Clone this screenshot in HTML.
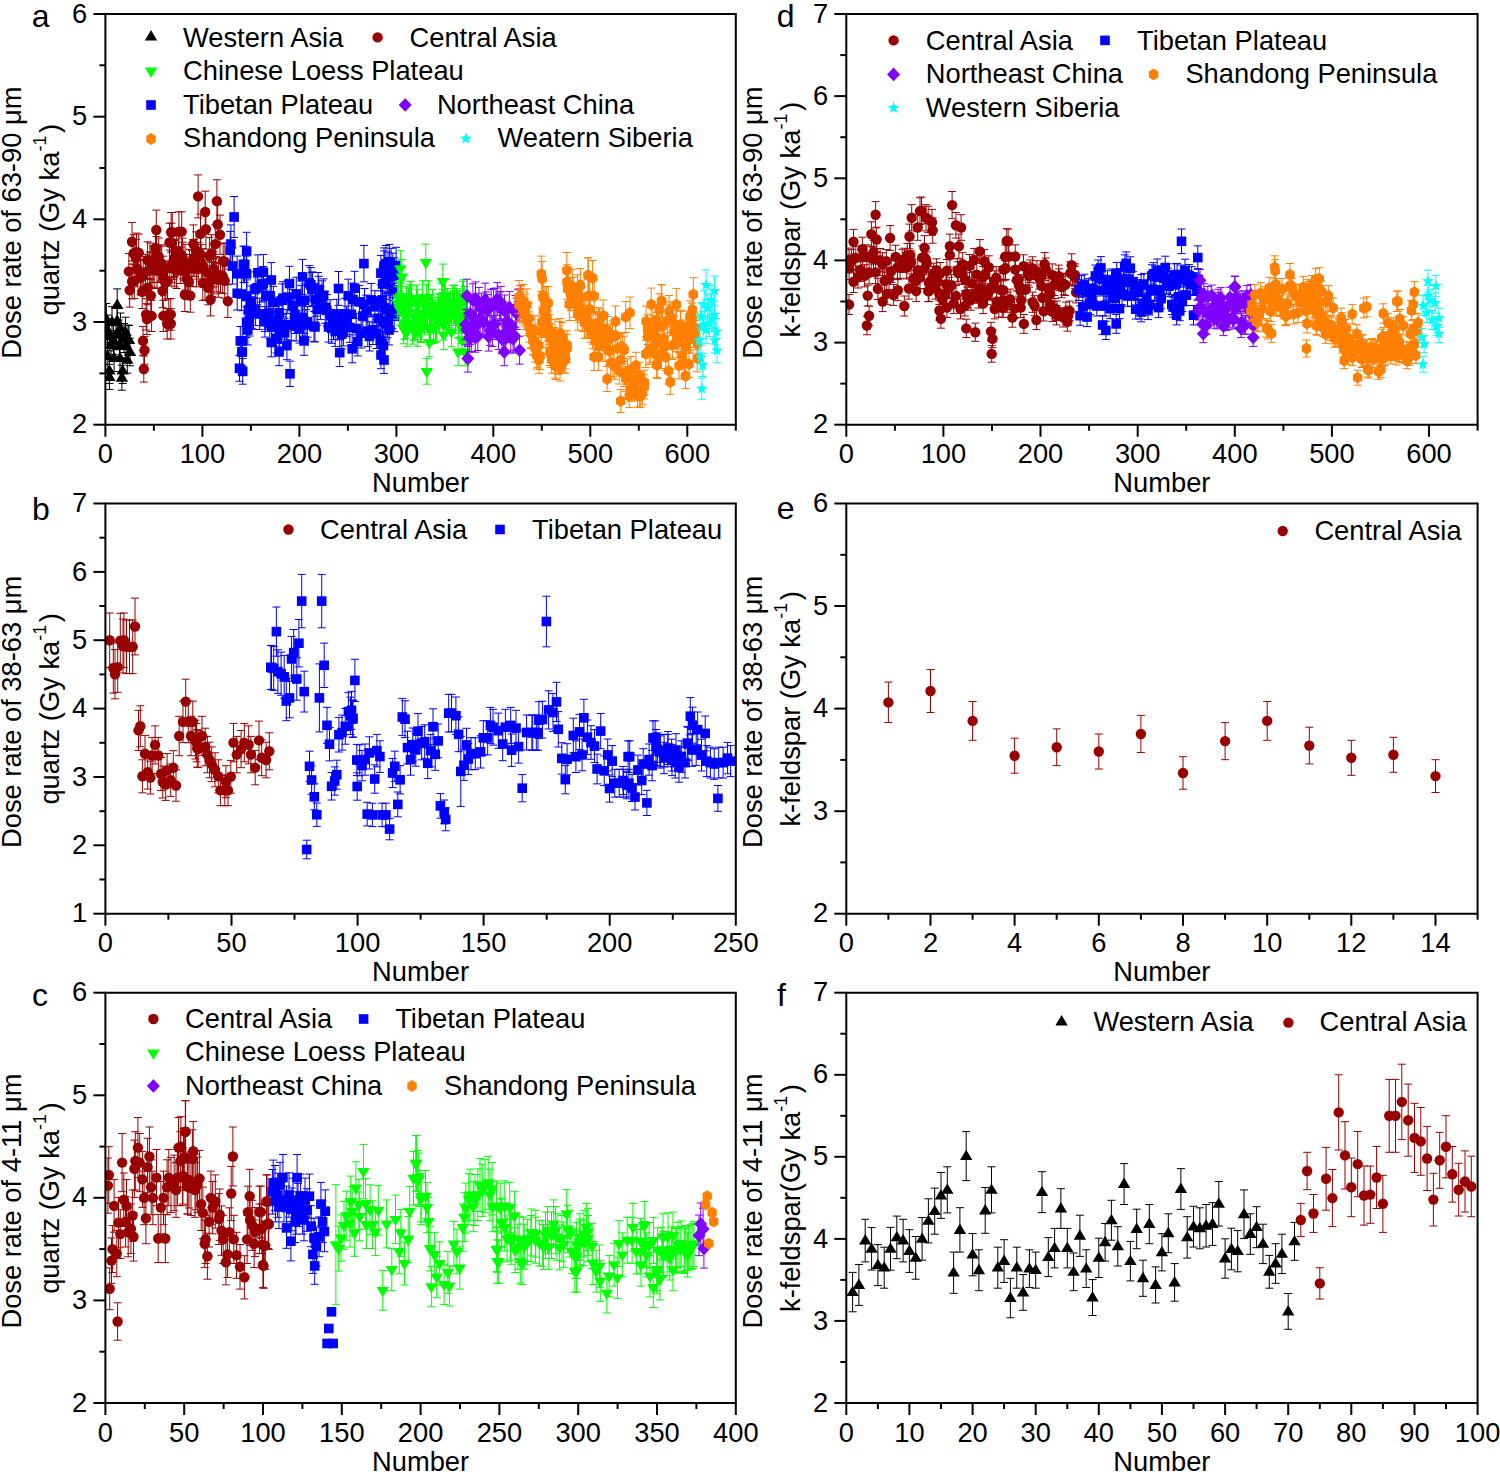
<!DOCTYPE html>
<html><head><meta charset="utf-8"><style>html,body{margin:0;padding:0;background:#fff;}svg{display:block;}</style></head>
<body>
<svg width="1500" height="1472" viewBox="0 0 1500 1472" font-family="Liberation Sans, sans-serif">
<rect width="1500" height="1472" fill="#fff"/>
<defs><clipPath id="ca"><rect x="105.4" y="14.0" width="630.4" height="410.7"/></clipPath><clipPath id="cb"><rect x="105.4" y="503.5" width="630.4" height="410.2"/></clipPath><clipPath id="cc"><rect x="105.4" y="992.7" width="630.4" height="410.3"/></clipPath><clipPath id="cd"><rect x="846.3" y="14.0" width="631.3" height="410.7"/></clipPath><clipPath id="ce"><rect x="846.3" y="503.5" width="631.3" height="410.2"/></clipPath><clipPath id="cf"><rect x="846.3" y="992.7" width="631.3" height="410.3"/></clipPath></defs>
<g clip-path="url(#ca)">
<path d="M117.2 288.9V321.1M113.2 288.9h8.0M113.2 321.1h8.0M106.3 303.5V334.5M102.3 303.5h8.0M102.3 334.5h8.0M117.2 305.2V336.0M113.2 305.2h8.0M113.2 336.0h8.0M109.4 321.7V350.9M105.4 321.7h8.0M105.4 350.9h8.0M118.8 320.0V349.4M114.8 320.0h8.0M114.8 349.4h8.0M128.1 325.0V353.8M124.1 325.0h8.0M124.1 353.8h8.0M114.1 344.6V371.6M110.1 344.6h8.0M110.1 371.6h8.0M127.3 346.3V373.1M123.3 346.3h8.0M123.3 373.1h8.0M109.4 357.7V383.5M105.4 357.7h8.0M105.4 383.5h8.0M122.7 357.7V383.5M118.7 357.7h8.0M118.7 383.5h8.0M109.4 364.3V389.5M105.4 364.3h8.0M105.4 389.5h8.0M121.9 365.2V390.2M117.9 365.2h8.0M117.9 390.2h8.0M107.5 315.1V344.9M103.5 315.1h8.0M103.5 344.9h8.0M112.0 306.7V337.3M108.0 306.7h8.0M108.0 337.3h8.0M113.5 325.6V354.4M109.5 325.6h8.0M109.5 354.4h8.0M116.0 320.3V349.7M112.0 320.3h8.0M112.0 349.7h8.0M120.5 313.0V343.0M116.5 313.0h8.0M116.5 343.0h8.0M124.0 323.5V352.5M120.0 323.5h8.0M120.0 352.5h8.0M125.5 317.2V346.8M121.5 317.2h8.0M121.5 346.8h8.0M111.0 330.8V359.2M107.0 330.8h8.0M107.0 359.2h8.0M119.5 330.8V359.2M115.5 330.8h8.0M115.5 359.2h8.0M126.0 331.9V360.1M122.0 331.9h8.0M122.0 360.1h8.0M107.8 342.4V369.6M103.8 342.4h8.0M103.8 369.6h8.0M120.0 344.5V371.5M116.0 344.5h8.0M116.0 371.5h8.0M130.0 338.2V365.8M126.0 338.2h8.0M126.0 365.8h8.0M129.0 325.6V354.4M125.0 325.6h8.0M125.0 354.4h8.0" stroke="#000000" stroke-width="1.0" fill="none"/>
<path d="M117.2 298.6L123.4 309.0L111.0 309.0Z" fill="#000000"/><path d="M106.3 312.6L112.5 323.0L100.1 323.0Z" fill="#000000"/><path d="M117.2 314.2L123.4 324.6L111.0 324.6Z" fill="#000000"/><path d="M109.4 329.9L115.6 340.3L103.2 340.3Z" fill="#000000"/><path d="M118.8 328.3L125.0 338.7L112.6 338.7Z" fill="#000000"/><path d="M128.1 333.0L134.3 343.4L121.9 343.4Z" fill="#000000"/><path d="M114.1 351.7L120.3 362.1L107.9 362.1Z" fill="#000000"/><path d="M127.3 353.3L133.5 363.7L121.1 363.7Z" fill="#000000"/><path d="M109.4 364.2L115.6 374.6L103.2 374.6Z" fill="#000000"/><path d="M122.7 364.2L128.9 374.6L116.5 374.6Z" fill="#000000"/><path d="M109.4 370.5L115.6 380.9L103.2 380.9Z" fill="#000000"/><path d="M121.9 371.3L128.1 381.7L115.7 381.7Z" fill="#000000"/><path d="M107.5 323.6L113.7 334.0L101.3 334.0Z" fill="#000000"/><path d="M112.0 315.6L118.2 326.0L105.8 326.0Z" fill="#000000"/><path d="M113.5 333.6L119.7 344.0L107.3 344.0Z" fill="#000000"/><path d="M116.0 328.6L122.2 339.0L109.8 339.0Z" fill="#000000"/><path d="M120.5 321.6L126.7 332.0L114.3 332.0Z" fill="#000000"/><path d="M124.0 331.6L130.2 342.0L117.8 342.0Z" fill="#000000"/><path d="M125.5 325.6L131.7 336.0L119.3 336.0Z" fill="#000000"/><path d="M111.0 338.6L117.2 349.0L104.8 349.0Z" fill="#000000"/><path d="M119.5 338.6L125.7 349.0L113.3 349.0Z" fill="#000000"/><path d="M126.0 339.6L132.2 350.0L119.8 350.0Z" fill="#000000"/><path d="M107.8 349.6L114.0 360.0L101.6 360.0Z" fill="#000000"/><path d="M120.0 351.6L126.2 362.0L113.8 362.0Z" fill="#000000"/><path d="M130.0 345.6L136.2 356.0L123.8 356.0Z" fill="#000000"/><path d="M129.0 333.6L135.2 344.0L122.8 344.0Z" fill="#000000"/>
<path d="M128.9 253.6V289.2M124.9 253.6h8.0M124.9 289.2h8.0M129.7 273.3V307.1M125.7 273.3h8.0M125.7 307.1h8.0M132.0 222.4V261.0M128.0 222.4h8.0M128.0 261.0h8.0M132.1 264.2V298.9M128.1 264.2h8.0M128.1 298.9h8.0M133.6 234.7V272.1M129.6 234.7h8.0M129.6 272.1h8.0M134.3 264.0V298.6M130.3 264.0h8.0M130.3 298.6h8.0M135.9 239.6V276.6M131.9 239.6h8.0M131.9 276.6h8.0M136.5 233.1V270.7M132.5 233.1h8.0M132.5 270.7h8.0M137.5 251.1V286.9M133.5 251.1h8.0M133.5 286.9h8.0M138.7 234.1V271.5M134.7 234.1h8.0M134.7 271.5h8.0M140.6 259.4V294.4M136.6 259.4h8.0M136.6 294.4h8.0M140.9 260.1V295.1M136.9 260.1h8.0M136.9 295.1h8.0M142.2 274.9V308.5M138.2 274.9h8.0M138.2 308.5h8.0M143.0 326.5V355.3M139.0 326.5h8.0M139.0 355.3h8.0M143.2 256.6V292.0M139.2 256.6h8.0M139.2 292.0h8.0M143.8 356.1V382.1M139.8 356.1h8.0M139.8 382.1h8.0M144.5 336.4V364.2M140.5 336.4h8.0M140.5 364.2h8.0M145.4 254.3V289.9M141.4 254.3h8.0M141.4 289.9h8.0M146.1 298.7V330.1M142.1 298.7h8.0M142.1 330.1h8.0M146.9 303.7V334.5M142.9 303.7h8.0M142.9 334.5h8.0M147.6 241.8V278.5M143.6 241.8h8.0M143.6 278.5h8.0M147.7 270.8V304.8M143.7 270.8h8.0M143.7 304.8h8.0M149.8 252.1V287.9M145.8 252.1h8.0M145.8 287.9h8.0M150.0 243.0V279.6M146.0 243.0h8.0M146.0 279.6h8.0M150.8 279.0V312.2M146.8 279.0h8.0M146.8 312.2h8.0M151.6 300.3V331.5M147.6 300.3h8.0M147.6 331.5h8.0M152.0 252.1V287.9M148.0 252.1h8.0M148.0 287.9h8.0M153.1 246.2V282.6M149.1 246.2h8.0M149.1 282.6h8.0M154.2 251.3V287.1M150.2 251.3h8.0M150.2 287.1h8.0M155.5 229.0V267.0M151.5 229.0h8.0M151.5 267.0h8.0M156.3 210.1V249.9M152.3 210.1h8.0M152.3 249.9h8.0M156.4 236.6V273.8M152.4 236.6h8.0M152.4 273.8h8.0M157.0 252.7V288.5M153.0 252.7h8.0M153.0 288.5h8.0M158.6 238.1V275.1M154.6 238.1h8.0M154.6 275.1h8.0M158.6 246.0V282.4M154.6 246.0h8.0M154.6 282.4h8.0M160.8 244.8V281.2M156.8 244.8h8.0M156.8 281.2h8.0M161.7 246.2V282.6M157.7 246.2h8.0M157.7 282.6h8.0M162.5 274.1V307.7M158.5 274.1h8.0M158.5 307.7h8.0M163.0 256.2V291.6M159.0 256.2h8.0M159.0 291.6h8.0M163.3 300.3V331.5M159.3 300.3h8.0M159.3 331.5h8.0M164.1 260.9V295.9M160.1 260.9h8.0M160.1 295.9h8.0M165.2 265.6V300.1M161.2 265.6h8.0M161.2 300.1h8.0M167.2 308.6V339.0M163.2 308.6h8.0M163.2 339.0h8.0M167.5 264.0V298.7M163.5 264.0h8.0M163.5 298.7h8.0M168.8 298.7V330.1M164.8 298.7h8.0M164.8 330.1h8.0M169.5 223.2V261.8M165.5 223.2h8.0M165.5 261.8h8.0M169.7 250.0V285.9M165.7 250.0h8.0M165.7 285.9h8.0M170.8 298.7V330.1M166.8 298.7h8.0M166.8 330.1h8.0M170.8 308.6V339.0M166.8 308.6h8.0M166.8 339.0h8.0M171.1 212.5V252.1M167.1 212.5h8.0M167.1 252.1h8.0M171.6 223.2V261.8M167.6 223.2h8.0M167.6 261.8h8.0M171.9 246.5V282.8M167.9 246.5h8.0M167.9 282.8h8.0M172.3 212.5V252.1M168.3 212.5h8.0M168.3 252.1h8.0M173.4 243.0V279.6M169.4 243.0h8.0M169.4 279.6h8.0M174.1 240.4V277.3M170.1 240.4h8.0M170.1 277.3h8.0M174.7 239.6V276.6M170.7 239.6h8.0M170.7 276.6h8.0M174.7 251.1V286.9M170.7 251.1h8.0M170.7 286.9h8.0M176.3 232.4V270.0M172.3 232.4h8.0M172.3 270.0h8.0M176.6 252.7V288.5M172.6 252.7h8.0M172.6 288.5h8.0M178.5 232.1V269.7M174.5 232.1h8.0M174.5 269.7h8.0M178.9 211.8V251.4M174.9 211.8h8.0M174.9 251.4h8.0M180.7 247.2V283.5M176.7 247.2h8.0M176.7 283.5h8.0M181.7 211.8V251.4M177.7 211.8h8.0M177.7 251.4h8.0M182.5 238.1V275.1M178.5 238.1h8.0M178.5 275.1h8.0M182.9 242.2V278.9M178.9 242.2h8.0M178.9 278.9h8.0M184.8 278.1V311.5M180.8 278.1h8.0M180.8 311.5h8.0M185.1 244.3V280.8M181.1 244.3h8.0M181.1 280.8h8.0M185.6 254.4V290.0M181.6 254.4h8.0M181.6 290.0h8.0M187.3 262.0V296.8M183.3 262.0h8.0M183.3 296.8h8.0M188.8 265.0V299.6M184.8 265.0h8.0M184.8 299.6h8.0M189.5 249.3V285.4M185.5 249.3h8.0M185.5 285.4h8.0M190.3 279.0V312.2M186.3 279.0h8.0M186.3 312.2h8.0M191.8 250.5V286.5M187.8 250.5h8.0M187.8 286.5h8.0M193.4 224.9V263.3M189.4 224.9h8.0M189.4 263.3h8.0M193.4 239.6V276.6M189.4 239.6h8.0M189.4 276.6h8.0M194.0 239.3V276.3M190.0 239.3h8.0M190.0 276.3h8.0M196.2 231.9V269.6M192.2 231.9h8.0M192.2 269.6h8.0M196.6 251.1V286.9M192.6 251.1h8.0M192.6 286.9h8.0M198.1 174.9V217.9M194.1 174.9h8.0M194.1 217.9h8.0M198.4 242.4V279.1M194.4 242.4h8.0M194.4 279.1h8.0M200.5 214.2V253.6M196.5 214.2h8.0M196.5 253.6h8.0M200.6 235.9V273.2M196.6 235.9h8.0M196.6 273.2h8.0M201.3 244.6V281.0M197.3 244.6h8.0M197.3 281.0h8.0M202.8 265.9V300.3M198.8 265.9h8.0M198.8 300.3h8.0M202.8 248.8V284.9M198.8 248.8h8.0M198.8 284.9h8.0M205.0 265.7V300.2M201.0 265.7h8.0M201.0 300.2h8.0M205.2 191.2V232.8M201.2 191.2h8.0M201.2 232.8h8.0M205.9 209.3V249.1M201.9 209.3h8.0M201.9 249.1h8.0M207.2 254.5V290.0M203.2 254.5h8.0M203.2 290.0h8.0M208.3 270.8V304.8M204.3 270.8h8.0M204.3 304.8h8.0M209.4 237.4V274.6M205.4 237.4h8.0M205.4 274.6h8.0M210.6 283.1V315.9M206.6 283.1h8.0M206.6 315.9h8.0M211.4 234.7V272.1M207.4 234.7h8.0M207.4 272.1h8.0M211.6 262.1V296.9M207.6 262.1h8.0M207.6 296.9h8.0M212.2 261.8V296.6M208.2 261.8h8.0M208.2 296.6h8.0M213.8 251.1V286.9M209.8 251.1h8.0M209.8 286.9h8.0M213.8 258.7V293.9M209.8 258.7h8.0M209.8 293.9h8.0M215.3 224.9V263.3M211.3 224.9h8.0M211.3 263.3h8.0M216.1 256.6V291.9M212.1 256.6h8.0M212.1 291.9h8.0M216.9 179.8V222.4M212.9 179.8h8.0M212.9 222.4h8.0M217.7 204.4V244.6M213.7 204.4h8.0M213.7 244.6h8.0M218.3 262.5V297.3M214.3 262.5h8.0M214.3 297.3h8.0M220.0 215.1V254.3M216.0 215.1h8.0M216.0 254.3h8.0M220.5 257.5V292.8M216.5 257.5h8.0M216.5 292.8h8.0M222.7 258.5V293.6M218.7 258.5h8.0M218.7 293.6h8.0M223.1 243.0V279.6M219.1 243.0h8.0M219.1 279.6h8.0M224.7 263.5V298.1M220.7 263.5h8.0M220.7 298.1h8.0M224.9 243.4V280.0M220.9 243.4h8.0M220.9 280.0h8.0M227.8 284.8V317.4M223.8 284.8h8.0M223.8 317.4h8.0" stroke="#990000" stroke-width="1.0" fill="none"/>
<circle cx="128.9" cy="271.4" r="5.2" fill="#990000"/><circle cx="129.7" cy="290.2" r="5.2" fill="#990000"/><circle cx="132.0" cy="241.7" r="5.2" fill="#990000"/><circle cx="132.1" cy="281.5" r="5.2" fill="#990000"/><circle cx="133.6" cy="253.4" r="5.2" fill="#990000"/><circle cx="134.3" cy="281.3" r="5.2" fill="#990000"/><circle cx="135.9" cy="258.1" r="5.2" fill="#990000"/><circle cx="136.5" cy="251.9" r="5.2" fill="#990000"/><circle cx="137.5" cy="269.0" r="5.2" fill="#990000"/><circle cx="138.7" cy="252.8" r="5.2" fill="#990000"/><circle cx="140.6" cy="276.9" r="5.2" fill="#990000"/><circle cx="140.9" cy="277.6" r="5.2" fill="#990000"/><circle cx="142.2" cy="291.7" r="5.2" fill="#990000"/><circle cx="143.0" cy="340.9" r="5.2" fill="#990000"/><circle cx="143.2" cy="274.3" r="5.2" fill="#990000"/><circle cx="143.8" cy="369.1" r="5.2" fill="#990000"/><circle cx="144.5" cy="350.3" r="5.2" fill="#990000"/><circle cx="145.4" cy="272.1" r="5.2" fill="#990000"/><circle cx="146.1" cy="314.4" r="5.2" fill="#990000"/><circle cx="146.9" cy="319.1" r="5.2" fill="#990000"/><circle cx="147.6" cy="260.2" r="5.2" fill="#990000"/><circle cx="147.7" cy="287.8" r="5.2" fill="#990000"/><circle cx="149.8" cy="270.0" r="5.2" fill="#990000"/><circle cx="150.0" cy="261.3" r="5.2" fill="#990000"/><circle cx="150.8" cy="295.6" r="5.2" fill="#990000"/><circle cx="151.6" cy="315.9" r="5.2" fill="#990000"/><circle cx="152.0" cy="270.0" r="5.2" fill="#990000"/><circle cx="153.1" cy="264.4" r="5.2" fill="#990000"/><circle cx="154.2" cy="269.2" r="5.2" fill="#990000"/><circle cx="155.5" cy="248.0" r="5.2" fill="#990000"/><circle cx="156.3" cy="230.0" r="5.2" fill="#990000"/><circle cx="156.4" cy="255.2" r="5.2" fill="#990000"/><circle cx="157.0" cy="270.6" r="5.2" fill="#990000"/><circle cx="158.6" cy="256.6" r="5.2" fill="#990000"/><circle cx="158.6" cy="264.2" r="5.2" fill="#990000"/><circle cx="160.8" cy="263.0" r="5.2" fill="#990000"/><circle cx="161.7" cy="264.4" r="5.2" fill="#990000"/><circle cx="162.5" cy="290.9" r="5.2" fill="#990000"/><circle cx="163.0" cy="273.9" r="5.2" fill="#990000"/><circle cx="163.3" cy="315.9" r="5.2" fill="#990000"/><circle cx="164.1" cy="278.4" r="5.2" fill="#990000"/><circle cx="165.2" cy="282.8" r="5.2" fill="#990000"/><circle cx="167.2" cy="323.8" r="5.2" fill="#990000"/><circle cx="167.5" cy="281.3" r="5.2" fill="#990000"/><circle cx="168.8" cy="314.4" r="5.2" fill="#990000"/><circle cx="169.5" cy="242.5" r="5.2" fill="#990000"/><circle cx="169.7" cy="268.0" r="5.2" fill="#990000"/><circle cx="170.8" cy="314.4" r="5.2" fill="#990000"/><circle cx="170.8" cy="323.8" r="5.2" fill="#990000"/><circle cx="171.1" cy="232.3" r="5.2" fill="#990000"/><circle cx="171.6" cy="242.5" r="5.2" fill="#990000"/><circle cx="171.9" cy="264.7" r="5.2" fill="#990000"/><circle cx="172.3" cy="232.3" r="5.2" fill="#990000"/><circle cx="173.4" cy="261.3" r="5.2" fill="#990000"/><circle cx="174.1" cy="258.9" r="5.2" fill="#990000"/><circle cx="174.7" cy="258.1" r="5.2" fill="#990000"/><circle cx="174.7" cy="269.0" r="5.2" fill="#990000"/><circle cx="176.3" cy="251.2" r="5.2" fill="#990000"/><circle cx="176.6" cy="270.6" r="5.2" fill="#990000"/><circle cx="178.5" cy="250.9" r="5.2" fill="#990000"/><circle cx="178.9" cy="231.6" r="5.2" fill="#990000"/><circle cx="180.7" cy="265.3" r="5.2" fill="#990000"/><circle cx="181.7" cy="231.6" r="5.2" fill="#990000"/><circle cx="182.5" cy="256.6" r="5.2" fill="#990000"/><circle cx="182.9" cy="260.5" r="5.2" fill="#990000"/><circle cx="184.8" cy="294.8" r="5.2" fill="#990000"/><circle cx="185.1" cy="262.5" r="5.2" fill="#990000"/><circle cx="185.6" cy="272.2" r="5.2" fill="#990000"/><circle cx="187.3" cy="279.4" r="5.2" fill="#990000"/><circle cx="188.8" cy="282.3" r="5.2" fill="#990000"/><circle cx="189.5" cy="267.3" r="5.2" fill="#990000"/><circle cx="190.3" cy="295.6" r="5.2" fill="#990000"/><circle cx="191.8" cy="268.5" r="5.2" fill="#990000"/><circle cx="193.4" cy="244.1" r="5.2" fill="#990000"/><circle cx="193.4" cy="258.1" r="5.2" fill="#990000"/><circle cx="194.0" cy="257.8" r="5.2" fill="#990000"/><circle cx="196.2" cy="250.8" r="5.2" fill="#990000"/><circle cx="196.6" cy="269.0" r="5.2" fill="#990000"/><circle cx="198.1" cy="196.4" r="5.2" fill="#990000"/><circle cx="198.4" cy="260.7" r="5.2" fill="#990000"/><circle cx="200.5" cy="233.9" r="5.2" fill="#990000"/><circle cx="200.6" cy="254.5" r="5.2" fill="#990000"/><circle cx="201.3" cy="262.8" r="5.2" fill="#990000"/><circle cx="202.8" cy="283.1" r="5.2" fill="#990000"/><circle cx="202.8" cy="266.8" r="5.2" fill="#990000"/><circle cx="205.0" cy="283.0" r="5.2" fill="#990000"/><circle cx="205.2" cy="212.0" r="5.2" fill="#990000"/><circle cx="205.9" cy="229.2" r="5.2" fill="#990000"/><circle cx="207.2" cy="272.3" r="5.2" fill="#990000"/><circle cx="208.3" cy="287.8" r="5.2" fill="#990000"/><circle cx="209.4" cy="256.0" r="5.2" fill="#990000"/><circle cx="210.6" cy="299.5" r="5.2" fill="#990000"/><circle cx="211.4" cy="253.4" r="5.2" fill="#990000"/><circle cx="211.6" cy="279.5" r="5.2" fill="#990000"/><circle cx="212.2" cy="279.2" r="5.2" fill="#990000"/><circle cx="213.8" cy="269.0" r="5.2" fill="#990000"/><circle cx="213.8" cy="276.3" r="5.2" fill="#990000"/><circle cx="215.3" cy="244.1" r="5.2" fill="#990000"/><circle cx="216.1" cy="274.2" r="5.2" fill="#990000"/><circle cx="216.9" cy="201.1" r="5.2" fill="#990000"/><circle cx="217.7" cy="224.5" r="5.2" fill="#990000"/><circle cx="218.3" cy="279.9" r="5.2" fill="#990000"/><circle cx="220.0" cy="234.7" r="5.2" fill="#990000"/><circle cx="220.5" cy="275.2" r="5.2" fill="#990000"/><circle cx="222.7" cy="276.1" r="5.2" fill="#990000"/><circle cx="223.1" cy="261.3" r="5.2" fill="#990000"/><circle cx="224.7" cy="280.8" r="5.2" fill="#990000"/><circle cx="224.9" cy="261.7" r="5.2" fill="#990000"/><circle cx="227.8" cy="301.1" r="5.2" fill="#990000"/>
<path d="M230.2 231.4V269.2M226.2 231.4h8.0M226.2 269.2h8.0M230.9 224.9V263.3M226.9 224.9h8.0M226.9 263.3h8.0M232.5 247.9V284.1M228.5 247.9h8.0M228.5 284.1h8.0M234.1 196.5V237.5M230.1 196.5h8.0M230.1 237.5h8.0M237.2 256.1V291.5M233.2 256.1h8.0M233.2 291.5h8.0M237.2 276.6V310.0M233.2 276.6h8.0M233.2 310.0h8.0M239.5 355.3V381.3M235.5 355.3h8.0M235.5 381.3h8.0M240.3 326.5V355.3M236.3 326.5h8.0M236.3 355.3h8.0M241.6 277.3V310.7M237.6 277.3h8.0M237.6 310.7h8.0M241.9 338.1V365.7M237.9 338.1h8.0M237.9 365.7h8.0M242.3 326.6V355.4M238.3 326.6h8.0M238.3 355.4h8.0M242.3 338.2V365.8M238.3 338.2h8.0M238.3 365.8h8.0M242.7 358.6V384.2M238.7 358.6h8.0M238.7 384.2h8.0M243.4 246.2V282.6M239.4 246.2h8.0M239.4 282.6h8.0M244.7 246.2V282.6M240.7 246.2h8.0M240.7 282.6h8.0M246.6 232.3V269.9M242.6 232.3h8.0M242.6 269.9h8.0M246.6 256.1V291.5M242.6 256.1h8.0M242.6 291.5h8.0M246.6 306.9V337.5M242.6 306.9h8.0M242.6 337.5h8.0M246.8 279.9V313.0M242.8 279.9h8.0M242.8 313.0h8.0M247.8 315.1V344.9M243.8 315.1h8.0M243.8 344.9h8.0M248.5 294.0V325.8M244.5 294.0h8.0M244.5 325.8h8.0M249.4 305.2V336.0M245.4 305.2h8.0M245.4 336.0h8.0M250.2 286.0V318.6M246.2 286.0h8.0M246.2 318.6h8.0M251.8 296.8V328.3M247.8 296.8h8.0M247.8 328.3h8.0M253.5 297.8V329.3M249.5 297.8h8.0M249.5 329.3h8.0M255.2 271.9V305.8M251.2 271.9h8.0M251.2 305.8h8.0M255.6 293.8V325.6M251.6 293.8h8.0M251.6 325.6h8.0M257.2 270.8V304.8M253.2 270.8h8.0M253.2 304.8h8.0M257.9 254.9V290.4M253.9 254.9h8.0M253.9 290.4h8.0M259.6 298.2V329.6M255.6 298.2h8.0M255.6 329.6h8.0M261.4 267.8V302.1M257.4 267.8h8.0M257.4 302.1h8.0M263.1 266.5V300.9M259.1 266.5h8.0M259.1 300.9h8.0M263.4 254.4V290.0M259.4 254.4h8.0M259.4 290.0h8.0M264.9 306.5V337.1M260.9 306.5h8.0M260.9 337.1h8.0M265.0 300.4V331.6M261.0 300.4h8.0M261.0 331.6h8.0M266.6 278.9V312.1M262.6 278.9h8.0M262.6 312.1h8.0M268.4 298.1V329.5M264.4 298.1h8.0M264.4 329.5h8.0M269.7 308.6V339.0M265.7 308.6h8.0M265.7 339.0h8.0M270.1 279.2V312.4M266.1 279.2h8.0M266.1 312.4h8.0M271.3 262.6V297.4M267.3 262.6h8.0M267.3 297.4h8.0M271.3 328.2V356.8M267.3 328.2h8.0M267.3 356.8h8.0M271.8 311.9V342.0M267.8 311.9h8.0M267.8 342.0h8.0M273.4 286.3V318.8M269.4 286.3h8.0M269.4 318.8h8.0M275.0 311.7V341.8M271.0 311.7h8.0M271.0 341.8h8.0M276.6 323.9V352.9M272.6 323.9h8.0M272.6 352.9h8.0M278.2 305.8V336.5M274.2 305.8h8.0M274.2 336.5h8.0M279.1 297.0V328.6M275.1 297.0h8.0M275.1 328.6h8.0M279.1 338.1V365.7M275.1 338.1h8.0M275.1 365.7h8.0M279.8 317.3V346.9M275.8 317.3h8.0M275.8 346.9h8.0M281.4 313.6V343.5M277.4 313.6h8.0M277.4 343.5h8.0M282.2 283.9V316.7M278.2 283.9h8.0M278.2 316.7h8.0M283.0 281.7V314.7M279.0 281.7h8.0M279.0 314.7h8.0M284.6 318.2V347.7M280.6 318.2h8.0M280.6 347.7h8.0M286.2 309.4V339.7M282.2 309.4h8.0M282.2 339.7h8.0M286.9 331.5V359.7M282.9 331.5h8.0M282.9 359.7h8.0M287.8 280.5V313.6M283.8 280.5h8.0M283.8 313.6h8.0M289.5 266.3V300.8M285.5 266.3h8.0M285.5 300.8h8.0M290.0 361.1V386.5M286.0 361.1h8.0M286.0 386.5h8.0M291.2 310.1V340.4M287.2 310.1h8.0M287.2 340.4h8.0M292.8 289.5V321.8M288.8 289.5h8.0M288.8 321.8h8.0M294.5 302.4V333.4M290.5 302.4h8.0M290.5 333.4h8.0M294.7 298.7V330.1M290.7 298.7h8.0M290.7 330.1h8.0M296.2 310.8V341.0M292.2 310.8h8.0M292.2 341.0h8.0M296.3 277.3V310.7M292.3 277.3h8.0M292.3 310.7h8.0M297.8 302.2V333.2M293.8 302.2h8.0M293.8 333.2h8.0M299.5 313.1V343.1M295.5 313.1h8.0M295.5 343.1h8.0M301.2 285.4V318.1M297.2 285.4h8.0M297.2 318.1h8.0M302.5 259.4V294.4M298.5 259.4h8.0M298.5 294.4h8.0M302.5 305.2V336.0M298.5 305.2h8.0M298.5 336.0h8.0M302.8 302.5V333.5M298.8 302.5h8.0M298.8 333.5h8.0M304.1 326.5V355.3M300.1 326.5h8.0M300.1 355.3h8.0M304.4 283.8V316.6M300.4 283.8h8.0M300.4 316.6h8.0M306.0 309.6V339.9M302.0 309.6h8.0M302.0 339.9h8.0M307.6 306.6V337.2M303.6 306.6h8.0M303.6 337.2h8.0M309.2 265.6V300.1M305.2 265.6h8.0M305.2 300.1h8.0M310.8 267.6V301.9M306.8 267.6h8.0M306.8 301.9h8.0M311.9 272.5V306.3M307.9 272.5h8.0M307.9 306.3h8.0M312.4 271.9V305.8M308.4 271.9h8.0M308.4 305.8h8.0M314.0 311.2V341.4M310.0 311.2h8.0M310.0 341.4h8.0M315.0 311.8V342.0M311.0 311.8h8.0M311.0 342.0h8.0M315.6 283.4V316.2M311.6 283.4h8.0M311.6 316.2h8.0M317.2 293.4V325.3M313.2 293.4h8.0M313.2 325.3h8.0M318.1 272.5V306.3M314.1 272.5h8.0M314.1 306.3h8.0M318.8 276.3V309.8M314.8 276.3h8.0M314.8 309.8h8.0M320.4 287.1V319.6M316.4 287.1h8.0M316.4 319.6h8.0M322.0 280.8V313.8M318.0 280.8h8.0M318.0 313.8h8.0M323.6 278.9V312.2M319.6 278.9h8.0M319.6 312.2h8.0M325.2 291.2V323.3M321.2 291.2h8.0M321.2 323.3h8.0M326.8 294.5V326.3M322.8 294.5h8.0M322.8 326.3h8.0M328.5 312.0V342.1M324.5 312.0h8.0M324.5 342.1h8.0M330.2 299.8V331.1M326.2 299.8h8.0M326.2 331.1h8.0M331.8 313.3V343.3M327.8 313.3h8.0M327.8 343.3h8.0M333.5 309.4V339.7M329.5 309.4h8.0M329.5 339.7h8.0M335.2 316.7V346.4M331.2 316.7h8.0M331.2 346.4h8.0M336.8 299.3V330.6M332.8 299.3h8.0M332.8 330.6h8.0M338.5 271.5V305.4M334.5 271.5h8.0M334.5 305.4h8.0M339.7 338.9V366.5M335.7 338.9h8.0M335.7 366.5h8.0M340.2 309.6V339.9M336.2 309.6h8.0M336.2 339.9h8.0M341.8 319.5V348.9M337.8 319.5h8.0M337.8 348.9h8.0M343.4 316.3V346.0M339.4 316.3h8.0M339.4 346.0h8.0M345.0 298.3V329.7M341.0 298.3h8.0M341.0 329.7h8.0M346.6 306.1V336.7M342.6 306.1h8.0M342.6 336.7h8.0M348.2 279.2V312.4M344.2 279.2h8.0M344.2 312.4h8.0M349.8 312.4V342.4M345.8 312.4h8.0M345.8 342.4h8.0M351.4 298.6V329.9M347.4 298.6h8.0M347.4 329.9h8.0M352.2 334.8V362.8M348.2 334.8h8.0M348.2 362.8h8.0M353.0 283.1V316.0M349.0 283.1h8.0M349.0 316.0h8.0M354.6 271.3V305.2M350.6 271.3h8.0M350.6 305.2h8.0M356.2 313.6V343.5M352.2 313.6h8.0M352.2 343.5h8.0M357.8 327.2V355.9M353.8 327.2h8.0M353.8 355.9h8.0M359.5 285.6V318.2M355.5 285.6h8.0M355.5 318.2h8.0M361.2 318.5V348.0M357.2 318.5h8.0M357.2 348.0h8.0M362.8 300.5V331.7M358.8 300.5h8.0M358.8 331.7h8.0M363.9 245.4V281.8M359.9 245.4h8.0M359.9 281.8h8.0M364.5 288.5V320.8M360.5 288.5h8.0M360.5 320.8h8.0M366.2 295.1V326.8M362.2 295.1h8.0M362.2 326.8h8.0M367.8 317.0V346.6M363.8 317.0h8.0M363.8 346.6h8.0M369.5 321.8V351.0M365.5 321.8h8.0M365.5 351.0h8.0M371.2 283.5V316.3M367.2 283.5h8.0M367.2 316.3h8.0M372.9 314.7V344.5M368.9 314.7h8.0M368.9 344.5h8.0M374.8 290.7V322.9M370.8 290.7h8.0M370.8 322.9h8.0M376.6 319.0V348.5M372.6 319.0h8.0M372.6 348.5h8.0M378.4 302.8V333.7M374.4 302.8h8.0M374.4 333.7h8.0M380.2 325.8V354.6M376.2 325.8h8.0M376.2 354.6h8.0M380.8 284.7V317.4M376.8 284.7h8.0M376.8 317.4h8.0M380.9 255.4V290.8M376.9 255.4h8.0M376.9 290.8h8.0M381.0 341.3V368.7M377.0 341.3h8.0M377.0 368.7h8.0M382.0 283.6V316.4M378.0 283.6h8.0M378.0 316.4h8.0M382.1 330.0V358.4M378.1 330.0h8.0M378.1 358.4h8.0M382.5 306.4V337.0M378.5 306.4h8.0M378.5 337.0h8.0M382.6 266.8V301.2M378.6 266.8h8.0M378.6 301.2h8.0M383.4 331.5V359.7M379.4 331.5h8.0M379.4 359.7h8.0M384.0 247.9V284.1M380.0 247.9h8.0M380.0 284.1h8.0M384.0 346.6V373.4M380.0 346.6h8.0M380.0 373.4h8.0M384.2 291.8V323.9M380.2 291.8h8.0M380.2 323.9h8.0M384.2 250.9V286.8M380.2 250.9h8.0M380.2 286.8h8.0M385.8 308.8V339.2M381.8 308.8h8.0M381.8 339.2h8.0M385.9 245.5V281.9M381.9 245.5h8.0M381.9 281.9h8.0M386.0 264.7V299.3M382.0 264.7h8.0M382.0 299.3h8.0M386.6 293.8V325.6M382.6 293.8h8.0M382.6 325.6h8.0M387.5 307.1V337.7M383.5 307.1h8.0M383.5 337.7h8.0M387.6 257.6V292.8M383.6 257.6h8.0M383.6 292.8h8.0M388.0 252.1V287.9M384.0 252.1h8.0M384.0 287.9h8.0M389.0 315.1V344.9M385.0 315.1h8.0M385.0 344.9h8.0M389.2 293.5V325.4M385.2 293.5h8.0M385.2 325.4h8.0M389.4 244.4V280.9M385.4 244.4h8.0M385.4 280.9h8.0M390.8 295.7V327.3M386.8 295.7h8.0M386.8 327.3h8.0M391.0 258.4V293.6M387.0 258.4h8.0M387.0 293.6h8.0M391.1 248.3V284.4M387.1 248.3h8.0M387.1 284.4h8.0M392.5 297.3V328.8M388.5 297.3h8.0M388.5 328.8h8.0M392.8 253.1V288.8M388.8 253.1h8.0M388.8 288.8h8.0M393.0 273.1V306.9M389.0 273.1h8.0M389.0 306.9h8.0M394.2 300.5V331.7M390.2 300.5h8.0M390.2 331.7h8.0M394.4 257.8V293.0M390.4 257.8h8.0M390.4 293.0h8.0M396.1 247.3V283.5M392.1 247.3h8.0M392.1 283.5h8.0" stroke="#0000FF" stroke-width="1.0" fill="none"/>
<rect x="225.4" y="245.5" width="9.6" height="9.6" fill="#0000FF"/><rect x="226.1" y="239.3" width="9.6" height="9.6" fill="#0000FF"/><rect x="227.7" y="261.2" width="9.6" height="9.6" fill="#0000FF"/><rect x="229.3" y="212.2" width="9.6" height="9.6" fill="#0000FF"/><rect x="232.4" y="269.0" width="9.6" height="9.6" fill="#0000FF"/><rect x="232.4" y="288.5" width="9.6" height="9.6" fill="#0000FF"/><rect x="234.7" y="363.5" width="9.6" height="9.6" fill="#0000FF"/><rect x="235.5" y="336.1" width="9.6" height="9.6" fill="#0000FF"/><rect x="236.8" y="289.2" width="9.6" height="9.6" fill="#0000FF"/><rect x="237.1" y="347.1" width="9.6" height="9.6" fill="#0000FF"/><rect x="237.5" y="336.2" width="9.6" height="9.6" fill="#0000FF"/><rect x="237.5" y="347.2" width="9.6" height="9.6" fill="#0000FF"/><rect x="237.9" y="366.6" width="9.6" height="9.6" fill="#0000FF"/><rect x="238.6" y="259.6" width="9.6" height="9.6" fill="#0000FF"/><rect x="239.9" y="259.6" width="9.6" height="9.6" fill="#0000FF"/><rect x="241.8" y="246.3" width="9.6" height="9.6" fill="#0000FF"/><rect x="241.8" y="269.0" width="9.6" height="9.6" fill="#0000FF"/><rect x="241.8" y="317.4" width="9.6" height="9.6" fill="#0000FF"/><rect x="242.0" y="291.7" width="9.6" height="9.6" fill="#0000FF"/><rect x="243.0" y="325.2" width="9.6" height="9.6" fill="#0000FF"/><rect x="243.7" y="305.1" width="9.6" height="9.6" fill="#0000FF"/><rect x="244.6" y="315.8" width="9.6" height="9.6" fill="#0000FF"/><rect x="245.4" y="297.5" width="9.6" height="9.6" fill="#0000FF"/><rect x="247.0" y="307.8" width="9.6" height="9.6" fill="#0000FF"/><rect x="248.7" y="308.7" width="9.6" height="9.6" fill="#0000FF"/><rect x="250.4" y="284.1" width="9.6" height="9.6" fill="#0000FF"/><rect x="250.8" y="304.9" width="9.6" height="9.6" fill="#0000FF"/><rect x="252.4" y="283.0" width="9.6" height="9.6" fill="#0000FF"/><rect x="253.1" y="267.9" width="9.6" height="9.6" fill="#0000FF"/><rect x="254.8" y="309.1" width="9.6" height="9.6" fill="#0000FF"/><rect x="256.6" y="280.2" width="9.6" height="9.6" fill="#0000FF"/><rect x="258.3" y="278.9" width="9.6" height="9.6" fill="#0000FF"/><rect x="258.6" y="267.4" width="9.6" height="9.6" fill="#0000FF"/><rect x="260.1" y="317.0" width="9.6" height="9.6" fill="#0000FF"/><rect x="260.2" y="311.2" width="9.6" height="9.6" fill="#0000FF"/><rect x="261.8" y="290.7" width="9.6" height="9.6" fill="#0000FF"/><rect x="263.6" y="309.0" width="9.6" height="9.6" fill="#0000FF"/><rect x="264.9" y="319.0" width="9.6" height="9.6" fill="#0000FF"/><rect x="265.3" y="291.0" width="9.6" height="9.6" fill="#0000FF"/><rect x="266.5" y="275.2" width="9.6" height="9.6" fill="#0000FF"/><rect x="266.5" y="337.7" width="9.6" height="9.6" fill="#0000FF"/><rect x="267.0" y="322.2" width="9.6" height="9.6" fill="#0000FF"/><rect x="268.6" y="297.7" width="9.6" height="9.6" fill="#0000FF"/><rect x="270.2" y="321.9" width="9.6" height="9.6" fill="#0000FF"/><rect x="271.8" y="333.6" width="9.6" height="9.6" fill="#0000FF"/><rect x="273.4" y="316.4" width="9.6" height="9.6" fill="#0000FF"/><rect x="274.3" y="308.0" width="9.6" height="9.6" fill="#0000FF"/><rect x="274.3" y="347.1" width="9.6" height="9.6" fill="#0000FF"/><rect x="275.0" y="327.3" width="9.6" height="9.6" fill="#0000FF"/><rect x="276.6" y="323.8" width="9.6" height="9.6" fill="#0000FF"/><rect x="277.4" y="295.5" width="9.6" height="9.6" fill="#0000FF"/><rect x="278.2" y="293.4" width="9.6" height="9.6" fill="#0000FF"/><rect x="279.8" y="328.1" width="9.6" height="9.6" fill="#0000FF"/><rect x="281.4" y="319.8" width="9.6" height="9.6" fill="#0000FF"/><rect x="282.1" y="340.8" width="9.6" height="9.6" fill="#0000FF"/><rect x="283.0" y="292.3" width="9.6" height="9.6" fill="#0000FF"/><rect x="284.7" y="278.8" width="9.6" height="9.6" fill="#0000FF"/><rect x="285.2" y="369.0" width="9.6" height="9.6" fill="#0000FF"/><rect x="286.4" y="320.5" width="9.6" height="9.6" fill="#0000FF"/><rect x="288.0" y="300.8" width="9.6" height="9.6" fill="#0000FF"/><rect x="289.7" y="313.1" width="9.6" height="9.6" fill="#0000FF"/><rect x="289.9" y="309.6" width="9.6" height="9.6" fill="#0000FF"/><rect x="291.4" y="321.1" width="9.6" height="9.6" fill="#0000FF"/><rect x="291.5" y="289.2" width="9.6" height="9.6" fill="#0000FF"/><rect x="293.0" y="312.9" width="9.6" height="9.6" fill="#0000FF"/><rect x="294.7" y="323.3" width="9.6" height="9.6" fill="#0000FF"/><rect x="296.4" y="296.9" width="9.6" height="9.6" fill="#0000FF"/><rect x="297.7" y="272.1" width="9.6" height="9.6" fill="#0000FF"/><rect x="297.7" y="315.8" width="9.6" height="9.6" fill="#0000FF"/><rect x="298.0" y="313.2" width="9.6" height="9.6" fill="#0000FF"/><rect x="299.3" y="336.1" width="9.6" height="9.6" fill="#0000FF"/><rect x="299.6" y="295.4" width="9.6" height="9.6" fill="#0000FF"/><rect x="301.2" y="320.0" width="9.6" height="9.6" fill="#0000FF"/><rect x="302.8" y="317.1" width="9.6" height="9.6" fill="#0000FF"/><rect x="304.4" y="278.1" width="9.6" height="9.6" fill="#0000FF"/><rect x="306.0" y="280.0" width="9.6" height="9.6" fill="#0000FF"/><rect x="307.1" y="284.6" width="9.6" height="9.6" fill="#0000FF"/><rect x="307.6" y="284.0" width="9.6" height="9.6" fill="#0000FF"/><rect x="309.2" y="321.5" width="9.6" height="9.6" fill="#0000FF"/><rect x="310.2" y="322.1" width="9.6" height="9.6" fill="#0000FF"/><rect x="310.8" y="295.0" width="9.6" height="9.6" fill="#0000FF"/><rect x="312.4" y="304.5" width="9.6" height="9.6" fill="#0000FF"/><rect x="313.3" y="284.6" width="9.6" height="9.6" fill="#0000FF"/><rect x="314.0" y="288.3" width="9.6" height="9.6" fill="#0000FF"/><rect x="315.6" y="298.6" width="9.6" height="9.6" fill="#0000FF"/><rect x="317.2" y="292.5" width="9.6" height="9.6" fill="#0000FF"/><rect x="318.8" y="290.7" width="9.6" height="9.6" fill="#0000FF"/><rect x="320.4" y="302.5" width="9.6" height="9.6" fill="#0000FF"/><rect x="322.0" y="305.6" width="9.6" height="9.6" fill="#0000FF"/><rect x="323.7" y="322.2" width="9.6" height="9.6" fill="#0000FF"/><rect x="325.4" y="310.7" width="9.6" height="9.6" fill="#0000FF"/><rect x="327.0" y="323.5" width="9.6" height="9.6" fill="#0000FF"/><rect x="328.7" y="319.7" width="9.6" height="9.6" fill="#0000FF"/><rect x="330.4" y="326.7" width="9.6" height="9.6" fill="#0000FF"/><rect x="332.0" y="310.1" width="9.6" height="9.6" fill="#0000FF"/><rect x="333.7" y="283.7" width="9.6" height="9.6" fill="#0000FF"/><rect x="334.9" y="347.9" width="9.6" height="9.6" fill="#0000FF"/><rect x="335.4" y="320.0" width="9.6" height="9.6" fill="#0000FF"/><rect x="337.0" y="329.4" width="9.6" height="9.6" fill="#0000FF"/><rect x="338.6" y="326.3" width="9.6" height="9.6" fill="#0000FF"/><rect x="340.2" y="309.2" width="9.6" height="9.6" fill="#0000FF"/><rect x="341.8" y="316.6" width="9.6" height="9.6" fill="#0000FF"/><rect x="343.4" y="291.0" width="9.6" height="9.6" fill="#0000FF"/><rect x="345.0" y="322.6" width="9.6" height="9.6" fill="#0000FF"/><rect x="346.6" y="309.5" width="9.6" height="9.6" fill="#0000FF"/><rect x="347.4" y="344.0" width="9.6" height="9.6" fill="#0000FF"/><rect x="348.2" y="294.7" width="9.6" height="9.6" fill="#0000FF"/><rect x="349.8" y="283.4" width="9.6" height="9.6" fill="#0000FF"/><rect x="351.4" y="323.8" width="9.6" height="9.6" fill="#0000FF"/><rect x="353.0" y="336.8" width="9.6" height="9.6" fill="#0000FF"/><rect x="354.7" y="297.1" width="9.6" height="9.6" fill="#0000FF"/><rect x="356.4" y="328.4" width="9.6" height="9.6" fill="#0000FF"/><rect x="358.0" y="311.3" width="9.6" height="9.6" fill="#0000FF"/><rect x="359.1" y="258.8" width="9.6" height="9.6" fill="#0000FF"/><rect x="359.7" y="299.8" width="9.6" height="9.6" fill="#0000FF"/><rect x="361.4" y="306.1" width="9.6" height="9.6" fill="#0000FF"/><rect x="363.0" y="327.0" width="9.6" height="9.6" fill="#0000FF"/><rect x="364.7" y="331.6" width="9.6" height="9.6" fill="#0000FF"/><rect x="366.4" y="295.1" width="9.6" height="9.6" fill="#0000FF"/><rect x="368.1" y="324.8" width="9.6" height="9.6" fill="#0000FF"/><rect x="369.9" y="302.0" width="9.6" height="9.6" fill="#0000FF"/><rect x="371.8" y="328.9" width="9.6" height="9.6" fill="#0000FF"/><rect x="373.6" y="313.4" width="9.6" height="9.6" fill="#0000FF"/><rect x="375.4" y="335.4" width="9.6" height="9.6" fill="#0000FF"/><rect x="376.0" y="296.3" width="9.6" height="9.6" fill="#0000FF"/><rect x="376.1" y="268.3" width="9.6" height="9.6" fill="#0000FF"/><rect x="376.2" y="350.2" width="9.6" height="9.6" fill="#0000FF"/><rect x="377.2" y="295.2" width="9.6" height="9.6" fill="#0000FF"/><rect x="377.3" y="339.4" width="9.6" height="9.6" fill="#0000FF"/><rect x="377.7" y="316.9" width="9.6" height="9.6" fill="#0000FF"/><rect x="377.8" y="279.2" width="9.6" height="9.6" fill="#0000FF"/><rect x="378.6" y="340.8" width="9.6" height="9.6" fill="#0000FF"/><rect x="379.2" y="261.2" width="9.6" height="9.6" fill="#0000FF"/><rect x="379.2" y="355.2" width="9.6" height="9.6" fill="#0000FF"/><rect x="379.4" y="303.0" width="9.6" height="9.6" fill="#0000FF"/><rect x="379.4" y="264.0" width="9.6" height="9.6" fill="#0000FF"/><rect x="381.0" y="319.2" width="9.6" height="9.6" fill="#0000FF"/><rect x="381.1" y="258.9" width="9.6" height="9.6" fill="#0000FF"/><rect x="381.2" y="277.2" width="9.6" height="9.6" fill="#0000FF"/><rect x="381.8" y="304.9" width="9.6" height="9.6" fill="#0000FF"/><rect x="382.7" y="317.6" width="9.6" height="9.6" fill="#0000FF"/><rect x="382.8" y="270.4" width="9.6" height="9.6" fill="#0000FF"/><rect x="383.2" y="265.2" width="9.6" height="9.6" fill="#0000FF"/><rect x="384.2" y="325.2" width="9.6" height="9.6" fill="#0000FF"/><rect x="384.4" y="304.6" width="9.6" height="9.6" fill="#0000FF"/><rect x="384.6" y="257.9" width="9.6" height="9.6" fill="#0000FF"/><rect x="386.0" y="306.7" width="9.6" height="9.6" fill="#0000FF"/><rect x="386.2" y="271.2" width="9.6" height="9.6" fill="#0000FF"/><rect x="386.2" y="261.5" width="9.6" height="9.6" fill="#0000FF"/><rect x="387.7" y="308.2" width="9.6" height="9.6" fill="#0000FF"/><rect x="387.9" y="266.2" width="9.6" height="9.6" fill="#0000FF"/><rect x="388.2" y="285.2" width="9.6" height="9.6" fill="#0000FF"/><rect x="389.4" y="311.3" width="9.6" height="9.6" fill="#0000FF"/><rect x="389.6" y="270.6" width="9.6" height="9.6" fill="#0000FF"/><rect x="391.3" y="260.6" width="9.6" height="9.6" fill="#0000FF"/>
<path d="M397.5 286.7V319.2M393.5 286.7h8.0M393.5 319.2h8.0M398.5 281.4V314.4M394.5 281.4h8.0M394.5 314.4h8.0M399.5 293.1V325.0M395.5 293.1h8.0M395.5 325.0h8.0M400.4 250.8V286.6M396.4 250.8h8.0M396.4 286.6h8.0M400.5 283.5V316.3M396.5 283.5h8.0M396.5 316.3h8.0M401.5 280.0V313.1M397.5 280.0h8.0M397.5 313.1h8.0M402.0 259.5V294.5M398.0 259.5h8.0M398.0 294.5h8.0M402.5 293.3V325.2M398.5 293.3h8.0M398.5 325.2h8.0M403.5 313.9V343.8M399.5 313.9h8.0M399.5 343.8h8.0M404.5 309.2V339.6M400.5 309.2h8.0M400.5 339.6h8.0M405.5 307.8V338.3M401.5 307.8h8.0M401.5 338.3h8.0M406.5 286.2V318.7M402.5 286.2h8.0M402.5 318.7h8.0M407.2 316.7V346.3M403.2 316.7h8.0M403.2 346.3h8.0M407.5 298.7V330.1M403.5 298.7h8.0M403.5 330.1h8.0M408.5 288.3V320.7M404.5 288.3h8.0M404.5 320.7h8.0M409.5 284.2V316.9M405.5 284.2h8.0M405.5 316.9h8.0M410.5 281.5V314.5M406.5 281.5h8.0M406.5 314.5h8.0M411.5 285.9V318.4M407.5 285.9h8.0M407.5 318.4h8.0M412.5 314.3V344.2M408.5 314.3h8.0M408.5 344.2h8.0M413.5 310.4V340.6M409.5 310.4h8.0M409.5 340.6h8.0M414.5 309.5V339.8M410.5 309.5h8.0M410.5 339.8h8.0M415.5 309.2V339.6M411.5 309.2h8.0M411.5 339.6h8.0M416.5 285.0V317.7M412.5 285.0h8.0M412.5 317.7h8.0M417.4 316.7V346.3M413.4 316.7h8.0M413.4 346.3h8.0M417.5 289.7V321.9M413.5 289.7h8.0M413.5 321.9h8.0M418.5 302.3V333.3M414.5 302.3h8.0M414.5 333.3h8.0M419.5 306.5V337.1M415.5 306.5h8.0M415.5 337.1h8.0M420.5 311.4V341.6M416.5 311.4h8.0M416.5 341.6h8.0M421.5 312.4V342.5M417.5 312.4h8.0M417.5 342.5h8.0M422.5 280.8V313.8M418.5 280.8h8.0M418.5 313.8h8.0M423.5 301.5V332.6M419.5 301.5h8.0M419.5 332.6h8.0M424.5 304.1V334.9M420.5 304.1h8.0M420.5 334.9h8.0M425.5 297.5V329.0M421.5 297.5h8.0M421.5 329.0h8.0M425.8 244.2V280.8M421.8 244.2h8.0M421.8 280.8h8.0M426.5 284.4V317.1M422.5 284.4h8.0M422.5 317.1h8.0M426.7 358.6V384.2M422.7 358.6h8.0M422.7 384.2h8.0M427.5 296.2V327.8M423.5 296.2h8.0M423.5 327.8h8.0M428.5 280.9V313.9M424.5 280.9h8.0M424.5 313.9h8.0M429.2 328.2V356.8M425.2 328.2h8.0M425.2 356.8h8.0M429.5 314.6V344.4M425.5 314.6h8.0M425.5 344.4h8.0M430.5 311.8V341.9M426.5 311.8h8.0M426.5 341.9h8.0M431.5 299.2V330.5M427.5 299.2h8.0M427.5 330.5h8.0M432.5 289.3V321.5M428.5 289.3h8.0M428.5 321.5h8.0M433.5 313.6V343.5M429.5 313.6h8.0M429.5 343.5h8.0M434.5 300.1V331.4M430.5 300.1h8.0M430.5 331.4h8.0M435.5 312.5V342.6M431.5 312.5h8.0M431.5 342.6h8.0M436.5 311.1V341.3M432.5 311.1h8.0M432.5 341.3h8.0M437.5 297.6V329.1M433.5 297.6h8.0M433.5 329.1h8.0M438.5 293.8V325.6M434.5 293.8h8.0M434.5 325.6h8.0M439.5 301.2V332.3M435.5 301.2h8.0M435.5 332.3h8.0M440.5 294.5V326.3M436.5 294.5h8.0M436.5 326.3h8.0M441.5 283.7V316.5M437.5 283.7h8.0M437.5 316.5h8.0M442.5 289.5V321.7M438.5 289.5h8.0M438.5 321.7h8.0M442.8 264.1V298.7M438.8 264.1h8.0M438.8 298.7h8.0M443.5 309.7V340.0M439.5 309.7h8.0M439.5 340.0h8.0M443.7 320.2V349.6M439.7 320.2h8.0M439.7 349.6h8.0M444.5 279.0V312.3M440.5 279.0h8.0M440.5 312.3h8.0M445.5 279.2V312.4M441.5 279.2h8.0M441.5 312.4h8.0M446.5 302.3V333.3M442.5 302.3h8.0M442.5 333.3h8.0M447.5 288.5V320.8M443.5 288.5h8.0M443.5 320.8h8.0M448.5 298.6V330.0M444.5 298.6h8.0M444.5 330.0h8.0M449.5 296.1V327.7M445.5 296.1h8.0M445.5 327.7h8.0M450.5 291.0V323.1M446.5 291.0h8.0M446.5 323.1h8.0M451.5 317.1V346.7M447.5 317.1h8.0M447.5 346.7h8.0M452.5 285.1V317.8M448.5 285.1h8.0M448.5 317.8h8.0M453.5 293.8V325.6M449.5 293.8h8.0M449.5 325.6h8.0M454.5 285.4V318.0M450.5 285.4h8.0M450.5 318.0h8.0M455.5 302.5V333.5M451.5 302.5h8.0M451.5 333.5h8.0M456.5 288.3V320.7M452.5 288.3h8.0M452.5 320.7h8.0M457.5 291.5V323.5M453.5 291.5h8.0M453.5 323.5h8.0M458.1 338.1V365.7M454.1 338.1h8.0M454.1 365.7h8.0M458.5 307.1V337.7M454.5 307.1h8.0M454.5 337.7h8.0M459.5 290.1V322.3M455.5 290.1h8.0M455.5 322.3h8.0M460.5 299.6V330.9M456.5 299.6h8.0M456.5 330.9h8.0M461.5 313.4V343.3M457.5 313.4h8.0M457.5 343.3h8.0M462.0 325.6V354.4M458.0 325.6h8.0M458.0 354.4h8.0M462.5 281.3V314.3M458.5 281.3h8.0M458.5 314.3h8.0M463.5 279.8V312.9M459.5 279.8h8.0M459.5 312.9h8.0M464.5 286.4V319.0M460.5 286.4h8.0M460.5 319.0h8.0M465.0 338.2V365.8M461.0 338.2h8.0M461.0 365.8h8.0M465.5 307.8V338.3M461.5 307.8h8.0M461.5 338.3h8.0M466.5 301.9V332.9M462.5 301.9h8.0M462.5 332.9h8.0" stroke="#00FF00" stroke-width="1.0" fill="none"/>
<path d="M397.5 309.8L403.7 299.4L391.3 299.4Z" fill="#00FF00"/><path d="M398.5 304.8L404.7 294.4L392.3 294.4Z" fill="#00FF00"/><path d="M399.5 315.9L405.7 305.5L393.3 305.5Z" fill="#00FF00"/><path d="M400.4 275.6L406.6 265.2L394.2 265.2Z" fill="#00FF00"/><path d="M400.5 306.8L406.7 296.4L394.3 296.4Z" fill="#00FF00"/><path d="M401.5 303.4L407.7 293.0L395.3 293.0Z" fill="#00FF00"/><path d="M402.0 283.9L408.2 273.5L395.8 273.5Z" fill="#00FF00"/><path d="M402.5 316.1L408.7 305.7L396.3 305.7Z" fill="#00FF00"/><path d="M403.5 335.7L409.7 325.3L397.3 325.3Z" fill="#00FF00"/><path d="M404.5 331.3L410.7 320.9L398.3 320.9Z" fill="#00FF00"/><path d="M405.5 329.9L411.7 319.5L399.3 319.5Z" fill="#00FF00"/><path d="M406.5 309.3L412.7 298.9L400.3 298.9Z" fill="#00FF00"/><path d="M407.2 338.4L413.4 328.0L401.0 328.0Z" fill="#00FF00"/><path d="M407.5 321.3L413.7 310.9L401.3 310.9Z" fill="#00FF00"/><path d="M408.5 311.4L414.7 301.0L402.3 301.0Z" fill="#00FF00"/><path d="M409.5 307.4L415.7 297.0L403.3 297.0Z" fill="#00FF00"/><path d="M410.5 304.9L416.7 294.5L404.3 294.5Z" fill="#00FF00"/><path d="M411.5 309.0L417.7 298.6L405.3 298.6Z" fill="#00FF00"/><path d="M412.5 336.1L418.7 325.7L406.3 325.7Z" fill="#00FF00"/><path d="M413.5 332.4L419.7 322.0L407.3 322.0Z" fill="#00FF00"/><path d="M414.5 331.5L420.7 321.1L408.3 321.1Z" fill="#00FF00"/><path d="M415.5 331.3L421.7 320.9L409.3 320.9Z" fill="#00FF00"/><path d="M416.5 308.2L422.7 297.8L410.3 297.8Z" fill="#00FF00"/><path d="M417.4 338.4L423.6 328.0L411.2 328.0Z" fill="#00FF00"/><path d="M417.5 312.6L423.7 302.2L411.3 302.2Z" fill="#00FF00"/><path d="M418.5 324.7L424.7 314.3L412.3 314.3Z" fill="#00FF00"/><path d="M419.5 328.7L425.7 318.3L413.3 318.3Z" fill="#00FF00"/><path d="M420.5 333.3L426.7 322.9L414.3 322.9Z" fill="#00FF00"/><path d="M421.5 334.3L427.7 323.9L415.3 323.9Z" fill="#00FF00"/><path d="M422.5 304.2L428.7 293.8L416.3 293.8Z" fill="#00FF00"/><path d="M423.5 323.9L429.7 313.5L417.3 313.5Z" fill="#00FF00"/><path d="M424.5 326.4L430.7 316.0L418.3 316.0Z" fill="#00FF00"/><path d="M425.5 320.1L431.7 309.7L419.3 309.7Z" fill="#00FF00"/><path d="M425.8 269.4L432.0 259.0L419.6 259.0Z" fill="#00FF00"/><path d="M426.5 307.6L432.7 297.2L420.3 297.2Z" fill="#00FF00"/><path d="M426.7 378.3L432.9 367.9L420.5 367.9Z" fill="#00FF00"/><path d="M427.5 318.9L433.7 308.5L421.3 308.5Z" fill="#00FF00"/><path d="M428.5 304.3L434.7 293.9L422.3 293.9Z" fill="#00FF00"/><path d="M429.2 349.4L435.4 339.0L423.0 339.0Z" fill="#00FF00"/><path d="M429.5 336.4L435.7 326.0L423.3 326.0Z" fill="#00FF00"/><path d="M430.5 333.8L436.7 323.4L424.3 323.4Z" fill="#00FF00"/><path d="M431.5 321.7L437.7 311.3L425.3 311.3Z" fill="#00FF00"/><path d="M432.5 312.3L438.7 301.9L426.3 301.9Z" fill="#00FF00"/><path d="M433.5 335.4L439.7 325.0L427.3 325.0Z" fill="#00FF00"/><path d="M434.5 322.6L440.7 312.2L428.3 312.2Z" fill="#00FF00"/><path d="M435.5 334.4L441.7 324.0L429.3 324.0Z" fill="#00FF00"/><path d="M436.5 333.1L442.7 322.7L430.3 322.7Z" fill="#00FF00"/><path d="M437.5 320.2L443.7 309.8L431.3 309.8Z" fill="#00FF00"/><path d="M438.5 316.6L444.7 306.2L432.3 306.2Z" fill="#00FF00"/><path d="M439.5 323.6L445.7 313.2L433.3 313.2Z" fill="#00FF00"/><path d="M440.5 317.2L446.7 306.8L434.3 306.8Z" fill="#00FF00"/><path d="M441.5 307.0L447.7 296.6L435.3 296.6Z" fill="#00FF00"/><path d="M442.5 312.5L448.7 302.1L436.3 302.1Z" fill="#00FF00"/><path d="M442.8 288.3L449.0 277.9L436.6 277.9Z" fill="#00FF00"/><path d="M443.5 331.7L449.7 321.3L437.3 321.3Z" fill="#00FF00"/><path d="M443.7 341.8L449.9 331.4L437.5 331.4Z" fill="#00FF00"/><path d="M444.5 302.5L450.7 292.1L438.3 292.1Z" fill="#00FF00"/><path d="M445.5 302.6L451.7 292.2L439.3 292.2Z" fill="#00FF00"/><path d="M446.5 324.7L452.7 314.3L440.3 314.3Z" fill="#00FF00"/><path d="M447.5 311.5L453.7 301.1L441.3 301.1Z" fill="#00FF00"/><path d="M448.5 321.2L454.7 310.8L442.3 310.8Z" fill="#00FF00"/><path d="M449.5 318.8L455.7 308.4L443.3 308.4Z" fill="#00FF00"/><path d="M450.5 313.9L456.7 303.5L444.3 303.5Z" fill="#00FF00"/><path d="M451.5 338.8L457.7 328.4L445.3 328.4Z" fill="#00FF00"/><path d="M452.5 308.3L458.7 297.9L446.3 297.9Z" fill="#00FF00"/><path d="M453.5 316.6L459.7 306.2L447.3 306.2Z" fill="#00FF00"/><path d="M454.5 308.6L460.7 298.2L448.3 298.2Z" fill="#00FF00"/><path d="M455.5 324.9L461.7 314.5L449.3 314.5Z" fill="#00FF00"/><path d="M456.5 311.4L462.7 301.0L450.3 301.0Z" fill="#00FF00"/><path d="M457.5 314.4L463.7 304.0L451.3 304.0Z" fill="#00FF00"/><path d="M458.1 358.8L464.3 348.4L451.9 348.4Z" fill="#00FF00"/><path d="M458.5 329.2L464.7 318.8L452.3 318.8Z" fill="#00FF00"/><path d="M459.5 313.0L465.7 302.6L453.3 302.6Z" fill="#00FF00"/><path d="M460.5 322.1L466.7 311.7L454.3 311.7Z" fill="#00FF00"/><path d="M461.5 335.2L467.7 324.8L455.3 324.8Z" fill="#00FF00"/><path d="M462.0 346.9L468.2 336.5L455.8 336.5Z" fill="#00FF00"/><path d="M462.5 304.7L468.7 294.3L456.3 294.3Z" fill="#00FF00"/><path d="M463.5 303.2L469.7 292.8L457.3 292.8Z" fill="#00FF00"/><path d="M464.5 309.6L470.7 299.2L458.3 299.2Z" fill="#00FF00"/><path d="M465.0 358.9L471.2 348.5L458.8 348.5Z" fill="#00FF00"/><path d="M465.5 329.9L471.7 319.5L459.3 319.5Z" fill="#00FF00"/><path d="M466.5 324.3L472.7 313.9L460.3 313.9Z" fill="#00FF00"/>
<path d="M465.6 309.4V339.7M461.6 309.4h8.0M461.6 339.7h8.0M466.8 314.5V344.3M462.8 314.5h8.0M462.8 344.3h8.0M467.0 279.2V312.4M463.0 279.2h8.0M463.0 312.4h8.0M467.8 345.1V372.1M463.8 345.1h8.0M463.8 372.1h8.0M468.0 316.8V346.4M464.0 316.8h8.0M464.0 346.4h8.0M469.3 323.1V352.2M465.3 323.1h8.0M465.3 352.2h8.0M470.4 298.0V329.4M466.4 298.0h8.0M466.4 329.4h8.0M470.5 314.4V344.3M466.5 314.4h8.0M466.5 344.3h8.0M471.7 322.2V351.4M467.7 322.2h8.0M467.7 351.4h8.0M472.9 283.8V316.6M468.9 283.8h8.0M468.9 316.6h8.0M474.1 302.6V333.6M470.1 302.6h8.0M470.1 333.6h8.0M475.3 323.2V352.2M471.3 323.2h8.0M471.3 352.2h8.0M475.5 281.9V314.9M471.5 281.9h8.0M471.5 314.9h8.0M476.6 310.5V340.7M472.6 310.5h8.0M472.6 340.7h8.0M477.8 321.3V350.5M473.8 321.3h8.0M473.8 350.5h8.0M479.0 287.4V319.9M475.0 287.4h8.0M475.0 319.9h8.0M480.2 302.7V333.7M476.2 302.7h8.0M476.2 333.7h8.0M481.4 293.2V325.1M477.4 293.2h8.0M477.4 325.1h8.0M482.7 306.0V336.6M478.7 306.0h8.0M478.7 336.6h8.0M483.9 307.3V337.8M479.9 307.3h8.0M479.9 337.8h8.0M485.1 283.1V316.0M481.1 283.1h8.0M481.1 316.0h8.0M486.3 291.9V323.9M482.3 291.9h8.0M482.3 323.9h8.0M487.5 294.6V326.3M483.5 294.6h8.0M483.5 326.3h8.0M488.7 322.0V351.1M484.7 322.0h8.0M484.7 351.1h8.0M490.0 315.5V345.3M486.0 315.5h8.0M486.0 345.3h8.0M491.2 289.4V321.7M487.2 289.4h8.0M487.2 321.7h8.0M492.4 316.9V346.5M488.4 316.9h8.0M488.4 346.5h8.0M493.6 288.5V320.9M489.6 288.5h8.0M489.6 320.9h8.0M494.8 309.1V339.5M490.8 309.1h8.0M490.8 339.5h8.0M496.0 288.0V320.4M492.0 288.0h8.0M492.0 320.4h8.0M497.3 282.6V315.5M493.3 282.6h8.0M493.3 315.5h8.0M498.5 320.1V349.4M494.5 320.1h8.0M494.5 349.4h8.0M499.7 291.6V323.6M495.7 291.6h8.0M495.7 323.6h8.0M500.9 286.3V318.9M496.9 286.3h8.0M496.9 318.9h8.0M500.9 291.8V323.8M496.9 291.8h8.0M496.9 323.8h8.0M502.1 324.8V353.7M498.1 324.8h8.0M498.1 353.7h8.0M503.3 320.1V349.4M499.3 320.1h8.0M499.3 349.4h8.0M504.3 338.1V365.7M500.3 338.1h8.0M500.3 365.7h8.0M504.6 295.0V326.7M500.6 295.0h8.0M500.6 326.7h8.0M505.8 323.9V352.9M501.8 323.9h8.0M501.8 352.9h8.0M507.0 305.8V336.5M503.0 305.8h8.0M503.0 336.5h8.0M508.2 311.7V341.9M504.2 311.7h8.0M504.2 341.9h8.0M509.4 291.4V323.4M505.4 291.4h8.0M505.4 323.4h8.0M510.7 323.1V352.1M506.7 323.1h8.0M506.7 352.1h8.0M511.9 312.3V342.4M507.9 312.3h8.0M507.9 342.4h8.0M513.1 324.2V353.1M509.1 324.2h8.0M509.1 353.1h8.0M514.3 321.0V350.3M510.3 321.0h8.0M510.3 350.3h8.0M515.5 295.4V327.1M511.5 295.4h8.0M511.5 327.1h8.0M516.7 298.1V329.5M512.7 298.1h8.0M512.7 329.5h8.0M518.0 289.7V321.9M514.0 289.7h8.0M514.0 321.9h8.0M519.2 288.8V321.1M515.2 288.8h8.0M515.2 321.1h8.0M519.6 336.3V364.1M515.6 336.3h8.0M515.6 364.1h8.0M520.4 285.4V318.0M516.4 285.4h8.0M516.4 318.0h8.0" stroke="#8000FF" stroke-width="1.0" fill="none"/>
<path d="M465.6 317.7L472.1 324.5L465.6 331.3L459.1 324.5Z" fill="#8000FF"/><path d="M466.8 322.6L473.3 329.4L466.8 336.2L460.4 329.4Z" fill="#8000FF"/><path d="M467.0 289.0L473.5 295.8L467.0 302.6L460.5 295.8Z" fill="#8000FF"/><path d="M467.8 351.8L474.3 358.6L467.8 365.4L461.3 358.6Z" fill="#8000FF"/><path d="M468.0 324.8L474.5 331.6L468.0 338.4L461.6 331.6Z" fill="#8000FF"/><path d="M469.3 330.8L475.7 337.6L469.3 344.4L462.8 337.6Z" fill="#8000FF"/><path d="M470.4 306.9L476.9 313.7L470.4 320.5L463.9 313.7Z" fill="#8000FF"/><path d="M470.5 322.5L476.9 329.3L470.5 336.1L464.0 329.3Z" fill="#8000FF"/><path d="M471.7 330.0L478.2 336.8L471.7 343.6L465.2 336.8Z" fill="#8000FF"/><path d="M472.9 293.4L479.4 300.2L472.9 307.0L466.5 300.2Z" fill="#8000FF"/><path d="M474.1 311.3L480.6 318.1L474.1 324.9L467.7 318.1Z" fill="#8000FF"/><path d="M475.3 330.9L481.8 337.7L475.3 344.5L468.9 337.7Z" fill="#8000FF"/><path d="M475.5 291.6L482.0 298.4L475.5 305.2L469.0 298.4Z" fill="#8000FF"/><path d="M476.6 318.8L483.0 325.6L476.6 332.4L470.1 325.6Z" fill="#8000FF"/><path d="M477.8 329.1L484.2 335.9L477.8 342.7L471.3 335.9Z" fill="#8000FF"/><path d="M479.0 296.8L485.5 303.6L479.0 310.4L472.5 303.6Z" fill="#8000FF"/><path d="M480.2 311.4L486.7 318.2L480.2 325.0L473.8 318.2Z" fill="#8000FF"/><path d="M481.4 302.3L487.9 309.1L481.4 315.9L475.0 309.1Z" fill="#8000FF"/><path d="M482.7 314.5L489.1 321.3L482.7 328.1L476.2 321.3Z" fill="#8000FF"/><path d="M483.9 315.7L490.3 322.5L483.9 329.3L477.4 322.5Z" fill="#8000FF"/><path d="M485.1 292.7L491.5 299.5L485.1 306.3L478.6 299.5Z" fill="#8000FF"/><path d="M486.3 301.1L492.8 307.9L486.3 314.7L479.8 307.9Z" fill="#8000FF"/><path d="M487.5 303.7L494.0 310.5L487.5 317.3L481.1 310.5Z" fill="#8000FF"/><path d="M488.7 329.8L495.2 336.6L488.7 343.4L482.3 336.6Z" fill="#8000FF"/><path d="M490.0 323.6L496.4 330.4L490.0 337.2L483.5 330.4Z" fill="#8000FF"/><path d="M491.2 298.7L497.6 305.5L491.2 312.3L484.7 305.5Z" fill="#8000FF"/><path d="M492.4 324.9L498.9 331.7L492.4 338.5L485.9 331.7Z" fill="#8000FF"/><path d="M493.6 297.9L500.1 304.7L493.6 311.5L487.1 304.7Z" fill="#8000FF"/><path d="M494.8 317.5L501.3 324.3L494.8 331.1L488.4 324.3Z" fill="#8000FF"/><path d="M496.0 297.4L502.5 304.2L496.0 311.0L489.6 304.2Z" fill="#8000FF"/><path d="M497.3 292.3L503.7 299.1L497.3 305.9L490.8 299.1Z" fill="#8000FF"/><path d="M498.5 327.9L504.9 334.7L498.5 341.5L492.0 334.7Z" fill="#8000FF"/><path d="M499.7 300.8L506.2 307.6L499.7 314.4L493.2 307.6Z" fill="#8000FF"/><path d="M500.9 295.8L507.4 302.6L500.9 309.4L494.4 302.6Z" fill="#8000FF"/><path d="M500.9 301.0L507.4 307.8L500.9 314.6L494.5 307.8Z" fill="#8000FF"/><path d="M502.1 332.5L508.6 339.3L502.1 346.1L495.7 339.3Z" fill="#8000FF"/><path d="M503.3 328.0L509.8 334.8L503.3 341.6L496.9 334.8Z" fill="#8000FF"/><path d="M504.3 345.1L510.8 351.9L504.3 358.7L497.8 351.9Z" fill="#8000FF"/><path d="M504.6 304.1L511.0 310.9L504.6 317.7L498.1 310.9Z" fill="#8000FF"/><path d="M505.8 331.6L512.2 338.4L505.8 345.2L499.3 338.4Z" fill="#8000FF"/><path d="M507.0 314.3L513.5 321.1L507.0 327.9L500.5 321.1Z" fill="#8000FF"/><path d="M508.2 320.0L514.7 326.8L508.2 333.6L501.8 326.8Z" fill="#8000FF"/><path d="M509.4 300.6L515.9 307.4L509.4 314.2L503.0 307.4Z" fill="#8000FF"/><path d="M510.7 330.8L517.1 337.6L510.7 344.4L504.2 337.6Z" fill="#8000FF"/><path d="M511.9 320.5L518.3 327.3L511.9 334.1L505.4 327.3Z" fill="#8000FF"/><path d="M513.1 331.8L519.5 338.6L513.1 345.4L506.6 338.6Z" fill="#8000FF"/><path d="M514.3 328.8L520.8 335.6L514.3 342.4L507.8 335.6Z" fill="#8000FF"/><path d="M515.5 304.5L522.0 311.3L515.5 318.1L509.1 311.3Z" fill="#8000FF"/><path d="M516.7 307.0L523.2 313.8L516.7 320.6L510.3 313.8Z" fill="#8000FF"/><path d="M518.0 299.0L524.4 305.8L518.0 312.6L511.5 305.8Z" fill="#8000FF"/><path d="M519.2 298.2L525.6 305.0L519.2 311.8L512.7 305.0Z" fill="#8000FF"/><path d="M519.6 343.4L526.1 350.2L519.6 357.0L513.1 350.2Z" fill="#8000FF"/><path d="M520.4 294.9L526.9 301.7L520.4 308.5L513.9 301.7Z" fill="#8000FF"/>
<path d="M519.0 280.5V313.5M515.0 280.5h8.0M515.0 313.5h8.0M519.0 289.0V321.2M515.0 289.0h8.0M515.0 321.2h8.0M521.0 285.7V318.3M517.0 285.7h8.0M517.0 318.3h8.0M521.0 289.4V321.6M517.0 289.4h8.0M517.0 321.6h8.0M523.0 292.0V324.0M519.0 292.0h8.0M519.0 324.0h8.0M523.0 284.4V317.1M519.0 284.4h8.0M519.0 317.1h8.0M525.0 298.3V329.7M521.0 298.3h8.0M521.0 329.7h8.0M525.0 294.3V326.1M521.0 294.3h8.0M521.0 326.1h8.0M527.0 304.6V335.4M523.0 304.6h8.0M523.0 335.4h8.0M527.0 288.9V321.2M523.0 288.9h8.0M523.0 321.2h8.0M529.0 311.9V342.1M525.0 311.9h8.0M525.0 342.1h8.0M529.0 302.8V333.7M525.0 302.8h8.0M525.0 333.7h8.0M531.0 319.3V348.7M527.0 319.3h8.0M527.0 348.7h8.0M531.0 318.1V347.6M527.0 318.1h8.0M527.0 347.6h8.0M533.0 326.6V355.4M529.0 326.6h8.0M529.0 355.4h8.0M533.0 325.0V353.9M529.0 325.0h8.0M529.0 353.9h8.0M535.0 334.0V362.0M531.0 334.0h8.0M531.0 362.0h8.0M535.0 315.7V345.5M531.0 315.7h8.0M531.0 345.5h8.0M536.8 341.8V369.0M532.8 341.8h8.0M532.8 369.0h8.0M537.0 340.3V367.7M533.0 340.3h8.0M533.0 367.7h8.0M538.5 331.3V359.6M534.5 331.3h8.0M534.5 359.6h8.0M539.0 346.6V373.4M535.0 346.6h8.0M535.0 373.4h8.0M540.2 342.4V369.6M536.2 342.4h8.0M536.2 369.6h8.0M541.3 256.1V291.5M537.3 256.1h8.0M537.3 291.5h8.0M541.3 316.7V346.3M537.3 316.7h8.0M537.3 346.3h8.0M541.8 307.0V337.6M537.8 307.0h8.0M537.8 337.6h8.0M542.2 261.4V296.2M538.2 261.4h8.0M538.2 296.2h8.0M543.0 281.0V314.0M539.0 281.0h8.0M539.0 314.0h8.0M543.0 279.4V312.6M539.0 279.4h8.0M539.0 312.6h8.0M543.4 295.1V326.8M539.4 295.1h8.0M539.4 326.8h8.0M545.0 286.8V319.2M541.0 286.8h8.0M541.0 319.2h8.0M545.0 299.7V331.0M541.0 299.7h8.0M541.0 331.0h8.0M545.6 297.0V328.6M541.6 297.0h8.0M541.6 328.6h8.0M546.0 294.1V325.9M542.0 294.1h8.0M542.0 325.9h8.0M546.4 286.3V318.9M542.4 286.3h8.0M542.4 318.9h8.0M546.6 305.2V335.9M542.6 305.2h8.0M542.6 335.9h8.0M547.0 302.5V333.5M543.0 302.5h8.0M543.0 333.5h8.0M547.0 318.2V347.8M543.0 318.2h8.0M543.0 347.8h8.0M548.0 310.9V341.1M544.0 310.9h8.0M544.0 341.1h8.0M548.2 286.7V319.2M544.2 286.7h8.0M544.2 319.2h8.0M549.0 314.9V344.7M545.0 314.9h8.0M545.0 344.7h8.0M549.9 337.9V365.5M545.9 337.9h8.0M545.9 365.5h8.0M550.0 323.5V352.5M546.0 323.5h8.0M546.0 352.5h8.0M550.7 339.9V367.3M546.7 339.9h8.0M546.7 367.3h8.0M551.6 346.3V373.2M547.6 346.3h8.0M547.6 373.2h8.0M553.0 336.1V363.9M549.0 336.1h8.0M549.0 363.9h8.0M553.3 328.2V356.8M549.3 328.2h8.0M549.3 356.8h8.0M554.0 327.4V356.0M550.0 327.4h8.0M550.0 356.0h8.0M555.0 319.3V348.7M551.0 319.3h8.0M551.0 348.7h8.0M555.0 351.8V378.2M551.0 351.8h8.0M551.0 378.2h8.0M555.0 346.3V373.1M551.0 346.3h8.0M551.0 373.1h8.0M555.7 353.2V379.4M551.7 353.2h8.0M551.7 379.4h8.0M556.8 342.3V369.6M552.8 342.3h8.0M552.8 369.6h8.0M558.0 341.3V368.7M554.0 341.3h8.0M554.0 368.7h8.0M558.5 347.7V374.4M554.5 347.7h8.0M554.5 374.4h8.0M560.0 318.5V347.9M556.0 318.5h8.0M556.0 347.9h8.0M560.0 321.4V350.6M556.0 321.4h8.0M556.0 350.6h8.0M560.0 355.0V381.0M556.0 355.0h8.0M556.0 381.0h8.0M560.2 330.6V358.9M556.2 330.6h8.0M556.2 358.9h8.0M562.0 322.4V351.5M558.0 322.4h8.0M558.0 351.5h8.0M563.0 338.2V365.8M559.0 338.2h8.0M559.0 365.8h8.0M563.7 346.2V373.0M559.7 346.2h8.0M559.7 373.0h8.0M565.1 341.5V368.9M561.1 341.5h8.0M561.1 368.9h8.0M565.4 346.3V373.2M561.4 346.3h8.0M561.4 373.2h8.0M566.8 252.5V288.3M562.8 252.5h8.0M562.8 288.3h8.0M566.9 264.8V299.3M562.9 264.8h8.0M562.9 299.3h8.0M567.0 330.8V359.2M563.0 330.8h8.0M563.0 359.2h8.0M567.1 334.2V362.2M563.1 334.2h8.0M563.1 362.2h8.0M567.6 272.1V305.9M563.6 272.1h8.0M563.6 305.9h8.0M568.7 267.2V301.5M564.7 267.2h8.0M564.7 301.5h8.0M569.3 288.1V320.5M565.3 288.1h8.0M565.3 320.5h8.0M570.5 277.3V310.7M566.5 277.3h8.0M566.5 310.7h8.0M572.3 269.3V303.5M568.3 269.3h8.0M568.3 303.5h8.0M573.6 277.4V310.8M569.6 277.4h8.0M569.6 310.8h8.0M574.1 284.6V317.3M570.1 284.6h8.0M570.1 317.3h8.0M575.8 288.2V320.6M571.8 288.2h8.0M571.8 320.6h8.0M577.5 274.8V308.4M573.5 274.8h8.0M573.5 308.4h8.0M577.8 298.8V330.2M573.8 298.8h8.0M573.8 330.2h8.0M579.2 290.6V322.7M575.2 290.6h8.0M575.2 322.7h8.0M580.4 268.5V302.7M576.4 268.5h8.0M576.4 302.7h8.0M580.8 280.3V313.4M576.8 280.3h8.0M576.8 313.4h8.0M582.5 300.2V331.4M578.5 300.2h8.0M578.5 331.4h8.0M584.2 299.4V330.7M580.2 299.4h8.0M580.2 330.7h8.0M584.6 307.7V338.3M580.6 307.7h8.0M580.6 338.3h8.0M585.8 300.0V331.2M581.8 300.0h8.0M581.8 331.2h8.0M586.7 307.7V338.3M582.7 307.7h8.0M582.7 338.3h8.0M587.5 305.4V336.1M583.5 305.4h8.0M583.5 336.1h8.0M588.0 257.8V293.0M584.0 257.8h8.0M584.0 293.0h8.0M588.4 257.8V293.0M584.4 257.8h8.0M584.4 293.0h8.0M588.4 279.2V312.4M584.4 279.2h8.0M584.4 312.4h8.0M589.2 307.7V338.2M585.2 307.7h8.0M585.2 338.2h8.0M589.7 279.2V312.4M585.7 279.2h8.0M585.7 312.4h8.0M590.1 293.5V325.3M586.1 293.5h8.0M586.1 325.3h8.0M590.8 312.2V342.3M586.8 312.2h8.0M586.8 342.3h8.0M592.5 319.4V348.8M588.5 319.4h8.0M588.5 348.8h8.0M592.6 260.5V295.5M588.6 260.5h8.0M588.6 295.5h8.0M593.1 314.9V344.7M589.1 314.9h8.0M589.1 344.7h8.0M594.0 343.3V370.5M590.0 343.3h8.0M590.0 370.5h8.0M594.2 279.6V312.7M590.2 279.6h8.0M590.2 312.7h8.0M595.8 326.4V355.1M591.8 326.4h8.0M591.8 355.1h8.0M595.9 311.4V341.5M591.9 311.4h8.0M591.9 341.5h8.0M596.9 320.2V349.6M592.9 320.2h8.0M592.9 349.6h8.0M597.5 313.5V343.5M593.5 313.5h8.0M593.5 343.5h8.0M597.8 321.5V350.7M593.8 321.5h8.0M593.8 350.7h8.0M598.6 307.7V338.3M594.6 307.7h8.0M594.6 338.3h8.0M598.6 343.4V370.6M594.6 343.4h8.0M594.6 370.6h8.0M599.2 330.7V359.0M595.2 330.7h8.0M595.2 359.0h8.0M599.6 309.0V339.4M595.6 309.0h8.0M595.6 339.4h8.0M600.8 319.7V349.1M596.8 319.7h8.0M596.8 349.1h8.0M601.4 320.9V350.2M597.4 320.9h8.0M597.4 350.2h8.0M602.5 316.0V345.7M598.5 316.0h8.0M598.5 345.7h8.0M603.2 300.0V331.2M599.2 300.0h8.0M599.2 331.2h8.0M604.2 325.1V353.9M600.2 325.1h8.0M600.2 353.9h8.0M605.1 333.2V361.3M601.1 333.2h8.0M601.1 361.3h8.0M605.8 314.2V344.1M601.8 314.2h8.0M601.8 344.1h8.0M607.1 366.5V391.5M603.1 366.5h8.0M603.1 391.5h8.0M607.5 316.5V346.1M603.5 316.5h8.0M603.5 346.1h8.0M609.2 337.1V364.8M605.2 337.1h8.0M605.2 364.8h8.0M610.5 323.8V352.8M606.5 323.8h8.0M606.5 352.8h8.0M610.8 349.7V376.2M606.8 349.7h8.0M606.8 376.2h8.0M612.5 320.9V350.1M608.5 320.9h8.0M608.5 350.1h8.0M613.0 350.5V376.9M609.0 350.5h8.0M609.0 376.9h8.0M614.2 353.0V379.2M610.2 353.0h8.0M610.2 379.2h8.0M615.6 306.0V336.6M611.6 306.0h8.0M611.6 336.6h8.0M615.8 321.1V350.3M611.8 321.1h8.0M611.8 350.3h8.0M617.5 334.3V362.3M613.5 334.3h8.0M613.5 362.3h8.0M619.2 358.3V384.0M615.2 358.3h8.0M615.2 384.0h8.0M620.7 332.7V360.9M616.7 332.7h8.0M616.7 360.9h8.0M620.7 389.7V412.5M616.7 389.7h8.0M616.7 412.5h8.0M620.8 346.4V373.2M616.8 346.4h8.0M616.8 373.2h8.0M622.5 333.2V361.3M618.5 333.2h8.0M618.5 361.3h8.0M624.0 361.2V386.6M620.0 361.2h8.0M620.0 386.6h8.0M624.2 336.2V364.0M620.2 336.2h8.0M620.2 364.0h8.0M625.7 301.5V332.5M621.7 301.5h8.0M621.7 332.5h8.0M625.8 366.4V391.4M621.8 366.4h8.0M621.8 391.4h8.0M627.5 358.7V384.4M623.5 358.7h8.0M623.5 384.4h8.0M629.2 384.4V407.6M625.2 384.4h8.0M625.2 407.6h8.0M630.0 297.0V328.6M626.0 297.0h8.0M626.0 328.6h8.0M630.8 377.2V401.2M626.8 377.2h8.0M626.8 401.2h8.0M630.8 356.6V382.4M626.8 356.6h8.0M626.8 382.4h8.0M632.5 367.4V392.3M628.5 367.4h8.0M628.5 392.3h8.0M634.2 376.9V400.9M630.2 376.9h8.0M630.2 400.9h8.0M635.8 366.7V391.6M631.8 366.7h8.0M631.8 391.6h8.0M635.9 352.3V378.5M631.9 352.3h8.0M631.9 378.5h8.0M637.5 383.8V407.1M633.5 383.8h8.0M633.5 407.1h8.0M639.2 362.2V387.5M635.2 362.2h8.0M635.2 387.5h8.0M639.3 384.4V407.6M635.3 384.4h8.0M635.3 407.6h8.0M640.8 383.8V407.1M636.8 383.8h8.0M636.8 407.1h8.0M642.5 381.2V404.8M638.5 381.2h8.0M638.5 404.8h8.0M644.2 374.7V398.9M640.2 374.7h8.0M640.2 398.9h8.0M644.4 370.1V394.7M640.4 370.1h8.0M640.4 394.7h8.0M645.8 340.2V367.6M641.8 340.2h8.0M641.8 367.6h8.0M646.1 306.0V336.6M642.1 306.0h8.0M642.1 336.6h8.0M647.5 314.7V344.5M643.5 314.7h8.0M643.5 344.5h8.0M647.8 322.0V351.2M643.8 322.0h8.0M643.8 351.2h8.0M649.2 336.8V364.6M645.2 336.8h8.0M645.2 364.6h8.0M650.8 334.8V362.8M646.8 334.8h8.0M646.8 362.8h8.0M651.2 288.1V320.5M647.2 288.1h8.0M647.2 320.5h8.0M652.5 318.7V348.2M648.5 318.7h8.0M648.5 348.2h8.0M652.9 307.7V338.3M648.9 307.7h8.0M648.9 338.3h8.0M654.2 316.0V345.8M650.2 316.0h8.0M650.2 345.8h8.0M654.6 339.9V367.3M650.6 339.9h8.0M650.6 367.3h8.0M655.8 329.6V358.0M651.8 329.6h8.0M651.8 358.0h8.0M656.7 304.5V335.3M652.7 304.5h8.0M652.7 335.3h8.0M656.7 350.9V377.3M652.7 350.9h8.0M652.7 377.3h8.0M657.2 352.3V378.5M653.2 352.3h8.0M653.2 378.5h8.0M657.5 312.5V342.5M653.5 312.5h8.0M653.5 342.5h8.0M658.0 323.8V352.8M654.0 323.8h8.0M654.0 352.8h8.0M658.4 324.1V353.1M654.4 324.1h8.0M654.4 353.1h8.0M659.2 293.8V325.6M655.2 293.8h8.0M655.2 325.6h8.0M660.8 341.1V368.5M656.8 341.1h8.0M656.8 368.5h8.0M661.4 284.6V317.2M657.4 284.6h8.0M657.4 317.2h8.0M661.8 284.9V317.5M657.8 284.9h8.0M657.8 317.5h8.0M662.5 310.8V341.1M658.5 310.8h8.0M658.5 341.1h8.0M664.1 324.8V353.7M660.1 324.8h8.0M660.1 353.7h8.0M664.4 333.0V361.2M660.4 333.0h8.0M660.4 361.2h8.0M665.8 343.5V370.6M661.8 343.5h8.0M661.8 370.6h8.0M667.4 304.9V335.7M663.4 304.9h8.0M663.4 335.7h8.0M668.6 358.0V383.8M664.6 358.0h8.0M664.6 383.8h8.0M669.1 295.5V327.1M665.1 295.5h8.0M665.1 327.1h8.0M670.3 369.7V394.3M666.3 369.7h8.0M666.3 394.3h8.0M670.7 301.9V332.9M666.7 301.9h8.0M666.7 332.9h8.0M672.4 331.2V359.5M668.4 331.2h8.0M668.4 359.5h8.0M674.0 316.8V346.5M670.0 316.8h8.0M670.0 346.5h8.0M675.7 310.2V340.5M671.7 310.2h8.0M671.7 340.5h8.0M676.3 288.4V320.8M672.3 288.4h8.0M672.3 320.8h8.0M677.1 329.5V357.9M673.1 329.5h8.0M673.1 357.9h8.0M677.3 322.5V351.6M673.3 322.5h8.0M673.3 351.6h8.0M679.0 352.5V378.8M675.0 352.5h8.0M675.0 378.8h8.0M680.5 311.6V341.8M676.5 311.6h8.0M676.5 341.8h8.0M680.7 310.1V340.4M676.7 310.1h8.0M676.7 340.4h8.0M682.2 342.0V369.2M678.2 342.0h8.0M678.2 369.2h8.0M682.3 320.0V349.3M678.3 320.0h8.0M678.3 349.3h8.0M684.0 349.5V376.0M680.0 349.5h8.0M680.0 376.0h8.0M685.6 363.4V388.6M681.6 363.4h8.0M681.6 388.6h8.0M685.6 332.7V360.8M681.6 332.7h8.0M681.6 360.8h8.0M687.3 311.0V341.2M683.3 311.0h8.0M683.3 341.2h8.0M688.9 324.0V353.0M684.9 324.0h8.0M684.9 353.0h8.0M689.0 350.9V377.3M685.0 350.9h8.0M685.0 377.3h8.0M689.9 300.9V332.1M685.9 300.9h8.0M685.9 332.1h8.0M690.6 324.2V353.2M686.6 324.2h8.0M686.6 353.2h8.0M692.2 303.1V334.0M688.2 303.1h8.0M688.2 334.0h8.0M692.4 293.8V325.6M688.4 293.8h8.0M688.4 325.6h8.0M693.3 277.7V311.1M689.3 277.7h8.0M689.3 311.1h8.0M693.9 317.9V347.4M689.9 317.9h8.0M689.9 347.4h8.0M695.5 313.4V343.3M691.5 313.4h8.0M691.5 343.3h8.0M695.8 320.6V349.8M691.8 320.6h8.0M691.8 349.8h8.0M697.2 344.8V371.8M693.2 344.8h8.0M693.2 371.8h8.0M697.5 329.5V357.9M693.5 329.5h8.0M693.5 357.9h8.0" stroke="#FF8000" stroke-width="1.0" fill="none"/>
<path d="M519.0 291.1L514.3 294.1L514.3 299.9L519.0 302.9L523.7 299.9L523.7 294.1Z" fill="#FF8000"/><path d="M519.0 299.2L514.3 302.2L514.3 308.1L519.0 311.0L523.7 308.1L523.7 302.2Z" fill="#FF8000"/><path d="M521.0 296.1L516.3 299.1L516.3 304.9L521.0 307.9L525.7 304.9L525.7 299.1Z" fill="#FF8000"/><path d="M521.0 299.6L516.3 302.6L516.3 308.5L521.0 311.4L525.7 308.5L525.7 302.6Z" fill="#FF8000"/><path d="M523.0 302.1L518.3 305.1L518.3 310.9L523.0 313.9L527.7 310.9L527.7 305.1Z" fill="#FF8000"/><path d="M523.0 294.9L518.3 297.8L518.3 303.7L523.0 306.7L527.7 303.7L527.7 297.8Z" fill="#FF8000"/><path d="M525.0 308.1L520.3 311.1L520.3 316.9L525.0 319.9L529.7 316.9L529.7 311.1Z" fill="#FF8000"/><path d="M525.0 304.3L520.3 307.3L520.3 313.2L525.0 316.1L529.7 313.2L529.7 307.3Z" fill="#FF8000"/><path d="M527.0 314.1L522.3 317.1L522.3 322.9L527.0 325.9L531.7 322.9L531.7 317.1Z" fill="#FF8000"/><path d="M527.0 299.1L522.3 302.1L522.3 308.0L527.0 310.9L531.7 308.0L531.7 302.1Z" fill="#FF8000"/><path d="M529.0 321.1L524.3 324.1L524.3 329.9L529.0 332.9L533.7 329.9L533.7 324.1Z" fill="#FF8000"/><path d="M529.0 312.4L524.3 315.3L524.3 321.2L529.0 324.2L533.7 321.2L533.7 315.3Z" fill="#FF8000"/><path d="M531.0 328.1L526.3 331.1L526.3 336.9L531.0 339.9L535.7 336.9L535.7 331.1Z" fill="#FF8000"/><path d="M531.0 326.9L526.3 329.9L526.3 335.8L531.0 338.7L535.7 335.8L535.7 329.9Z" fill="#FF8000"/><path d="M533.0 335.1L528.3 338.1L528.3 343.9L533.0 346.9L537.7 343.9L537.7 338.1Z" fill="#FF8000"/><path d="M533.0 333.6L528.3 336.5L528.3 342.4L533.0 345.4L537.7 342.4L537.7 336.5Z" fill="#FF8000"/><path d="M535.0 342.1L530.3 345.1L530.3 350.9L535.0 353.9L539.7 350.9L539.7 345.1Z" fill="#FF8000"/><path d="M535.0 324.7L530.3 327.6L530.3 333.5L535.0 336.5L539.7 333.5L539.7 327.6Z" fill="#FF8000"/><path d="M536.8 349.5L532.1 352.5L532.1 358.4L536.8 361.3L541.5 358.4L541.5 352.5Z" fill="#FF8000"/><path d="M537.0 348.1L532.3 351.1L532.3 356.9L537.0 359.9L541.7 356.9L541.7 351.1Z" fill="#FF8000"/><path d="M538.5 339.6L533.8 342.5L533.8 348.4L538.5 351.4L543.2 348.4L543.2 342.5Z" fill="#FF8000"/><path d="M539.0 354.1L534.3 357.1L534.3 362.9L539.0 365.9L543.7 362.9L543.7 357.1Z" fill="#FF8000"/><path d="M540.2 350.1L535.5 353.1L535.5 359.0L540.2 361.9L544.9 359.0L544.9 353.1Z" fill="#FF8000"/><path d="M541.3 267.9L536.6 270.9L536.6 276.8L541.3 279.7L546.0 276.8L546.0 270.9Z" fill="#FF8000"/><path d="M541.3 325.6L536.6 328.6L536.6 334.4L541.3 337.4L546.0 334.4L546.0 328.6Z" fill="#FF8000"/><path d="M541.8 316.4L537.1 319.3L537.1 325.2L541.8 328.2L546.5 325.2L546.5 319.3Z" fill="#FF8000"/><path d="M542.2 272.9L537.5 275.9L537.5 281.8L542.2 284.7L546.9 281.8L546.9 275.9Z" fill="#FF8000"/><path d="M543.0 291.6L538.3 294.6L538.3 300.4L543.0 303.4L547.7 300.4L547.7 294.6Z" fill="#FF8000"/><path d="M543.0 290.1L538.3 293.1L538.3 298.9L543.0 301.9L547.7 298.9L547.7 293.1Z" fill="#FF8000"/><path d="M543.4 305.0L538.7 308.0L538.7 313.9L543.4 316.8L548.1 313.9L548.1 308.0Z" fill="#FF8000"/><path d="M545.0 297.1L540.3 300.1L540.3 305.9L545.0 308.9L549.7 305.9L549.7 300.1Z" fill="#FF8000"/><path d="M545.0 309.5L540.3 312.4L540.3 318.3L545.0 321.3L549.7 318.3L549.7 312.4Z" fill="#FF8000"/><path d="M545.6 306.9L540.9 309.9L540.9 315.8L545.6 318.7L550.3 315.8L550.3 309.9Z" fill="#FF8000"/><path d="M546.0 304.1L541.3 307.1L541.3 312.9L546.0 315.9L550.7 312.9L550.7 307.1Z" fill="#FF8000"/><path d="M546.4 296.7L541.7 299.7L541.7 305.6L546.4 308.5L551.1 305.6L551.1 299.7Z" fill="#FF8000"/><path d="M546.6 314.7L541.9 317.6L541.9 323.5L546.6 326.5L551.3 323.5L551.3 317.6Z" fill="#FF8000"/><path d="M547.0 312.1L542.3 315.1L542.3 320.9L547.0 323.9L551.7 320.9L551.7 315.1Z" fill="#FF8000"/><path d="M547.0 327.1L542.3 330.1L542.3 335.9L547.0 338.9L551.7 335.9L551.7 330.1Z" fill="#FF8000"/><path d="M548.0 320.1L543.3 323.1L543.3 328.9L548.0 331.9L552.7 328.9L552.7 323.1Z" fill="#FF8000"/><path d="M548.2 297.0L543.5 300.0L543.5 305.9L548.2 308.8L552.9 305.9L552.9 300.0Z" fill="#FF8000"/><path d="M549.0 323.9L544.3 326.9L544.3 332.8L549.0 335.7L553.7 332.8L553.7 326.9Z" fill="#FF8000"/><path d="M549.9 345.8L545.2 348.8L545.2 354.7L549.9 357.6L554.6 354.7L554.6 348.8Z" fill="#FF8000"/><path d="M550.0 332.1L545.3 335.1L545.3 340.9L550.0 343.9L554.7 340.9L554.7 335.1Z" fill="#FF8000"/><path d="M550.7 347.7L546.0 350.7L546.0 356.6L550.7 359.5L555.4 356.6L555.4 350.7Z" fill="#FF8000"/><path d="M551.6 353.9L546.9 356.8L546.9 362.7L551.6 365.7L556.3 362.7L556.3 356.8Z" fill="#FF8000"/><path d="M553.0 344.1L548.3 347.1L548.3 352.9L553.0 355.9L557.7 352.9L557.7 347.1Z" fill="#FF8000"/><path d="M553.3 336.6L548.6 339.5L548.6 345.4L553.3 348.4L558.0 345.4L558.0 339.5Z" fill="#FF8000"/><path d="M554.0 335.8L549.3 338.8L549.3 344.6L554.0 347.6L558.7 344.6L558.7 338.8Z" fill="#FF8000"/><path d="M555.0 328.1L550.3 331.1L550.3 336.9L555.0 339.9L559.7 336.9L559.7 331.1Z" fill="#FF8000"/><path d="M555.0 359.1L550.3 362.1L550.3 367.9L555.0 370.9L559.7 367.9L559.7 362.1Z" fill="#FF8000"/><path d="M555.0 353.8L550.3 356.8L550.3 362.7L555.0 365.6L559.7 362.7L559.7 356.8Z" fill="#FF8000"/><path d="M555.7 360.4L551.0 363.4L551.0 369.2L555.7 372.2L560.4 369.2L560.4 363.4Z" fill="#FF8000"/><path d="M556.8 350.0L552.1 353.0L552.1 358.9L556.8 361.8L561.5 358.9L561.5 353.0Z" fill="#FF8000"/><path d="M558.0 349.1L553.3 352.1L553.3 357.9L558.0 360.9L562.7 357.9L562.7 352.1Z" fill="#FF8000"/><path d="M558.5 355.1L553.8 358.1L553.8 364.0L558.5 366.9L563.2 364.0L563.2 358.1Z" fill="#FF8000"/><path d="M560.0 327.3L555.3 330.2L555.3 336.1L560.0 339.1L564.7 336.1L564.7 330.2Z" fill="#FF8000"/><path d="M560.0 330.1L555.3 333.1L555.3 338.9L560.0 341.9L564.7 338.9L564.7 333.1Z" fill="#FF8000"/><path d="M560.0 362.1L555.3 365.1L555.3 370.9L560.0 373.9L564.7 370.9L564.7 365.1Z" fill="#FF8000"/><path d="M560.2 338.8L555.5 341.8L555.5 347.7L560.2 350.6L564.9 347.7L564.9 341.8Z" fill="#FF8000"/><path d="M562.0 331.1L557.3 334.0L557.3 339.9L562.0 342.9L566.7 339.9L566.7 334.0Z" fill="#FF8000"/><path d="M563.0 346.1L558.3 349.1L558.3 354.9L563.0 357.9L567.7 354.9L567.7 349.1Z" fill="#FF8000"/><path d="M563.7 353.7L559.0 356.7L559.0 362.6L563.7 365.5L568.4 362.6L568.4 356.7Z" fill="#FF8000"/><path d="M565.1 349.3L560.4 352.2L560.4 358.1L565.1 361.1L569.8 358.1L569.8 352.2Z" fill="#FF8000"/><path d="M565.4 353.9L560.7 356.8L560.7 362.7L565.4 365.7L570.1 362.7L570.1 356.8Z" fill="#FF8000"/><path d="M566.8 264.5L562.1 267.4L562.1 273.3L566.8 276.3L571.5 273.3L571.5 267.4Z" fill="#FF8000"/><path d="M566.9 276.2L562.2 279.1L562.2 285.0L566.9 288.0L571.6 285.0L571.6 279.1Z" fill="#FF8000"/><path d="M567.0 339.1L562.3 342.1L562.3 347.9L567.0 350.9L571.7 347.9L571.7 342.1Z" fill="#FF8000"/><path d="M567.1 342.3L562.4 345.3L562.4 351.2L567.1 354.1L571.8 351.2L571.8 345.3Z" fill="#FF8000"/><path d="M567.6 283.1L562.9 286.1L562.9 291.9L567.6 294.9L572.3 291.9L572.3 286.1Z" fill="#FF8000"/><path d="M568.7 278.4L564.0 281.4L564.0 287.3L568.7 290.2L573.4 287.3L573.4 281.4Z" fill="#FF8000"/><path d="M569.3 298.4L564.6 301.4L564.6 307.2L569.3 310.2L574.0 307.2L574.0 301.4Z" fill="#FF8000"/><path d="M570.5 288.1L565.8 291.0L565.8 296.9L570.5 299.9L575.2 296.9L575.2 291.0Z" fill="#FF8000"/><path d="M572.3 280.5L567.6 283.5L567.6 289.4L572.3 292.3L577.0 289.4L577.0 283.5Z" fill="#FF8000"/><path d="M573.6 288.2L568.9 291.2L568.9 297.1L573.6 300.0L578.3 297.1L578.3 291.2Z" fill="#FF8000"/><path d="M574.1 295.0L569.4 298.0L569.4 303.9L574.1 306.8L578.8 303.9L578.8 298.0Z" fill="#FF8000"/><path d="M575.8 298.5L571.1 301.5L571.1 307.4L575.8 310.3L580.5 307.4L580.5 301.5Z" fill="#FF8000"/><path d="M577.5 285.7L572.8 288.7L572.8 294.6L577.5 297.5L582.2 294.6L582.2 288.7Z" fill="#FF8000"/><path d="M577.8 308.6L573.1 311.6L573.1 317.4L577.8 320.4L582.5 317.4L582.5 311.6Z" fill="#FF8000"/><path d="M579.2 300.7L574.5 303.7L574.5 309.6L579.2 312.5L583.9 309.6L583.9 303.7Z" fill="#FF8000"/><path d="M580.4 279.7L575.7 282.7L575.7 288.6L580.4 291.5L585.1 288.6L585.1 282.7Z" fill="#FF8000"/><path d="M580.8 291.0L576.1 293.9L576.1 299.8L580.8 302.8L585.5 299.8L585.5 293.9Z" fill="#FF8000"/><path d="M582.5 309.9L577.8 312.8L577.8 318.7L582.5 321.7L587.2 318.7L587.2 312.8Z" fill="#FF8000"/><path d="M584.2 309.1L579.5 312.1L579.5 318.0L584.2 320.9L588.9 318.0L588.9 312.1Z" fill="#FF8000"/><path d="M584.6 317.1L579.9 320.1L579.9 325.9L584.6 328.9L589.3 325.9L589.3 320.1Z" fill="#FF8000"/><path d="M585.8 309.7L581.1 312.6L581.1 318.5L585.8 321.5L590.5 318.5L590.5 312.6Z" fill="#FF8000"/><path d="M586.7 317.1L582.0 320.1L582.0 325.9L586.7 328.9L591.4 325.9L591.4 320.1Z" fill="#FF8000"/><path d="M587.5 314.9L582.8 317.8L582.8 323.7L587.5 326.7L592.2 323.7L592.2 317.8Z" fill="#FF8000"/><path d="M588.0 269.5L583.3 272.4L583.3 278.3L588.0 281.3L592.7 278.3L592.7 272.4Z" fill="#FF8000"/><path d="M588.4 269.5L583.7 272.4L583.7 278.3L588.4 281.3L593.1 278.3L593.1 272.4Z" fill="#FF8000"/><path d="M588.4 289.9L583.7 292.9L583.7 298.8L588.4 301.7L593.1 298.8L593.1 292.9Z" fill="#FF8000"/><path d="M589.2 317.0L584.5 320.0L584.5 325.9L589.2 328.8L593.9 325.9L593.9 320.0Z" fill="#FF8000"/><path d="M589.7 289.9L585.0 292.9L585.0 298.8L589.7 301.7L594.4 298.8L594.4 292.9Z" fill="#FF8000"/><path d="M590.1 303.5L585.4 306.4L585.4 312.3L590.1 315.3L594.8 312.3L594.8 306.4Z" fill="#FF8000"/><path d="M590.8 321.3L586.1 324.3L586.1 330.2L590.8 333.1L595.5 330.2L595.5 324.3Z" fill="#FF8000"/><path d="M592.5 328.2L587.8 331.1L587.8 337.0L592.5 340.0L597.2 337.0L597.2 331.1Z" fill="#FF8000"/><path d="M592.6 272.1L587.9 275.1L587.9 280.9L592.6 283.9L597.3 280.9L597.3 275.1Z" fill="#FF8000"/><path d="M593.1 323.9L588.4 326.9L588.4 332.8L593.1 335.7L597.8 332.8L597.8 326.9Z" fill="#FF8000"/><path d="M594.0 351.0L589.3 353.9L589.3 359.8L594.0 362.8L598.7 359.8L598.7 353.9Z" fill="#FF8000"/><path d="M594.2 290.2L589.5 293.2L589.5 299.1L594.2 302.0L598.9 299.1L598.9 293.2Z" fill="#FF8000"/><path d="M595.8 334.9L591.1 337.8L591.1 343.7L595.8 346.7L600.5 343.7L600.5 337.8Z" fill="#FF8000"/><path d="M595.9 320.6L591.2 323.5L591.2 329.4L595.9 332.4L600.6 329.4L600.6 323.5Z" fill="#FF8000"/><path d="M596.9 329.0L592.2 331.9L592.2 337.8L596.9 340.8L601.6 337.8L601.6 331.9Z" fill="#FF8000"/><path d="M597.5 322.6L592.8 325.6L592.8 331.5L597.5 334.4L602.2 331.5L602.2 325.6Z" fill="#FF8000"/><path d="M597.8 330.2L593.0 333.1L593.0 339.0L597.8 342.0L602.5 339.0L602.5 333.1Z" fill="#FF8000"/><path d="M598.6 317.1L593.9 320.1L593.9 325.9L598.6 328.9L603.3 325.9L603.3 320.1Z" fill="#FF8000"/><path d="M598.6 351.1L593.9 354.1L593.9 359.9L598.6 362.9L603.3 359.9L603.3 354.1Z" fill="#FF8000"/><path d="M599.2 339.0L594.5 341.9L594.5 347.8L599.2 350.8L603.9 347.8L603.9 341.9Z" fill="#FF8000"/><path d="M599.6 318.3L594.9 321.2L594.9 327.1L599.6 330.1L604.3 327.1L604.3 321.2Z" fill="#FF8000"/><path d="M600.8 328.5L596.1 331.4L596.1 337.3L600.8 340.3L605.5 337.3L605.5 331.4Z" fill="#FF8000"/><path d="M601.4 329.7L596.7 332.6L596.7 338.5L601.4 341.5L606.1 338.5L606.1 332.6Z" fill="#FF8000"/><path d="M602.5 325.0L597.8 327.9L597.8 333.8L602.5 336.8L607.2 333.8L607.2 327.9Z" fill="#FF8000"/><path d="M603.2 309.7L598.5 312.6L598.5 318.5L603.2 321.5L608.0 318.5L608.0 312.6Z" fill="#FF8000"/><path d="M604.2 333.6L599.5 336.6L599.5 342.5L604.2 345.4L608.9 342.5L608.9 336.6Z" fill="#FF8000"/><path d="M605.1 341.3L600.4 344.3L600.4 350.2L605.1 353.1L609.8 350.2L609.8 344.3Z" fill="#FF8000"/><path d="M605.8 323.2L601.1 326.2L601.1 332.1L605.8 335.0L610.5 332.1L610.5 326.2Z" fill="#FF8000"/><path d="M607.1 373.1L602.4 376.1L602.4 381.9L607.1 384.9L611.8 381.9L611.8 376.1Z" fill="#FF8000"/><path d="M607.5 325.4L602.8 328.3L602.8 334.2L607.5 337.2L612.2 334.2L612.2 328.3Z" fill="#FF8000"/><path d="M609.2 345.1L604.5 348.0L604.5 353.9L609.2 356.9L613.9 353.9L613.9 348.0Z" fill="#FF8000"/><path d="M610.5 332.4L605.8 335.4L605.8 341.2L610.5 344.2L615.2 341.2L615.2 335.4Z" fill="#FF8000"/><path d="M610.8 357.0L606.1 360.0L606.1 365.9L610.8 368.8L615.5 365.9L615.5 360.0Z" fill="#FF8000"/><path d="M612.5 329.6L607.8 332.6L607.8 338.5L612.5 341.4L617.2 338.5L617.2 332.6Z" fill="#FF8000"/><path d="M613.0 357.8L608.3 360.8L608.3 366.6L613.0 369.6L617.7 366.6L617.7 360.8Z" fill="#FF8000"/><path d="M614.2 360.2L609.5 363.2L609.5 369.1L614.2 372.0L618.9 369.1L618.9 363.2Z" fill="#FF8000"/><path d="M615.6 315.4L610.9 318.4L610.9 324.2L615.6 327.2L620.3 324.2L620.3 318.4Z" fill="#FF8000"/><path d="M615.8 329.8L611.1 332.7L611.1 338.6L615.8 341.6L620.5 338.6L620.5 332.7Z" fill="#FF8000"/><path d="M617.5 342.4L612.8 345.4L612.8 351.3L617.5 354.2L622.2 351.3L622.2 345.4Z" fill="#FF8000"/><path d="M619.2 365.3L614.5 368.2L614.5 374.1L619.2 377.1L623.9 374.1L623.9 368.2Z" fill="#FF8000"/><path d="M620.7 340.9L616.0 343.9L616.0 349.8L620.7 352.7L625.4 349.8L625.4 343.9Z" fill="#FF8000"/><path d="M620.7 395.2L616.0 398.2L616.0 404.1L620.7 407.0L625.4 404.1L625.4 398.2Z" fill="#FF8000"/><path d="M620.8 353.9L616.1 356.9L616.1 362.8L620.8 365.7L625.5 362.8L625.5 356.9Z" fill="#FF8000"/><path d="M622.5 341.3L617.8 344.3L617.8 350.2L622.5 353.1L627.2 350.2L627.2 344.3Z" fill="#FF8000"/><path d="M624.0 368.0L619.3 370.9L619.3 376.8L624.0 379.8L628.7 376.8L628.7 370.9Z" fill="#FF8000"/><path d="M624.2 344.2L619.5 347.1L619.5 353.0L624.2 356.0L628.9 353.0L628.9 347.1Z" fill="#FF8000"/><path d="M625.7 311.1L621.0 314.1L621.0 319.9L625.7 322.9L630.4 319.9L630.4 314.1Z" fill="#FF8000"/><path d="M625.8 373.0L621.1 375.9L621.1 381.8L625.8 384.8L630.5 381.8L630.5 375.9Z" fill="#FF8000"/><path d="M627.5 365.7L622.8 368.6L622.8 374.5L627.5 377.5L632.2 374.5L632.2 368.6Z" fill="#FF8000"/><path d="M629.2 390.1L624.5 393.0L624.5 398.9L629.2 401.9L633.9 398.9L633.9 393.0Z" fill="#FF8000"/><path d="M630.0 306.9L625.3 309.9L625.3 315.8L630.0 318.7L634.7 315.8L634.7 309.9Z" fill="#FF8000"/><path d="M630.8 383.3L626.1 386.2L626.1 392.1L630.8 395.1L635.5 392.1L635.5 386.2Z" fill="#FF8000"/><path d="M630.8 363.6L626.1 366.6L626.1 372.5L630.8 375.4L635.5 372.5L635.5 366.6Z" fill="#FF8000"/><path d="M632.5 373.9L627.8 376.9L627.8 382.8L632.5 385.7L637.2 382.8L637.2 376.9Z" fill="#FF8000"/><path d="M634.2 383.0L629.5 385.9L629.5 391.8L634.2 394.8L638.9 391.8L638.9 385.9Z" fill="#FF8000"/><path d="M635.8 373.2L631.1 376.2L631.1 382.1L635.8 385.0L640.5 382.1L640.5 376.2Z" fill="#FF8000"/><path d="M635.9 359.5L631.2 362.4L631.2 368.3L635.9 371.3L640.6 368.3L640.6 362.4Z" fill="#FF8000"/><path d="M637.5 389.6L632.8 392.5L632.8 398.4L637.5 401.4L642.2 398.4L642.2 392.5Z" fill="#FF8000"/><path d="M639.2 369.0L634.5 371.9L634.5 377.8L639.2 380.8L643.9 377.8L643.9 371.9Z" fill="#FF8000"/><path d="M639.3 390.1L634.6 393.1L634.6 398.9L639.3 401.9L644.0 398.9L644.0 393.1Z" fill="#FF8000"/><path d="M640.8 389.5L636.1 392.5L636.1 398.4L640.8 401.3L645.5 398.4L645.5 392.5Z" fill="#FF8000"/><path d="M642.5 387.1L637.8 390.0L637.8 395.9L642.5 398.9L647.2 395.9L647.2 390.0Z" fill="#FF8000"/><path d="M644.2 380.9L639.5 383.8L639.5 389.7L644.2 392.7L648.9 389.7L648.9 383.8Z" fill="#FF8000"/><path d="M644.4 376.5L639.7 379.4L639.7 385.3L644.4 388.3L649.1 385.3L649.1 379.4Z" fill="#FF8000"/><path d="M645.8 348.0L641.1 351.0L641.1 356.9L645.8 359.8L650.5 356.9L650.5 351.0Z" fill="#FF8000"/><path d="M646.1 315.4L641.4 318.4L641.4 324.2L646.1 327.2L650.8 324.2L650.8 318.4Z" fill="#FF8000"/><path d="M647.5 323.7L642.8 326.6L642.8 332.5L647.5 335.5L652.2 332.5L652.2 326.6Z" fill="#FF8000"/><path d="M647.8 330.7L643.1 333.7L643.1 339.6L647.8 342.5L652.5 339.6L652.5 333.7Z" fill="#FF8000"/><path d="M649.2 344.8L644.5 347.8L644.5 353.7L649.2 356.6L653.9 353.7L653.9 347.8Z" fill="#FF8000"/><path d="M650.8 342.9L646.1 345.8L646.1 351.7L650.8 354.7L655.5 351.7L655.5 345.8Z" fill="#FF8000"/><path d="M651.2 298.4L646.5 301.4L646.5 307.2L651.2 310.2L655.9 307.2L655.9 301.4Z" fill="#FF8000"/><path d="M652.5 327.5L647.8 330.5L647.8 336.4L652.5 339.3L657.2 336.4L657.2 330.5Z" fill="#FF8000"/><path d="M652.9 317.1L648.2 320.1L648.2 325.9L652.9 328.9L657.6 325.9L657.6 320.1Z" fill="#FF8000"/><path d="M654.2 325.0L649.5 328.0L649.5 333.9L654.2 336.8L658.9 333.9L658.9 328.0Z" fill="#FF8000"/><path d="M654.6 347.7L649.9 350.7L649.9 356.6L654.6 359.5L659.3 356.6L659.3 350.7Z" fill="#FF8000"/><path d="M655.8 337.9L651.1 340.9L651.1 346.8L655.8 349.7L660.5 346.8L660.5 340.9Z" fill="#FF8000"/><path d="M656.7 314.0L652.0 316.9L652.0 322.8L656.7 325.8L661.4 322.8L661.4 316.9Z" fill="#FF8000"/><path d="M656.7 358.2L652.0 361.2L652.0 367.1L656.7 370.0L661.4 367.1L661.4 361.2Z" fill="#FF8000"/><path d="M657.2 359.5L652.5 362.4L652.5 368.3L657.2 371.3L661.9 368.3L661.9 362.4Z" fill="#FF8000"/><path d="M657.5 321.6L652.8 324.5L652.8 330.4L657.5 333.4L662.2 330.4L662.2 324.5Z" fill="#FF8000"/><path d="M658.0 332.4L653.3 335.4L653.3 341.2L658.0 344.2L662.7 341.2L662.7 335.4Z" fill="#FF8000"/><path d="M658.4 332.7L653.7 335.7L653.7 341.6L658.4 344.5L663.1 341.6L663.1 335.7Z" fill="#FF8000"/><path d="M659.2 303.8L654.5 306.8L654.5 312.7L659.2 315.6L663.9 312.7L663.9 306.8Z" fill="#FF8000"/><path d="M660.8 348.9L656.1 351.8L656.1 357.7L660.8 360.7L665.5 357.7L665.5 351.8Z" fill="#FF8000"/><path d="M661.4 295.0L656.7 297.9L656.7 303.8L661.4 306.8L666.1 303.8L666.1 297.9Z" fill="#FF8000"/><path d="M661.8 295.3L657.1 298.2L657.1 304.1L661.8 307.1L666.5 304.1L666.5 298.2Z" fill="#FF8000"/><path d="M662.5 320.0L657.8 323.0L657.8 328.9L662.5 331.8L667.2 328.9L667.2 323.0Z" fill="#FF8000"/><path d="M664.1 333.4L659.4 336.3L659.4 342.2L664.1 345.2L668.8 342.2L668.8 336.3Z" fill="#FF8000"/><path d="M664.4 341.2L659.7 344.2L659.7 350.1L664.4 353.0L669.1 350.1L669.1 344.2Z" fill="#FF8000"/><path d="M665.8 351.1L661.1 354.1L661.1 360.0L665.8 362.9L670.5 360.0L670.5 354.1Z" fill="#FF8000"/><path d="M667.4 314.4L662.7 317.4L662.7 323.3L667.4 326.2L672.1 323.3L672.1 317.4Z" fill="#FF8000"/><path d="M668.6 365.0L663.9 367.9L663.9 373.8L668.6 376.8L673.3 373.8L673.3 367.9Z" fill="#FF8000"/><path d="M669.1 305.4L664.4 308.4L664.4 314.3L669.1 317.2L673.8 314.3L673.8 308.4Z" fill="#FF8000"/><path d="M670.3 376.1L665.6 379.1L665.6 384.9L670.3 387.9L675.0 384.9L675.0 379.1Z" fill="#FF8000"/><path d="M670.7 311.5L666.0 314.5L666.0 320.4L670.7 323.3L675.4 320.4L675.4 314.5Z" fill="#FF8000"/><path d="M672.4 339.5L667.7 342.4L667.7 348.3L672.4 351.3L677.1 348.3L677.1 342.4Z" fill="#FF8000"/><path d="M674.0 325.8L669.3 328.7L669.3 334.6L674.0 337.6L678.7 334.6L678.7 328.7Z" fill="#FF8000"/><path d="M675.7 319.5L671.0 322.4L671.0 328.3L675.7 331.3L680.4 328.3L680.4 322.4Z" fill="#FF8000"/><path d="M676.3 298.7L671.6 301.7L671.6 307.6L676.3 310.5L681.0 307.6L681.0 301.7Z" fill="#FF8000"/><path d="M677.1 337.8L672.4 340.8L672.4 346.6L677.1 349.6L681.8 346.6L681.8 340.8Z" fill="#FF8000"/><path d="M677.3 331.2L672.6 334.1L672.6 340.0L677.3 343.0L682.0 340.0L682.0 334.1Z" fill="#FF8000"/><path d="M679.0 359.8L674.3 362.7L674.3 368.6L679.0 371.6L683.7 368.6L683.7 362.7Z" fill="#FF8000"/><path d="M680.5 320.8L675.8 323.8L675.8 329.6L680.5 332.6L685.2 329.6L685.2 323.8Z" fill="#FF8000"/><path d="M680.7 319.4L676.0 322.3L676.0 328.2L680.7 331.2L685.4 328.2L685.4 322.3Z" fill="#FF8000"/><path d="M682.2 349.7L677.5 352.7L677.5 358.6L682.2 361.5L686.9 358.6L686.9 352.7Z" fill="#FF8000"/><path d="M682.3 328.7L677.6 331.7L677.6 337.6L682.3 340.5L687.0 337.6L687.0 331.7Z" fill="#FF8000"/><path d="M684.0 356.9L679.3 359.8L679.3 365.7L684.0 368.7L688.7 365.7L688.7 359.8Z" fill="#FF8000"/><path d="M685.6 370.1L680.9 373.1L680.9 378.9L685.6 381.9L690.3 378.9L690.3 373.1Z" fill="#FF8000"/><path d="M685.6 340.8L680.9 343.8L680.9 349.7L685.6 352.6L690.3 349.7L690.3 343.8Z" fill="#FF8000"/><path d="M687.3 320.2L682.6 323.1L682.6 329.0L687.3 332.0L692.0 329.0L692.0 323.1Z" fill="#FF8000"/><path d="M688.9 332.6L684.2 335.5L684.2 341.4L688.9 344.4L693.6 341.4L693.6 335.5Z" fill="#FF8000"/><path d="M689.0 358.2L684.3 361.2L684.3 367.1L689.0 370.0L693.7 367.1L693.7 361.2Z" fill="#FF8000"/><path d="M689.9 310.6L685.2 313.6L685.2 319.4L689.9 322.4L694.6 319.4L694.6 313.6Z" fill="#FF8000"/><path d="M690.6 332.8L685.9 335.8L685.9 341.7L690.6 344.6L695.3 341.7L695.3 335.8Z" fill="#FF8000"/><path d="M692.2 312.6L687.5 315.6L687.5 321.5L692.2 324.4L696.9 321.5L696.9 315.6Z" fill="#FF8000"/><path d="M692.4 303.8L687.7 306.8L687.7 312.6L692.4 315.6L697.1 312.6L697.1 306.8Z" fill="#FF8000"/><path d="M693.3 288.5L688.6 291.4L688.6 297.3L693.3 300.3L698.0 297.3L698.0 291.4Z" fill="#FF8000"/><path d="M693.9 326.7L689.2 329.7L689.2 335.6L693.9 338.5L698.6 335.6L698.6 329.7Z" fill="#FF8000"/><path d="M695.5 322.4L690.8 325.4L690.8 331.3L695.5 334.2L700.2 331.3L700.2 325.4Z" fill="#FF8000"/><path d="M695.8 329.3L691.1 332.2L691.1 338.1L695.8 341.1L700.5 338.1L700.5 332.2Z" fill="#FF8000"/><path d="M697.2 352.4L692.5 355.3L692.5 361.2L697.2 364.2L701.9 361.2L701.9 355.3Z" fill="#FF8000"/><path d="M697.5 337.8L692.8 340.8L692.8 346.6L697.5 349.6L702.2 346.6L702.2 340.8Z" fill="#FF8000"/>
<path d="M706.0 269.9V300.1M702.0 269.9h8.0M702.0 300.1h8.0M714.5 276.1V305.9M710.5 276.1h8.0M710.5 305.9h8.0M704.3 290.3V318.9M700.3 290.3h8.0M700.3 318.9h8.0M707.7 293.9V322.1M703.7 293.9h8.0M703.7 322.1h8.0M700.9 302.8V330.2M696.9 302.8h8.0M696.9 330.2h8.0M709.4 309.9V336.7M705.4 309.9h8.0M705.4 336.7h8.0M714.5 301.0V328.6M710.5 301.0h8.0M710.5 328.6h8.0M716.2 318.7V344.9M712.2 318.7h8.0M712.2 344.9h8.0M714.5 327.6V353.0M710.5 327.6h8.0M710.5 353.0h8.0M717.1 338.2V362.8M713.1 338.2h8.0M713.1 362.8h8.0M700.9 345.3V369.3M696.9 345.3h8.0M696.9 369.3h8.0M702.6 353.3V376.5M698.6 353.3h8.0M698.6 376.5h8.0M701.8 378.1V399.3M697.8 378.1h8.0M697.8 399.3h8.0M699.2 327.6V353.0M695.2 327.6h8.0M695.2 353.0h8.0M711.0 285.5V314.5M707.0 285.5h8.0M707.0 314.5h8.0M703.0 311.6V338.4M699.0 311.6h8.0M699.0 338.4h8.0M712.0 304.3V331.7M708.0 304.3h8.0M708.0 331.7h8.0M706.0 316.8V343.2M702.0 316.8h8.0M702.0 343.2h8.0" stroke="#00FFFF" stroke-width="1.0" fill="none"/>
<path d="M706.0 278.8L704.5 282.9L700.1 283.1L703.5 285.8L702.4 290.0L706.0 287.6L709.6 290.0L708.5 285.8L711.9 283.1L707.5 282.9Z" fill="#00FFFF"/><path d="M714.5 284.8L713.0 288.9L708.6 289.1L712.0 291.8L710.9 296.0L714.5 293.6L718.1 296.0L717.0 291.8L720.4 289.1L716.0 288.9Z" fill="#00FFFF"/><path d="M704.3 298.4L702.8 302.5L698.4 302.7L701.8 305.4L700.7 309.6L704.3 307.2L707.9 309.6L706.8 305.4L710.2 302.7L705.8 302.5Z" fill="#00FFFF"/><path d="M707.7 301.8L706.2 305.9L701.8 306.1L705.2 308.8L704.1 313.0L707.7 310.6L711.3 313.0L710.2 308.8L713.6 306.1L709.2 305.9Z" fill="#00FFFF"/><path d="M700.9 310.3L699.4 314.4L695.0 314.6L698.4 317.3L697.3 321.5L700.9 319.1L704.5 321.5L703.4 317.3L706.8 314.6L702.4 314.4Z" fill="#00FFFF"/><path d="M709.4 317.1L707.9 321.2L703.5 321.4L706.9 324.1L705.8 328.3L709.4 325.9L713.0 328.3L711.9 324.1L715.3 321.4L710.9 321.2Z" fill="#00FFFF"/><path d="M714.5 308.6L713.0 312.7L708.6 312.9L712.0 315.6L710.9 319.8L714.5 317.4L718.1 319.8L717.0 315.6L720.4 312.9L716.0 312.7Z" fill="#00FFFF"/><path d="M716.2 325.6L714.7 329.7L710.3 329.9L713.7 332.6L712.6 336.8L716.2 334.4L719.8 336.8L718.7 332.6L722.1 329.9L717.7 329.7Z" fill="#00FFFF"/><path d="M714.5 334.1L713.0 338.2L708.6 338.4L712.0 341.1L710.9 345.3L714.5 342.9L718.1 345.3L717.0 341.1L720.4 338.4L716.0 338.2Z" fill="#00FFFF"/><path d="M717.1 344.3L715.6 348.4L711.2 348.6L714.6 351.3L713.5 355.5L717.1 353.1L720.7 355.5L719.6 351.3L723.0 348.6L718.6 348.4Z" fill="#00FFFF"/><path d="M700.9 351.1L699.4 355.2L695.0 355.4L698.4 358.1L697.3 362.3L700.9 359.9L704.5 362.3L703.4 358.1L706.8 355.4L702.4 355.2Z" fill="#00FFFF"/><path d="M702.6 358.7L701.1 362.8L696.7 363.0L700.1 365.7L699.0 369.9L702.6 367.5L706.2 369.9L705.1 365.7L708.5 363.0L704.1 362.8Z" fill="#00FFFF"/><path d="M701.8 382.5L700.3 386.6L695.9 386.8L699.3 389.5L698.2 393.7L701.8 391.3L705.4 393.7L704.3 389.5L707.7 386.8L703.3 386.6Z" fill="#00FFFF"/><path d="M699.2 334.1L697.7 338.2L693.3 338.4L696.7 341.1L695.6 345.3L699.2 342.9L702.8 345.3L701.7 341.1L705.1 338.4L700.7 338.2Z" fill="#00FFFF"/><path d="M711.0 293.8L709.5 297.9L705.1 298.1L708.5 300.8L707.4 305.0L711.0 302.6L714.6 305.0L713.5 300.8L716.9 298.1L712.5 297.9Z" fill="#00FFFF"/><path d="M703.0 318.8L701.5 322.9L697.1 323.1L700.5 325.8L699.4 330.0L703.0 327.6L706.6 330.0L705.5 325.8L708.9 323.1L704.5 322.9Z" fill="#00FFFF"/><path d="M712.0 311.8L710.5 315.9L706.1 316.1L709.5 318.8L708.4 323.0L712.0 320.6L715.6 323.0L714.5 318.8L717.9 316.1L713.5 315.9Z" fill="#00FFFF"/><path d="M706.0 323.8L704.5 327.9L700.1 328.1L703.5 330.8L702.4 335.0L706.0 332.6L709.6 335.0L708.5 330.8L711.9 328.1L707.5 327.9Z" fill="#00FFFF"/>
</g>
<g clip-path="url(#cd)">
<path d="M849.0 248.1V271.3M845.0 248.1h8.0M845.0 271.3h8.0M849.0 294.5V314.5M845.0 294.5h8.0M845.0 314.5h8.0M849.1 257.0V279.6M845.1 257.0h8.0M845.1 279.6h8.0M851.3 249.6V272.8M847.3 249.6h8.0M847.3 272.8h8.0M853.5 229.4V254.0M849.5 229.4h8.0M849.5 254.0h8.0M853.5 270.8V292.5M849.5 270.8h8.0M849.5 292.5h8.0M855.8 246.3V269.7M851.8 246.3h8.0M851.8 269.7h8.0M858.0 266.0V288.0M854.0 266.0h8.0M854.0 288.0h8.0M860.2 258.7V281.3M856.2 258.7h8.0M856.2 281.3h8.0M862.4 237.2V261.2M858.4 237.2h8.0M858.4 261.2h8.0M862.4 245.7V269.1M858.4 245.7h8.0M858.4 269.1h8.0M864.6 264.7V286.9M860.6 264.7h8.0M860.6 286.9h8.0M866.8 244.8V268.3M862.8 244.8h8.0M862.8 268.3h8.0M866.9 316.2V334.8M862.9 316.2h8.0M862.9 334.8h8.0M867.7 285.2V306.0M863.7 285.2h8.0M863.7 306.0h8.0M869.1 261.6V283.9M865.1 261.6h8.0M865.1 283.9h8.0M869.1 306.1V325.3M865.1 306.1h8.0M865.1 325.3h8.0M871.3 246.2V269.6M867.3 246.2h8.0M867.3 269.6h8.0M871.4 221.8V246.8M867.4 221.8h8.0M867.4 246.8h8.0M873.5 247.1V270.4M869.5 247.1h8.0M869.5 270.4h8.0M873.6 240.3V264.1M869.6 240.3h8.0M869.6 264.1h8.0M875.6 201.6V228.0M871.6 201.6h8.0M871.6 228.0h8.0M875.7 261.2V283.6M871.7 261.2h8.0M871.7 283.6h8.0M876.6 227.2V251.8M872.6 227.2h8.0M872.6 251.8h8.0M877.9 278.3V299.5M873.9 278.3h8.0M873.9 299.5h8.0M880.1 248.5V271.7M876.1 248.5h8.0M876.1 271.7h8.0M882.4 252.7V275.6M878.4 252.7h8.0M878.4 275.6h8.0M882.6 291.4V311.6M878.6 291.4h8.0M878.6 311.6h8.0M884.6 269.8V291.6M880.6 269.8h8.0M880.6 291.6h8.0M886.3 249.6V272.8M882.3 249.6h8.0M882.3 272.8h8.0M886.8 283.4V304.3M882.8 283.4h8.0M882.8 304.3h8.0M889.0 267.7V289.6M885.0 267.7h8.0M885.0 289.6h8.0M890.1 225.6V250.4M886.1 225.6h8.0M886.1 250.4h8.0M891.2 260.0V282.5M887.2 260.0h8.0M887.2 282.5h8.0M893.4 284.6V305.4M889.4 284.6h8.0M889.4 305.4h8.0M895.6 245.2V268.6M891.6 245.2h8.0M891.6 268.6h8.0M897.5 255.8V278.6M893.5 255.8h8.0M893.5 278.6h8.0M897.9 279.6V300.7M893.9 279.6h8.0M893.9 300.7h8.0M900.1 255.5V278.2M896.1 255.5h8.0M896.1 278.2h8.0M902.3 249.3V272.5M898.3 249.3h8.0M898.3 272.5h8.0M904.3 296.0V316.0M900.3 296.0h8.0M900.3 316.0h8.0M904.5 248.2V271.5M900.5 248.2h8.0M900.5 271.5h8.0M906.7 256.3V279.0M902.7 256.3h8.0M902.7 279.0h8.0M907.3 243.4V267.0M903.3 243.4h8.0M903.3 267.0h8.0M908.9 277.9V299.1M904.9 277.9h8.0M904.9 299.1h8.0M909.5 224.1V248.9M905.5 224.1h8.0M905.5 248.9h8.0M910.3 243.4V267.0M906.3 243.4h8.0M906.3 267.0h8.0M911.2 250.9V273.9M907.2 250.9h8.0M907.2 273.9h8.0M911.7 204.7V230.9M907.7 204.7h8.0M907.7 230.9h8.0M913.4 267.9V289.8M909.4 267.9h8.0M909.4 289.8h8.0M915.6 270.3V292.1M911.6 270.3h8.0M911.6 292.1h8.0M916.2 280.6V301.6M912.2 280.6h8.0M912.2 301.6h8.0M917.7 214.7V240.3M913.7 214.7h8.0M913.7 240.3h8.0M917.8 259.0V281.5M913.8 259.0h8.0M913.8 281.5h8.0M920.0 197.8V224.4M916.0 197.8h8.0M916.0 224.4h8.0M920.0 266.5V288.5M916.0 266.5h8.0M916.0 288.5h8.0M921.5 197.0V223.8M917.5 197.0h8.0M917.5 223.8h8.0M922.2 245.9V269.3M918.2 245.9h8.0M918.2 269.3h8.0M924.5 245.7V269.1M920.5 245.7h8.0M920.5 269.1h8.0M924.5 235.7V259.7M920.5 235.7h8.0M920.5 259.7h8.0M924.5 257.4V280.0M920.5 257.4h8.0M920.5 280.0h8.0M926.0 204.7V230.9M922.0 204.7h8.0M922.0 230.9h8.0M926.0 248.1V271.3M922.0 248.1h8.0M922.0 271.3h8.0M926.7 252.0V274.9M922.7 252.0h8.0M922.7 274.9h8.0M928.2 206.2V232.4M924.2 206.2h8.0M924.2 232.4h8.0M928.2 280.6V301.6M924.2 280.6h8.0M924.2 301.6h8.0M928.9 272.1V293.7M924.9 272.1h8.0M924.9 293.7h8.0M929.0 280.6V301.6M925.0 280.6h8.0M925.0 301.6h8.0M931.1 269.3V291.1M927.1 269.3h8.0M927.1 291.1h8.0M932.0 209.4V235.2M928.0 209.4h8.0M928.0 235.2h8.0M932.7 217.8V243.2M928.7 217.8h8.0M928.7 243.2h8.0M933.4 263.2V285.4M929.4 263.2h8.0M929.4 285.4h8.0M933.5 266.6V288.6M929.5 266.6h8.0M929.5 288.6h8.0M935.6 277.8V299.1M931.6 277.8h8.0M931.6 299.1h8.0M936.4 258.8V281.4M932.4 258.8h8.0M932.4 281.4h8.0M937.9 270.7V292.4M933.9 270.7h8.0M933.9 292.4h8.0M939.4 283.6V304.4M935.4 283.6h8.0M935.4 304.4h8.0M939.4 300.7V320.3M935.4 300.7h8.0M935.4 320.3h8.0M940.2 262.5V284.7M936.2 262.5h8.0M936.2 284.7h8.0M940.9 309.2V328.2M936.9 309.2h8.0M936.9 328.2h8.0M942.4 289.1V309.5M938.4 289.1h8.0M938.4 309.5h8.0M944.7 283.9V304.7M940.7 283.9h8.0M940.7 304.7h8.0M946.2 273.5V295.1M942.2 273.5h8.0M942.2 295.1h8.0M946.9 297.6V317.4M942.9 297.6h8.0M942.9 317.4h8.0M946.9 259.5V281.9M942.9 259.5h8.0M942.9 281.9h8.0M949.2 277.2V298.5M945.2 277.2h8.0M945.2 298.5h8.0M949.9 234.1V258.3M945.9 234.1h8.0M945.9 258.3h8.0M949.9 243.4V267.0M945.9 243.4h8.0M945.9 267.0h8.0M951.5 274.6V296.0M947.5 274.6h8.0M947.5 296.0h8.0M952.1 191.5V218.7M948.1 191.5h8.0M948.1 218.7h8.0M953.7 293.4V313.6M949.7 293.4h8.0M949.7 313.6h8.0M955.9 212.5V238.1M951.9 212.5h8.0M951.9 238.1h8.0M956.0 285.6V306.3M952.0 285.6h8.0M952.0 306.3h8.0M957.4 258.8V281.4M953.4 258.8h8.0M953.4 281.4h8.0M958.2 261.8V284.1M954.2 261.8h8.0M954.2 284.1h8.0M958.9 234.1V258.3M954.9 234.1h8.0M954.9 258.3h8.0M960.5 299.1V318.9M956.5 299.1h8.0M956.5 318.9h8.0M961.1 214.7V240.3M957.1 214.7h8.0M957.1 240.3h8.0M962.6 261.9V284.3M958.6 261.9h8.0M958.6 284.3h8.0M962.7 252.7V275.6M958.7 252.7h8.0M958.7 275.6h8.0M964.8 296.0V316.0M960.8 296.0h8.0M960.8 316.0h8.0M965.0 268.8V290.7M961.0 268.8h8.0M961.0 290.7h8.0M966.3 283.6V304.4M962.3 283.6h8.0M962.3 304.4h8.0M966.3 319.2V337.6M962.3 319.2h8.0M962.3 337.6h8.0M967.3 287.1V307.7M963.3 287.1h8.0M963.3 307.7h8.0M969.5 254.5V277.3M965.5 254.5h8.0M965.5 277.3h8.0M970.8 289.8V310.2M966.8 289.8h8.0M966.8 310.2h8.0M971.8 272.6V294.2M967.8 272.6h8.0M967.8 294.2h8.0M974.0 248.4V271.7M970.0 248.4h8.0M970.0 271.7h8.0M975.3 323.1V341.3M971.3 323.1h8.0M971.3 341.3h8.0M976.3 282.3V303.2M972.3 282.3h8.0M972.3 303.2h8.0M976.8 263.5V285.7M972.8 263.5h8.0M972.8 285.7h8.0M978.3 280.6V301.6M974.3 280.6h8.0M974.3 301.6h8.0M978.5 287.5V308.0M974.5 287.5h8.0M974.5 308.0h8.0M979.8 239.6V263.4M975.8 239.6h8.0M975.8 263.4h8.0M980.8 277.2V298.4M976.8 277.2h8.0M976.8 298.4h8.0M982.8 266.6V288.6M978.8 266.6h8.0M978.8 288.6h8.0M983.1 293.4V313.6M979.1 293.4h8.0M979.1 313.6h8.0M984.3 249.6V272.8M980.3 249.6h8.0M980.3 272.8h8.0M985.3 263.2V285.4M981.3 263.2h8.0M981.3 285.4h8.0M987.6 283.7V304.6M983.6 283.7h8.0M983.6 304.6h8.0M988.8 255.8V278.6M984.8 255.8h8.0M984.8 278.6h8.0M989.8 278.3V299.5M985.8 278.3h8.0M985.8 299.5h8.0M990.3 279.0V300.2M986.3 279.0h8.0M986.3 300.2h8.0M991.0 322.3V340.5M987.0 322.3h8.0M987.0 340.5h8.0M991.7 345.6V362.2M987.7 345.6h8.0M987.7 362.2h8.0M992.1 277.5V298.8M988.1 277.5h8.0M988.1 298.8h8.0M992.5 330.1V347.7M988.5 330.1h8.0M988.5 347.7h8.0M994.4 270.9V292.6M990.4 270.9h8.0M990.4 292.6h8.0M994.7 299.1V318.9M990.7 299.1h8.0M990.7 318.9h8.0M996.2 266.6V288.6M992.2 266.6h8.0M992.2 288.6h8.0M996.6 291.5V311.8M992.6 291.5h8.0M992.6 311.8h8.0M998.9 297.2V317.1M994.9 297.2h8.0M994.9 317.1h8.0M1000.7 279.0V300.2M996.7 279.0h8.0M996.7 300.2h8.0M1001.1 279.6V300.7M997.1 279.6h8.0M997.1 300.7h8.0M1002.2 297.6V317.4M998.2 297.6h8.0M998.2 317.4h8.0M1003.3 258.3V280.9M999.3 258.3h8.0M999.3 280.9h8.0M1003.3 279.7V300.7M999.3 279.7h8.0M999.3 300.7h8.0M1003.3 297.7V317.5M999.3 297.7h8.0M999.3 317.5h8.0M1003.4 290.0V310.4M999.4 290.0h8.0M999.4 310.4h8.0M1005.2 245.0V268.4M1001.2 245.0h8.0M1001.2 268.4h8.0M1005.2 257.4V280.0M1001.2 257.4h8.0M1001.2 280.0h8.0M1005.6 256.9V279.5M1001.6 256.9h8.0M1001.6 279.5h8.0M1006.7 228.7V253.3M1002.7 228.7h8.0M1002.7 253.3h8.0M1007.8 292.1V312.3M1003.8 292.1h8.0M1003.8 312.3h8.0M1008.2 229.0V253.6M1004.2 229.0h8.0M1004.2 253.6h8.0M1008.7 244.8V268.2M1004.7 244.8h8.0M1004.7 268.2h8.0M1010.1 289.1V309.5M1006.1 289.1h8.0M1006.1 309.5h8.0M1012.3 308.1V327.2M1008.3 308.1h8.0M1008.3 327.2h8.0M1014.5 298.7V318.5M1010.5 298.7h8.0M1010.5 318.5h8.0M1015.2 244.8V268.2M1011.2 244.8h8.0M1011.2 268.2h8.0M1015.2 258.3V280.9M1011.2 258.3h8.0M1011.2 280.9h8.0M1016.8 269.2V291.0M1012.8 269.2h8.0M1012.8 291.0h8.0M1018.5 268.4V290.2M1014.5 268.4h8.0M1014.5 290.2h8.0M1019.0 274.7V296.2M1015.0 274.7h8.0M1015.0 296.2h8.0M1020.7 280.8V301.8M1016.7 280.8h8.0M1016.7 301.8h8.0M1020.7 297.7V317.5M1016.7 297.7h8.0M1016.7 317.5h8.0M1021.2 290.3V310.6M1017.2 290.3h8.0M1017.2 310.6h8.0M1023.5 254.8V277.6M1019.5 254.8h8.0M1019.5 277.6h8.0M1023.9 314.5V333.3M1019.9 314.5h8.0M1019.9 333.3h8.0M1025.7 278.9V300.0M1021.7 278.9h8.0M1021.7 300.0h8.0M1027.9 262.8V285.0M1023.9 262.8h8.0M1023.9 285.0h8.0M1029.3 265.1V287.1M1025.3 265.1h8.0M1025.3 287.1h8.0M1030.2 260.0V282.4M1026.2 260.0h8.0M1026.2 282.4h8.0M1032.4 256.8V279.5M1028.4 256.8h8.0M1028.4 279.5h8.0M1032.6 292.1V312.3M1028.6 292.1h8.0M1028.6 312.3h8.0M1034.6 295.7V315.7M1030.6 295.7h8.0M1030.6 315.7h8.0M1036.4 310.6V329.6M1032.4 310.6h8.0M1032.4 329.6h8.0M1036.9 260.7V283.1M1032.9 260.7h8.0M1032.9 283.1h8.0M1039.1 267.1V289.1M1035.1 267.1h8.0M1035.1 289.1h8.0M1041.3 265.1V287.1M1037.3 265.1h8.0M1037.3 287.1h8.0M1041.4 275.0V296.4M1037.4 275.0h8.0M1037.4 296.4h8.0M1042.4 287.5V308.1M1038.4 287.5h8.0M1038.4 308.1h8.0M1043.6 301.4V321.0M1039.6 301.4h8.0M1039.6 321.0h8.0M1044.6 252.6V275.6M1040.6 252.6h8.0M1040.6 275.6h8.0M1045.8 258.0V280.6M1041.8 258.0h8.0M1041.8 280.6h8.0M1048.1 278.2V299.4M1044.1 278.2h8.0M1044.1 299.4h8.0M1050.0 294.2V314.4M1046.0 294.2h8.0M1046.0 314.4h8.0M1050.3 283.7V304.5M1046.3 283.7h8.0M1046.3 304.5h8.0M1052.2 263.9V286.1M1048.2 263.9h8.0M1048.2 286.1h8.0M1052.5 302.0V321.6M1048.5 302.0h8.0M1048.5 321.6h8.0M1054.3 274.1V295.5M1050.3 274.1h8.0M1050.3 295.5h8.0M1054.8 298.5V318.3M1050.8 298.5h8.0M1050.8 318.3h8.0M1056.5 305.5V324.9M1052.5 305.5h8.0M1052.5 324.9h8.0M1057.0 301.0V320.6M1053.0 301.0h8.0M1053.0 320.6h8.0M1058.7 265.1V287.1M1054.7 265.1h8.0M1054.7 287.1h8.0M1059.2 268.8V290.7M1055.2 268.8h8.0M1055.2 290.7h8.0M1061.5 276.3V297.7M1057.5 276.3h8.0M1057.5 297.7h8.0M1063.0 307.8V327.0M1059.0 307.8h8.0M1059.0 327.0h8.0M1063.7 273.2V294.8M1059.7 273.2h8.0M1059.7 294.8h8.0M1065.2 274.1V295.5M1061.2 274.1h8.0M1061.2 295.5h8.0M1065.9 302.1V321.6M1061.9 302.1h8.0M1061.9 321.6h8.0M1067.4 312.3V331.1M1063.4 312.3h8.0M1063.4 331.1h8.0M1068.2 306.1V325.4M1064.2 306.1h8.0M1064.2 325.4h8.0M1069.6 301.1V320.7M1065.6 301.1h8.0M1065.6 320.7h8.0M1070.4 261.8V284.2M1066.4 261.8h8.0M1066.4 284.2h8.0M1071.7 253.8V276.6M1067.7 253.8h8.0M1067.7 276.6h8.0M1072.6 263.2V285.4M1068.6 263.2h8.0M1068.6 285.4h8.0M1074.9 266.3V288.3M1070.9 266.3h8.0M1070.9 288.3h8.0M1075.0 263.9V286.1M1071.0 263.9h8.0M1071.0 286.1h8.0M1076.1 281.9V302.9M1072.1 281.9h8.0M1072.1 302.9h8.0" stroke="#990000" stroke-width="1.0" fill="none"/>
<circle cx="849.0" cy="259.7" r="5.2" fill="#990000"/><circle cx="849.0" cy="304.5" r="5.2" fill="#990000"/><circle cx="849.1" cy="268.3" r="5.2" fill="#990000"/><circle cx="851.3" cy="261.2" r="5.2" fill="#990000"/><circle cx="853.5" cy="241.7" r="5.2" fill="#990000"/><circle cx="853.5" cy="281.7" r="5.2" fill="#990000"/><circle cx="855.8" cy="258.0" r="5.2" fill="#990000"/><circle cx="858.0" cy="277.0" r="5.2" fill="#990000"/><circle cx="860.2" cy="270.0" r="5.2" fill="#990000"/><circle cx="862.4" cy="249.2" r="5.2" fill="#990000"/><circle cx="862.4" cy="257.4" r="5.2" fill="#990000"/><circle cx="864.6" cy="275.8" r="5.2" fill="#990000"/><circle cx="866.8" cy="256.5" r="5.2" fill="#990000"/><circle cx="866.9" cy="325.5" r="5.2" fill="#990000"/><circle cx="867.7" cy="295.6" r="5.2" fill="#990000"/><circle cx="869.1" cy="272.8" r="5.2" fill="#990000"/><circle cx="869.1" cy="315.7" r="5.2" fill="#990000"/><circle cx="871.3" cy="257.9" r="5.2" fill="#990000"/><circle cx="871.4" cy="234.3" r="5.2" fill="#990000"/><circle cx="873.5" cy="258.7" r="5.2" fill="#990000"/><circle cx="873.6" cy="252.2" r="5.2" fill="#990000"/><circle cx="875.6" cy="214.8" r="5.2" fill="#990000"/><circle cx="875.7" cy="272.4" r="5.2" fill="#990000"/><circle cx="876.6" cy="239.5" r="5.2" fill="#990000"/><circle cx="877.9" cy="288.9" r="5.2" fill="#990000"/><circle cx="880.1" cy="260.1" r="5.2" fill="#990000"/><circle cx="882.4" cy="264.2" r="5.2" fill="#990000"/><circle cx="882.6" cy="301.5" r="5.2" fill="#990000"/><circle cx="884.6" cy="280.7" r="5.2" fill="#990000"/><circle cx="886.3" cy="261.2" r="5.2" fill="#990000"/><circle cx="886.8" cy="293.9" r="5.2" fill="#990000"/><circle cx="889.0" cy="278.7" r="5.2" fill="#990000"/><circle cx="890.1" cy="238.0" r="5.2" fill="#990000"/><circle cx="891.2" cy="271.3" r="5.2" fill="#990000"/><circle cx="893.4" cy="295.0" r="5.2" fill="#990000"/><circle cx="895.6" cy="256.9" r="5.2" fill="#990000"/><circle cx="897.5" cy="267.2" r="5.2" fill="#990000"/><circle cx="897.9" cy="290.2" r="5.2" fill="#990000"/><circle cx="900.1" cy="266.9" r="5.2" fill="#990000"/><circle cx="902.3" cy="260.9" r="5.2" fill="#990000"/><circle cx="904.3" cy="306.0" r="5.2" fill="#990000"/><circle cx="904.5" cy="259.8" r="5.2" fill="#990000"/><circle cx="906.7" cy="267.6" r="5.2" fill="#990000"/><circle cx="907.3" cy="255.2" r="5.2" fill="#990000"/><circle cx="908.9" cy="288.5" r="5.2" fill="#990000"/><circle cx="909.5" cy="236.5" r="5.2" fill="#990000"/><circle cx="910.3" cy="255.2" r="5.2" fill="#990000"/><circle cx="911.2" cy="262.4" r="5.2" fill="#990000"/><circle cx="911.7" cy="217.8" r="5.2" fill="#990000"/><circle cx="913.4" cy="278.8" r="5.2" fill="#990000"/><circle cx="915.6" cy="281.2" r="5.2" fill="#990000"/><circle cx="916.2" cy="291.1" r="5.2" fill="#990000"/><circle cx="917.7" cy="227.5" r="5.2" fill="#990000"/><circle cx="917.8" cy="270.3" r="5.2" fill="#990000"/><circle cx="920.0" cy="211.1" r="5.2" fill="#990000"/><circle cx="920.0" cy="277.5" r="5.2" fill="#990000"/><circle cx="921.5" cy="210.4" r="5.2" fill="#990000"/><circle cx="922.2" cy="257.6" r="5.2" fill="#990000"/><circle cx="924.5" cy="257.4" r="5.2" fill="#990000"/><circle cx="924.5" cy="247.7" r="5.2" fill="#990000"/><circle cx="924.5" cy="268.7" r="5.2" fill="#990000"/><circle cx="926.0" cy="217.8" r="5.2" fill="#990000"/><circle cx="926.0" cy="259.7" r="5.2" fill="#990000"/><circle cx="926.7" cy="263.4" r="5.2" fill="#990000"/><circle cx="928.2" cy="219.3" r="5.2" fill="#990000"/><circle cx="928.2" cy="291.1" r="5.2" fill="#990000"/><circle cx="928.9" cy="282.9" r="5.2" fill="#990000"/><circle cx="929.0" cy="291.1" r="5.2" fill="#990000"/><circle cx="931.1" cy="280.2" r="5.2" fill="#990000"/><circle cx="932.0" cy="222.3" r="5.2" fill="#990000"/><circle cx="932.7" cy="230.5" r="5.2" fill="#990000"/><circle cx="933.4" cy="274.3" r="5.2" fill="#990000"/><circle cx="933.5" cy="277.6" r="5.2" fill="#990000"/><circle cx="935.6" cy="288.4" r="5.2" fill="#990000"/><circle cx="936.4" cy="270.1" r="5.2" fill="#990000"/><circle cx="937.9" cy="281.6" r="5.2" fill="#990000"/><circle cx="939.4" cy="294.0" r="5.2" fill="#990000"/><circle cx="939.4" cy="310.5" r="5.2" fill="#990000"/><circle cx="940.2" cy="273.6" r="5.2" fill="#990000"/><circle cx="940.9" cy="318.7" r="5.2" fill="#990000"/><circle cx="942.4" cy="299.3" r="5.2" fill="#990000"/><circle cx="944.7" cy="294.3" r="5.2" fill="#990000"/><circle cx="946.2" cy="284.3" r="5.2" fill="#990000"/><circle cx="946.9" cy="307.5" r="5.2" fill="#990000"/><circle cx="946.9" cy="270.7" r="5.2" fill="#990000"/><circle cx="949.2" cy="287.9" r="5.2" fill="#990000"/><circle cx="949.9" cy="246.2" r="5.2" fill="#990000"/><circle cx="949.9" cy="255.2" r="5.2" fill="#990000"/><circle cx="951.5" cy="285.3" r="5.2" fill="#990000"/><circle cx="952.1" cy="205.1" r="5.2" fill="#990000"/><circle cx="953.7" cy="303.5" r="5.2" fill="#990000"/><circle cx="955.9" cy="225.3" r="5.2" fill="#990000"/><circle cx="956.0" cy="295.9" r="5.2" fill="#990000"/><circle cx="957.4" cy="270.1" r="5.2" fill="#990000"/><circle cx="958.2" cy="273.0" r="5.2" fill="#990000"/><circle cx="958.9" cy="246.2" r="5.2" fill="#990000"/><circle cx="960.5" cy="309.0" r="5.2" fill="#990000"/><circle cx="961.1" cy="227.5" r="5.2" fill="#990000"/><circle cx="962.6" cy="273.1" r="5.2" fill="#990000"/><circle cx="962.7" cy="264.1" r="5.2" fill="#990000"/><circle cx="964.8" cy="306.0" r="5.2" fill="#990000"/><circle cx="965.0" cy="279.7" r="5.2" fill="#990000"/><circle cx="966.3" cy="294.0" r="5.2" fill="#990000"/><circle cx="966.3" cy="328.4" r="5.2" fill="#990000"/><circle cx="967.3" cy="297.4" r="5.2" fill="#990000"/><circle cx="969.5" cy="265.9" r="5.2" fill="#990000"/><circle cx="970.8" cy="300.0" r="5.2" fill="#990000"/><circle cx="971.8" cy="283.4" r="5.2" fill="#990000"/><circle cx="974.0" cy="260.0" r="5.2" fill="#990000"/><circle cx="975.3" cy="332.2" r="5.2" fill="#990000"/><circle cx="976.3" cy="292.7" r="5.2" fill="#990000"/><circle cx="976.8" cy="274.6" r="5.2" fill="#990000"/><circle cx="978.3" cy="291.1" r="5.2" fill="#990000"/><circle cx="978.5" cy="297.8" r="5.2" fill="#990000"/><circle cx="979.8" cy="251.5" r="5.2" fill="#990000"/><circle cx="980.8" cy="287.8" r="5.2" fill="#990000"/><circle cx="982.8" cy="277.6" r="5.2" fill="#990000"/><circle cx="983.1" cy="303.5" r="5.2" fill="#990000"/><circle cx="984.3" cy="261.2" r="5.2" fill="#990000"/><circle cx="985.3" cy="274.3" r="5.2" fill="#990000"/><circle cx="987.6" cy="294.2" r="5.2" fill="#990000"/><circle cx="988.8" cy="267.2" r="5.2" fill="#990000"/><circle cx="989.8" cy="288.9" r="5.2" fill="#990000"/><circle cx="990.3" cy="289.6" r="5.2" fill="#990000"/><circle cx="991.0" cy="331.4" r="5.2" fill="#990000"/><circle cx="991.7" cy="353.9" r="5.2" fill="#990000"/><circle cx="992.1" cy="288.2" r="5.2" fill="#990000"/><circle cx="992.5" cy="338.9" r="5.2" fill="#990000"/><circle cx="994.4" cy="281.7" r="5.2" fill="#990000"/><circle cx="994.7" cy="309.0" r="5.2" fill="#990000"/><circle cx="996.2" cy="277.6" r="5.2" fill="#990000"/><circle cx="996.6" cy="301.7" r="5.2" fill="#990000"/><circle cx="998.9" cy="307.1" r="5.2" fill="#990000"/><circle cx="1000.7" cy="289.6" r="5.2" fill="#990000"/><circle cx="1001.1" cy="290.1" r="5.2" fill="#990000"/><circle cx="1002.2" cy="307.5" r="5.2" fill="#990000"/><circle cx="1003.3" cy="269.6" r="5.2" fill="#990000"/><circle cx="1003.3" cy="290.2" r="5.2" fill="#990000"/><circle cx="1003.3" cy="307.6" r="5.2" fill="#990000"/><circle cx="1003.4" cy="300.2" r="5.2" fill="#990000"/><circle cx="1005.2" cy="256.7" r="5.2" fill="#990000"/><circle cx="1005.2" cy="268.7" r="5.2" fill="#990000"/><circle cx="1005.6" cy="268.2" r="5.2" fill="#990000"/><circle cx="1006.7" cy="241.0" r="5.2" fill="#990000"/><circle cx="1007.8" cy="302.2" r="5.2" fill="#990000"/><circle cx="1008.2" cy="241.3" r="5.2" fill="#990000"/><circle cx="1008.7" cy="256.5" r="5.2" fill="#990000"/><circle cx="1010.1" cy="299.3" r="5.2" fill="#990000"/><circle cx="1012.3" cy="317.6" r="5.2" fill="#990000"/><circle cx="1014.5" cy="308.6" r="5.2" fill="#990000"/><circle cx="1015.2" cy="256.5" r="5.2" fill="#990000"/><circle cx="1015.2" cy="269.6" r="5.2" fill="#990000"/><circle cx="1016.8" cy="280.1" r="5.2" fill="#990000"/><circle cx="1018.5" cy="279.3" r="5.2" fill="#990000"/><circle cx="1019.0" cy="285.4" r="5.2" fill="#990000"/><circle cx="1020.7" cy="291.3" r="5.2" fill="#990000"/><circle cx="1020.7" cy="307.6" r="5.2" fill="#990000"/><circle cx="1021.2" cy="300.4" r="5.2" fill="#990000"/><circle cx="1023.5" cy="266.2" r="5.2" fill="#990000"/><circle cx="1023.9" cy="323.9" r="5.2" fill="#990000"/><circle cx="1025.7" cy="289.5" r="5.2" fill="#990000"/><circle cx="1027.9" cy="273.9" r="5.2" fill="#990000"/><circle cx="1029.3" cy="276.1" r="5.2" fill="#990000"/><circle cx="1030.2" cy="271.2" r="5.2" fill="#990000"/><circle cx="1032.4" cy="268.1" r="5.2" fill="#990000"/><circle cx="1032.6" cy="302.2" r="5.2" fill="#990000"/><circle cx="1034.6" cy="305.7" r="5.2" fill="#990000"/><circle cx="1036.4" cy="320.1" r="5.2" fill="#990000"/><circle cx="1036.9" cy="271.9" r="5.2" fill="#990000"/><circle cx="1039.1" cy="278.1" r="5.2" fill="#990000"/><circle cx="1041.3" cy="276.1" r="5.2" fill="#990000"/><circle cx="1041.4" cy="285.7" r="5.2" fill="#990000"/><circle cx="1042.4" cy="297.8" r="5.2" fill="#990000"/><circle cx="1043.6" cy="311.2" r="5.2" fill="#990000"/><circle cx="1044.6" cy="264.1" r="5.2" fill="#990000"/><circle cx="1045.8" cy="269.3" r="5.2" fill="#990000"/><circle cx="1048.1" cy="288.8" r="5.2" fill="#990000"/><circle cx="1050.0" cy="304.3" r="5.2" fill="#990000"/><circle cx="1050.3" cy="294.1" r="5.2" fill="#990000"/><circle cx="1052.2" cy="275.0" r="5.2" fill="#990000"/><circle cx="1052.5" cy="311.8" r="5.2" fill="#990000"/><circle cx="1054.3" cy="284.8" r="5.2" fill="#990000"/><circle cx="1054.8" cy="308.4" r="5.2" fill="#990000"/><circle cx="1056.5" cy="315.2" r="5.2" fill="#990000"/><circle cx="1057.0" cy="310.8" r="5.2" fill="#990000"/><circle cx="1058.7" cy="276.1" r="5.2" fill="#990000"/><circle cx="1059.2" cy="279.8" r="5.2" fill="#990000"/><circle cx="1061.5" cy="287.0" r="5.2" fill="#990000"/><circle cx="1063.0" cy="317.4" r="5.2" fill="#990000"/><circle cx="1063.7" cy="284.0" r="5.2" fill="#990000"/><circle cx="1065.2" cy="284.8" r="5.2" fill="#990000"/><circle cx="1065.9" cy="311.9" r="5.2" fill="#990000"/><circle cx="1067.4" cy="321.7" r="5.2" fill="#990000"/><circle cx="1068.2" cy="315.8" r="5.2" fill="#990000"/><circle cx="1069.6" cy="310.9" r="5.2" fill="#990000"/><circle cx="1070.4" cy="273.0" r="5.2" fill="#990000"/><circle cx="1071.7" cy="265.2" r="5.2" fill="#990000"/><circle cx="1072.6" cy="274.3" r="5.2" fill="#990000"/><circle cx="1074.9" cy="277.3" r="5.2" fill="#990000"/><circle cx="1075.0" cy="275.0" r="5.2" fill="#990000"/><circle cx="1076.1" cy="292.4" r="5.2" fill="#990000"/>
<path d="M1078.7 279.4V300.5M1074.7 279.4h8.0M1074.7 300.5h8.0M1080.1 306.0V325.3M1076.1 306.0h8.0M1076.1 325.3h8.0M1081.5 275.7V297.1M1077.5 275.7h8.0M1077.5 297.1h8.0M1082.9 296.7V316.6M1078.9 296.7h8.0M1078.9 316.6h8.0M1084.3 274.2V295.7M1080.3 274.2h8.0M1080.3 295.7h8.0M1085.7 280.1V301.2M1081.7 280.1h8.0M1081.7 301.2h8.0M1087.1 307.4V326.6M1083.1 307.4h8.0M1083.1 326.6h8.0M1088.5 278.7V299.9M1084.5 278.7h8.0M1084.5 299.9h8.0M1089.9 294.4V314.5M1085.9 294.4h8.0M1085.9 314.5h8.0M1091.3 287.8V308.3M1087.3 287.8h8.0M1087.3 308.3h8.0M1092.7 277.7V298.9M1088.7 277.7h8.0M1088.7 298.9h8.0M1094.1 279.7V300.8M1090.1 279.7h8.0M1090.1 300.8h8.0M1095.4 265.0V287.1M1091.4 265.0h8.0M1091.4 287.1h8.0M1096.8 296.0V316.0M1092.8 296.0h8.0M1092.8 316.0h8.0M1098.2 260.0V282.4M1094.2 260.0h8.0M1094.2 282.4h8.0M1099.6 267.0V289.0M1095.6 267.0h8.0M1095.6 289.0h8.0M1100.9 256.6V279.3M1096.9 256.6h8.0M1096.9 279.3h8.0M1102.3 268.6V290.5M1098.3 268.6h8.0M1098.3 290.5h8.0M1102.6 315.7V334.3M1098.6 315.7h8.0M1098.6 334.3h8.0M1103.7 280.1V301.2M1099.7 280.1h8.0M1099.7 301.2h8.0M1105.0 296.0V316.0M1101.0 296.0h8.0M1101.0 316.0h8.0M1105.9 321.3V339.5M1101.9 321.3h8.0M1101.9 339.5h8.0M1106.2 279.2V300.3M1102.2 279.2h8.0M1102.2 300.3h8.0M1107.5 270.7V292.4M1103.5 270.7h8.0M1103.5 292.4h8.0M1108.8 275.3V296.7M1104.8 275.3h8.0M1104.8 296.7h8.0M1110.2 298.8V318.6M1106.2 298.8h8.0M1106.2 318.6h8.0M1111.5 269.0V290.9M1107.5 269.0h8.0M1107.5 290.9h8.0M1112.8 286.9V307.5M1108.8 286.9h8.0M1108.8 307.5h8.0M1114.0 279.1V300.3M1110.0 279.1h8.0M1110.0 300.3h8.0M1115.3 288.2V308.7M1111.3 288.2h8.0M1111.3 308.7h8.0M1116.2 314.5V333.3M1112.2 314.5h8.0M1112.2 333.3h8.0M1116.7 262.4V284.7M1112.7 262.4h8.0M1112.7 284.7h8.0M1118.0 275.9V297.3M1114.0 275.9h8.0M1114.0 297.3h8.0M1119.4 268.5V290.3M1115.4 268.5h8.0M1115.4 290.3h8.0M1119.5 298.8V318.6M1115.5 298.8h8.0M1115.5 318.6h8.0M1120.8 274.3V295.8M1116.8 274.3h8.0M1116.8 295.8h8.0M1122.1 283.9V304.8M1118.1 283.9h8.0M1118.1 304.8h8.0M1123.5 271.7V293.3M1119.5 271.7h8.0M1119.5 293.3h8.0M1124.8 254.9V277.7M1120.8 254.9h8.0M1120.8 277.7h8.0M1126.2 251.9V274.9M1122.2 251.9h8.0M1122.2 274.9h8.0M1127.5 285.7V306.3M1123.5 285.7h8.0M1123.5 306.3h8.0M1128.9 268.1V290.0M1124.9 268.1h8.0M1124.9 290.0h8.0M1130.2 256.8V279.5M1126.2 256.8h8.0M1126.2 279.5h8.0M1131.6 285.7V306.3M1127.6 285.7h8.0M1127.6 306.3h8.0M1133.0 271.6V293.2M1129.0 271.6h8.0M1129.0 293.2h8.0M1134.3 277.3V298.6M1130.3 277.3h8.0M1130.3 298.6h8.0M1135.7 299.3V319.1M1131.7 299.3h8.0M1131.7 319.1h8.0M1137.1 279.6V300.7M1133.1 279.6h8.0M1133.1 300.7h8.0M1138.4 281.9V302.9M1134.4 281.9h8.0M1134.4 302.9h8.0M1139.8 299.2V319.0M1135.8 299.2h8.0M1135.8 319.0h8.0M1141.2 274.6V296.0M1137.2 274.6h8.0M1137.2 296.0h8.0M1141.2 302.2V321.8M1137.2 302.2h8.0M1137.2 321.8h8.0M1142.6 295.4V315.5M1138.6 295.4h8.0M1138.6 315.5h8.0M1143.9 273.4V294.9M1139.9 273.4h8.0M1139.9 294.9h8.0M1145.3 293.0V313.2M1141.3 293.0h8.0M1141.3 313.2h8.0M1146.7 288.3V308.8M1142.7 288.3h8.0M1142.7 308.8h8.0M1148.0 299.9V319.6M1144.0 299.9h8.0M1144.0 319.6h8.0M1149.3 294.9V315.0M1145.3 294.9h8.0M1145.3 315.0h8.0M1150.6 279.1V300.2M1146.6 279.1h8.0M1146.6 300.2h8.0M1151.9 264.8V286.9M1147.9 264.8h8.0M1147.9 286.9h8.0M1153.3 262.6V284.9M1149.3 262.6h8.0M1149.3 284.9h8.0M1154.6 280.3V301.3M1150.6 280.3h8.0M1150.6 301.3h8.0M1155.9 279.4V300.5M1151.9 279.4h8.0M1151.9 300.5h8.0M1157.2 259.0V281.5M1153.2 259.0h8.0M1153.2 281.5h8.0M1158.6 297.7V317.6M1154.6 297.7h8.0M1154.6 317.6h8.0M1159.9 279.3V300.4M1155.9 279.3h8.0M1155.9 300.4h8.0M1161.2 288.3V308.8M1157.2 288.3h8.0M1157.2 308.8h8.0M1162.5 265.9V287.9M1158.5 265.9h8.0M1158.5 287.9h8.0M1163.8 267.0V289.0M1159.8 267.0h8.0M1159.8 289.0h8.0M1165.2 256.2V278.9M1161.2 256.2h8.0M1161.2 278.9h8.0M1166.5 271.6V293.3M1162.5 271.6h8.0M1162.5 293.3h8.0M1167.8 268.1V290.0M1163.8 268.1h8.0M1163.8 290.0h8.0M1169.1 275.4V296.7M1165.1 275.4h8.0M1165.1 296.7h8.0M1170.4 273.2V294.7M1166.4 273.2h8.0M1166.4 294.7h8.0M1171.8 294.5V314.6M1167.8 294.5h8.0M1167.8 314.6h8.0M1173.1 297.2V317.1M1169.1 297.2h8.0M1169.1 317.1h8.0M1174.4 263.8V286.0M1170.4 263.8h8.0M1170.4 286.0h8.0M1175.7 274.1V295.6M1171.7 274.1h8.0M1171.7 295.6h8.0M1176.6 305.5V324.9M1172.6 305.5h8.0M1172.6 324.9h8.0M1177.1 263.4V285.6M1173.1 263.4h8.0M1173.1 285.6h8.0M1178.4 286.5V307.2M1174.4 286.5h8.0M1174.4 307.2h8.0M1179.7 301.0V320.7M1175.7 301.0h8.0M1175.7 320.7h8.0M1181.0 265.0V287.1M1177.0 265.0h8.0M1177.0 287.1h8.0M1181.5 229.0V253.6M1177.5 229.0h8.0M1177.5 253.6h8.0M1182.3 291.3V311.6M1178.3 291.3h8.0M1178.3 311.6h8.0M1183.7 269.0V290.8M1179.7 269.0h8.0M1179.7 290.8h8.0M1185.0 259.2V281.7M1181.0 259.2h8.0M1181.0 281.7h8.0M1186.3 284.9V305.6M1182.3 284.9h8.0M1182.3 305.6h8.0M1187.7 270.4V292.1M1183.7 270.4h8.0M1183.7 292.1h8.0M1189.0 264.6V286.7M1185.0 264.6h8.0M1185.0 286.7h8.0M1190.3 273.6V295.1M1186.3 273.6h8.0M1186.3 295.1h8.0M1191.7 266.7V288.6M1187.7 266.7h8.0M1187.7 288.6h8.0M1193.0 272.7V294.3M1189.0 272.7h8.0M1189.0 294.3h8.0M1193.5 305.5V324.9M1189.5 305.5h8.0M1189.5 324.9h8.0M1194.3 274.0V295.5M1190.3 274.0h8.0M1190.3 295.5h8.0M1195.7 273.0V294.6M1191.7 273.0h8.0M1191.7 294.6h8.0M1197.0 278.8V300.0M1193.0 278.8h8.0M1193.0 300.0h8.0M1197.8 245.9V269.3M1193.8 245.9h8.0M1193.8 269.3h8.0M1198.3 268.6V290.5M1194.3 268.6h8.0M1194.3 290.5h8.0" stroke="#0000FF" stroke-width="1.0" fill="none"/>
<rect x="1073.9" y="285.1" width="9.6" height="9.6" fill="#0000FF"/><rect x="1075.3" y="310.9" width="9.6" height="9.6" fill="#0000FF"/><rect x="1076.7" y="281.6" width="9.6" height="9.6" fill="#0000FF"/><rect x="1078.1" y="301.9" width="9.6" height="9.6" fill="#0000FF"/><rect x="1079.5" y="280.2" width="9.6" height="9.6" fill="#0000FF"/><rect x="1080.9" y="285.9" width="9.6" height="9.6" fill="#0000FF"/><rect x="1082.3" y="312.2" width="9.6" height="9.6" fill="#0000FF"/><rect x="1083.7" y="284.5" width="9.6" height="9.6" fill="#0000FF"/><rect x="1085.1" y="299.7" width="9.6" height="9.6" fill="#0000FF"/><rect x="1086.5" y="293.3" width="9.6" height="9.6" fill="#0000FF"/><rect x="1087.9" y="283.5" width="9.6" height="9.6" fill="#0000FF"/><rect x="1089.3" y="285.5" width="9.6" height="9.6" fill="#0000FF"/><rect x="1090.6" y="271.2" width="9.6" height="9.6" fill="#0000FF"/><rect x="1092.0" y="301.2" width="9.6" height="9.6" fill="#0000FF"/><rect x="1093.4" y="266.4" width="9.6" height="9.6" fill="#0000FF"/><rect x="1094.8" y="273.2" width="9.6" height="9.6" fill="#0000FF"/><rect x="1096.1" y="263.1" width="9.6" height="9.6" fill="#0000FF"/><rect x="1097.5" y="274.7" width="9.6" height="9.6" fill="#0000FF"/><rect x="1097.8" y="320.2" width="9.6" height="9.6" fill="#0000FF"/><rect x="1098.9" y="285.8" width="9.6" height="9.6" fill="#0000FF"/><rect x="1100.2" y="301.2" width="9.6" height="9.6" fill="#0000FF"/><rect x="1101.1" y="325.6" width="9.6" height="9.6" fill="#0000FF"/><rect x="1101.5" y="285.0" width="9.6" height="9.6" fill="#0000FF"/><rect x="1102.8" y="276.7" width="9.6" height="9.6" fill="#0000FF"/><rect x="1104.0" y="281.2" width="9.6" height="9.6" fill="#0000FF"/><rect x="1105.4" y="303.9" width="9.6" height="9.6" fill="#0000FF"/><rect x="1106.7" y="275.2" width="9.6" height="9.6" fill="#0000FF"/><rect x="1108.0" y="292.4" width="9.6" height="9.6" fill="#0000FF"/><rect x="1109.2" y="284.9" width="9.6" height="9.6" fill="#0000FF"/><rect x="1110.5" y="293.7" width="9.6" height="9.6" fill="#0000FF"/><rect x="1111.4" y="319.1" width="9.6" height="9.6" fill="#0000FF"/><rect x="1111.9" y="268.7" width="9.6" height="9.6" fill="#0000FF"/><rect x="1113.2" y="281.8" width="9.6" height="9.6" fill="#0000FF"/><rect x="1114.6" y="274.6" width="9.6" height="9.6" fill="#0000FF"/><rect x="1114.7" y="303.9" width="9.6" height="9.6" fill="#0000FF"/><rect x="1116.0" y="280.2" width="9.6" height="9.6" fill="#0000FF"/><rect x="1117.3" y="289.6" width="9.6" height="9.6" fill="#0000FF"/><rect x="1118.7" y="277.7" width="9.6" height="9.6" fill="#0000FF"/><rect x="1120.0" y="261.5" width="9.6" height="9.6" fill="#0000FF"/><rect x="1121.4" y="258.6" width="9.6" height="9.6" fill="#0000FF"/><rect x="1122.7" y="291.2" width="9.6" height="9.6" fill="#0000FF"/><rect x="1124.1" y="274.3" width="9.6" height="9.6" fill="#0000FF"/><rect x="1125.5" y="263.4" width="9.6" height="9.6" fill="#0000FF"/><rect x="1126.8" y="291.2" width="9.6" height="9.6" fill="#0000FF"/><rect x="1128.2" y="277.6" width="9.6" height="9.6" fill="#0000FF"/><rect x="1129.5" y="283.2" width="9.6" height="9.6" fill="#0000FF"/><rect x="1130.9" y="304.4" width="9.6" height="9.6" fill="#0000FF"/><rect x="1132.3" y="285.3" width="9.6" height="9.6" fill="#0000FF"/><rect x="1133.6" y="287.6" width="9.6" height="9.6" fill="#0000FF"/><rect x="1135.0" y="304.3" width="9.6" height="9.6" fill="#0000FF"/><rect x="1136.4" y="280.5" width="9.6" height="9.6" fill="#0000FF"/><rect x="1136.4" y="307.2" width="9.6" height="9.6" fill="#0000FF"/><rect x="1137.8" y="300.7" width="9.6" height="9.6" fill="#0000FF"/><rect x="1139.1" y="279.3" width="9.6" height="9.6" fill="#0000FF"/><rect x="1140.5" y="298.3" width="9.6" height="9.6" fill="#0000FF"/><rect x="1141.9" y="293.8" width="9.6" height="9.6" fill="#0000FF"/><rect x="1143.2" y="304.9" width="9.6" height="9.6" fill="#0000FF"/><rect x="1144.5" y="300.2" width="9.6" height="9.6" fill="#0000FF"/><rect x="1145.8" y="284.9" width="9.6" height="9.6" fill="#0000FF"/><rect x="1147.1" y="271.1" width="9.6" height="9.6" fill="#0000FF"/><rect x="1148.5" y="269.0" width="9.6" height="9.6" fill="#0000FF"/><rect x="1149.8" y="286.0" width="9.6" height="9.6" fill="#0000FF"/><rect x="1151.1" y="285.1" width="9.6" height="9.6" fill="#0000FF"/><rect x="1152.4" y="265.4" width="9.6" height="9.6" fill="#0000FF"/><rect x="1153.8" y="302.8" width="9.6" height="9.6" fill="#0000FF"/><rect x="1155.1" y="285.0" width="9.6" height="9.6" fill="#0000FF"/><rect x="1156.4" y="293.8" width="9.6" height="9.6" fill="#0000FF"/><rect x="1157.7" y="272.1" width="9.6" height="9.6" fill="#0000FF"/><rect x="1159.0" y="273.2" width="9.6" height="9.6" fill="#0000FF"/><rect x="1160.4" y="262.7" width="9.6" height="9.6" fill="#0000FF"/><rect x="1161.7" y="277.6" width="9.6" height="9.6" fill="#0000FF"/><rect x="1163.0" y="274.2" width="9.6" height="9.6" fill="#0000FF"/><rect x="1164.3" y="281.3" width="9.6" height="9.6" fill="#0000FF"/><rect x="1165.6" y="279.2" width="9.6" height="9.6" fill="#0000FF"/><rect x="1167.0" y="299.7" width="9.6" height="9.6" fill="#0000FF"/><rect x="1168.3" y="302.3" width="9.6" height="9.6" fill="#0000FF"/><rect x="1169.6" y="270.1" width="9.6" height="9.6" fill="#0000FF"/><rect x="1170.9" y="280.0" width="9.6" height="9.6" fill="#0000FF"/><rect x="1171.8" y="310.4" width="9.6" height="9.6" fill="#0000FF"/><rect x="1172.3" y="269.7" width="9.6" height="9.6" fill="#0000FF"/><rect x="1173.6" y="292.0" width="9.6" height="9.6" fill="#0000FF"/><rect x="1174.9" y="306.1" width="9.6" height="9.6" fill="#0000FF"/><rect x="1176.2" y="271.3" width="9.6" height="9.6" fill="#0000FF"/><rect x="1176.7" y="236.5" width="9.6" height="9.6" fill="#0000FF"/><rect x="1177.5" y="296.7" width="9.6" height="9.6" fill="#0000FF"/><rect x="1178.9" y="275.1" width="9.6" height="9.6" fill="#0000FF"/><rect x="1180.2" y="265.6" width="9.6" height="9.6" fill="#0000FF"/><rect x="1181.5" y="290.4" width="9.6" height="9.6" fill="#0000FF"/><rect x="1182.9" y="276.5" width="9.6" height="9.6" fill="#0000FF"/><rect x="1184.2" y="270.8" width="9.6" height="9.6" fill="#0000FF"/><rect x="1185.5" y="279.6" width="9.6" height="9.6" fill="#0000FF"/><rect x="1186.9" y="272.8" width="9.6" height="9.6" fill="#0000FF"/><rect x="1188.2" y="278.7" width="9.6" height="9.6" fill="#0000FF"/><rect x="1188.7" y="310.4" width="9.6" height="9.6" fill="#0000FF"/><rect x="1189.5" y="279.9" width="9.6" height="9.6" fill="#0000FF"/><rect x="1190.9" y="279.0" width="9.6" height="9.6" fill="#0000FF"/><rect x="1192.2" y="284.6" width="9.6" height="9.6" fill="#0000FF"/><rect x="1193.0" y="252.8" width="9.6" height="9.6" fill="#0000FF"/><rect x="1193.5" y="274.7" width="9.6" height="9.6" fill="#0000FF"/>
<path d="M1198.7 300.4V320.0M1194.7 300.4h8.0M1194.7 320.0h8.0M1200.0 297.1V317.0M1196.0 297.1h8.0M1196.0 317.0h8.0M1200.0 269.5V291.3M1196.0 269.5h8.0M1196.0 291.3h8.0M1201.3 288.6V309.1M1197.3 288.6h8.0M1197.3 309.1h8.0M1202.6 315.0V333.7M1198.6 315.0h8.0M1198.6 333.7h8.0M1203.3 324.7V342.7M1199.3 324.7h8.0M1199.3 342.7h8.0M1203.9 283.8V304.6M1199.9 283.8h8.0M1199.9 304.6h8.0M1205.2 301.8V321.4M1201.2 301.8h8.0M1201.2 321.4h8.0M1206.5 316.1V334.7M1202.5 316.1h8.0M1202.5 334.7h8.0M1207.8 286.5V307.1M1203.8 286.5h8.0M1203.8 307.1h8.0M1209.1 303.7V323.1M1205.1 303.7h8.0M1205.1 323.1h8.0M1210.4 305.9V325.2M1206.4 305.9h8.0M1206.4 325.2h8.0M1211.7 285.1V305.8M1207.7 285.1h8.0M1207.7 305.8h8.0M1213.0 297.3V317.2M1209.0 297.3h8.0M1209.0 317.2h8.0M1214.3 309.1V328.2M1210.3 309.1h8.0M1210.3 328.2h8.0M1215.6 300.0V319.7M1211.6 300.0h8.0M1211.6 319.7h8.0M1216.9 309.9V328.9M1212.9 309.9h8.0M1212.9 328.9h8.0M1218.2 289.3V309.7M1214.2 289.3h8.0M1214.2 309.7h8.0M1219.5 292.2V312.5M1215.5 292.2h8.0M1215.5 312.5h8.0M1220.8 287.6V308.2M1216.8 287.6h8.0M1216.8 308.2h8.0M1222.1 301.9V321.5M1218.1 301.9h8.0M1218.1 321.5h8.0M1223.4 317.1V335.6M1219.4 317.1h8.0M1219.4 335.6h8.0M1224.7 305.0V324.3M1220.7 305.0h8.0M1220.7 324.3h8.0M1226.0 311.6V330.6M1222.0 311.6h8.0M1222.0 330.6h8.0M1227.3 297.5V317.4M1223.3 297.5h8.0M1223.3 317.4h8.0M1228.6 310.6V329.6M1224.6 310.6h8.0M1224.6 329.6h8.0M1229.9 287.3V307.8M1225.9 287.3h8.0M1225.9 307.8h8.0M1231.2 294.1V314.2M1227.2 294.1h8.0M1227.2 314.2h8.0M1232.5 308.0V327.2M1228.5 308.0h8.0M1228.5 327.2h8.0M1233.8 309.9V328.9M1229.8 309.9h8.0M1229.8 328.9h8.0M1234.8 276.3V297.7M1230.8 276.3h8.0M1230.8 297.7h8.0M1234.9 276.1V297.5M1230.9 276.1h8.0M1230.9 297.5h8.0M1235.1 298.9V318.7M1231.1 298.9h8.0M1231.1 318.7h8.0M1236.4 286.8V307.4M1232.4 286.8h8.0M1232.4 307.4h8.0M1237.7 293.3V313.4M1233.7 293.3h8.0M1233.7 313.4h8.0M1239.0 291.2V311.5M1235.0 291.2h8.0M1235.0 311.5h8.0M1240.3 293.8V313.9M1236.3 293.8h8.0M1236.3 313.9h8.0M1241.0 319.2V337.6M1237.0 319.2h8.0M1237.0 337.6h8.0M1241.6 312.9V331.7M1237.6 312.9h8.0M1237.6 331.7h8.0M1242.9 290.8V311.1M1238.9 290.8h8.0M1238.9 311.1h8.0M1244.2 315.7V334.3M1240.2 315.7h8.0M1240.2 334.3h8.0M1245.5 315.5V334.1M1241.5 315.5h8.0M1241.5 334.1h8.0M1246.8 285.6V306.3M1242.8 285.6h8.0M1242.8 306.3h8.0M1248.1 297.3V317.2M1244.1 297.3h8.0M1244.1 317.2h8.0M1249.4 301.4V321.0M1245.4 301.4h8.0M1245.4 321.0h8.0M1250.7 284.4V305.2M1246.7 284.4h8.0M1246.7 305.2h8.0M1252.0 299.0V318.8M1248.0 299.0h8.0M1248.0 318.8h8.0M1253.2 328.6V346.4M1249.2 328.6h8.0M1249.2 346.4h8.0M1253.3 316.4V335.0M1249.3 316.4h8.0M1249.3 335.0h8.0" stroke="#8000FF" stroke-width="1.0" fill="none"/>
<path d="M1198.7 303.4L1205.1 310.2L1198.7 317.0L1192.2 310.2Z" fill="#8000FF"/><path d="M1200.0 300.3L1206.4 307.1L1200.0 313.9L1193.5 307.1Z" fill="#8000FF"/><path d="M1200.0 273.6L1206.5 280.4L1200.0 287.2L1193.5 280.4Z" fill="#8000FF"/><path d="M1201.3 292.0L1207.7 298.8L1201.3 305.6L1194.8 298.8Z" fill="#8000FF"/><path d="M1202.6 317.5L1209.0 324.3L1202.6 331.1L1196.1 324.3Z" fill="#8000FF"/><path d="M1203.3 326.9L1209.8 333.7L1203.3 340.5L1196.8 333.7Z" fill="#8000FF"/><path d="M1203.9 287.4L1210.3 294.2L1203.9 301.0L1197.4 294.2Z" fill="#8000FF"/><path d="M1205.2 304.8L1211.6 311.6L1205.2 318.4L1198.7 311.6Z" fill="#8000FF"/><path d="M1206.5 318.6L1212.9 325.4L1206.5 332.2L1200.0 325.4Z" fill="#8000FF"/><path d="M1207.8 290.0L1214.2 296.8L1207.8 303.6L1201.3 296.8Z" fill="#8000FF"/><path d="M1209.1 306.6L1215.5 313.4L1209.1 320.2L1202.6 313.4Z" fill="#8000FF"/><path d="M1210.4 308.8L1216.8 315.6L1210.4 322.4L1203.9 315.6Z" fill="#8000FF"/><path d="M1211.7 288.6L1218.1 295.4L1211.7 302.2L1205.2 295.4Z" fill="#8000FF"/><path d="M1213.0 300.5L1219.4 307.3L1213.0 314.1L1206.5 307.3Z" fill="#8000FF"/><path d="M1214.3 311.8L1220.7 318.6L1214.3 325.4L1207.8 318.6Z" fill="#8000FF"/><path d="M1215.6 303.0L1222.0 309.8L1215.6 316.6L1209.1 309.8Z" fill="#8000FF"/><path d="M1216.9 312.6L1223.3 319.4L1216.9 326.2L1210.4 319.4Z" fill="#8000FF"/><path d="M1218.2 292.7L1224.6 299.5L1218.2 306.3L1211.7 299.5Z" fill="#8000FF"/><path d="M1219.5 295.5L1225.9 302.3L1219.5 309.1L1213.0 302.3Z" fill="#8000FF"/><path d="M1220.8 291.1L1227.3 297.9L1220.8 304.7L1214.3 297.9Z" fill="#8000FF"/><path d="M1222.1 304.9L1228.6 311.7L1222.1 318.5L1215.6 311.7Z" fill="#8000FF"/><path d="M1223.4 319.5L1229.9 326.3L1223.4 333.1L1216.9 326.3Z" fill="#8000FF"/><path d="M1224.7 307.9L1231.2 314.7L1224.7 321.5L1218.2 314.7Z" fill="#8000FF"/><path d="M1226.0 314.3L1232.5 321.1L1226.0 327.9L1219.5 321.1Z" fill="#8000FF"/><path d="M1227.3 300.6L1233.8 307.4L1227.3 314.2L1220.8 307.4Z" fill="#8000FF"/><path d="M1228.6 313.3L1235.1 320.1L1228.6 326.9L1222.1 320.1Z" fill="#8000FF"/><path d="M1229.9 290.8L1236.4 297.6L1229.9 304.4L1223.4 297.6Z" fill="#8000FF"/><path d="M1231.2 297.4L1237.7 304.2L1231.2 311.0L1224.7 304.2Z" fill="#8000FF"/><path d="M1232.5 310.8L1239.0 317.6L1232.5 324.4L1226.1 317.6Z" fill="#8000FF"/><path d="M1233.8 312.6L1240.3 319.4L1233.8 326.2L1227.4 319.4Z" fill="#8000FF"/><path d="M1234.8 280.2L1241.3 287.0L1234.8 293.8L1228.3 287.0Z" fill="#8000FF"/><path d="M1234.9 280.0L1241.4 286.8L1234.9 293.6L1228.4 286.8Z" fill="#8000FF"/><path d="M1235.1 302.0L1241.6 308.8L1235.1 315.6L1228.7 308.8Z" fill="#8000FF"/><path d="M1236.4 290.3L1242.9 297.1L1236.4 303.9L1230.0 297.1Z" fill="#8000FF"/><path d="M1237.7 296.5L1244.2 303.3L1237.7 310.1L1231.3 303.3Z" fill="#8000FF"/><path d="M1239.0 294.5L1245.5 301.3L1239.0 308.1L1232.6 301.3Z" fill="#8000FF"/><path d="M1240.3 297.0L1246.8 303.8L1240.3 310.6L1233.9 303.8Z" fill="#8000FF"/><path d="M1241.0 321.6L1247.5 328.4L1241.0 335.2L1234.5 328.4Z" fill="#8000FF"/><path d="M1241.6 315.5L1248.1 322.3L1241.6 329.1L1235.2 322.3Z" fill="#8000FF"/><path d="M1242.9 294.2L1249.4 301.0L1242.9 307.8L1236.5 301.0Z" fill="#8000FF"/><path d="M1244.2 318.2L1250.7 325.0L1244.2 331.8L1237.8 325.0Z" fill="#8000FF"/><path d="M1245.5 318.0L1252.0 324.8L1245.5 331.6L1239.1 324.8Z" fill="#8000FF"/><path d="M1246.8 289.1L1253.3 295.9L1246.8 302.7L1240.4 295.9Z" fill="#8000FF"/><path d="M1248.1 300.5L1254.6 307.3L1248.1 314.1L1241.7 307.3Z" fill="#8000FF"/><path d="M1249.4 304.4L1255.9 311.2L1249.4 318.0L1243.0 311.2Z" fill="#8000FF"/><path d="M1250.7 288.0L1257.2 294.8L1250.7 301.6L1244.3 294.8Z" fill="#8000FF"/><path d="M1252.0 302.1L1258.5 308.9L1252.0 315.7L1245.6 308.9Z" fill="#8000FF"/><path d="M1253.2 330.7L1259.7 337.5L1253.2 344.3L1246.7 337.5Z" fill="#8000FF"/><path d="M1253.3 318.9L1259.8 325.7L1253.3 332.5L1246.9 325.7Z" fill="#8000FF"/>
<path d="M1250.7 301.3V321.0M1246.7 301.3h8.0M1246.7 321.0h8.0M1252.1 294.8V314.9M1248.1 294.8h8.0M1248.1 314.9h8.0M1253.6 301.6V321.2M1249.6 301.6h8.0M1249.6 321.2h8.0M1255.0 284.7V305.4M1251.0 284.7h8.0M1251.0 305.4h8.0M1256.4 312.4V331.2M1252.4 312.4h8.0M1252.4 331.2h8.0M1257.9 312.8V331.7M1253.9 312.8h8.0M1253.9 331.7h8.0M1259.3 305.1V324.4M1255.3 305.1h8.0M1255.3 324.4h8.0M1260.7 282.6V303.5M1256.7 282.6h8.0M1256.7 303.5h8.0M1262.1 299.0V318.8M1258.1 299.0h8.0M1258.1 318.8h8.0M1263.6 290.2V310.6M1259.6 290.2h8.0M1259.6 310.6h8.0M1265.0 286.7V307.3M1261.0 286.7h8.0M1261.0 307.3h8.0M1266.4 318.7V337.1M1262.4 318.7h8.0M1262.4 337.1h8.0M1267.9 320.7V339.0M1263.9 320.7h8.0M1263.9 339.0h8.0M1269.3 277.3V298.6M1265.3 277.3h8.0M1265.3 298.6h8.0M1270.7 301.9V321.5M1266.7 301.9h8.0M1266.7 321.5h8.0M1271.6 324.3V342.3M1267.6 324.3h8.0M1267.6 342.3h8.0M1272.1 293.6V313.8M1268.1 293.6h8.0M1268.1 313.8h8.0M1273.6 286.5V307.1M1269.6 286.5h8.0M1269.6 307.1h8.0M1274.6 255.8V278.6M1270.6 255.8h8.0M1270.6 278.6h8.0M1275.0 283.4V304.2M1271.0 283.4h8.0M1271.0 304.2h8.0M1275.2 259.7V282.1M1271.2 259.7h8.0M1271.2 282.1h8.0M1275.8 273.6V295.2M1271.8 273.6h8.0M1271.8 295.2h8.0M1276.4 295.9V315.9M1272.4 295.9h8.0M1272.4 315.9h8.0M1277.9 288.9V309.4M1273.9 288.9h8.0M1273.9 309.4h8.0M1279.3 296.3V316.2M1275.3 296.3h8.0M1275.3 316.2h8.0M1280.7 295.5V315.5M1276.7 295.5h8.0M1276.7 315.5h8.0M1282.1 278.5V299.7M1278.1 278.5h8.0M1278.1 299.7h8.0M1283.6 298.9V318.7M1279.6 298.9h8.0M1279.6 318.7h8.0M1285.0 305.8V325.1M1281.0 305.8h8.0M1281.0 325.1h8.0M1286.2 306.5V325.7M1282.2 306.5h8.0M1282.2 325.7h8.0M1286.4 305.4V324.7M1282.4 305.4h8.0M1282.4 324.7h8.0M1287.9 294.0V314.1M1283.9 294.0h8.0M1283.9 314.1h8.0M1289.3 275.7V297.1M1285.3 275.7h8.0M1285.3 297.1h8.0M1289.9 263.5V285.7M1285.9 263.5h8.0M1285.9 285.7h8.0M1290.7 274.4V295.9M1286.7 274.4h8.0M1286.7 295.9h8.0M1292.1 278.6V299.7M1288.1 278.6h8.0M1288.1 299.7h8.0M1293.6 304.5V323.9M1289.6 304.5h8.0M1289.6 323.9h8.0M1295.0 284.0V304.8M1291.0 284.0h8.0M1291.0 304.8h8.0M1296.4 286.0V306.7M1292.4 286.0h8.0M1292.4 306.7h8.0M1297.9 303.1V322.6M1293.9 303.1h8.0M1293.9 322.6h8.0M1299.3 284.4V305.1M1295.3 284.4h8.0M1295.3 305.1h8.0M1300.7 291.9V312.1M1296.7 291.9h8.0M1296.7 312.1h8.0M1302.1 288.3V308.8M1298.1 288.3h8.0M1298.1 308.8h8.0M1303.6 276.4V297.7M1299.6 276.4h8.0M1299.6 297.7h8.0M1305.0 293.0V313.2M1301.0 293.0h8.0M1301.0 313.2h8.0M1306.4 340.0V357.0M1302.4 340.0h8.0M1302.4 357.0h8.0M1306.4 301.4V321.0M1302.4 301.4h8.0M1302.4 321.0h8.0M1307.0 314.1V332.9M1303.0 314.1h8.0M1303.0 332.9h8.0M1307.9 279.3V300.4M1303.9 279.3h8.0M1303.9 300.4h8.0M1309.3 281.5V302.4M1305.3 281.5h8.0M1305.3 302.4h8.0M1310.7 287.5V308.1M1306.7 287.5h8.0M1306.7 308.1h8.0M1310.8 280.3V301.4M1306.8 280.3h8.0M1306.8 301.4h8.0M1312.1 275.5V296.8M1308.1 275.5h8.0M1308.1 296.8h8.0M1312.2 297.2V317.1M1308.2 297.2h8.0M1308.2 317.1h8.0M1313.6 290.2V310.6M1309.6 290.2h8.0M1309.6 310.6h8.0M1313.8 289.4V309.8M1309.8 289.4h8.0M1309.8 309.8h8.0M1315.0 300.5V320.2M1311.0 300.5h8.0M1311.0 320.2h8.0M1315.2 298.5V318.4M1311.2 298.5h8.0M1311.2 318.4h8.0M1315.6 268.6V290.4M1311.6 268.6h8.0M1311.6 290.4h8.0M1316.1 315.8V334.4M1312.1 315.8h8.0M1312.1 334.4h8.0M1316.4 295.4V315.4M1312.4 295.4h8.0M1312.4 315.4h8.0M1316.8 278.8V300.0M1312.8 278.8h8.0M1312.8 300.0h8.0M1316.8 316.6V335.2M1312.8 316.6h8.0M1312.8 335.2h8.0M1317.9 291.4V311.7M1313.9 291.4h8.0M1313.9 311.7h8.0M1318.2 305.6V324.9M1314.2 305.6h8.0M1314.2 324.9h8.0M1319.2 267.7V289.7M1315.2 267.7h8.0M1315.2 289.7h8.0M1319.3 301.7V321.3M1315.3 301.7h8.0M1315.3 321.3h8.0M1319.8 278.2V299.4M1315.8 278.2h8.0M1315.8 299.4h8.0M1321.2 281.0V302.0M1317.2 281.0h8.0M1317.2 302.0h8.0M1322.7 317.7V336.2M1318.7 317.7h8.0M1318.7 336.2h8.0M1322.8 306.9V326.1M1318.8 306.9h8.0M1318.8 326.1h8.0M1324.2 318.3V336.7M1320.2 318.3h8.0M1320.2 336.7h8.0M1324.2 312.5V331.4M1320.2 312.5h8.0M1320.2 331.4h8.0M1325.7 325.4V343.3M1321.7 325.4h8.0M1321.7 343.3h8.0M1325.8 291.8V312.0M1321.8 291.8h8.0M1321.8 312.0h8.0M1327.1 316.3V334.9M1323.1 316.3h8.0M1323.1 334.9h8.0M1327.2 291.0V311.3M1323.2 291.0h8.0M1323.2 311.3h8.0M1328.3 285.4V306.2M1324.3 285.4h8.0M1324.3 306.2h8.0M1328.6 315.0V333.7M1324.6 315.0h8.0M1324.6 333.7h8.0M1330.1 322.0V340.2M1326.1 322.0h8.0M1326.1 340.2h8.0M1331.6 316.0V334.6M1327.6 316.0h8.0M1327.6 334.6h8.0M1333.0 326.0V343.9M1329.0 326.0h8.0M1329.0 343.9h8.0M1333.2 298.1V317.9M1329.2 298.1h8.0M1329.2 317.9h8.0M1334.5 329.6V347.3M1330.5 329.6h8.0M1330.5 347.3h8.0M1336.0 328.7V346.4M1332.0 328.7h8.0M1332.0 346.4h8.0M1337.4 322.5V340.7M1333.4 322.5h8.0M1333.4 340.7h8.0M1338.9 319.8V338.1M1334.9 319.8h8.0M1334.9 338.1h8.0M1340.4 321.6V339.8M1336.4 321.6h8.0M1336.4 339.8h8.0M1340.7 325.2V343.2M1336.7 325.2h8.0M1336.7 343.2h8.0M1341.2 308.2V327.4M1337.2 308.2h8.0M1337.2 327.4h8.0M1341.9 312.7V331.5M1337.9 312.7h8.0M1337.9 331.5h8.0M1342.2 335.9V353.2M1338.2 335.9h8.0M1338.2 353.2h8.0M1343.3 327.3V345.2M1339.3 327.3h8.0M1339.3 345.2h8.0M1343.7 339.8V356.8M1339.7 339.8h8.0M1339.7 356.8h8.0M1344.2 352.5V368.7M1340.2 352.5h8.0M1340.2 368.7h8.0M1344.8 319.4V337.8M1340.8 319.4h8.0M1340.8 337.8h8.0M1345.1 334.2V351.6M1341.1 334.2h8.0M1341.1 351.6h8.0M1346.3 319.2V337.6M1342.3 319.2h8.0M1342.3 337.6h8.0M1346.6 348.1V364.6M1342.6 348.1h8.0M1342.6 364.6h8.0M1348.1 342.4V359.3M1344.1 342.4h8.0M1344.1 359.3h8.0M1349.6 329.9V347.6M1345.6 329.9h8.0M1345.6 347.6h8.0M1351.0 338.2V355.3M1347.0 338.2h8.0M1347.0 355.3h8.0M1352.2 304.4V323.8M1348.2 304.4h8.0M1348.2 323.8h8.0M1352.5 349.3V365.7M1348.5 349.3h8.0M1348.5 365.7h8.0M1354.0 338.0V355.1M1350.0 338.0h8.0M1350.0 355.1h8.0M1355.4 340.4V357.3M1351.4 340.4h8.0M1351.4 357.3h8.0M1356.9 324.7V342.8M1352.9 324.7h8.0M1352.9 342.8h8.0M1357.7 370.2V385.2M1353.7 370.2h8.0M1353.7 385.2h8.0M1358.4 337.1V354.3M1354.4 337.1h8.0M1354.4 354.3h8.0M1359.9 336.3V353.5M1355.9 336.3h8.0M1355.9 353.5h8.0M1361.3 334.6V351.9M1357.3 334.6h8.0M1357.3 351.9h8.0M1361.7 351.3V367.5M1357.7 351.3h8.0M1357.7 367.5h8.0M1362.8 335.1V352.4M1358.8 335.1h8.0M1358.8 352.4h8.0M1363.2 350.1V366.4M1359.2 350.1h8.0M1359.2 366.4h8.0M1363.8 298.1V317.9M1359.8 298.1h8.0M1359.8 317.9h8.0M1364.3 339.9V356.9M1360.3 339.9h8.0M1360.3 356.9h8.0M1364.7 342.4V359.2M1360.7 342.4h8.0M1360.7 359.2h8.0M1366.1 349.0V365.3M1362.1 349.0h8.0M1362.1 365.3h8.0M1366.8 296.8V316.8M1362.8 296.8h8.0M1362.8 316.8h8.0M1367.6 361.5V377.0M1363.6 361.5h8.0M1363.6 377.0h8.0M1368.7 362.7V378.1M1364.7 362.7h8.0M1364.7 378.1h8.0M1369.1 348.3V364.8M1365.1 348.3h8.0M1365.1 364.8h8.0M1370.6 339.3V356.3M1366.6 339.3h8.0M1366.6 356.3h8.0M1372.0 338.5V355.6M1368.0 338.5h8.0M1368.0 355.6h8.0M1373.5 351.2V367.4M1369.5 351.2h8.0M1369.5 367.4h8.0M1375.0 339.7V356.7M1371.0 339.7h8.0M1371.0 356.7h8.0M1376.4 340.7V357.6M1372.4 340.7h8.0M1372.4 357.6h8.0M1377.9 341.0V358.0M1373.9 341.0h8.0M1373.9 358.0h8.0M1378.5 363.9V379.3M1374.5 363.9h8.0M1374.5 379.3h8.0M1379.4 349.3V365.6M1375.4 349.3h8.0M1375.4 365.6h8.0M1380.9 362.1V377.6M1376.9 362.1h8.0M1376.9 377.6h8.0M1381.7 329.2V346.9M1377.7 329.2h8.0M1377.7 346.9h8.0M1382.3 350.0V366.3M1378.3 350.0h8.0M1378.3 366.3h8.0M1383.2 327.4V345.2M1379.2 327.4h8.0M1379.2 345.2h8.0M1383.3 303.8V323.2M1379.3 303.8h8.0M1379.3 323.2h8.0M1383.8 349.4V365.7M1379.8 349.4h8.0M1379.8 365.7h8.0M1384.7 336.6V353.8M1380.7 336.6h8.0M1380.7 353.8h8.0M1385.3 348.9V365.2M1381.3 348.9h8.0M1381.3 365.2h8.0M1386.1 342.3V359.1M1382.1 342.3h8.0M1382.1 359.1h8.0M1387.6 335.7V353.0M1383.6 335.7h8.0M1383.6 353.0h8.0M1388.2 313.3V332.1M1384.2 313.3h8.0M1384.2 332.1h8.0M1389.0 326.6V344.5M1385.0 326.6h8.0M1385.0 344.5h8.0M1390.5 334.1V351.5M1386.5 334.1h8.0M1386.5 351.5h8.0M1390.7 347.5V363.9M1386.7 347.5h8.0M1386.7 363.9h8.0M1390.7 335.4V352.7M1386.7 335.4h8.0M1386.7 352.7h8.0M1392.0 342.7V359.5M1388.0 342.7h8.0M1388.0 359.5h8.0M1392.1 343.8V360.6M1388.1 343.8h8.0M1388.1 360.6h8.0M1393.4 317.7V336.2M1389.4 317.7h8.0M1389.4 336.2h8.0M1393.5 331.5V349.1M1389.5 331.5h8.0M1389.5 349.1h8.0M1394.9 320.4V338.8M1390.9 320.4h8.0M1390.9 338.8h8.0M1394.9 343.1V359.8M1390.9 343.1h8.0M1390.9 359.8h8.0M1396.3 348.5V364.9M1392.3 348.5h8.0M1392.3 364.9h8.0M1396.3 333.1V350.5M1392.3 333.1h8.0M1392.3 350.5h8.0M1396.8 291.1V311.5M1392.8 291.1h8.0M1392.8 311.5h8.0M1397.7 330.0V347.6M1393.7 330.0h8.0M1393.7 347.6h8.0M1397.8 335.3V352.6M1393.8 335.3h8.0M1393.8 352.6h8.0M1397.9 291.1V311.5M1393.9 291.1h8.0M1393.9 311.5h8.0M1399.1 344.9V361.5M1395.1 344.9h8.0M1395.1 361.5h8.0M1399.3 333.9V351.3M1395.3 333.9h8.0M1395.3 351.3h8.0M1399.8 309.5V328.5M1395.8 309.5h8.0M1395.8 328.5h8.0M1400.5 339.9V356.9M1396.5 339.9h8.0M1396.5 356.9h8.0M1401.9 345.9V362.5M1397.9 345.9h8.0M1397.9 362.5h8.0M1403.3 316.3V334.9M1399.3 316.3h8.0M1399.3 334.9h8.0M1404.7 346.8V363.3M1400.7 346.8h8.0M1400.7 363.3h8.0M1406.1 341.6V358.5M1402.1 341.6h8.0M1402.1 358.5h8.0M1407.1 352.5V368.7M1403.1 352.5h8.0M1403.1 368.7h8.0M1407.5 348.5V364.9M1403.5 348.5h8.0M1403.5 364.9h8.0M1408.9 349.2V365.5M1404.9 349.2h8.0M1404.9 365.5h8.0M1410.3 324.7V342.7M1406.3 324.7h8.0M1406.3 342.7h8.0M1411.4 300.7V320.3M1407.4 300.7h8.0M1407.4 320.3h8.0M1411.7 338.2V355.3M1407.7 338.2h8.0M1407.7 355.3h8.0M1413.1 319.6V338.0M1409.1 319.6h8.0M1409.1 338.0h8.0M1413.2 294.4V314.4M1409.2 294.4h8.0M1409.2 314.4h8.0M1414.4 281.6V302.6M1410.4 281.6h8.0M1410.4 302.6h8.0M1414.5 335.6V352.9M1410.5 335.6h8.0M1410.5 352.9h8.0M1415.9 347.0V363.5M1411.9 347.0h8.0M1411.9 363.5h8.0M1417.3 321.4V339.7M1413.3 321.4h8.0M1413.3 339.7h8.0M1418.1 313.3V332.1M1414.1 313.3h8.0M1414.1 332.1h8.0" stroke="#FF8000" stroke-width="1.0" fill="none"/>
<path d="M1250.7 305.2L1246.0 308.2L1246.0 314.1L1250.7 317.0L1255.4 314.1L1255.4 308.2Z" fill="#FF8000"/><path d="M1252.1 299.0L1247.4 301.9L1247.4 307.8L1252.1 310.8L1256.8 307.8L1256.8 301.9Z" fill="#FF8000"/><path d="M1253.6 305.5L1248.9 308.5L1248.9 314.4L1253.6 317.3L1258.3 314.4L1258.3 308.5Z" fill="#FF8000"/><path d="M1255.0 289.2L1250.3 292.1L1250.3 298.0L1255.0 301.0L1259.7 298.0L1259.7 292.1Z" fill="#FF8000"/><path d="M1256.4 315.9L1251.7 318.8L1251.7 324.7L1256.4 327.7L1261.1 324.7L1261.1 318.8Z" fill="#FF8000"/><path d="M1257.9 316.3L1253.2 319.3L1253.2 325.2L1257.9 328.1L1262.6 325.2L1262.6 319.3Z" fill="#FF8000"/><path d="M1259.3 308.9L1254.6 311.8L1254.6 317.7L1259.3 320.7L1264.0 317.7L1264.0 311.8Z" fill="#FF8000"/><path d="M1260.7 287.2L1256.0 290.1L1256.0 296.0L1260.7 299.0L1265.4 296.0L1265.4 290.1Z" fill="#FF8000"/><path d="M1262.1 303.0L1257.4 306.0L1257.4 311.9L1262.1 314.8L1266.8 311.9L1266.8 306.0Z" fill="#FF8000"/><path d="M1263.6 294.5L1258.9 297.5L1258.9 303.4L1263.6 306.3L1268.3 303.4L1268.3 297.5Z" fill="#FF8000"/><path d="M1265.0 291.1L1260.3 294.0L1260.3 299.9L1265.0 302.9L1269.7 299.9L1269.7 294.0Z" fill="#FF8000"/><path d="M1266.4 322.0L1261.7 325.0L1261.7 330.9L1266.4 333.8L1271.1 330.9L1271.1 325.0Z" fill="#FF8000"/><path d="M1267.9 323.9L1263.2 326.9L1263.2 332.8L1267.9 335.7L1272.6 332.8L1272.6 326.9Z" fill="#FF8000"/><path d="M1269.3 282.1L1264.6 285.0L1264.6 290.9L1269.3 293.9L1274.0 290.9L1274.0 285.0Z" fill="#FF8000"/><path d="M1270.7 305.8L1266.0 308.7L1266.0 314.6L1270.7 317.6L1275.4 314.6L1275.4 308.7Z" fill="#FF8000"/><path d="M1271.6 327.4L1266.9 330.4L1266.9 336.2L1271.6 339.2L1276.3 336.2L1276.3 330.4Z" fill="#FF8000"/><path d="M1272.1 297.8L1267.4 300.7L1267.4 306.6L1272.1 309.6L1276.8 306.6L1276.8 300.7Z" fill="#FF8000"/><path d="M1273.6 290.9L1268.9 293.9L1268.9 299.8L1273.6 302.7L1278.3 299.8L1278.3 293.9Z" fill="#FF8000"/><path d="M1274.6 261.3L1269.9 264.2L1269.9 270.1L1274.6 273.1L1279.3 270.1L1279.3 264.2Z" fill="#FF8000"/><path d="M1275.0 287.9L1270.3 290.8L1270.3 296.7L1275.0 299.7L1279.7 296.7L1279.7 290.8Z" fill="#FF8000"/><path d="M1275.2 265.0L1270.5 267.9L1270.5 273.8L1275.2 276.8L1279.9 273.8L1279.9 267.9Z" fill="#FF8000"/><path d="M1275.8 278.5L1271.1 281.4L1271.1 287.3L1275.8 290.3L1280.5 287.3L1280.5 281.4Z" fill="#FF8000"/><path d="M1276.4 300.0L1271.7 303.0L1271.7 308.9L1276.4 311.8L1281.1 308.9L1281.1 303.0Z" fill="#FF8000"/><path d="M1277.9 293.3L1273.2 296.2L1273.2 302.1L1277.9 305.1L1282.6 302.1L1282.6 296.2Z" fill="#FF8000"/><path d="M1279.3 300.4L1274.6 303.3L1274.6 309.2L1279.3 312.2L1284.0 309.2L1284.0 303.3Z" fill="#FF8000"/><path d="M1280.7 299.6L1276.0 302.6L1276.0 308.5L1280.7 311.4L1285.4 308.5L1285.4 302.6Z" fill="#FF8000"/><path d="M1282.1 283.2L1277.4 286.2L1277.4 292.1L1282.1 295.0L1286.8 292.1L1286.8 286.2Z" fill="#FF8000"/><path d="M1283.6 302.9L1278.9 305.9L1278.9 311.8L1283.6 314.7L1288.3 311.8L1288.3 305.9Z" fill="#FF8000"/><path d="M1285.0 309.6L1280.3 312.5L1280.3 318.4L1285.0 321.4L1289.7 318.4L1289.7 312.5Z" fill="#FF8000"/><path d="M1286.2 310.2L1281.5 313.2L1281.5 319.1L1286.2 322.0L1290.9 319.1L1290.9 313.2Z" fill="#FF8000"/><path d="M1286.4 309.2L1281.7 312.1L1281.7 318.0L1286.4 321.0L1291.1 318.0L1291.1 312.1Z" fill="#FF8000"/><path d="M1287.9 298.1L1283.2 301.1L1283.2 307.0L1287.9 309.9L1292.6 307.0L1292.6 301.1Z" fill="#FF8000"/><path d="M1289.3 280.5L1284.6 283.4L1284.6 289.3L1289.3 292.3L1294.0 289.3L1294.0 283.4Z" fill="#FF8000"/><path d="M1289.9 268.7L1285.2 271.7L1285.2 277.6L1289.9 280.5L1294.6 277.6L1294.6 271.7Z" fill="#FF8000"/><path d="M1290.7 279.2L1286.0 282.2L1286.0 288.1L1290.7 291.0L1295.4 288.1L1295.4 282.2Z" fill="#FF8000"/><path d="M1292.1 283.3L1287.4 286.2L1287.4 292.1L1292.1 295.1L1296.8 292.1L1296.8 286.2Z" fill="#FF8000"/><path d="M1293.6 308.3L1288.9 311.2L1288.9 317.1L1293.6 320.1L1298.3 317.1L1298.3 311.2Z" fill="#FF8000"/><path d="M1295.0 288.5L1290.3 291.4L1290.3 297.3L1295.0 300.3L1299.7 297.3L1299.7 291.4Z" fill="#FF8000"/><path d="M1296.4 290.5L1291.7 293.4L1291.7 299.3L1296.4 302.3L1301.1 299.3L1301.1 293.4Z" fill="#FF8000"/><path d="M1297.9 306.9L1293.2 309.9L1293.2 315.8L1297.9 318.7L1302.6 315.8L1302.6 309.9Z" fill="#FF8000"/><path d="M1299.3 288.8L1294.6 291.8L1294.6 297.7L1299.3 300.6L1304.0 297.7L1304.0 291.8Z" fill="#FF8000"/><path d="M1300.7 296.1L1296.0 299.1L1296.0 305.0L1300.7 307.9L1305.4 305.0L1305.4 299.1Z" fill="#FF8000"/><path d="M1302.1 292.6L1297.4 295.6L1297.4 301.5L1302.1 304.4L1306.8 301.5L1306.8 295.6Z" fill="#FF8000"/><path d="M1303.6 281.1L1298.9 284.1L1298.9 290.0L1303.6 292.9L1308.3 290.0L1308.3 284.1Z" fill="#FF8000"/><path d="M1305.0 297.2L1300.3 300.2L1300.3 306.1L1305.0 309.0L1309.7 306.1L1309.7 300.2Z" fill="#FF8000"/><path d="M1306.4 342.6L1301.7 345.6L1301.7 351.4L1306.4 354.4L1311.1 351.4L1311.1 345.6Z" fill="#FF8000"/><path d="M1306.4 305.3L1301.7 308.2L1301.7 314.1L1306.4 317.1L1311.1 314.1L1311.1 308.2Z" fill="#FF8000"/><path d="M1307.0 317.6L1302.3 320.6L1302.3 326.4L1307.0 329.4L1311.7 326.4L1311.7 320.6Z" fill="#FF8000"/><path d="M1307.9 283.9L1303.2 286.9L1303.2 292.8L1307.9 295.7L1312.6 292.8L1312.6 286.9Z" fill="#FF8000"/><path d="M1309.3 286.1L1304.6 289.0L1304.6 294.9L1309.3 297.9L1314.0 294.9L1314.0 289.0Z" fill="#FF8000"/><path d="M1310.7 291.9L1306.0 294.8L1306.0 300.7L1310.7 303.7L1315.4 300.7L1315.4 294.8Z" fill="#FF8000"/><path d="M1310.8 284.9L1306.0 287.9L1306.0 293.8L1310.8 296.7L1315.5 293.8L1315.5 287.9Z" fill="#FF8000"/><path d="M1312.1 280.2L1307.4 283.2L1307.4 289.1L1312.1 292.0L1316.8 289.1L1316.8 283.2Z" fill="#FF8000"/><path d="M1312.2 301.2L1307.5 304.2L1307.5 310.1L1312.2 313.0L1317.0 310.1L1317.0 304.2Z" fill="#FF8000"/><path d="M1313.6 294.5L1308.9 297.4L1308.9 303.3L1313.6 306.3L1318.3 303.3L1318.3 297.4Z" fill="#FF8000"/><path d="M1313.8 293.7L1309.0 296.6L1309.0 302.5L1313.8 305.5L1318.5 302.5L1318.5 296.6Z" fill="#FF8000"/><path d="M1315.0 304.5L1310.3 307.4L1310.3 313.3L1315.0 316.3L1319.7 313.3L1319.7 307.4Z" fill="#FF8000"/><path d="M1315.2 302.6L1310.5 305.5L1310.5 311.4L1315.2 314.4L1320.0 311.4L1320.0 305.5Z" fill="#FF8000"/><path d="M1315.6 273.6L1310.9 276.6L1310.9 282.4L1315.6 285.4L1320.3 282.4L1320.3 276.6Z" fill="#FF8000"/><path d="M1316.1 319.2L1311.4 322.2L1311.4 328.1L1316.1 331.0L1320.8 328.1L1320.8 322.2Z" fill="#FF8000"/><path d="M1316.4 299.5L1311.7 302.4L1311.7 308.3L1316.4 311.3L1321.1 308.3L1321.1 302.4Z" fill="#FF8000"/><path d="M1316.8 283.5L1312.0 286.5L1312.0 292.4L1316.8 295.3L1321.5 292.4L1321.5 286.5Z" fill="#FF8000"/><path d="M1316.8 320.0L1312.1 322.9L1312.1 328.8L1316.8 331.8L1321.5 328.8L1321.5 322.9Z" fill="#FF8000"/><path d="M1317.9 295.6L1313.2 298.6L1313.2 304.5L1317.9 307.4L1322.6 304.5L1322.6 298.6Z" fill="#FF8000"/><path d="M1318.2 309.3L1313.5 312.3L1313.5 318.2L1318.2 321.1L1323.0 318.2L1323.0 312.3Z" fill="#FF8000"/><path d="M1319.2 272.8L1314.5 275.8L1314.5 281.6L1319.2 284.6L1323.9 281.6L1323.9 275.8Z" fill="#FF8000"/><path d="M1319.3 305.6L1314.6 308.6L1314.6 314.5L1319.3 317.4L1324.0 314.5L1324.0 308.6Z" fill="#FF8000"/><path d="M1319.8 282.9L1315.0 285.8L1315.0 291.7L1319.8 294.7L1324.5 291.7L1324.5 285.8Z" fill="#FF8000"/><path d="M1321.2 285.6L1316.5 288.5L1316.5 294.4L1321.2 297.4L1326.0 294.4L1326.0 288.5Z" fill="#FF8000"/><path d="M1322.7 321.0L1318.0 324.0L1318.0 329.9L1322.7 332.8L1327.4 329.9L1327.4 324.0Z" fill="#FF8000"/><path d="M1322.8 310.6L1318.0 313.5L1318.0 319.4L1322.8 322.4L1327.5 319.4L1327.5 313.5Z" fill="#FF8000"/><path d="M1324.2 321.6L1319.5 324.5L1319.5 330.4L1324.2 333.4L1328.9 330.4L1328.9 324.5Z" fill="#FF8000"/><path d="M1324.2 316.1L1319.5 319.0L1319.5 324.9L1324.2 327.9L1329.0 324.9L1329.0 319.0Z" fill="#FF8000"/><path d="M1325.7 328.4L1321.0 331.4L1321.0 337.3L1325.7 340.2L1330.4 337.3L1330.4 331.4Z" fill="#FF8000"/><path d="M1325.8 296.0L1321.0 298.9L1321.0 304.8L1325.8 307.8L1330.5 304.8L1330.5 298.9Z" fill="#FF8000"/><path d="M1327.1 319.7L1322.4 322.6L1322.4 328.5L1327.1 331.5L1331.8 328.5L1331.8 322.6Z" fill="#FF8000"/><path d="M1327.2 295.2L1322.5 298.2L1322.5 304.1L1327.2 307.0L1332.0 304.1L1332.0 298.2Z" fill="#FF8000"/><path d="M1328.3 289.9L1323.6 292.9L1323.6 298.8L1328.3 301.7L1333.0 298.8L1333.0 292.9Z" fill="#FF8000"/><path d="M1328.6 318.5L1323.9 321.4L1323.9 327.3L1328.6 330.3L1333.3 327.3L1333.3 321.4Z" fill="#FF8000"/><path d="M1330.1 325.2L1325.4 328.2L1325.4 334.1L1330.1 337.0L1334.8 334.1L1334.8 328.2Z" fill="#FF8000"/><path d="M1331.6 319.4L1326.9 322.3L1326.9 328.2L1331.6 331.2L1336.3 328.2L1336.3 322.3Z" fill="#FF8000"/><path d="M1333.0 329.1L1328.3 332.0L1328.3 337.9L1333.0 340.9L1337.7 337.9L1337.7 332.0Z" fill="#FF8000"/><path d="M1333.2 302.1L1328.5 305.1L1328.5 310.9L1333.2 313.9L1337.9 310.9L1337.9 305.1Z" fill="#FF8000"/><path d="M1334.5 332.5L1329.8 335.5L1329.8 341.4L1334.5 344.3L1339.2 341.4L1339.2 335.5Z" fill="#FF8000"/><path d="M1336.0 331.7L1331.3 334.6L1331.3 340.5L1336.0 343.5L1340.7 340.5L1340.7 334.6Z" fill="#FF8000"/><path d="M1337.4 325.7L1332.7 328.7L1332.7 334.6L1337.4 337.5L1342.1 334.6L1342.1 328.7Z" fill="#FF8000"/><path d="M1338.9 323.1L1334.2 326.0L1334.2 331.9L1338.9 334.9L1343.6 331.9L1343.6 326.0Z" fill="#FF8000"/><path d="M1340.4 324.8L1335.7 327.7L1335.7 333.6L1340.4 336.6L1345.1 333.6L1345.1 327.7Z" fill="#FF8000"/><path d="M1340.7 328.3L1336.0 331.3L1336.0 337.2L1340.7 340.1L1345.4 337.2L1345.4 331.3Z" fill="#FF8000"/><path d="M1341.2 311.9L1336.5 314.9L1336.5 320.8L1341.2 323.7L1345.9 320.8L1345.9 314.9Z" fill="#FF8000"/><path d="M1341.9 316.2L1337.2 319.2L1337.2 325.1L1341.9 328.0L1346.6 325.1L1346.6 319.2Z" fill="#FF8000"/><path d="M1342.2 338.6L1337.5 341.6L1337.5 347.5L1342.2 350.4L1346.9 347.5L1346.9 341.6Z" fill="#FF8000"/><path d="M1343.3 330.4L1338.6 333.3L1338.6 339.2L1343.3 342.2L1348.0 339.2L1348.0 333.3Z" fill="#FF8000"/><path d="M1343.7 342.4L1339.0 345.4L1339.0 351.3L1343.7 354.2L1348.4 351.3L1348.4 345.4Z" fill="#FF8000"/><path d="M1344.2 354.7L1339.5 357.7L1339.5 363.6L1344.2 366.5L1348.9 363.6L1348.9 357.7Z" fill="#FF8000"/><path d="M1344.8 322.7L1340.1 325.7L1340.1 331.6L1344.8 334.5L1349.5 331.6L1349.5 325.7Z" fill="#FF8000"/><path d="M1345.1 337.0L1340.4 340.0L1340.4 345.9L1345.1 348.8L1349.8 345.9L1349.8 340.0Z" fill="#FF8000"/><path d="M1346.3 322.5L1341.6 325.4L1341.6 331.3L1346.3 334.3L1351.0 331.3L1351.0 325.4Z" fill="#FF8000"/><path d="M1346.6 350.4L1341.9 353.4L1341.9 359.3L1346.6 362.2L1351.3 359.3L1351.3 353.4Z" fill="#FF8000"/><path d="M1348.1 345.0L1343.4 347.9L1343.4 353.8L1348.1 356.8L1352.8 353.8L1352.8 347.9Z" fill="#FF8000"/><path d="M1349.6 332.9L1344.9 335.8L1344.9 341.7L1349.6 344.7L1354.3 341.7L1354.3 335.8Z" fill="#FF8000"/><path d="M1351.0 340.8L1346.3 343.8L1346.3 349.7L1351.0 352.6L1355.7 349.7L1355.7 343.8Z" fill="#FF8000"/><path d="M1352.2 308.2L1347.5 311.2L1347.5 317.1L1352.2 320.0L1356.9 317.1L1356.9 311.2Z" fill="#FF8000"/><path d="M1352.5 351.6L1347.8 354.5L1347.8 360.4L1352.5 363.4L1357.2 360.4L1357.2 354.5Z" fill="#FF8000"/><path d="M1354.0 340.7L1349.3 343.6L1349.3 349.5L1354.0 352.5L1358.7 349.5L1358.7 343.6Z" fill="#FF8000"/><path d="M1355.4 343.0L1350.7 345.9L1350.7 351.8L1355.4 354.8L1360.1 351.8L1360.1 345.9Z" fill="#FF8000"/><path d="M1356.9 327.9L1352.2 330.8L1352.2 336.7L1356.9 339.7L1361.6 336.7L1361.6 330.8Z" fill="#FF8000"/><path d="M1357.7 371.8L1353.0 374.8L1353.0 380.6L1357.7 383.6L1362.4 380.6L1362.4 374.8Z" fill="#FF8000"/><path d="M1358.4 339.8L1353.7 342.8L1353.7 348.7L1358.4 351.6L1363.1 348.7L1363.1 342.8Z" fill="#FF8000"/><path d="M1359.9 339.0L1355.2 342.0L1355.2 347.9L1359.9 350.8L1364.6 347.9L1364.6 342.0Z" fill="#FF8000"/><path d="M1361.3 337.3L1356.6 340.3L1356.6 346.2L1361.3 349.1L1366.0 346.2L1366.0 340.3Z" fill="#FF8000"/><path d="M1361.7 353.5L1357.0 356.4L1357.0 362.3L1361.7 365.3L1366.4 362.3L1366.4 356.4Z" fill="#FF8000"/><path d="M1362.8 337.9L1358.1 340.8L1358.1 346.7L1362.8 349.7L1367.5 346.7L1367.5 340.8Z" fill="#FF8000"/><path d="M1363.2 352.4L1358.5 355.3L1358.5 361.2L1363.2 364.2L1367.9 361.2L1367.9 355.3Z" fill="#FF8000"/><path d="M1363.8 302.1L1359.1 305.1L1359.1 310.9L1363.8 313.9L1368.5 310.9L1368.5 305.1Z" fill="#FF8000"/><path d="M1364.3 342.5L1359.6 345.4L1359.6 351.3L1364.3 354.3L1369.0 351.3L1369.0 345.4Z" fill="#FF8000"/><path d="M1364.7 344.9L1360.0 347.9L1360.0 353.8L1364.7 356.7L1369.4 353.8L1369.4 347.9Z" fill="#FF8000"/><path d="M1366.1 351.3L1361.4 354.2L1361.4 360.1L1366.1 363.1L1370.8 360.1L1370.8 354.2Z" fill="#FF8000"/><path d="M1366.8 300.9L1362.1 303.9L1362.1 309.8L1366.8 312.7L1371.5 309.8L1371.5 303.9Z" fill="#FF8000"/><path d="M1367.6 363.4L1362.9 366.3L1362.9 372.2L1367.6 375.2L1372.3 372.2L1372.3 366.3Z" fill="#FF8000"/><path d="M1368.7 364.5L1364.0 367.4L1364.0 373.3L1368.7 376.3L1373.4 373.3L1373.4 367.4Z" fill="#FF8000"/><path d="M1369.1 350.6L1364.4 353.6L1364.4 359.5L1369.1 362.4L1373.8 359.5L1373.8 353.6Z" fill="#FF8000"/><path d="M1370.6 341.9L1365.9 344.9L1365.9 350.8L1370.6 353.7L1375.3 350.8L1375.3 344.9Z" fill="#FF8000"/><path d="M1372.0 341.2L1367.3 344.1L1367.3 350.0L1372.0 353.0L1376.7 350.0L1376.7 344.1Z" fill="#FF8000"/><path d="M1373.5 353.4L1368.8 356.4L1368.8 362.3L1373.5 365.2L1378.2 362.3L1378.2 356.4Z" fill="#FF8000"/><path d="M1375.0 342.3L1370.3 345.2L1370.3 351.1L1375.0 354.1L1379.7 351.1L1379.7 345.2Z" fill="#FF8000"/><path d="M1376.4 343.2L1371.7 346.2L1371.7 352.1L1376.4 355.0L1381.1 352.1L1381.1 346.2Z" fill="#FF8000"/><path d="M1377.9 343.6L1373.2 346.6L1373.2 352.5L1377.9 355.4L1382.6 352.5L1382.6 346.6Z" fill="#FF8000"/><path d="M1378.5 365.7L1373.8 368.7L1373.8 374.6L1378.5 377.5L1383.2 374.6L1383.2 368.7Z" fill="#FF8000"/><path d="M1379.4 351.5L1374.7 354.5L1374.7 360.4L1379.4 363.3L1384.1 360.4L1384.1 354.5Z" fill="#FF8000"/><path d="M1380.9 363.9L1376.2 366.9L1376.2 372.8L1380.9 375.7L1385.6 372.8L1385.6 366.9Z" fill="#FF8000"/><path d="M1381.7 332.1L1377.0 335.1L1377.0 341.0L1381.7 343.9L1386.4 341.0L1386.4 335.1Z" fill="#FF8000"/><path d="M1382.3 352.3L1377.6 355.2L1377.6 361.1L1382.3 364.1L1387.0 361.1L1387.0 355.2Z" fill="#FF8000"/><path d="M1383.2 330.4L1378.5 333.4L1378.5 339.3L1383.2 342.2L1387.9 339.3L1387.9 333.4Z" fill="#FF8000"/><path d="M1383.3 307.6L1378.6 310.6L1378.6 316.4L1383.3 319.4L1388.0 316.4L1388.0 310.6Z" fill="#FF8000"/><path d="M1383.8 351.6L1379.1 354.6L1379.1 360.5L1383.8 363.4L1388.5 360.5L1388.5 354.6Z" fill="#FF8000"/><path d="M1384.7 339.3L1380.0 342.3L1380.0 348.2L1384.7 351.1L1389.4 348.2L1389.4 342.3Z" fill="#FF8000"/><path d="M1385.3 351.1L1380.6 354.1L1380.6 360.0L1385.3 362.9L1390.0 360.0L1390.0 354.1Z" fill="#FF8000"/><path d="M1386.1 344.8L1381.4 347.8L1381.4 353.7L1386.1 356.6L1390.8 353.7L1390.8 347.8Z" fill="#FF8000"/><path d="M1387.6 338.4L1382.9 341.4L1382.9 347.3L1387.6 350.2L1392.3 347.3L1392.3 341.4Z" fill="#FF8000"/><path d="M1388.2 316.8L1383.5 319.8L1383.5 325.6L1388.2 328.6L1392.9 325.6L1392.9 319.8Z" fill="#FF8000"/><path d="M1389.0 329.6L1384.3 332.6L1384.3 338.5L1389.0 341.4L1393.7 338.5L1393.7 332.6Z" fill="#FF8000"/><path d="M1390.5 336.9L1385.8 339.8L1385.8 345.7L1390.5 348.7L1395.2 345.7L1395.2 339.8Z" fill="#FF8000"/><path d="M1390.7 349.8L1386.0 352.8L1386.0 358.6L1390.7 361.6L1395.4 358.6L1395.4 352.8Z" fill="#FF8000"/><path d="M1390.7 338.1L1386.0 341.1L1386.0 347.0L1390.7 349.9L1395.4 347.0L1395.4 341.1Z" fill="#FF8000"/><path d="M1392.0 345.2L1387.3 348.2L1387.3 354.1L1392.0 357.0L1396.7 354.1L1396.7 348.2Z" fill="#FF8000"/><path d="M1392.1 346.3L1387.4 349.3L1387.4 355.2L1392.1 358.1L1396.8 355.2L1396.8 349.3Z" fill="#FF8000"/><path d="M1393.4 321.0L1388.7 324.0L1388.7 329.9L1393.4 332.8L1398.1 329.9L1398.1 324.0Z" fill="#FF8000"/><path d="M1393.5 334.4L1388.8 337.3L1388.8 343.2L1393.5 346.2L1398.2 343.2L1398.2 337.3Z" fill="#FF8000"/><path d="M1394.9 323.7L1390.2 326.6L1390.2 332.5L1394.9 335.5L1399.6 332.5L1399.6 326.6Z" fill="#FF8000"/><path d="M1394.9 345.6L1390.2 348.5L1390.2 354.4L1394.9 357.4L1399.6 354.4L1399.6 348.5Z" fill="#FF8000"/><path d="M1396.3 350.8L1391.6 353.8L1391.6 359.7L1396.3 362.6L1401.0 359.7L1401.0 353.8Z" fill="#FF8000"/><path d="M1396.3 335.9L1391.6 338.9L1391.6 344.8L1396.3 347.7L1401.0 344.8L1401.0 338.9Z" fill="#FF8000"/><path d="M1396.8 295.4L1392.1 298.4L1392.1 304.2L1396.8 307.2L1401.5 304.2L1401.5 298.4Z" fill="#FF8000"/><path d="M1397.7 332.9L1393.0 335.9L1393.0 341.8L1397.7 344.7L1402.4 341.8L1402.4 335.9Z" fill="#FF8000"/><path d="M1397.8 338.1L1393.1 341.0L1393.1 346.9L1397.8 349.9L1402.5 346.9L1402.5 341.0Z" fill="#FF8000"/><path d="M1397.9 295.4L1393.2 298.4L1393.2 304.2L1397.9 307.2L1402.6 304.2L1402.6 298.4Z" fill="#FF8000"/><path d="M1399.1 347.3L1394.4 350.3L1394.4 356.2L1399.1 359.1L1403.8 356.2L1403.8 350.3Z" fill="#FF8000"/><path d="M1399.3 336.7L1394.6 339.6L1394.6 345.5L1399.3 348.5L1404.0 345.5L1404.0 339.6Z" fill="#FF8000"/><path d="M1399.8 313.1L1395.1 316.1L1395.1 321.9L1399.8 324.9L1404.5 321.9L1404.5 316.1Z" fill="#FF8000"/><path d="M1400.5 342.5L1395.8 345.5L1395.8 351.4L1400.5 354.3L1405.2 351.4L1405.2 345.5Z" fill="#FF8000"/><path d="M1401.9 348.3L1397.2 351.3L1397.2 357.2L1401.9 360.1L1406.6 357.2L1406.6 351.3Z" fill="#FF8000"/><path d="M1403.3 319.7L1398.6 322.6L1398.6 328.5L1403.3 331.5L1408.0 328.5L1408.0 322.6Z" fill="#FF8000"/><path d="M1404.7 349.1L1400.0 352.1L1400.0 358.0L1404.7 360.9L1409.4 358.0L1409.4 352.1Z" fill="#FF8000"/><path d="M1406.1 344.2L1401.4 347.1L1401.4 353.0L1406.1 356.0L1410.8 353.0L1410.8 347.1Z" fill="#FF8000"/><path d="M1407.1 354.7L1402.4 357.7L1402.4 363.6L1407.1 366.5L1411.8 363.6L1411.8 357.7Z" fill="#FF8000"/><path d="M1407.5 350.8L1402.8 353.8L1402.8 359.7L1407.5 362.6L1412.2 359.7L1412.2 353.8Z" fill="#FF8000"/><path d="M1408.9 351.5L1404.2 354.4L1404.2 360.3L1408.9 363.3L1413.6 360.3L1413.6 354.4Z" fill="#FF8000"/><path d="M1410.3 327.8L1405.6 330.8L1405.6 336.7L1410.3 339.6L1415.0 336.7L1415.0 330.8Z" fill="#FF8000"/><path d="M1411.4 304.6L1406.7 307.6L1406.7 313.4L1411.4 316.4L1416.1 313.4L1416.1 307.6Z" fill="#FF8000"/><path d="M1411.7 340.9L1407.0 343.8L1407.0 349.7L1411.7 352.7L1416.4 349.7L1416.4 343.8Z" fill="#FF8000"/><path d="M1413.1 322.9L1408.4 325.9L1408.4 331.8L1413.1 334.7L1417.8 331.8L1417.8 325.9Z" fill="#FF8000"/><path d="M1413.2 298.5L1408.5 301.4L1408.5 307.3L1413.2 310.3L1417.9 307.3L1417.9 301.4Z" fill="#FF8000"/><path d="M1414.4 286.2L1409.7 289.2L1409.7 295.1L1414.4 298.0L1419.1 295.1L1419.1 289.2Z" fill="#FF8000"/><path d="M1414.5 338.3L1409.8 341.3L1409.8 347.2L1414.5 350.1L1419.2 347.2L1419.2 341.3Z" fill="#FF8000"/><path d="M1415.9 349.4L1411.2 352.3L1411.2 358.2L1415.9 361.2L1420.6 358.2L1420.6 352.3Z" fill="#FF8000"/><path d="M1417.3 324.6L1412.6 327.6L1412.6 333.5L1417.3 336.4L1422.0 333.5L1422.0 327.6Z" fill="#FF8000"/><path d="M1418.1 316.8L1413.4 319.8L1413.4 325.6L1418.1 328.6L1422.8 325.6L1422.8 319.8Z" fill="#FF8000"/>
<path d="M1427.9 270.2V292.0M1423.9 270.2h8.0M1423.9 292.0h8.0M1435.8 275.3V296.7M1431.8 275.3h8.0M1431.8 296.7h8.0M1427.9 285.4V306.2M1423.9 285.4h8.0M1423.9 306.2h8.0M1423.0 295.6V315.6M1419.0 295.6h8.0M1419.0 315.6h8.0M1435.2 293.0V313.2M1431.2 293.0h8.0M1431.2 313.2h8.0M1426.7 303.2V322.6M1422.7 303.2h8.0M1422.7 322.6h8.0M1438.9 308.2V327.4M1434.9 308.2h8.0M1434.9 327.4h8.0M1436.5 317.1V335.7M1432.5 317.1h8.0M1432.5 335.7h8.0M1438.9 324.7V342.7M1434.9 324.7h8.0M1434.9 342.7h8.0M1421.8 328.5V346.3M1417.8 328.5h8.0M1417.8 346.3h8.0M1424.2 335.5V352.7M1420.2 335.5h8.0M1420.2 352.7h8.0M1423.0 356.4V372.2M1419.0 356.4h8.0M1419.0 372.2h8.0M1430.0 289.8V310.2M1426.0 289.8h8.0M1426.0 310.2h8.0M1432.0 310.5V329.5M1428.0 310.5h8.0M1428.0 329.5h8.0" stroke="#00FFFF" stroke-width="1.0" fill="none"/>
<path d="M1427.9 274.9L1426.4 279.0L1422.0 279.2L1425.4 281.9L1424.3 286.1L1427.9 283.7L1431.5 286.1L1430.4 281.9L1433.8 279.2L1429.4 279.0Z" fill="#00FFFF"/><path d="M1435.8 279.8L1434.3 283.9L1429.9 284.1L1433.3 286.8L1432.2 291.0L1435.8 288.6L1439.4 291.0L1438.3 286.8L1441.7 284.1L1437.3 283.9Z" fill="#00FFFF"/><path d="M1427.9 289.6L1426.4 293.7L1422.0 293.9L1425.4 296.6L1424.3 300.8L1427.9 298.4L1431.5 300.8L1430.4 296.6L1433.8 293.9L1429.4 293.7Z" fill="#00FFFF"/><path d="M1423.0 299.4L1421.5 303.5L1417.1 303.7L1420.5 306.4L1419.4 310.6L1423.0 308.2L1426.6 310.6L1425.5 306.4L1428.9 303.7L1424.5 303.5Z" fill="#00FFFF"/><path d="M1435.2 296.9L1433.7 301.0L1429.3 301.2L1432.7 303.9L1431.6 308.1L1435.2 305.7L1438.8 308.1L1437.7 303.9L1441.1 301.2L1436.7 301.0Z" fill="#00FFFF"/><path d="M1426.7 306.7L1425.2 310.8L1420.8 311.0L1424.2 313.7L1423.1 317.9L1426.7 315.5L1430.3 317.9L1429.2 313.7L1432.6 311.0L1428.2 310.8Z" fill="#00FFFF"/><path d="M1438.9 311.6L1437.4 315.7L1433.0 315.9L1436.4 318.6L1435.3 322.8L1438.9 320.4L1442.5 322.8L1441.4 318.6L1444.8 315.9L1440.4 315.7Z" fill="#00FFFF"/><path d="M1436.5 320.2L1435.0 324.3L1430.6 324.5L1434.0 327.2L1432.9 331.4L1436.5 329.0L1440.1 331.4L1439.0 327.2L1442.4 324.5L1438.0 324.3Z" fill="#00FFFF"/><path d="M1438.9 327.5L1437.4 331.6L1433.0 331.8L1436.4 334.5L1435.3 338.7L1438.9 336.3L1442.5 338.7L1441.4 334.5L1444.8 331.8L1440.4 331.6Z" fill="#00FFFF"/><path d="M1421.8 331.2L1420.3 335.3L1415.9 335.5L1419.3 338.2L1418.2 342.4L1421.8 340.0L1425.4 342.4L1424.3 338.2L1427.7 335.5L1423.3 335.3Z" fill="#00FFFF"/><path d="M1424.2 337.9L1422.7 342.0L1418.3 342.2L1421.7 344.9L1420.6 349.1L1424.2 346.7L1427.8 349.1L1426.7 344.9L1430.1 342.2L1425.7 342.0Z" fill="#00FFFF"/><path d="M1423.0 358.1L1421.5 362.2L1417.1 362.4L1420.5 365.1L1419.4 369.3L1423.0 366.9L1426.6 369.3L1425.5 365.1L1428.9 362.4L1424.5 362.2Z" fill="#00FFFF"/><path d="M1430.0 293.8L1428.5 297.9L1424.1 298.1L1427.5 300.8L1426.4 305.0L1430.0 302.6L1433.6 305.0L1432.5 300.8L1435.9 298.1L1431.5 297.9Z" fill="#00FFFF"/><path d="M1432.0 313.8L1430.5 317.9L1426.1 318.1L1429.5 320.8L1428.4 325.0L1432.0 322.6L1435.6 325.0L1434.5 320.8L1437.9 318.1L1433.5 317.9Z" fill="#00FFFF"/>
</g>
<g clip-path="url(#cc)">
<path d="M107.9 1158.0V1213.2M103.9 1158.0h8.0M103.9 1213.2h8.0M108.8 1146.7V1203.3M104.8 1146.7h8.0M104.8 1203.3h8.0M109.7 1267.9V1309.7M105.7 1267.9h8.0M105.7 1309.7h8.0M111.5 1237.9V1283.3M107.5 1237.9h8.0M107.5 1283.3h8.0M112.4 1225.6V1272.6M108.4 1225.6h8.0M108.4 1272.6h8.0M114.1 1179.6V1232.2M110.1 1179.6h8.0M110.1 1232.2h8.0M116.8 1230.3V1276.7M112.8 1230.3h8.0M112.8 1276.7h8.0M117.6 1302.8V1340.2M113.6 1302.8h8.0M113.6 1340.2h8.0M118.5 1197.4V1247.8M114.5 1197.4h8.0M114.5 1247.8h8.0M120.3 1209.7V1258.5M116.3 1209.7h8.0M116.3 1258.5h8.0M122.1 1133.5V1191.7M118.1 1133.5h8.0M118.1 1191.7h8.0M123.8 1173.0V1226.4M119.8 1173.0h8.0M119.8 1226.4h8.0M125.6 1196.6V1247.0M121.6 1196.6h8.0M121.6 1247.0h8.0M126.5 1179.6V1232.2M122.5 1179.6h8.0M122.5 1232.2h8.0M128.2 1207.8V1256.8M124.2 1207.8h8.0M124.2 1256.8h8.0M130.9 1204.0V1253.6M126.9 1204.0h8.0M126.9 1253.6h8.0M132.6 1190.0V1241.2M128.6 1190.0h8.0M128.6 1241.2h8.0M133.5 1212.5V1261.1M129.5 1212.5h8.0M129.5 1261.1h8.0M134.4 1140.1V1197.5M130.4 1140.1h8.0M130.4 1197.5h8.0M135.3 1131.7V1190.1M131.3 1131.7h8.0M131.3 1190.1h8.0M137.9 1117.5V1177.7M133.9 1117.5h8.0M133.9 1177.7h8.0M139.7 1133.5V1191.7M135.7 1133.5h8.0M135.7 1191.7h8.0M142.4 1151.4V1207.4M138.4 1151.4h8.0M138.4 1207.4h8.0M144.1 1171.1V1224.7M140.1 1171.1h8.0M140.1 1224.7h8.0M145.9 1192.7V1243.7M141.9 1192.7h8.0M141.9 1243.7h8.0M147.6 1138.3V1195.9M143.6 1138.3h8.0M143.6 1195.9h8.0M149.4 1127.0V1186.0M145.4 1127.0h8.0M145.4 1186.0h8.0M151.2 1159.8V1214.8M147.2 1159.8h8.0M147.2 1214.8h8.0M152.9 1171.1V1224.7M148.9 1171.1h8.0M148.9 1224.7h8.0M156.5 1149.5V1205.7M152.5 1149.5h8.0M152.5 1205.7h8.0M158.2 1214.4V1262.6M154.2 1214.4h8.0M154.2 1262.6h8.0M160.9 1181.4V1233.8M156.9 1181.4h8.0M156.9 1233.8h8.0M163.5 1171.1V1224.7M159.5 1171.1h8.0M159.5 1224.7h8.0M165.3 1214.4V1262.6M161.3 1214.4h8.0M161.3 1262.6h8.0M167.1 1159.8V1214.8M163.1 1159.8h8.0M163.1 1214.8h8.0M168.8 1149.5V1205.7M164.8 1149.5h8.0M164.8 1205.7h8.0M171.0 1157.4V1212.6M167.0 1157.4h8.0M167.0 1212.6h8.0M174.1 1155.1V1210.7M170.1 1155.1h8.0M170.1 1210.7h8.0M176.0 1162.7V1217.3M172.0 1162.7h8.0M172.0 1217.3h8.0M177.6 1149.5V1205.7M173.6 1149.5h8.0M173.6 1205.7h8.0M178.5 1117.5V1177.7M174.5 1117.5h8.0M174.5 1177.7h8.0M180.3 1131.7V1190.1M176.3 1131.7h8.0M176.3 1190.1h8.0M180.9 1116.7V1176.9M176.9 1116.7h8.0M176.9 1176.9h8.0M182.6 1149.5V1205.7M178.6 1149.5h8.0M178.6 1205.7h8.0M182.9 1147.7V1204.1M178.9 1147.7h8.0M178.9 1204.1h8.0M183.5 1128.8V1187.6M179.5 1128.8h8.0M179.5 1187.6h8.0M184.7 1127.9V1186.7M180.7 1127.9h8.0M180.7 1186.7h8.0M185.3 1100.7V1162.9M181.3 1100.7h8.0M181.3 1162.9h8.0M185.6 1100.7V1162.9M181.6 1100.7h8.0M181.6 1162.9h8.0M187.3 1159.0V1214.0M183.3 1159.0h8.0M183.3 1214.0h8.0M187.9 1159.0V1214.0M183.9 1159.0h8.0M183.9 1214.0h8.0M189.0 1152.0V1208.0M185.0 1152.0h8.0M185.0 1208.0h8.0M191.0 1160.6V1215.4M187.0 1160.6h8.0M187.0 1215.4h8.0M192.4 1129.8V1188.4M188.4 1129.8h8.0M188.4 1188.4h8.0M193.2 1121.4V1181.0M189.2 1121.4h8.0M189.2 1181.0h8.0M195.0 1162.7V1217.3M191.0 1162.7h8.0M191.0 1217.3h8.0M196.0 1154.2V1209.8M192.0 1154.2h8.0M192.0 1209.8h8.0M197.6 1157.0V1212.4M193.6 1157.0h8.0M193.6 1212.4h8.0M199.4 1150.4V1206.6M195.4 1150.4h8.0M195.4 1206.6h8.0M201.2 1177.7V1230.5M197.2 1177.7h8.0M197.2 1230.5h8.0M202.9 1187.1V1238.7M198.9 1187.1h8.0M198.9 1238.7h8.0M204.7 1220.0V1267.6M200.7 1220.0h8.0M200.7 1267.6h8.0M205.6 1215.3V1263.5M201.6 1215.3h8.0M201.6 1263.5h8.0M207.4 1233.2V1279.2M203.4 1233.2h8.0M203.4 1279.2h8.0M209.1 1196.6V1247.0M205.1 1196.6h8.0M205.1 1247.0h8.0M210.9 1171.1V1224.7M206.9 1171.1h8.0M206.9 1224.7h8.0M212.6 1181.4V1233.8M208.6 1181.4h8.0M208.6 1233.8h8.0M215.3 1174.9V1228.1M211.3 1174.9h8.0M211.3 1228.1h8.0M218.8 1193.7V1244.5M214.8 1193.7h8.0M214.8 1244.5h8.0M219.7 1189.0V1240.4M215.7 1189.0h8.0M215.7 1240.4h8.0M221.5 1205.9V1255.3M217.5 1205.9h8.0M217.5 1255.3h8.0M223.2 1215.3V1263.5M219.2 1215.3h8.0M219.2 1263.5h8.0M225.9 1239.7V1284.9M221.9 1239.7h8.0M221.9 1284.9h8.0M227.6 1231.3V1277.5M223.6 1231.3h8.0M223.6 1277.5h8.0M229.4 1207.8V1256.8M225.4 1207.8h8.0M225.4 1256.8h8.0M231.2 1166.4V1220.6M227.2 1166.4h8.0M227.2 1220.6h8.0M232.9 1127.0V1186.0M228.9 1127.0h8.0M228.9 1186.0h8.0M233.8 1215.3V1263.5M229.8 1215.3h8.0M229.8 1263.5h8.0M236.5 1232.3V1278.3M232.5 1232.3h8.0M232.5 1278.3h8.0M240.0 1244.5V1289.1M236.0 1244.5h8.0M236.0 1289.1h8.0M244.4 1255.7V1298.9M240.4 1255.7h8.0M240.4 1298.9h8.0M247.1 1215.3V1263.5M243.1 1215.3h8.0M243.1 1263.5h8.0M247.9 1186.2V1238.0M243.9 1186.2h8.0M243.9 1238.0h8.0M249.7 1169.3V1223.1M245.7 1169.3h8.0M245.7 1223.1h8.0M250.0 1194.6V1245.4M246.0 1194.6h8.0M246.0 1245.4h8.0M252.3 1200.3V1250.3M248.3 1200.3h8.0M248.3 1250.3h8.0M254.1 1220.0V1267.6M250.1 1220.0h8.0M250.1 1267.6h8.0M255.0 1207.4V1256.6M251.0 1207.4h8.0M251.0 1256.6h8.0M259.4 1186.2V1238.0M255.4 1186.2h8.0M255.4 1238.0h8.0M259.4 1204.0V1253.6M255.4 1204.0h8.0M255.4 1253.6h8.0M260.9 1186.1V1237.9M256.9 1186.1h8.0M256.9 1237.9h8.0M261.8 1204.0V1253.6M257.8 1204.0h8.0M257.8 1253.6h8.0M262.6 1221.0V1268.4M258.6 1221.0h8.0M258.6 1268.4h8.0M262.9 1242.6V1287.4M258.9 1242.6h8.0M258.9 1287.4h8.0M263.5 1243.5V1288.3M259.5 1243.5h8.0M259.5 1288.3h8.0M264.7 1221.9V1269.3M260.7 1221.9h8.0M260.7 1269.3h8.0M265.3 1221.9V1269.3M261.3 1221.9h8.0M261.3 1269.3h8.0M266.5 1174.9V1228.1M262.5 1174.9h8.0M262.5 1228.1h8.0M267.1 1174.9V1228.1M263.1 1174.9h8.0M263.1 1228.1h8.0M268.2 1198.4V1248.6M264.2 1198.4h8.0M264.2 1248.6h8.0M268.8 1199.3V1249.5M264.8 1199.3h8.0M264.8 1249.5h8.0" stroke="#990000" stroke-width="1.0" fill="none"/>
<circle cx="107.9" cy="1185.6" r="5.2" fill="#990000"/><circle cx="108.8" cy="1175.0" r="5.2" fill="#990000"/><circle cx="109.7" cy="1288.8" r="5.2" fill="#990000"/><circle cx="111.5" cy="1260.6" r="5.2" fill="#990000"/><circle cx="112.4" cy="1249.1" r="5.2" fill="#990000"/><circle cx="114.1" cy="1205.9" r="5.2" fill="#990000"/><circle cx="116.8" cy="1253.5" r="5.2" fill="#990000"/><circle cx="117.6" cy="1321.5" r="5.2" fill="#990000"/><circle cx="118.5" cy="1222.6" r="5.2" fill="#990000"/><circle cx="120.3" cy="1234.1" r="5.2" fill="#990000"/><circle cx="122.1" cy="1162.6" r="5.2" fill="#990000"/><circle cx="123.8" cy="1199.7" r="5.2" fill="#990000"/><circle cx="125.6" cy="1221.8" r="5.2" fill="#990000"/><circle cx="126.5" cy="1205.9" r="5.2" fill="#990000"/><circle cx="128.2" cy="1232.3" r="5.2" fill="#990000"/><circle cx="130.9" cy="1228.8" r="5.2" fill="#990000"/><circle cx="132.6" cy="1215.6" r="5.2" fill="#990000"/><circle cx="133.5" cy="1236.8" r="5.2" fill="#990000"/><circle cx="134.4" cy="1168.8" r="5.2" fill="#990000"/><circle cx="135.3" cy="1160.9" r="5.2" fill="#990000"/><circle cx="137.9" cy="1147.6" r="5.2" fill="#990000"/><circle cx="139.7" cy="1162.6" r="5.2" fill="#990000"/><circle cx="142.4" cy="1179.4" r="5.2" fill="#990000"/><circle cx="144.1" cy="1197.9" r="5.2" fill="#990000"/><circle cx="145.9" cy="1218.2" r="5.2" fill="#990000"/><circle cx="147.6" cy="1167.1" r="5.2" fill="#990000"/><circle cx="149.4" cy="1156.5" r="5.2" fill="#990000"/><circle cx="151.2" cy="1187.3" r="5.2" fill="#990000"/><circle cx="152.9" cy="1197.9" r="5.2" fill="#990000"/><circle cx="156.5" cy="1177.6" r="5.2" fill="#990000"/><circle cx="158.2" cy="1238.5" r="5.2" fill="#990000"/><circle cx="160.9" cy="1207.6" r="5.2" fill="#990000"/><circle cx="163.5" cy="1197.9" r="5.2" fill="#990000"/><circle cx="165.3" cy="1238.5" r="5.2" fill="#990000"/><circle cx="167.1" cy="1187.3" r="5.2" fill="#990000"/><circle cx="168.8" cy="1177.6" r="5.2" fill="#990000"/><circle cx="171.0" cy="1185.0" r="5.2" fill="#990000"/><circle cx="174.1" cy="1182.9" r="5.2" fill="#990000"/><circle cx="176.0" cy="1190.0" r="5.2" fill="#990000"/><circle cx="177.6" cy="1177.6" r="5.2" fill="#990000"/><circle cx="178.5" cy="1147.6" r="5.2" fill="#990000"/><circle cx="180.3" cy="1160.9" r="5.2" fill="#990000"/><circle cx="180.9" cy="1146.8" r="5.2" fill="#990000"/><circle cx="182.6" cy="1177.6" r="5.2" fill="#990000"/><circle cx="182.9" cy="1175.9" r="5.2" fill="#990000"/><circle cx="183.5" cy="1158.2" r="5.2" fill="#990000"/><circle cx="184.7" cy="1157.3" r="5.2" fill="#990000"/><circle cx="185.3" cy="1131.8" r="5.2" fill="#990000"/><circle cx="185.6" cy="1131.8" r="5.2" fill="#990000"/><circle cx="187.3" cy="1186.5" r="5.2" fill="#990000"/><circle cx="187.9" cy="1186.5" r="5.2" fill="#990000"/><circle cx="189.0" cy="1180.0" r="5.2" fill="#990000"/><circle cx="191.0" cy="1188.0" r="5.2" fill="#990000"/><circle cx="192.4" cy="1159.1" r="5.2" fill="#990000"/><circle cx="193.2" cy="1151.2" r="5.2" fill="#990000"/><circle cx="195.0" cy="1190.0" r="5.2" fill="#990000"/><circle cx="196.0" cy="1182.0" r="5.2" fill="#990000"/><circle cx="197.6" cy="1184.7" r="5.2" fill="#990000"/><circle cx="199.4" cy="1178.5" r="5.2" fill="#990000"/><circle cx="201.2" cy="1204.1" r="5.2" fill="#990000"/><circle cx="202.9" cy="1212.9" r="5.2" fill="#990000"/><circle cx="204.7" cy="1243.8" r="5.2" fill="#990000"/><circle cx="205.6" cy="1239.4" r="5.2" fill="#990000"/><circle cx="207.4" cy="1256.2" r="5.2" fill="#990000"/><circle cx="209.1" cy="1221.8" r="5.2" fill="#990000"/><circle cx="210.9" cy="1197.9" r="5.2" fill="#990000"/><circle cx="212.6" cy="1207.6" r="5.2" fill="#990000"/><circle cx="215.3" cy="1201.5" r="5.2" fill="#990000"/><circle cx="218.8" cy="1219.1" r="5.2" fill="#990000"/><circle cx="219.7" cy="1214.7" r="5.2" fill="#990000"/><circle cx="221.5" cy="1230.6" r="5.2" fill="#990000"/><circle cx="223.2" cy="1239.4" r="5.2" fill="#990000"/><circle cx="225.9" cy="1262.3" r="5.2" fill="#990000"/><circle cx="227.6" cy="1254.4" r="5.2" fill="#990000"/><circle cx="229.4" cy="1232.3" r="5.2" fill="#990000"/><circle cx="231.2" cy="1193.5" r="5.2" fill="#990000"/><circle cx="232.9" cy="1156.5" r="5.2" fill="#990000"/><circle cx="233.8" cy="1239.4" r="5.2" fill="#990000"/><circle cx="236.5" cy="1255.3" r="5.2" fill="#990000"/><circle cx="240.0" cy="1266.8" r="5.2" fill="#990000"/><circle cx="244.4" cy="1277.3" r="5.2" fill="#990000"/><circle cx="247.1" cy="1239.4" r="5.2" fill="#990000"/><circle cx="247.9" cy="1212.1" r="5.2" fill="#990000"/><circle cx="249.7" cy="1196.2" r="5.2" fill="#990000"/><circle cx="250.0" cy="1220.0" r="5.2" fill="#990000"/><circle cx="252.3" cy="1225.3" r="5.2" fill="#990000"/><circle cx="254.1" cy="1243.8" r="5.2" fill="#990000"/><circle cx="255.0" cy="1232.0" r="5.2" fill="#990000"/><circle cx="259.4" cy="1212.1" r="5.2" fill="#990000"/><circle cx="259.4" cy="1228.8" r="5.2" fill="#990000"/><circle cx="260.9" cy="1212.0" r="5.2" fill="#990000"/><circle cx="261.8" cy="1228.8" r="5.2" fill="#990000"/><circle cx="262.6" cy="1244.7" r="5.2" fill="#990000"/><circle cx="262.9" cy="1265.0" r="5.2" fill="#990000"/><circle cx="263.5" cy="1265.9" r="5.2" fill="#990000"/><circle cx="264.7" cy="1245.6" r="5.2" fill="#990000"/><circle cx="265.3" cy="1245.6" r="5.2" fill="#990000"/><circle cx="266.5" cy="1201.5" r="5.2" fill="#990000"/><circle cx="267.1" cy="1201.5" r="5.2" fill="#990000"/><circle cx="268.2" cy="1223.5" r="5.2" fill="#990000"/><circle cx="268.8" cy="1224.4" r="5.2" fill="#990000"/>
<path d="M272.4 1169.5V1214.1M268.4 1169.5h8.0M268.4 1214.1h8.0M273.2 1160.1V1205.7M269.2 1160.1h8.0M269.2 1205.7h8.0M275.0 1165.5V1210.5M271.0 1165.5h8.0M271.0 1210.5h8.0M275.5 1178.1V1221.9M271.5 1178.1h8.0M271.5 1221.9h8.0M277.6 1173.2V1217.4M273.6 1173.2h8.0M273.6 1217.4h8.0M279.0 1185.5V1228.5M275.0 1185.5h8.0M275.0 1228.5h8.0M280.0 1162.3V1207.7M276.0 1162.3h8.0M276.0 1207.7h8.0M282.9 1154.5V1200.7M278.9 1154.5h8.0M278.9 1200.7h8.0M284.0 1178.1V1221.9M280.0 1178.1h8.0M280.0 1221.9h8.0M286.5 1186.1V1229.1M282.5 1186.1h8.0M282.5 1229.1h8.0M286.5 1207.5V1248.3M282.5 1207.5h8.0M282.5 1248.3h8.0M289.0 1172.8V1217.2M285.0 1172.8h8.0M285.0 1217.2h8.0M290.9 1221.5V1260.9M286.9 1221.5h8.0M286.9 1260.9h8.0M291.8 1188.0V1230.8M287.8 1188.0h8.0M287.8 1230.8h8.0M293.0 1178.1V1221.9M289.0 1178.1h8.0M289.0 1221.9h8.0M295.3 1201.1V1242.5M291.3 1201.1h8.0M291.3 1242.5h8.0M296.0 1191.8V1234.2M292.0 1191.8h8.0M292.0 1234.2h8.0M297.1 1154.5V1200.7M293.1 1154.5h8.0M293.1 1200.7h8.0M298.0 1183.4V1226.6M294.0 1183.4h8.0M294.0 1226.6h8.0M300.6 1174.1V1218.3M296.6 1174.1h8.0M296.6 1218.3h8.0M302.4 1191.7V1234.1M298.4 1191.7h8.0M298.4 1234.1h8.0M304.0 1199.2V1240.8M300.0 1199.2h8.0M300.0 1240.8h8.0M305.0 1178.1V1221.9M301.0 1178.1h8.0M301.0 1221.9h8.0M307.0 1188.7V1231.3M303.0 1188.7h8.0M303.0 1231.3h8.0M309.4 1174.1V1218.3M305.4 1174.1h8.0M305.4 1218.3h8.0M311.2 1205.7V1246.7M307.2 1205.7h8.0M307.2 1246.7h8.0M312.9 1235.4V1273.4M308.9 1235.4h8.0M308.9 1273.4h8.0M314.0 1218.2V1257.8M310.0 1218.2h8.0M310.0 1257.8h8.0M314.7 1247.5V1284.3M310.7 1247.5h8.0M310.7 1284.3h8.0M316.5 1227.1V1265.9M312.5 1227.1h8.0M312.5 1265.9h8.0M319.1 1216.9V1256.7M315.1 1216.9h8.0M315.1 1256.7h8.0M320.9 1182.4V1225.8M316.9 1182.4h8.0M316.9 1225.8h8.0M322.6 1201.1V1242.5M318.6 1201.1h8.0M318.6 1242.5h8.0M324.4 1211.3V1251.7M320.4 1211.3h8.0M320.4 1251.7h8.0M325.3 1189.9V1232.5M321.3 1189.9h8.0M321.3 1232.5h8.0" stroke="#0000FF" stroke-width="1.0" fill="none"/>
<rect x="267.6" y="1187.0" width="9.6" height="9.6" fill="#0000FF"/><rect x="268.4" y="1178.1" width="9.6" height="9.6" fill="#0000FF"/><rect x="270.2" y="1183.2" width="9.6" height="9.6" fill="#0000FF"/><rect x="270.7" y="1195.2" width="9.6" height="9.6" fill="#0000FF"/><rect x="272.8" y="1190.5" width="9.6" height="9.6" fill="#0000FF"/><rect x="274.2" y="1202.2" width="9.6" height="9.6" fill="#0000FF"/><rect x="275.2" y="1180.2" width="9.6" height="9.6" fill="#0000FF"/><rect x="278.1" y="1172.8" width="9.6" height="9.6" fill="#0000FF"/><rect x="279.2" y="1195.2" width="9.6" height="9.6" fill="#0000FF"/><rect x="281.7" y="1202.8" width="9.6" height="9.6" fill="#0000FF"/><rect x="281.7" y="1223.1" width="9.6" height="9.6" fill="#0000FF"/><rect x="284.2" y="1190.2" width="9.6" height="9.6" fill="#0000FF"/><rect x="286.1" y="1236.4" width="9.6" height="9.6" fill="#0000FF"/><rect x="287.0" y="1204.6" width="9.6" height="9.6" fill="#0000FF"/><rect x="288.2" y="1195.2" width="9.6" height="9.6" fill="#0000FF"/><rect x="290.5" y="1217.0" width="9.6" height="9.6" fill="#0000FF"/><rect x="291.2" y="1208.2" width="9.6" height="9.6" fill="#0000FF"/><rect x="292.3" y="1172.8" width="9.6" height="9.6" fill="#0000FF"/><rect x="293.2" y="1200.2" width="9.6" height="9.6" fill="#0000FF"/><rect x="295.8" y="1191.4" width="9.6" height="9.6" fill="#0000FF"/><rect x="297.6" y="1208.1" width="9.6" height="9.6" fill="#0000FF"/><rect x="299.2" y="1215.2" width="9.6" height="9.6" fill="#0000FF"/><rect x="300.2" y="1195.2" width="9.6" height="9.6" fill="#0000FF"/><rect x="302.2" y="1205.2" width="9.6" height="9.6" fill="#0000FF"/><rect x="304.6" y="1191.4" width="9.6" height="9.6" fill="#0000FF"/><rect x="306.4" y="1221.4" width="9.6" height="9.6" fill="#0000FF"/><rect x="308.1" y="1249.6" width="9.6" height="9.6" fill="#0000FF"/><rect x="309.2" y="1233.2" width="9.6" height="9.6" fill="#0000FF"/><rect x="309.9" y="1261.1" width="9.6" height="9.6" fill="#0000FF"/><rect x="311.7" y="1241.7" width="9.6" height="9.6" fill="#0000FF"/><rect x="314.3" y="1232.0" width="9.6" height="9.6" fill="#0000FF"/><rect x="316.1" y="1199.3" width="9.6" height="9.6" fill="#0000FF"/><rect x="317.8" y="1217.0" width="9.6" height="9.6" fill="#0000FF"/><rect x="319.6" y="1226.7" width="9.6" height="9.6" fill="#0000FF"/><rect x="320.5" y="1206.4" width="9.6" height="9.6" fill="#0000FF"/><rect x="326.7" y="1307.0" width="9.6" height="9.6" fill="#0000FF"/><rect x="324.0" y="1323.7" width="9.6" height="9.6" fill="#0000FF"/><rect x="322.3" y="1338.7" width="9.6" height="9.6" fill="#0000FF"/><rect x="328.4" y="1338.7" width="9.6" height="9.6" fill="#0000FF"/>
<path d="M335.9 1184.7V1304.7M331.9 1184.7h8.0M331.9 1304.7h8.0M338.7 1226.2V1271.0M334.7 1226.2h8.0M334.7 1271.0h8.0M341.0 1215.0V1261.2M337.0 1215.0h8.0M337.0 1261.2h8.0M344.0 1201.5V1249.3M340.0 1201.5h8.0M340.0 1249.3h8.0M346.2 1191.2V1240.2M342.2 1191.2h8.0M342.2 1240.2h8.0M350.0 1199.1V1247.1M346.0 1199.1h8.0M346.0 1247.1h8.0M350.7 1176.1V1226.9M346.7 1176.1h8.0M346.7 1226.9h8.0M352.2 1186.4V1236.0M348.2 1186.4h8.0M348.2 1236.0h8.0M354.4 1209.5V1256.3M350.4 1209.5h8.0M350.4 1256.3h8.0M355.9 1161.8V1214.2M351.9 1161.8h8.0M351.9 1214.2h8.0M358.9 1179.3V1229.7M354.9 1179.3h8.0M354.9 1229.7h8.0M359.7 1192.0V1240.8M355.7 1192.0h8.0M355.7 1240.8h8.0M363.4 1144.4V1198.8M359.4 1144.4h8.0M359.4 1198.8h8.0M365.6 1178.5V1228.9M361.6 1178.5h8.0M361.6 1228.9h8.0M366.4 1200.7V1248.5M362.4 1200.7h8.0M362.4 1248.5h8.0M370.1 1184.8V1234.6M366.1 1184.8h8.0M366.1 1234.6h8.0M372.4 1200.7V1248.5M368.4 1200.7h8.0M368.4 1248.5h8.0M375.4 1208.6V1255.6M371.4 1208.6h8.0M371.4 1255.6h8.0M378.3 1185.6V1235.2M374.3 1185.6h8.0M374.3 1235.2h8.0M382.8 1270.6V1310.2M378.8 1270.6h8.0M378.8 1310.2h8.0M386.6 1199.9V1247.9M382.6 1199.9h8.0M382.6 1247.9h8.0M391.8 1248.4V1290.6M387.8 1248.4h8.0M387.8 1290.6h8.0M395.5 1195.1V1243.7M391.5 1195.1h8.0M391.5 1243.7h8.0M399.3 1229.2V1273.8M395.3 1229.2h8.0M395.3 1273.8h8.0M400.8 1209.5V1256.3M396.8 1209.5h8.0M396.8 1256.3h8.0M404.5 1242.0V1285.0M400.5 1242.0h8.0M400.5 1285.0h8.0M408.2 1216.6V1262.6M404.2 1216.6h8.0M404.2 1262.6h8.0M409.7 1186.4V1236.0M405.7 1186.4h8.0M405.7 1236.0h8.0M413.5 1151.5V1205.1M409.5 1151.5h8.0M409.5 1205.1h8.0M415.7 1135.5V1191.1M411.7 1135.5h8.0M411.7 1191.1h8.0M416.5 1135.5V1191.1M412.5 1135.5h8.0M412.5 1191.1h8.0M418.0 1150.6V1204.4M414.0 1150.6h8.0M414.0 1204.4h8.0M418.7 1153.1V1206.5M414.7 1153.1h8.0M414.7 1206.5h8.0M421.0 1173.7V1224.7M417.0 1173.7h8.0M417.0 1224.7h8.0M421.0 1170.5V1221.9M417.0 1170.5h8.0M417.0 1221.9h8.0M425.5 1170.5V1221.9M421.5 1170.5h8.0M421.5 1221.9h8.0M427.0 1182.4V1232.4M423.0 1182.4h8.0M423.0 1232.4h8.0M428.5 1197.5V1245.7M424.5 1197.5h8.0M424.5 1245.7h8.0M430.0 1226.2V1271.0M426.0 1226.2h8.0M426.0 1271.0h8.0M431.4 1266.6V1306.8M427.4 1266.6h8.0M427.4 1306.8h8.0M434.4 1232.4V1276.6M430.4 1232.4h8.0M430.4 1276.6h8.0M436.7 1256.3V1297.7M432.7 1256.3h8.0M432.7 1297.7h8.0M439.7 1242.0V1285.0M435.7 1242.0h8.0M435.7 1285.0h8.0M444.1 1264.2V1304.6M440.1 1264.2h8.0M440.1 1304.6h8.0M447.9 1251.6V1293.4M443.9 1251.6h8.0M443.9 1293.4h8.0M449.4 1265.8V1306.0M445.4 1265.8h8.0M445.4 1306.0h8.0M453.9 1221.4V1266.8M449.9 1221.4h8.0M449.9 1266.8h8.0M456.9 1229.2V1273.8M452.9 1229.2h8.0M452.9 1273.8h8.0M459.8 1246.8V1289.2M455.8 1246.8h8.0M455.8 1289.2h8.0M462.8 1203.9V1251.3M458.8 1203.9h8.0M458.8 1251.3h8.0M464.3 1192.8V1241.6M460.3 1192.8h8.0M460.3 1241.6h8.0M465.8 1183.2V1233.2M461.8 1183.2h8.0M461.8 1233.2h8.0M468.8 1173.7V1224.7M464.8 1173.7h8.0M464.8 1224.7h8.0M470.0 1169.2V1220.8M466.0 1169.2h8.0M466.0 1220.8h8.0M473.3 1181.7V1231.7M469.3 1181.7h8.0M469.3 1231.7h8.0M475.0 1174.5V1225.5M471.0 1174.5h8.0M471.0 1225.5h8.0M477.8 1168.9V1220.5M473.8 1168.9h8.0M473.8 1220.5h8.0M480.0 1158.6V1211.4M476.0 1158.6h8.0M476.0 1211.4h8.0M482.3 1164.2V1216.4M478.3 1164.2h8.0M478.3 1216.4h8.0M485.0 1159.7V1212.3M481.0 1159.7h8.0M481.0 1212.3h8.0M488.2 1156.3V1209.3M484.2 1156.3h8.0M484.2 1209.3h8.0M490.0 1169.2V1220.8M486.0 1169.2h8.0M486.0 1220.8h8.0M492.0 1162.6V1215.0M488.0 1162.6h8.0M488.0 1215.0h8.0M492.7 1181.7V1231.7M488.7 1181.7h8.0M488.7 1231.7h8.0M496.6 1180.9V1231.1M492.6 1180.9h8.0M492.6 1231.1h8.0M496.6 1226.8V1271.6M492.6 1226.8h8.0M492.6 1271.6h8.0M497.2 1227.7V1272.3M493.2 1227.7h8.0M493.2 1272.3h8.0M497.4 1239.8V1283.0M493.4 1239.8h8.0M493.4 1283.0h8.0M498.7 1240.4V1283.6M494.7 1240.4h8.0M494.7 1283.6h8.0M500.2 1183.2V1233.2M496.2 1183.2h8.0M496.2 1233.2h8.0M501.5 1198.2V1246.4M497.5 1198.2h8.0M497.5 1246.4h8.0M501.7 1199.1V1247.1M497.7 1199.1h8.0M497.7 1247.1h8.0M504.8 1180.9V1231.1M500.8 1180.9h8.0M500.8 1231.1h8.0M504.8 1203.4V1251.0M500.8 1203.4h8.0M500.8 1251.0h8.0M507.0 1215.8V1261.9M503.0 1215.8h8.0M503.0 1261.9h8.0M509.7 1182.6V1232.6M505.7 1182.6h8.0M505.7 1232.6h8.0M510.5 1213.8V1260.2M506.5 1213.8h8.0M506.5 1260.2h8.0M511.1 1218.6V1264.3M507.1 1218.6h8.0M507.1 1264.3h8.0M514.6 1191.3V1240.3M510.6 1191.3h8.0M510.6 1240.3h8.0M515.1 1227.8V1272.5M511.1 1227.8h8.0M511.1 1272.5h8.0M517.8 1224.1V1269.3M513.8 1224.1h8.0M513.8 1269.3h8.0M519.2 1216.2V1262.2M515.2 1216.2h8.0M515.2 1262.2h8.0M520.3 1239.8V1283.0M516.3 1239.8h8.0M516.3 1283.0h8.0M521.9 1241.5V1284.5M517.9 1241.5h8.0M517.9 1284.5h8.0M523.2 1217.2V1263.1M519.2 1217.2h8.0M519.2 1263.1h8.0M524.3 1224.1V1269.3M520.3 1224.1h8.0M520.3 1269.3h8.0M527.3 1219.3V1264.9M523.3 1219.3h8.0M523.3 1264.9h8.0M530.9 1215.5V1261.7M526.9 1215.5h8.0M526.9 1261.7h8.0M531.3 1209.0V1255.9M527.3 1209.0h8.0M527.3 1255.9h8.0M535.4 1217.3V1263.2M531.4 1217.3h8.0M531.4 1263.2h8.0M535.8 1210.3V1257.1M531.8 1210.3h8.0M531.8 1257.1h8.0M539.4 1220.3V1265.9M535.4 1220.3h8.0M535.4 1265.9h8.0M542.3 1220.7V1266.3M538.3 1220.7h8.0M538.3 1266.3h8.0M543.5 1224.5V1269.6M539.5 1224.5h8.0M539.5 1269.6h8.0M545.5 1212.0V1258.6M541.5 1212.0h8.0M541.5 1258.6h8.0M547.5 1206.7V1253.8M543.5 1206.7h8.0M543.5 1253.8h8.0M548.8 1224.1V1269.3M544.8 1224.1h8.0M544.8 1269.3h8.0M551.5 1212.0V1258.5M547.5 1212.0h8.0M547.5 1258.5h8.0M553.7 1199.9V1247.9M549.7 1199.9h8.0M549.7 1247.9h8.0M555.6 1206.6V1253.8M551.6 1206.6h8.0M551.6 1253.8h8.0M557.0 1213.8V1260.2M553.0 1213.8h8.0M553.0 1260.2h8.0M559.6 1224.9V1269.9M555.6 1224.9h8.0M555.6 1269.9h8.0M561.9 1215.5V1261.7M557.9 1215.5h8.0M557.9 1261.7h8.0M563.7 1222.0V1267.3M559.7 1222.0h8.0M559.7 1267.3h8.0M566.7 1189.5V1238.7M562.7 1189.5h8.0M562.7 1238.7h8.0M567.7 1205.3V1252.7M563.7 1205.3h8.0M563.7 1252.7h8.0M570.0 1210.3V1257.1M566.0 1210.3h8.0M566.0 1257.1h8.0M571.8 1229.3V1273.8M567.8 1229.3h8.0M567.8 1273.8h8.0M574.9 1234.6V1278.4M570.9 1234.6h8.0M570.9 1278.4h8.0M574.9 1250.2V1292.2M570.9 1250.2h8.0M570.9 1292.2h8.0M575.8 1228.9V1273.4M571.8 1228.9h8.0M571.8 1273.4h8.0M576.6 1222.4V1267.8M572.6 1222.4h8.0M572.6 1267.8h8.0M576.6 1234.6V1278.4M572.6 1234.6h8.0M572.6 1278.4h8.0M576.6 1250.2V1292.2M572.6 1250.2h8.0M572.6 1292.2h8.0M579.8 1219.0V1264.8M575.8 1219.0h8.0M575.8 1264.8h8.0M579.9 1221.0V1266.4M575.9 1221.0h8.0M575.9 1266.4h8.0M579.9 1213.8V1260.2M575.9 1213.8h8.0M575.9 1260.2h8.0M583.9 1210.3V1257.1M579.9 1210.3h8.0M579.9 1257.1h8.0M583.9 1220.0V1265.6M579.9 1220.0h8.0M579.9 1265.6h8.0M586.4 1203.4V1251.0M582.4 1203.4h8.0M582.4 1251.0h8.0M588.0 1208.3V1255.3M584.0 1208.3h8.0M584.0 1255.3h8.0M588.0 1215.5V1261.7M584.0 1215.5h8.0M584.0 1261.7h8.0M592.1 1223.3V1268.5M588.1 1223.3h8.0M588.1 1268.5h8.0M592.9 1241.5V1284.5M588.9 1241.5h8.0M588.9 1284.5h8.0M596.2 1250.2V1292.2M592.2 1250.2h8.0M592.2 1292.2h8.0M599.5 1245.0V1287.6M595.5 1245.0h8.0M595.5 1287.6h8.0M600.3 1260.6V1301.4M596.3 1260.6h8.0M596.3 1301.4h8.0M606.8 1273.5V1312.9M602.8 1273.5h8.0M602.8 1312.9h8.0M609.2 1255.4V1296.8M605.2 1255.4h8.0M605.2 1296.8h8.0M614.1 1243.3V1286.1M610.1 1243.3h8.0M610.1 1286.1h8.0M617.4 1257.1V1298.3M613.4 1257.1h8.0M613.4 1298.3h8.0M619.0 1220.7V1266.3M615.0 1220.7h8.0M615.0 1266.3h8.0M622.3 1232.9V1276.9M618.3 1232.9h8.0M618.3 1276.9h8.0M627.2 1217.2V1263.2M623.2 1217.2h8.0M623.2 1263.2h8.0M632.1 1217.4V1263.3M628.1 1217.4h8.0M628.1 1263.3h8.0M632.9 1203.4V1251.0M628.9 1203.4h8.0M628.9 1251.0h8.0M636.4 1229.4V1273.9M632.4 1229.4h8.0M632.4 1273.9h8.0M640.2 1229.4V1273.8M636.2 1229.4h8.0M636.2 1273.8h8.0M640.6 1218.4V1264.2M636.6 1218.4h8.0M636.6 1264.2h8.0M641.0 1243.3V1286.1M637.0 1243.3h8.0M637.0 1286.1h8.0M644.3 1201.6V1249.4M640.3 1201.6h8.0M640.3 1249.4h8.0M644.9 1221.5V1266.9M640.9 1221.5h8.0M640.9 1266.9h8.0M645.1 1222.4V1267.8M641.1 1222.4h8.0M641.1 1267.8h8.0M646.7 1232.9V1276.9M642.7 1232.9h8.0M642.7 1276.9h8.0M649.1 1222.7V1268.0M645.1 1222.7h8.0M645.1 1268.0h8.0M650.0 1255.4V1296.8M646.0 1255.4h8.0M646.0 1296.8h8.0M653.3 1267.5V1307.5M649.3 1267.5h8.0M649.3 1307.5h8.0M653.4 1217.7V1263.6M649.4 1217.7h8.0M649.4 1263.6h8.0M656.6 1252.0V1293.8M652.6 1252.0h8.0M652.6 1293.8h8.0M657.3 1248.5V1290.7M653.3 1248.5h8.0M653.3 1290.7h8.0M657.6 1227.9V1272.5M653.6 1227.9h8.0M653.6 1272.5h8.0M659.9 1258.9V1299.9M655.9 1258.9h8.0M655.9 1299.9h8.0M661.9 1227.3V1272.1M657.9 1227.3h8.0M657.9 1272.1h8.0M663.0 1231.2V1275.4M659.0 1231.2h8.0M659.0 1275.4h8.0M663.0 1213.8V1260.2M659.0 1213.8h8.0M659.0 1260.2h8.0M663.2 1233.0V1277.0M659.2 1233.0h8.0M659.2 1277.0h8.0M667.1 1231.7V1275.9M663.1 1231.7h8.0M663.1 1275.9h8.0M668.0 1213.0V1259.4M664.0 1213.0h8.0M664.0 1259.4h8.0M669.7 1236.4V1280.0M665.7 1236.4h8.0M665.7 1280.0h8.0M671.4 1226.9V1271.7M667.4 1226.9h8.0M667.4 1271.7h8.0M672.9 1212.1V1258.7M668.9 1212.1h8.0M668.9 1258.7h8.0M672.9 1248.6V1290.8M668.9 1248.6h8.0M668.9 1290.8h8.0M675.7 1228.7V1273.3M671.7 1228.7h8.0M671.7 1273.3h8.0M676.2 1227.8V1272.4M672.2 1227.8h8.0M672.2 1272.4h8.0M678.0 1222.3V1267.7M674.0 1222.3h8.0M674.0 1267.7h8.0M680.0 1226.6V1271.4M676.0 1226.6h8.0M676.0 1271.4h8.0M681.1 1220.9V1266.3M677.1 1220.9h8.0M677.1 1266.3h8.0M684.3 1229.0V1273.5M680.3 1229.0h8.0M680.3 1273.5h8.0M684.4 1227.8V1272.4M680.4 1227.8h8.0M680.4 1272.4h8.0M686.0 1225.5V1270.5M682.0 1225.5h8.0M682.0 1270.5h8.0M687.6 1233.0V1277.0M683.6 1233.0h8.0M683.6 1277.0h8.0M688.6 1226.0V1270.8M684.6 1226.0h8.0M684.6 1270.8h8.0M690.9 1224.3V1269.3M686.9 1224.3h8.0M686.9 1269.3h8.0M692.9 1223.3V1268.5M688.9 1223.3h8.0M688.9 1268.5h8.0M694.0 1221.3V1266.7M690.0 1221.3h8.0M690.0 1266.7h8.0" stroke="#00FF00" stroke-width="1.0" fill="none"/>
<path d="M335.9 1251.6L342.1 1241.2L329.7 1241.2Z" fill="#00FF00"/><path d="M338.7 1255.5L344.9 1245.1L332.5 1245.1Z" fill="#00FF00"/><path d="M341.0 1245.0L347.2 1234.6L334.8 1234.6Z" fill="#00FF00"/><path d="M344.0 1232.3L350.2 1221.9L337.8 1221.9Z" fill="#00FF00"/><path d="M346.2 1222.6L352.4 1212.2L340.0 1212.2Z" fill="#00FF00"/><path d="M350.0 1230.0L356.2 1219.6L343.8 1219.6Z" fill="#00FF00"/><path d="M350.7 1208.4L356.9 1198.0L344.5 1198.0Z" fill="#00FF00"/><path d="M352.2 1218.1L358.4 1207.7L346.0 1207.7Z" fill="#00FF00"/><path d="M354.4 1239.8L360.6 1229.4L348.2 1229.4Z" fill="#00FF00"/><path d="M355.9 1194.9L362.1 1184.5L349.7 1184.5Z" fill="#00FF00"/><path d="M358.9 1211.4L365.1 1201.0L352.7 1201.0Z" fill="#00FF00"/><path d="M359.7 1223.3L365.9 1212.9L353.5 1212.9Z" fill="#00FF00"/><path d="M363.4 1178.5L369.6 1168.1L357.2 1168.1Z" fill="#00FF00"/><path d="M365.6 1210.6L371.8 1200.2L359.4 1200.2Z" fill="#00FF00"/><path d="M366.4 1231.5L372.6 1221.1L360.2 1221.1Z" fill="#00FF00"/><path d="M370.1 1216.6L376.3 1206.2L363.9 1206.2Z" fill="#00FF00"/><path d="M372.4 1231.5L378.6 1221.1L366.2 1221.1Z" fill="#00FF00"/><path d="M375.4 1239.0L381.6 1228.6L369.2 1228.6Z" fill="#00FF00"/><path d="M378.3 1217.3L384.5 1206.9L372.1 1206.9Z" fill="#00FF00"/><path d="M382.8 1297.3L389.0 1286.9L376.6 1286.9Z" fill="#00FF00"/><path d="M386.6 1230.8L392.8 1220.4L380.4 1220.4Z" fill="#00FF00"/><path d="M391.8 1276.4L398.0 1266.0L385.6 1266.0Z" fill="#00FF00"/><path d="M395.5 1226.3L401.7 1215.9L389.3 1215.9Z" fill="#00FF00"/><path d="M399.3 1258.4L405.5 1248.0L393.1 1248.0Z" fill="#00FF00"/><path d="M400.8 1239.8L407.0 1229.4L394.6 1229.4Z" fill="#00FF00"/><path d="M404.5 1270.4L410.7 1260.0L398.3 1260.0Z" fill="#00FF00"/><path d="M408.2 1246.5L414.4 1236.1L402.0 1236.1Z" fill="#00FF00"/><path d="M409.7 1218.1L415.9 1207.7L403.5 1207.7Z" fill="#00FF00"/><path d="M413.5 1185.2L419.7 1174.8L407.3 1174.8Z" fill="#00FF00"/><path d="M415.7 1170.2L421.9 1159.8L409.5 1159.8Z" fill="#00FF00"/><path d="M416.5 1170.2L422.7 1159.8L410.3 1159.8Z" fill="#00FF00"/><path d="M418.0 1184.4L424.2 1174.0L411.8 1174.0Z" fill="#00FF00"/><path d="M418.7 1186.7L424.9 1176.3L412.5 1176.3Z" fill="#00FF00"/><path d="M421.0 1206.1L427.2 1195.7L414.8 1195.7Z" fill="#00FF00"/><path d="M421.0 1203.1L427.2 1192.7L414.8 1192.7Z" fill="#00FF00"/><path d="M425.5 1203.1L431.7 1192.7L419.3 1192.7Z" fill="#00FF00"/><path d="M427.0 1214.3L433.2 1203.9L420.8 1203.9Z" fill="#00FF00"/><path d="M428.5 1228.5L434.7 1218.1L422.3 1218.1Z" fill="#00FF00"/><path d="M430.0 1255.5L436.2 1245.1L423.8 1245.1Z" fill="#00FF00"/><path d="M431.4 1293.6L437.6 1283.2L425.2 1283.2Z" fill="#00FF00"/><path d="M434.4 1261.4L440.6 1251.0L428.2 1251.0Z" fill="#00FF00"/><path d="M436.7 1283.9L442.9 1273.5L430.5 1273.5Z" fill="#00FF00"/><path d="M439.7 1270.4L445.9 1260.0L433.5 1260.0Z" fill="#00FF00"/><path d="M444.1 1291.3L450.3 1280.9L437.9 1280.9Z" fill="#00FF00"/><path d="M447.9 1279.4L454.1 1269.0L441.7 1269.0Z" fill="#00FF00"/><path d="M449.4 1292.8L455.6 1282.4L443.2 1282.4Z" fill="#00FF00"/><path d="M453.9 1251.0L460.1 1240.6L447.7 1240.6Z" fill="#00FF00"/><path d="M456.9 1258.4L463.1 1248.0L450.7 1248.0Z" fill="#00FF00"/><path d="M459.8 1274.9L466.0 1264.5L453.6 1264.5Z" fill="#00FF00"/><path d="M462.8 1234.5L469.0 1224.1L456.6 1224.1Z" fill="#00FF00"/><path d="M464.3 1224.1L470.5 1213.7L458.1 1213.7Z" fill="#00FF00"/><path d="M465.8 1215.1L472.0 1204.7L459.6 1204.7Z" fill="#00FF00"/><path d="M468.8 1206.1L475.0 1195.7L462.6 1195.7Z" fill="#00FF00"/><path d="M470.0 1201.9L476.2 1191.5L463.8 1191.5Z" fill="#00FF00"/><path d="M473.3 1213.6L479.5 1203.2L467.1 1203.2Z" fill="#00FF00"/><path d="M475.0 1206.9L481.2 1196.5L468.8 1196.5Z" fill="#00FF00"/><path d="M477.8 1201.6L484.0 1191.2L471.6 1191.2Z" fill="#00FF00"/><path d="M480.0 1191.9L486.2 1181.5L473.8 1181.5Z" fill="#00FF00"/><path d="M482.3 1197.2L488.5 1186.8L476.1 1186.8Z" fill="#00FF00"/><path d="M485.0 1192.9L491.2 1182.5L478.8 1182.5Z" fill="#00FF00"/><path d="M488.2 1189.7L494.4 1179.3L482.0 1179.3Z" fill="#00FF00"/><path d="M490.0 1201.9L496.2 1191.5L483.8 1191.5Z" fill="#00FF00"/><path d="M492.0 1195.7L498.2 1185.3L485.8 1185.3Z" fill="#00FF00"/><path d="M492.7 1213.6L498.9 1203.2L486.5 1203.2Z" fill="#00FF00"/><path d="M496.6 1212.9L502.8 1202.5L490.4 1202.5Z" fill="#00FF00"/><path d="M496.6 1256.1L502.8 1245.7L490.4 1245.7Z" fill="#00FF00"/><path d="M497.2 1256.9L503.4 1246.5L491.0 1246.5Z" fill="#00FF00"/><path d="M497.4 1268.3L503.6 1257.9L491.2 1257.9Z" fill="#00FF00"/><path d="M498.7 1268.9L504.9 1258.5L492.5 1258.5Z" fill="#00FF00"/><path d="M500.2 1215.1L506.4 1204.7L494.0 1204.7Z" fill="#00FF00"/><path d="M501.5 1229.2L507.7 1218.8L495.3 1218.8Z" fill="#00FF00"/><path d="M501.7 1230.0L507.9 1219.6L495.5 1219.6Z" fill="#00FF00"/><path d="M504.8 1212.9L511.0 1202.5L498.6 1202.5Z" fill="#00FF00"/><path d="M504.8 1234.1L511.0 1223.7L498.6 1223.7Z" fill="#00FF00"/><path d="M507.0 1245.7L513.2 1235.3L500.8 1235.3Z" fill="#00FF00"/><path d="M509.7 1214.5L515.9 1204.1L503.5 1204.1Z" fill="#00FF00"/><path d="M510.5 1243.9L516.7 1233.5L504.3 1233.5Z" fill="#00FF00"/><path d="M511.1 1248.3L517.3 1237.9L504.9 1237.9Z" fill="#00FF00"/><path d="M514.6 1222.7L520.8 1212.3L508.4 1212.3Z" fill="#00FF00"/><path d="M515.1 1257.0L521.3 1246.6L508.9 1246.6Z" fill="#00FF00"/><path d="M517.8 1253.6L524.0 1243.2L511.6 1243.2Z" fill="#00FF00"/><path d="M519.2 1246.0L525.4 1235.6L513.0 1235.6Z" fill="#00FF00"/><path d="M520.3 1268.3L526.5 1257.9L514.1 1257.9Z" fill="#00FF00"/><path d="M521.9 1269.9L528.1 1259.5L515.7 1259.5Z" fill="#00FF00"/><path d="M523.2 1247.1L529.4 1236.7L517.0 1236.7Z" fill="#00FF00"/><path d="M524.3 1253.6L530.5 1243.2L518.1 1243.2Z" fill="#00FF00"/><path d="M527.3 1249.0L533.5 1238.6L521.1 1238.6Z" fill="#00FF00"/><path d="M530.9 1245.5L537.1 1235.1L524.7 1235.1Z" fill="#00FF00"/><path d="M531.3 1239.3L537.5 1228.9L525.1 1228.9Z" fill="#00FF00"/><path d="M535.4 1247.1L541.6 1236.7L529.2 1236.7Z" fill="#00FF00"/><path d="M535.8 1240.6L542.0 1230.2L529.6 1230.2Z" fill="#00FF00"/><path d="M539.4 1250.0L545.6 1239.6L533.2 1239.6Z" fill="#00FF00"/><path d="M542.3 1250.4L548.5 1240.0L536.1 1240.0Z" fill="#00FF00"/><path d="M543.5 1253.9L549.7 1243.5L537.3 1243.5Z" fill="#00FF00"/><path d="M545.5 1242.2L551.7 1231.8L539.3 1231.8Z" fill="#00FF00"/><path d="M547.5 1237.1L553.7 1226.7L541.3 1226.7Z" fill="#00FF00"/><path d="M548.8 1253.6L555.0 1243.2L542.6 1243.2Z" fill="#00FF00"/><path d="M551.5 1242.1L557.7 1231.7L545.3 1231.7Z" fill="#00FF00"/><path d="M553.7 1230.8L559.9 1220.4L547.5 1220.4Z" fill="#00FF00"/><path d="M555.6 1237.0L561.8 1226.6L549.4 1226.6Z" fill="#00FF00"/><path d="M557.0 1243.9L563.2 1233.5L550.8 1233.5Z" fill="#00FF00"/><path d="M559.6 1254.3L565.8 1243.9L553.4 1243.9Z" fill="#00FF00"/><path d="M561.9 1245.5L568.1 1235.1L555.7 1235.1Z" fill="#00FF00"/><path d="M563.7 1251.5L569.9 1241.1L557.5 1241.1Z" fill="#00FF00"/><path d="M566.7 1221.0L572.9 1210.6L560.5 1210.6Z" fill="#00FF00"/><path d="M567.7 1235.9L573.9 1225.5L561.5 1225.5Z" fill="#00FF00"/><path d="M570.0 1240.6L576.2 1230.2L563.8 1230.2Z" fill="#00FF00"/><path d="M571.8 1258.4L578.0 1248.0L565.6 1248.0Z" fill="#00FF00"/><path d="M574.9 1263.4L581.1 1253.0L568.7 1253.0Z" fill="#00FF00"/><path d="M574.9 1278.1L581.1 1267.7L568.7 1267.7Z" fill="#00FF00"/><path d="M575.8 1258.0L582.0 1247.6L569.6 1247.6Z" fill="#00FF00"/><path d="M576.6 1252.0L582.8 1241.6L570.4 1241.6Z" fill="#00FF00"/><path d="M576.6 1263.4L582.8 1253.0L570.4 1253.0Z" fill="#00FF00"/><path d="M576.6 1278.1L582.8 1267.7L570.4 1267.7Z" fill="#00FF00"/><path d="M579.8 1248.8L586.0 1238.4L573.6 1238.4Z" fill="#00FF00"/><path d="M579.9 1250.6L586.1 1240.2L573.7 1240.2Z" fill="#00FF00"/><path d="M579.9 1243.9L586.1 1233.5L573.7 1233.5Z" fill="#00FF00"/><path d="M583.9 1240.6L590.1 1230.2L577.7 1230.2Z" fill="#00FF00"/><path d="M583.9 1249.6L590.1 1239.2L577.7 1239.2Z" fill="#00FF00"/><path d="M586.4 1234.1L592.6 1223.7L580.2 1223.7Z" fill="#00FF00"/><path d="M588.0 1238.6L594.2 1228.2L581.8 1228.2Z" fill="#00FF00"/><path d="M588.0 1245.5L594.2 1235.1L581.8 1235.1Z" fill="#00FF00"/><path d="M592.1 1252.8L598.3 1242.4L585.9 1242.4Z" fill="#00FF00"/><path d="M592.9 1269.9L599.1 1259.5L586.7 1259.5Z" fill="#00FF00"/><path d="M596.2 1278.1L602.4 1267.7L590.0 1267.7Z" fill="#00FF00"/><path d="M599.5 1273.2L605.7 1262.8L593.3 1262.8Z" fill="#00FF00"/><path d="M600.3 1287.9L606.5 1277.5L594.1 1277.5Z" fill="#00FF00"/><path d="M606.8 1300.1L613.0 1289.7L600.6 1289.7Z" fill="#00FF00"/><path d="M609.2 1283.0L615.4 1272.6L603.0 1272.6Z" fill="#00FF00"/><path d="M614.1 1271.6L620.3 1261.2L607.9 1261.2Z" fill="#00FF00"/><path d="M617.4 1284.6L623.6 1274.2L611.2 1274.2Z" fill="#00FF00"/><path d="M619.0 1250.4L625.2 1240.0L612.8 1240.0Z" fill="#00FF00"/><path d="M622.3 1261.8L628.5 1251.4L616.1 1251.4Z" fill="#00FF00"/><path d="M627.2 1247.1L633.4 1236.7L621.0 1236.7Z" fill="#00FF00"/><path d="M632.1 1247.2L638.3 1236.8L625.9 1236.8Z" fill="#00FF00"/><path d="M632.9 1234.1L639.1 1223.7L626.7 1223.7Z" fill="#00FF00"/><path d="M636.4 1258.5L642.6 1248.1L630.2 1248.1Z" fill="#00FF00"/><path d="M640.2 1258.5L646.4 1248.1L634.0 1248.1Z" fill="#00FF00"/><path d="M640.6 1248.2L646.8 1237.8L634.4 1237.8Z" fill="#00FF00"/><path d="M641.0 1271.6L647.2 1261.2L634.8 1261.2Z" fill="#00FF00"/><path d="M644.3 1232.4L650.5 1222.0L638.1 1222.0Z" fill="#00FF00"/><path d="M644.9 1251.0L651.1 1240.6L638.7 1240.6Z" fill="#00FF00"/><path d="M645.1 1252.0L651.3 1241.6L638.9 1241.6Z" fill="#00FF00"/><path d="M646.7 1261.8L652.9 1251.4L640.5 1251.4Z" fill="#00FF00"/><path d="M649.1 1252.2L655.3 1241.8L642.9 1241.8Z" fill="#00FF00"/><path d="M650.0 1283.0L656.2 1272.6L643.8 1272.6Z" fill="#00FF00"/><path d="M653.3 1294.4L659.5 1284.0L647.1 1284.0Z" fill="#00FF00"/><path d="M653.4 1247.5L659.6 1237.1L647.2 1237.1Z" fill="#00FF00"/><path d="M656.6 1279.8L662.8 1269.4L650.4 1269.4Z" fill="#00FF00"/><path d="M657.3 1276.5L663.5 1266.1L651.1 1266.1Z" fill="#00FF00"/><path d="M657.6 1257.1L663.8 1246.7L651.4 1246.7Z" fill="#00FF00"/><path d="M659.9 1286.3L666.1 1275.9L653.7 1275.9Z" fill="#00FF00"/><path d="M661.9 1256.6L668.1 1246.2L655.7 1246.2Z" fill="#00FF00"/><path d="M663.0 1260.2L669.2 1249.8L656.8 1249.8Z" fill="#00FF00"/><path d="M663.0 1243.9L669.2 1233.5L656.8 1233.5Z" fill="#00FF00"/><path d="M663.2 1261.9L669.4 1251.5L657.0 1251.5Z" fill="#00FF00"/><path d="M667.1 1260.7L673.3 1250.3L660.9 1250.3Z" fill="#00FF00"/><path d="M668.0 1243.1L674.2 1232.7L661.8 1232.7Z" fill="#00FF00"/><path d="M669.7 1265.1L675.9 1254.7L663.5 1254.7Z" fill="#00FF00"/><path d="M671.4 1256.1L677.6 1245.7L665.2 1245.7Z" fill="#00FF00"/><path d="M672.9 1242.3L679.1 1231.9L666.7 1231.9Z" fill="#00FF00"/><path d="M672.9 1276.6L679.1 1266.2L666.7 1266.2Z" fill="#00FF00"/><path d="M675.7 1257.8L681.9 1247.4L669.5 1247.4Z" fill="#00FF00"/><path d="M676.2 1257.0L682.4 1246.6L670.0 1246.6Z" fill="#00FF00"/><path d="M678.0 1251.9L684.2 1241.5L671.8 1241.5Z" fill="#00FF00"/><path d="M680.0 1255.9L686.2 1245.5L673.8 1245.5Z" fill="#00FF00"/><path d="M681.1 1250.5L687.3 1240.1L674.9 1240.1Z" fill="#00FF00"/><path d="M684.3 1258.1L690.5 1247.7L678.1 1247.7Z" fill="#00FF00"/><path d="M684.4 1257.0L690.6 1246.6L678.2 1246.6Z" fill="#00FF00"/><path d="M686.0 1254.9L692.2 1244.5L679.8 1244.5Z" fill="#00FF00"/><path d="M687.6 1261.9L693.8 1251.5L681.4 1251.5Z" fill="#00FF00"/><path d="M688.6 1255.3L694.8 1244.9L682.4 1244.9Z" fill="#00FF00"/><path d="M690.9 1253.7L697.1 1243.3L684.7 1243.3Z" fill="#00FF00"/><path d="M692.9 1252.8L699.1 1242.4L686.7 1242.4Z" fill="#00FF00"/><path d="M694.0 1250.9L700.2 1240.5L687.8 1240.5Z" fill="#00FF00"/>
<path d="M700.7 1203.0V1245.0M696.7 1203.0h8.0M696.7 1245.0h8.0M703.1 1208.2V1249.6M699.1 1208.2h8.0M699.1 1249.6h8.0M699.0 1215.1V1255.7M695.0 1215.1h8.0M695.0 1255.7h8.0M703.9 1228.9V1268.1M699.9 1228.9h8.0M699.9 1268.1h8.0" stroke="#8000FF" stroke-width="1.0" fill="none"/>
<path d="M700.7 1217.2L707.2 1224.0L700.7 1230.8L694.2 1224.0Z" fill="#8000FF"/><path d="M703.1 1222.1L709.6 1228.9L703.1 1235.7L696.6 1228.9Z" fill="#8000FF"/><path d="M699.0 1228.6L705.5 1235.4L699.0 1242.2L692.5 1235.4Z" fill="#8000FF"/><path d="M703.9 1241.7L710.4 1248.5L703.9 1255.3L697.4 1248.5Z" fill="#8000FF"/>
<path d="M707.2 1190.3L702.5 1193.2L702.5 1199.2L707.2 1202.1L711.9 1199.2L711.9 1193.2Z" fill="#FF8000"/><path d="M705.6 1198.5L700.9 1201.5L700.9 1207.4L705.6 1210.3L710.3 1207.4L710.3 1201.5Z" fill="#FF8000"/><path d="M712.1 1206.7L707.4 1209.6L707.4 1215.5L712.1 1218.5L716.8 1215.5L716.8 1209.6Z" fill="#FF8000"/><path d="M713.7 1215.6L709.0 1218.5L709.0 1224.5L713.7 1227.4L718.4 1224.5L718.4 1218.5Z" fill="#FF8000"/><path d="M708.8 1237.7L704.1 1240.6L704.1 1246.5L708.8 1249.5L713.5 1246.5L713.5 1240.6Z" fill="#FF8000"/>
</g>
<g clip-path="url(#cb)">
<path d="M109.7 613.0V667.6M105.7 613.0h8.0M105.7 667.6h8.0M113.3 642.9V693.1M109.3 642.9h8.0M109.3 693.1h8.0M115.0 649.6V698.8M111.0 649.6h8.0M111.0 698.8h8.0M117.7 641.9V692.3M113.7 641.9h8.0M113.7 692.3h8.0M120.3 613.3V667.9M116.3 613.3h8.0M116.3 667.9h8.0M123.0 619.1V672.9M119.0 619.1h8.0M119.0 672.9h8.0M123.9 613.0V667.6M119.9 613.0h8.0M119.9 667.6h8.0M126.5 620.0V673.6M122.5 620.0h8.0M122.5 673.6h8.0M129.5 620.0V673.6M125.5 620.0h8.0M125.5 673.6h8.0M132.7 620.0V673.6M128.7 620.0h8.0M128.7 673.6h8.0M135.0 598.1V654.9M131.0 598.1h8.0M131.0 654.9h8.0M138.5 710.3V750.5M134.5 710.3h8.0M134.5 750.5h8.0M140.3 705.8V746.8M136.3 705.8h8.0M136.3 746.8h8.0M142.4 759.8V792.8M138.4 759.8h8.0M138.4 792.8h8.0M145.0 735.4V772.0M141.0 735.4h8.0M141.0 772.0h8.0M147.7 755.5V789.1M143.7 755.5h8.0M143.7 789.1h8.0M150.4 761.2V794.0M146.4 761.2h8.0M146.4 794.0h8.0M152.1 737.4V773.6M148.1 737.4h8.0M148.1 773.6h8.0M155.1 725.9V763.9M151.1 725.9h8.0M151.1 763.9h8.0M158.3 737.4V773.6M154.3 737.4h8.0M154.3 773.6h8.0M161.0 757.4V790.6M157.0 757.4h8.0M157.0 790.6h8.0M162.7 766.0V798.0M158.7 766.0h8.0M158.7 798.0h8.0M165.7 768.8V800.4M161.7 768.8h8.0M161.7 800.4h8.0M167.1 753.6V787.4M163.1 753.6h8.0M163.1 787.4h8.0M170.7 764.0V796.4M166.7 764.0h8.0M166.7 796.4h8.0M173.3 750.7V784.9M169.3 750.7h8.0M169.3 784.9h8.0M176.0 769.8V801.2M172.0 769.8h8.0M172.0 801.2h8.0M179.2 716.3V755.7M175.2 716.3h8.0M175.2 755.7h8.0M183.0 701.1V742.7M179.0 701.1h8.0M179.0 742.7h8.0M185.7 679.2V724.0M181.7 679.2h8.0M181.7 724.0h8.0M188.3 701.1V742.7M184.3 701.1h8.0M184.3 742.7h8.0M191.0 716.3V755.7M187.0 716.3h8.0M187.0 755.7h8.0M192.8 701.1V742.7M188.8 701.1h8.0M188.8 742.7h8.0M195.4 720.2V759.0M191.4 720.2h8.0M191.4 759.0h8.0M197.2 729.7V767.1M193.2 729.7h8.0M193.2 767.1h8.0M196.5 723.4V761.8M192.5 723.4h8.0M192.5 761.8h8.0M198.2 730.4V767.6M194.2 730.4h8.0M194.2 767.6h8.0M202.0 716.3V755.7M198.0 716.3h8.0M198.0 755.7h8.0M205.2 728.2V765.8M201.2 728.2h8.0M201.2 765.8h8.0M207.4 736.4V772.8M203.4 736.4h8.0M203.4 772.8h8.0M209.6 742.2V777.8M205.6 742.2h8.0M205.6 777.8h8.0M211.7 746.9V781.7M207.7 746.9h8.0M207.7 781.7h8.0M215.0 752.8V786.8M211.0 752.8h8.0M211.0 786.8h8.0M218.3 759.8V792.8M214.3 759.8h8.0M214.3 792.8h8.0M220.4 775.1V805.7M216.4 775.1h8.0M216.4 805.7h8.0M224.8 775.1V805.7M220.8 775.1h8.0M220.8 805.7h8.0M225.9 765.7V797.7M221.9 765.7h8.0M221.9 797.7h8.0M228.0 775.1V805.7M224.0 775.1h8.0M224.0 805.7h8.0M230.8 760.4V793.2M226.8 760.4h8.0M226.8 793.2h8.0M233.5 723.4V761.8M229.5 723.4h8.0M229.5 761.8h8.0M236.7 736.4V772.8M232.7 736.4h8.0M232.7 772.8h8.0M241.1 730.5V767.7M237.1 730.5h8.0M237.1 767.7h8.0M244.3 723.4V761.8M240.3 723.4h8.0M240.3 761.8h8.0M248.7 725.8V763.8M244.7 725.8h8.0M244.7 763.8h8.0M250.9 736.4V772.8M246.9 736.4h8.0M246.9 772.8h8.0M255.2 750.4V784.8M251.2 750.4h8.0M251.2 784.8h8.0M259.0 721.1V759.7M255.0 721.1h8.0M255.0 759.7h8.0M261.7 739.9V775.7M257.7 739.9h8.0M257.7 775.7h8.0M266.1 742.2V777.8M262.1 742.2h8.0M262.1 777.8h8.0M269.3 732.8V769.8M265.3 732.8h8.0M265.3 769.8h8.0" stroke="#990000" stroke-width="1.0" fill="none"/>
<circle cx="109.7" cy="640.3" r="5.2" fill="#990000"/><circle cx="113.3" cy="668.0" r="5.2" fill="#990000"/><circle cx="115.0" cy="674.2" r="5.2" fill="#990000"/><circle cx="117.7" cy="667.1" r="5.2" fill="#990000"/><circle cx="120.3" cy="640.6" r="5.2" fill="#990000"/><circle cx="123.0" cy="646.0" r="5.2" fill="#990000"/><circle cx="123.9" cy="640.3" r="5.2" fill="#990000"/><circle cx="126.5" cy="646.8" r="5.2" fill="#990000"/><circle cx="129.5" cy="646.8" r="5.2" fill="#990000"/><circle cx="132.7" cy="646.8" r="5.2" fill="#990000"/><circle cx="135.0" cy="626.5" r="5.2" fill="#990000"/><circle cx="138.5" cy="730.4" r="5.2" fill="#990000"/><circle cx="140.3" cy="726.3" r="5.2" fill="#990000"/><circle cx="142.4" cy="776.3" r="5.2" fill="#990000"/><circle cx="145.0" cy="753.7" r="5.2" fill="#990000"/><circle cx="147.7" cy="772.3" r="5.2" fill="#990000"/><circle cx="150.4" cy="777.6" r="5.2" fill="#990000"/><circle cx="152.1" cy="755.5" r="5.2" fill="#990000"/><circle cx="155.1" cy="744.9" r="5.2" fill="#990000"/><circle cx="158.3" cy="755.5" r="5.2" fill="#990000"/><circle cx="161.0" cy="774.0" r="5.2" fill="#990000"/><circle cx="162.7" cy="782.0" r="5.2" fill="#990000"/><circle cx="165.7" cy="784.6" r="5.2" fill="#990000"/><circle cx="167.1" cy="770.5" r="5.2" fill="#990000"/><circle cx="170.7" cy="780.2" r="5.2" fill="#990000"/><circle cx="173.3" cy="767.8" r="5.2" fill="#990000"/><circle cx="176.0" cy="785.5" r="5.2" fill="#990000"/><circle cx="179.2" cy="736.0" r="5.2" fill="#990000"/><circle cx="183.0" cy="721.9" r="5.2" fill="#990000"/><circle cx="185.7" cy="701.6" r="5.2" fill="#990000"/><circle cx="188.3" cy="721.9" r="5.2" fill="#990000"/><circle cx="191.0" cy="736.0" r="5.2" fill="#990000"/><circle cx="192.8" cy="721.9" r="5.2" fill="#990000"/><circle cx="195.4" cy="739.6" r="5.2" fill="#990000"/><circle cx="197.2" cy="748.4" r="5.2" fill="#990000"/><circle cx="196.5" cy="742.6" r="5.2" fill="#990000"/><circle cx="198.2" cy="749.0" r="5.2" fill="#990000"/><circle cx="202.0" cy="736.0" r="5.2" fill="#990000"/><circle cx="205.2" cy="747.0" r="5.2" fill="#990000"/><circle cx="207.4" cy="754.6" r="5.2" fill="#990000"/><circle cx="209.6" cy="760.0" r="5.2" fill="#990000"/><circle cx="211.7" cy="764.3" r="5.2" fill="#990000"/><circle cx="215.0" cy="769.8" r="5.2" fill="#990000"/><circle cx="218.3" cy="776.3" r="5.2" fill="#990000"/><circle cx="220.4" cy="790.4" r="5.2" fill="#990000"/><circle cx="224.8" cy="790.4" r="5.2" fill="#990000"/><circle cx="225.9" cy="781.7" r="5.2" fill="#990000"/><circle cx="228.0" cy="790.4" r="5.2" fill="#990000"/><circle cx="230.8" cy="776.8" r="5.2" fill="#990000"/><circle cx="233.5" cy="742.6" r="5.2" fill="#990000"/><circle cx="236.7" cy="754.6" r="5.2" fill="#990000"/><circle cx="241.1" cy="749.1" r="5.2" fill="#990000"/><circle cx="244.3" cy="742.6" r="5.2" fill="#990000"/><circle cx="248.7" cy="744.8" r="5.2" fill="#990000"/><circle cx="250.9" cy="754.6" r="5.2" fill="#990000"/><circle cx="255.2" cy="767.6" r="5.2" fill="#990000"/><circle cx="259.0" cy="740.4" r="5.2" fill="#990000"/><circle cx="261.7" cy="757.8" r="5.2" fill="#990000"/><circle cx="266.1" cy="760.0" r="5.2" fill="#990000"/><circle cx="269.3" cy="751.3" r="5.2" fill="#990000"/>
<path d="M271.5 645.6V689.6M267.5 645.6h8.0M267.5 689.6h8.0M270.8 645.4V689.4M266.8 645.4h8.0M266.8 689.4h8.0M273.7 646.4V690.4M269.7 646.4h8.0M269.7 690.4h8.0M276.4 607.0V656.2M272.4 607.0h8.0M272.4 656.2h8.0M277.9 649.8V693.4M273.9 649.8h8.0M273.9 693.4h8.0M281.1 652.1V695.3M277.1 652.1h8.0M277.1 695.3h8.0M284.2 655.4V698.2M280.2 655.4h8.0M280.2 698.2h8.0M286.3 681.3V720.7M282.3 681.3h8.0M282.3 720.7h8.0M289.5 678.0V717.8M285.5 678.0h8.0M285.5 717.8h8.0M291.6 636.4V681.6M287.6 636.4h8.0M287.6 681.6h8.0M293.7 629.5V675.7M289.7 629.5h8.0M289.7 675.7h8.0M296.8 657.8V700.2M292.8 657.8h8.0M292.8 700.2h8.0M298.9 619.5V666.9M294.9 619.5h8.0M294.9 666.9h8.0M301.7 574.4V627.8M297.7 574.4h8.0M297.7 627.8h8.0M304.2 671.2V712.0M300.2 671.2h8.0M300.2 712.0h8.0M306.7 840.2V858.8M302.7 840.2h8.0M302.7 858.8h8.0M309.5 751.2V781.4M305.5 751.2h8.0M305.5 781.4h8.0M311.6 765.8V794.2M307.6 765.8h8.0M307.6 794.2h8.0M314.3 783.8V809.8M310.3 783.8h8.0M310.3 809.8h8.0M316.8 803.0V826.4M312.8 803.0h8.0M312.8 826.4h8.0M319.4 663.9V731.9M315.4 663.9h8.0M315.4 731.9h8.0M321.7 574.4V627.8M317.7 574.4h8.0M317.7 627.8h8.0M324.2 643.1V687.5M320.2 643.1h8.0M320.2 687.5h8.0M327.0 707.3V743.3M323.0 707.3h8.0M323.0 743.3h8.0M329.5 727.5V760.9M325.5 727.5h8.0M325.5 760.9h8.0M331.6 772.6V800.0M327.6 772.6h8.0M327.6 800.0h8.0M334.7 766.9V795.1M330.7 766.9h8.0M330.7 795.1h8.0M336.8 760.2V789.2M332.8 760.2h8.0M332.8 789.2h8.0M338.9 717.4V752.0M334.9 717.4h8.0M334.9 752.0h8.0M342.1 715.1V750.1M338.1 715.1h8.0M338.1 750.1h8.0M345.3 708.4V744.2M341.3 708.4h8.0M341.3 744.2h8.0M348.4 692.7V730.5M344.4 692.7h8.0M344.4 730.5h8.0M350.5 697.1V734.5M346.5 697.1h8.0M346.5 734.5h8.0M351.5 691.3V729.3M347.5 691.3h8.0M347.5 729.3h8.0M353.0 700.0V737.0M349.0 700.0h8.0M349.0 737.0h8.0M352.6 700.6V737.4M348.6 700.6h8.0M348.6 737.4h8.0M354.9 659.3V701.5M350.9 659.3h8.0M350.9 701.5h8.0M356.8 744.4V775.6M352.8 744.4h8.0M352.8 775.6h8.0M357.2 772.8V800.2M353.2 772.8h8.0M353.2 800.2h8.0M359.7 744.8V775.8M355.7 744.8h8.0M355.7 775.8h8.0M362.0 750.4V780.8M358.0 750.4h8.0M358.0 780.8h8.0M365.0 744.0V775.2M361.0 744.0h8.0M361.0 775.2h8.0M367.2 802.3V825.9M363.2 802.3h8.0M363.2 825.9h8.0M369.4 736.8V769.0M365.4 736.8h8.0M365.4 769.0h8.0M372.4 803.2V826.6M368.4 803.2h8.0M368.4 826.6h8.0M374.7 764.8V793.2M370.7 764.8h8.0M370.7 793.2h8.0M376.9 734.4V766.8M372.9 734.4h8.0M372.9 766.8h8.0M379.9 740.8V772.4M375.9 740.8h8.0M375.9 772.4h8.0M382.1 803.2V826.6M378.1 803.2h8.0M378.1 826.6h8.0M385.9 803.2V826.6M381.9 803.2h8.0M381.9 826.6h8.0M389.6 818.4V839.8M385.6 818.4h8.0M385.6 839.8h8.0M392.6 758.4V787.6M388.6 758.4h8.0M388.6 787.6h8.0M394.8 751.2V781.4M390.8 751.2h8.0M390.8 781.4h8.0M397.8 792.0V816.8M393.8 792.0h8.0M393.8 816.8h8.0M400.1 765.6V794.0M396.1 765.6h8.0M396.1 794.0h8.0M402.3 698.4V735.6M398.3 698.4h8.0M398.3 735.6h8.0M405.0 700.8V737.6M401.0 700.8h8.0M401.0 737.6h8.0M407.5 731.2V764.0M403.5 731.2h8.0M403.5 764.0h8.0M410.5 744.0V775.2M406.5 744.0h8.0M406.5 775.2h8.0M412.8 728.0V761.2M408.8 728.0h8.0M408.8 761.2h8.0M415.8 733.6V766.2M411.8 733.6h8.0M411.8 766.2h8.0M418.0 713.6V748.8M414.0 713.6h8.0M414.0 748.8h8.0M421.7 726.4V759.8M417.7 726.4h8.0M417.7 759.8h8.0M424.7 724.8V758.4M420.7 724.8h8.0M420.7 758.4h8.0M427.7 748.0V778.6M423.7 748.0h8.0M423.7 778.6h8.0M430.7 734.4V766.8M426.7 734.4h8.0M426.7 766.8h8.0M433.0 708.8V744.6M429.0 708.8h8.0M429.0 744.6h8.0M435.2 738.3V770.3M431.2 738.3h8.0M431.2 770.3h8.0M438.2 724.0V757.8M434.2 724.0h8.0M434.2 757.8h8.0M440.4 793.6V818.2M436.4 793.6h8.0M436.4 818.2h8.0M444.2 800.0V823.8M440.2 800.0h8.0M440.2 823.8h8.0M445.7 808.0V830.8M441.7 808.0h8.0M441.7 830.8h8.0M448.7 694.4V732.0M444.7 694.4h8.0M444.7 732.0h8.0M451.5 694.3V731.9M447.5 694.3h8.0M447.5 731.9h8.0M455.9 697.0V734.4M451.9 697.0h8.0M451.9 734.4h8.0M458.6 716.9V751.7M454.6 716.9h8.0M454.6 751.7h8.0M460.8 736.4V806.4M456.8 736.4h8.0M456.8 806.4h8.0M463.9 750.0V780.4M459.9 750.0h8.0M459.9 780.4h8.0M466.5 728.3V761.5M462.5 728.3h8.0M462.5 761.5h8.0M468.3 743.4V774.6M464.3 743.4h8.0M464.3 774.6h8.0M470.9 737.7V769.7M466.9 737.7h8.0M466.9 769.7h8.0M475.3 737.7V769.7M471.3 737.7h8.0M471.3 769.7h8.0M480.6 735.8V768.0M476.6 735.8h8.0M476.6 768.0h8.0M483.3 720.7V754.9M479.3 720.7h8.0M479.3 754.9h8.0M487.7 720.7V754.9M483.7 720.7h8.0M483.7 754.9h8.0M490.4 707.4V743.4M486.4 707.4h8.0M486.4 743.4h8.0M493.0 709.3V745.1M489.0 709.3h8.0M489.0 745.1h8.0M498.3 713.1V748.3M494.3 713.1h8.0M494.3 748.3h8.0M502.7 727.3V760.7M498.7 727.3h8.0M498.7 760.7h8.0M505.4 709.3V745.1M501.4 709.3h8.0M501.4 745.1h8.0M510.7 707.4V743.4M506.7 707.4h8.0M506.7 743.4h8.0M511.6 734.0V766.4M507.6 734.0h8.0M507.6 766.4h8.0M516.0 710.3V745.9M512.0 710.3h8.0M512.0 745.9h8.0M518.6 730.1V763.1M514.6 730.1h8.0M514.6 763.1h8.0M522.2 774.6V801.8M518.2 774.6h8.0M518.2 801.8h8.0M526.6 715.0V750.0M522.6 715.0h8.0M522.6 750.0h8.0M531.9 715.0V750.0M527.9 715.0h8.0M527.9 750.0h8.0M536.3 715.0V750.0M532.3 715.0h8.0M532.3 750.0h8.0M538.9 701.7V738.5M534.9 701.7h8.0M534.9 738.5h8.0M532.7 715.3V750.3M528.7 715.3h8.0M528.7 750.3h8.0M538.0 715.3V750.3M534.0 715.3h8.0M534.0 750.3h8.0M542.4 701.2V738.0M538.4 701.2h8.0M538.4 738.0h8.0M546.4 596.2V646.8M542.4 596.2h8.0M542.4 646.8h8.0M548.6 690.8V729.0M544.6 690.8h8.0M544.6 729.0h8.0M553.0 693.6V731.4M549.0 693.6h8.0M549.0 731.4h8.0M556.5 682.3V721.5M552.5 682.3h8.0M552.5 721.5h8.0M558.3 711.6V747.0M554.3 711.6h8.0M554.3 747.0h8.0M561.8 742.7V774.1M557.8 742.7h8.0M557.8 774.1h8.0M565.3 765.4V793.8M561.3 765.4h8.0M561.3 793.8h8.0M567.1 743.7V774.9M563.1 743.7h8.0M563.1 774.9h8.0M573.3 718.2V752.8M569.3 718.2h8.0M569.3 752.8h8.0M575.9 740.9V772.5M571.9 740.9h8.0M571.9 772.5h8.0M579.5 714.4V749.4M575.5 714.4h8.0M575.5 749.4h8.0M582.1 739.0V770.8M578.1 739.0h8.0M578.1 770.8h8.0M583.9 699.3V736.3M579.9 699.3h8.0M579.9 736.3h8.0M587.4 720.0V754.4M583.4 720.0h8.0M583.4 754.4h8.0M591.0 725.7V759.3M587.0 725.7h8.0M587.0 759.3h8.0M594.5 729.6V762.6M590.5 729.6h8.0M590.5 762.6h8.0M597.1 754.1V783.9M593.1 754.1h8.0M593.1 783.9h8.0M600.7 713.5V748.7M596.7 713.5h8.0M596.7 748.7h8.0M604.2 756.0V785.6M600.2 756.0h8.0M600.2 785.6h8.0M607.7 739.0V770.8M603.7 739.0h8.0M603.7 770.8h8.0M609.5 774.9V802.1M605.5 774.9h8.0M605.5 802.1h8.0M612.2 745.6V776.6M608.2 745.6h8.0M608.2 776.6h8.0M614.8 769.3V797.1M610.8 769.3h8.0M610.8 797.1h8.0M619.2 769.3V797.1M615.2 769.3h8.0M615.2 797.1h8.0M623.6 769.3V797.1M619.6 769.3h8.0M619.6 797.1h8.0M628.1 740.9V772.5M624.1 740.9h8.0M624.1 772.5h8.0M628.9 769.3V797.1M624.9 769.3h8.0M624.9 797.1h8.0M623.0 766.4V794.6M619.0 766.4h8.0M619.0 794.6h8.0M626.7 771.2V798.8M622.7 771.2h8.0M622.7 798.8h8.0M629.7 740.8V772.4M625.7 740.8h8.0M625.7 772.4h8.0M632.0 774.4V801.6M628.0 774.4h8.0M628.0 801.6h8.0M635.0 784.0V810.0M631.0 784.0h8.0M631.0 810.0h8.0M637.9 755.1V784.9M633.9 755.1h8.0M633.9 784.9h8.0M641.7 766.4V794.6M637.7 766.4h8.0M637.7 794.6h8.0M643.2 748.7V779.3M639.2 748.7h8.0M639.2 779.3h8.0M646.9 790.3V815.5M642.9 790.3h8.0M642.9 815.5h8.0M649.1 744.0V775.2M645.1 744.0h8.0M645.1 775.2h8.0M652.1 750.4V780.8M648.1 750.4h8.0M648.1 780.8h8.0M655.1 720.8V755.0M651.1 720.8h8.0M651.1 755.0h8.0M657.4 732.8V765.4M653.4 732.8h8.0M653.4 765.4h8.0M660.4 734.4V766.8M656.4 734.4h8.0M656.4 766.8h8.0M664.1 734.4V766.8M660.1 734.4h8.0M660.1 766.8h8.0M667.8 734.4V766.8M663.8 734.4h8.0M663.8 766.8h8.0M671.6 739.2V771.0M667.6 739.2h8.0M667.6 771.0h8.0M675.3 747.2V778.0M671.3 747.2h8.0M671.3 778.0h8.0M679.0 752.0V782.2M675.0 752.0h8.0M675.0 782.2h8.0M681.3 740.8V772.4M677.3 740.8h8.0M677.3 772.4h8.0M685.0 747.2V778.0M681.0 747.2h8.0M681.0 778.0h8.0M687.3 726.4V759.8M683.3 726.4h8.0M683.3 759.8h8.0M690.3 697.6V734.8M686.3 697.6h8.0M686.3 734.8h8.0M692.5 707.2V743.2M688.5 707.2h8.0M688.5 743.2h8.0M696.2 732.8V765.4M692.2 732.8h8.0M692.2 765.4h8.0M697.7 712.0V747.4M693.7 712.0h8.0M693.7 747.4h8.0M701.5 739.2V771.0M697.5 739.2h8.0M697.5 771.0h8.0M705.2 716.0V750.8M701.2 716.0h8.0M701.2 750.8h8.0M706.7 745.6V776.6M702.7 745.6h8.0M702.7 776.6h8.0M710.4 747.2V778.0M706.4 747.2h8.0M706.4 778.0h8.0M714.2 748.7V779.3M710.2 748.7h8.0M710.2 779.3h8.0M717.9 785.5V811.3M713.9 785.5h8.0M713.9 811.3h8.0M718.7 747.2V778.0M714.7 747.2h8.0M714.7 778.0h8.0M723.1 747.2V778.0M719.1 747.2h8.0M719.1 778.0h8.0M727.6 742.4V773.8M723.6 742.4h8.0M723.6 773.8h8.0M730.6 745.6V776.6M726.6 745.6h8.0M726.6 776.6h8.0M656.0 729.5V762.5M652.0 729.5h8.0M652.0 762.5h8.0M660.0 735.9V768.1M656.0 735.9h8.0M656.0 768.1h8.0M664.0 742.3V773.7M660.0 742.3h8.0M660.0 773.7h8.0M668.0 731.6V764.4M664.0 731.6h8.0M664.0 764.4h8.0M672.0 744.4V775.6M668.0 744.4h8.0M668.0 775.6h8.0M676.0 733.7V766.3M672.0 733.7h8.0M672.0 766.3h8.0M653.0 720.9V755.1M649.0 720.9h8.0M649.0 755.1h8.0M688.0 727.3V760.7M684.0 727.3h8.0M684.0 760.7h8.0M692.0 733.7V766.3M688.0 733.7h8.0M688.0 766.3h8.0" stroke="#0000FF" stroke-width="1.0" fill="none"/>
<rect x="266.7" y="662.8" width="9.6" height="9.6" fill="#0000FF"/><rect x="266.0" y="662.6" width="9.6" height="9.6" fill="#0000FF"/><rect x="268.9" y="663.6" width="9.6" height="9.6" fill="#0000FF"/><rect x="271.6" y="626.8" width="9.6" height="9.6" fill="#0000FF"/><rect x="273.1" y="666.8" width="9.6" height="9.6" fill="#0000FF"/><rect x="276.3" y="668.9" width="9.6" height="9.6" fill="#0000FF"/><rect x="279.4" y="672.0" width="9.6" height="9.6" fill="#0000FF"/><rect x="281.5" y="696.2" width="9.6" height="9.6" fill="#0000FF"/><rect x="284.7" y="693.1" width="9.6" height="9.6" fill="#0000FF"/><rect x="286.8" y="654.2" width="9.6" height="9.6" fill="#0000FF"/><rect x="288.9" y="647.8" width="9.6" height="9.6" fill="#0000FF"/><rect x="292.0" y="674.2" width="9.6" height="9.6" fill="#0000FF"/><rect x="294.1" y="638.4" width="9.6" height="9.6" fill="#0000FF"/><rect x="296.9" y="596.3" width="9.6" height="9.6" fill="#0000FF"/><rect x="299.4" y="686.8" width="9.6" height="9.6" fill="#0000FF"/><rect x="301.9" y="844.7" width="9.6" height="9.6" fill="#0000FF"/><rect x="304.7" y="761.5" width="9.6" height="9.6" fill="#0000FF"/><rect x="306.8" y="775.2" width="9.6" height="9.6" fill="#0000FF"/><rect x="309.5" y="792.0" width="9.6" height="9.6" fill="#0000FF"/><rect x="312.0" y="809.9" width="9.6" height="9.6" fill="#0000FF"/><rect x="314.6" y="693.1" width="9.6" height="9.6" fill="#0000FF"/><rect x="316.9" y="596.3" width="9.6" height="9.6" fill="#0000FF"/><rect x="319.4" y="660.5" width="9.6" height="9.6" fill="#0000FF"/><rect x="322.2" y="720.5" width="9.6" height="9.6" fill="#0000FF"/><rect x="324.7" y="739.4" width="9.6" height="9.6" fill="#0000FF"/><rect x="326.8" y="781.5" width="9.6" height="9.6" fill="#0000FF"/><rect x="329.9" y="776.2" width="9.6" height="9.6" fill="#0000FF"/><rect x="332.0" y="769.9" width="9.6" height="9.6" fill="#0000FF"/><rect x="334.1" y="729.9" width="9.6" height="9.6" fill="#0000FF"/><rect x="337.3" y="727.8" width="9.6" height="9.6" fill="#0000FF"/><rect x="340.5" y="721.5" width="9.6" height="9.6" fill="#0000FF"/><rect x="343.6" y="706.8" width="9.6" height="9.6" fill="#0000FF"/><rect x="345.7" y="711.0" width="9.6" height="9.6" fill="#0000FF"/><rect x="346.7" y="705.5" width="9.6" height="9.6" fill="#0000FF"/><rect x="348.2" y="713.7" width="9.6" height="9.6" fill="#0000FF"/><rect x="347.8" y="714.2" width="9.6" height="9.6" fill="#0000FF"/><rect x="350.1" y="675.6" width="9.6" height="9.6" fill="#0000FF"/><rect x="352.0" y="755.2" width="9.6" height="9.6" fill="#0000FF"/><rect x="352.4" y="781.7" width="9.6" height="9.6" fill="#0000FF"/><rect x="354.9" y="755.5" width="9.6" height="9.6" fill="#0000FF"/><rect x="357.2" y="760.8" width="9.6" height="9.6" fill="#0000FF"/><rect x="360.2" y="754.8" width="9.6" height="9.6" fill="#0000FF"/><rect x="362.4" y="809.3" width="9.6" height="9.6" fill="#0000FF"/><rect x="364.6" y="748.1" width="9.6" height="9.6" fill="#0000FF"/><rect x="367.6" y="810.1" width="9.6" height="9.6" fill="#0000FF"/><rect x="369.9" y="774.2" width="9.6" height="9.6" fill="#0000FF"/><rect x="372.1" y="745.8" width="9.6" height="9.6" fill="#0000FF"/><rect x="375.1" y="751.8" width="9.6" height="9.6" fill="#0000FF"/><rect x="377.3" y="810.1" width="9.6" height="9.6" fill="#0000FF"/><rect x="381.1" y="810.1" width="9.6" height="9.6" fill="#0000FF"/><rect x="384.8" y="824.3" width="9.6" height="9.6" fill="#0000FF"/><rect x="387.8" y="768.2" width="9.6" height="9.6" fill="#0000FF"/><rect x="390.0" y="761.5" width="9.6" height="9.6" fill="#0000FF"/><rect x="393.0" y="799.6" width="9.6" height="9.6" fill="#0000FF"/><rect x="395.3" y="775.0" width="9.6" height="9.6" fill="#0000FF"/><rect x="397.5" y="712.2" width="9.6" height="9.6" fill="#0000FF"/><rect x="400.2" y="714.4" width="9.6" height="9.6" fill="#0000FF"/><rect x="402.7" y="742.8" width="9.6" height="9.6" fill="#0000FF"/><rect x="405.7" y="754.8" width="9.6" height="9.6" fill="#0000FF"/><rect x="408.0" y="739.8" width="9.6" height="9.6" fill="#0000FF"/><rect x="411.0" y="745.1" width="9.6" height="9.6" fill="#0000FF"/><rect x="413.2" y="726.4" width="9.6" height="9.6" fill="#0000FF"/><rect x="416.9" y="738.3" width="9.6" height="9.6" fill="#0000FF"/><rect x="419.9" y="736.8" width="9.6" height="9.6" fill="#0000FF"/><rect x="422.9" y="758.5" width="9.6" height="9.6" fill="#0000FF"/><rect x="425.9" y="745.8" width="9.6" height="9.6" fill="#0000FF"/><rect x="428.2" y="721.9" width="9.6" height="9.6" fill="#0000FF"/><rect x="430.4" y="749.5" width="9.6" height="9.6" fill="#0000FF"/><rect x="433.4" y="736.1" width="9.6" height="9.6" fill="#0000FF"/><rect x="435.6" y="801.1" width="9.6" height="9.6" fill="#0000FF"/><rect x="439.4" y="807.1" width="9.6" height="9.6" fill="#0000FF"/><rect x="440.9" y="814.6" width="9.6" height="9.6" fill="#0000FF"/><rect x="443.9" y="708.4" width="9.6" height="9.6" fill="#0000FF"/><rect x="446.7" y="708.3" width="9.6" height="9.6" fill="#0000FF"/><rect x="451.1" y="710.9" width="9.6" height="9.6" fill="#0000FF"/><rect x="453.8" y="729.5" width="9.6" height="9.6" fill="#0000FF"/><rect x="456.0" y="766.6" width="9.6" height="9.6" fill="#0000FF"/><rect x="459.1" y="760.4" width="9.6" height="9.6" fill="#0000FF"/><rect x="461.7" y="740.1" width="9.6" height="9.6" fill="#0000FF"/><rect x="463.5" y="754.2" width="9.6" height="9.6" fill="#0000FF"/><rect x="466.1" y="748.9" width="9.6" height="9.6" fill="#0000FF"/><rect x="470.5" y="748.9" width="9.6" height="9.6" fill="#0000FF"/><rect x="475.8" y="747.1" width="9.6" height="9.6" fill="#0000FF"/><rect x="478.5" y="733.0" width="9.6" height="9.6" fill="#0000FF"/><rect x="482.9" y="733.0" width="9.6" height="9.6" fill="#0000FF"/><rect x="485.6" y="720.6" width="9.6" height="9.6" fill="#0000FF"/><rect x="488.2" y="722.4" width="9.6" height="9.6" fill="#0000FF"/><rect x="493.5" y="725.9" width="9.6" height="9.6" fill="#0000FF"/><rect x="497.9" y="739.2" width="9.6" height="9.6" fill="#0000FF"/><rect x="500.6" y="722.4" width="9.6" height="9.6" fill="#0000FF"/><rect x="505.9" y="720.6" width="9.6" height="9.6" fill="#0000FF"/><rect x="506.8" y="745.4" width="9.6" height="9.6" fill="#0000FF"/><rect x="511.2" y="723.3" width="9.6" height="9.6" fill="#0000FF"/><rect x="513.8" y="741.8" width="9.6" height="9.6" fill="#0000FF"/><rect x="517.4" y="783.4" width="9.6" height="9.6" fill="#0000FF"/><rect x="521.8" y="727.7" width="9.6" height="9.6" fill="#0000FF"/><rect x="527.1" y="727.7" width="9.6" height="9.6" fill="#0000FF"/><rect x="531.5" y="727.7" width="9.6" height="9.6" fill="#0000FF"/><rect x="534.1" y="715.3" width="9.6" height="9.6" fill="#0000FF"/><rect x="527.9" y="728.0" width="9.6" height="9.6" fill="#0000FF"/><rect x="533.2" y="728.0" width="9.6" height="9.6" fill="#0000FF"/><rect x="537.6" y="714.8" width="9.6" height="9.6" fill="#0000FF"/><rect x="541.6" y="616.7" width="9.6" height="9.6" fill="#0000FF"/><rect x="543.8" y="705.1" width="9.6" height="9.6" fill="#0000FF"/><rect x="548.2" y="707.7" width="9.6" height="9.6" fill="#0000FF"/><rect x="551.7" y="697.1" width="9.6" height="9.6" fill="#0000FF"/><rect x="553.5" y="724.5" width="9.6" height="9.6" fill="#0000FF"/><rect x="557.0" y="753.6" width="9.6" height="9.6" fill="#0000FF"/><rect x="560.5" y="774.8" width="9.6" height="9.6" fill="#0000FF"/><rect x="562.3" y="754.5" width="9.6" height="9.6" fill="#0000FF"/><rect x="568.5" y="730.7" width="9.6" height="9.6" fill="#0000FF"/><rect x="571.1" y="751.9" width="9.6" height="9.6" fill="#0000FF"/><rect x="574.7" y="727.1" width="9.6" height="9.6" fill="#0000FF"/><rect x="577.3" y="750.1" width="9.6" height="9.6" fill="#0000FF"/><rect x="579.1" y="713.0" width="9.6" height="9.6" fill="#0000FF"/><rect x="582.6" y="732.4" width="9.6" height="9.6" fill="#0000FF"/><rect x="586.2" y="737.7" width="9.6" height="9.6" fill="#0000FF"/><rect x="589.7" y="741.3" width="9.6" height="9.6" fill="#0000FF"/><rect x="592.3" y="764.2" width="9.6" height="9.6" fill="#0000FF"/><rect x="595.9" y="726.3" width="9.6" height="9.6" fill="#0000FF"/><rect x="599.4" y="766.0" width="9.6" height="9.6" fill="#0000FF"/><rect x="602.9" y="750.1" width="9.6" height="9.6" fill="#0000FF"/><rect x="604.7" y="783.7" width="9.6" height="9.6" fill="#0000FF"/><rect x="607.4" y="756.3" width="9.6" height="9.6" fill="#0000FF"/><rect x="610.0" y="778.4" width="9.6" height="9.6" fill="#0000FF"/><rect x="614.4" y="778.4" width="9.6" height="9.6" fill="#0000FF"/><rect x="618.8" y="778.4" width="9.6" height="9.6" fill="#0000FF"/><rect x="623.3" y="751.9" width="9.6" height="9.6" fill="#0000FF"/><rect x="624.1" y="778.4" width="9.6" height="9.6" fill="#0000FF"/><rect x="618.2" y="775.7" width="9.6" height="9.6" fill="#0000FF"/><rect x="621.9" y="780.2" width="9.6" height="9.6" fill="#0000FF"/><rect x="624.9" y="751.8" width="9.6" height="9.6" fill="#0000FF"/><rect x="627.2" y="783.2" width="9.6" height="9.6" fill="#0000FF"/><rect x="630.2" y="792.2" width="9.6" height="9.6" fill="#0000FF"/><rect x="633.1" y="765.2" width="9.6" height="9.6" fill="#0000FF"/><rect x="636.9" y="775.7" width="9.6" height="9.6" fill="#0000FF"/><rect x="638.4" y="759.2" width="9.6" height="9.6" fill="#0000FF"/><rect x="642.1" y="798.1" width="9.6" height="9.6" fill="#0000FF"/><rect x="644.3" y="754.8" width="9.6" height="9.6" fill="#0000FF"/><rect x="647.3" y="760.8" width="9.6" height="9.6" fill="#0000FF"/><rect x="650.3" y="733.1" width="9.6" height="9.6" fill="#0000FF"/><rect x="652.6" y="744.3" width="9.6" height="9.6" fill="#0000FF"/><rect x="655.6" y="745.8" width="9.6" height="9.6" fill="#0000FF"/><rect x="659.3" y="745.8" width="9.6" height="9.6" fill="#0000FF"/><rect x="663.0" y="745.8" width="9.6" height="9.6" fill="#0000FF"/><rect x="666.8" y="750.3" width="9.6" height="9.6" fill="#0000FF"/><rect x="670.5" y="757.8" width="9.6" height="9.6" fill="#0000FF"/><rect x="674.2" y="762.3" width="9.6" height="9.6" fill="#0000FF"/><rect x="676.5" y="751.8" width="9.6" height="9.6" fill="#0000FF"/><rect x="680.2" y="757.8" width="9.6" height="9.6" fill="#0000FF"/><rect x="682.5" y="738.3" width="9.6" height="9.6" fill="#0000FF"/><rect x="685.5" y="711.4" width="9.6" height="9.6" fill="#0000FF"/><rect x="687.7" y="720.4" width="9.6" height="9.6" fill="#0000FF"/><rect x="691.4" y="744.3" width="9.6" height="9.6" fill="#0000FF"/><rect x="692.9" y="724.9" width="9.6" height="9.6" fill="#0000FF"/><rect x="696.7" y="750.3" width="9.6" height="9.6" fill="#0000FF"/><rect x="700.4" y="728.6" width="9.6" height="9.6" fill="#0000FF"/><rect x="701.9" y="756.3" width="9.6" height="9.6" fill="#0000FF"/><rect x="705.6" y="757.8" width="9.6" height="9.6" fill="#0000FF"/><rect x="709.4" y="759.2" width="9.6" height="9.6" fill="#0000FF"/><rect x="713.1" y="793.6" width="9.6" height="9.6" fill="#0000FF"/><rect x="713.9" y="757.8" width="9.6" height="9.6" fill="#0000FF"/><rect x="718.3" y="757.8" width="9.6" height="9.6" fill="#0000FF"/><rect x="722.8" y="753.3" width="9.6" height="9.6" fill="#0000FF"/><rect x="725.8" y="756.3" width="9.6" height="9.6" fill="#0000FF"/><rect x="651.2" y="741.2" width="9.6" height="9.6" fill="#0000FF"/><rect x="655.2" y="747.2" width="9.6" height="9.6" fill="#0000FF"/><rect x="659.2" y="753.2" width="9.6" height="9.6" fill="#0000FF"/><rect x="663.2" y="743.2" width="9.6" height="9.6" fill="#0000FF"/><rect x="667.2" y="755.2" width="9.6" height="9.6" fill="#0000FF"/><rect x="671.2" y="745.2" width="9.6" height="9.6" fill="#0000FF"/><rect x="648.2" y="733.2" width="9.6" height="9.6" fill="#0000FF"/><rect x="683.2" y="739.2" width="9.6" height="9.6" fill="#0000FF"/><rect x="687.2" y="745.2" width="9.6" height="9.6" fill="#0000FF"/>
</g>
<path d="M888.4 682.1V722.6M884.4 682.1h8.0M884.4 722.6h8.0M930.5 669.5V712.5M926.5 669.5h8.0M926.5 712.5h8.0M972.6 701.5V740.3M968.6 701.5h8.0M968.6 740.3h8.0M1014.6 738.2V773.2M1010.6 738.2h8.0M1010.6 773.2h8.0M1056.7 728.9V765.6M1052.7 728.9h8.0M1052.7 765.6h8.0M1098.8 734.0V769.0M1094.8 734.0h8.0M1094.8 769.0h8.0M1140.9 715.4V752.5M1136.9 715.4h8.0M1136.9 752.5h8.0M1183.0 756.7V789.2M1179.0 756.7h8.0M1179.0 789.2h8.0M1225.1 722.6V759.7M1221.1 722.6h8.0M1221.1 759.7h8.0M1267.2 701.5V740.3M1263.2 701.5h8.0M1263.2 740.3h8.0M1309.3 727.2V763.9M1305.3 727.2h8.0M1305.3 763.9h8.0M1351.3 740.3V775.3M1347.3 740.3h8.0M1347.3 775.3h8.0M1393.4 737.3V772.3M1389.4 737.3h8.0M1389.4 772.3h8.0M1435.5 759.7V792.5M1431.5 759.7h8.0M1431.5 792.5h8.0" stroke="#990000" stroke-width="1.0" fill="none"/>
<circle cx="888.4" cy="702.4" r="5.2" fill="#990000"/><circle cx="930.5" cy="691.0" r="5.2" fill="#990000"/><circle cx="972.6" cy="720.9" r="5.2" fill="#990000"/><circle cx="1014.6" cy="755.7" r="5.2" fill="#990000"/><circle cx="1056.7" cy="747.2" r="5.2" fill="#990000"/><circle cx="1098.8" cy="751.5" r="5.2" fill="#990000"/><circle cx="1140.9" cy="734.0" r="5.2" fill="#990000"/><circle cx="1183.0" cy="773.0" r="5.2" fill="#990000"/><circle cx="1225.1" cy="741.1" r="5.2" fill="#990000"/><circle cx="1267.2" cy="720.9" r="5.2" fill="#990000"/><circle cx="1309.3" cy="745.6" r="5.2" fill="#990000"/><circle cx="1351.3" cy="757.8" r="5.2" fill="#990000"/><circle cx="1393.4" cy="754.8" r="5.2" fill="#990000"/><circle cx="1435.5" cy="776.1" r="5.2" fill="#990000"/>
<path d="M852.6 1272.4V1311.8M848.6 1272.4h8.0M848.6 1311.8h8.0M858.9 1264.5V1305.4M854.9 1264.5h8.0M854.9 1305.4h8.0M865.2 1219.3V1261.9M861.2 1219.3h8.0M861.2 1261.9h8.0M871.6 1227.6V1270.0M867.6 1227.6h8.0M867.6 1270.0h8.0M877.9 1244.6V1285.6M873.9 1244.6h8.0M873.9 1285.6h8.0M884.2 1247.2V1288.2M880.2 1247.2h8.0M880.2 1288.2h8.0M890.5 1227.4V1270.2M886.5 1227.4h8.0M886.5 1270.2h8.0M896.8 1216.1V1258.7M892.8 1216.1h8.0M892.8 1258.7h8.0M903.1 1219.3V1261.9M899.1 1219.3h8.0M899.1 1261.9h8.0M909.4 1229.7V1272.4M905.4 1229.7h8.0M905.4 1272.4h8.0M915.7 1236.5V1279.2M911.7 1236.5h8.0M911.7 1279.2h8.0M922.1 1217.5V1260.2M918.1 1217.5h8.0M918.1 1260.2h8.0M928.4 1198.8V1242.9M924.4 1198.8h8.0M924.4 1242.9h8.0M934.7 1188.1V1234.2M930.7 1188.1h8.0M930.7 1234.2h8.0M941.0 1172.5V1218.4M937.0 1172.5h8.0M937.0 1218.4h8.0M947.3 1166.8V1212.9M943.3 1166.8h8.0M943.3 1212.9h8.0M953.6 1252.1V1293.3M949.6 1252.1h8.0M949.6 1293.3h8.0M959.9 1207.7V1252.1M955.9 1207.7h8.0M955.9 1252.1h8.0M966.2 1131.6V1180.6M962.2 1131.6h8.0M962.2 1180.6h8.0M972.6 1233.5V1275.8M968.6 1233.5h8.0M968.6 1275.8h8.0M978.9 1249.8V1290.7M974.9 1249.8h8.0M974.9 1290.7h8.0M985.2 1187.5V1233.3M981.2 1187.5h8.0M981.2 1233.3h8.0M991.5 1166.8V1212.9M987.5 1166.8h8.0M987.5 1212.9h8.0M997.8 1247.2V1288.2M993.8 1247.2h8.0M993.8 1288.2h8.0M1004.1 1239.7V1282.4M1000.1 1239.7h8.0M1000.1 1282.4h8.0M1010.4 1278.3V1317.8M1006.4 1278.3h8.0M1006.4 1317.8h8.0M1016.8 1247.2V1288.2M1012.8 1247.2h8.0M1012.8 1288.2h8.0M1023.1 1274.5V1310.3M1019.1 1274.5h8.0M1019.1 1310.3h8.0M1029.4 1249.8V1287.5M1025.4 1249.8h8.0M1025.4 1287.5h8.0M1035.7 1252.1V1288.2M1031.7 1252.1h8.0M1031.7 1288.2h8.0M1042.0 1171.7V1212.6M1038.0 1171.7h8.0M1038.0 1212.6h8.0M1048.3 1237.6V1276.6M1044.3 1237.6h8.0M1044.3 1276.6h8.0M1054.6 1228.4V1267.9M1050.6 1228.4h8.0M1050.6 1267.9h8.0M1060.9 1188.7V1228.4M1056.9 1188.7h8.0M1056.9 1228.4h8.0M1067.3 1228.4V1267.9M1063.3 1228.4h8.0M1063.3 1267.9h8.0M1073.6 1253.0V1290.7M1069.6 1253.0h8.0M1069.6 1290.7h8.0M1079.9 1215.2V1256.4M1075.9 1215.2h8.0M1075.9 1256.4h8.0M1086.2 1249.8V1287.5M1082.2 1249.8h8.0M1082.2 1287.5h8.0M1092.5 1279.6V1315.5M1088.5 1279.6h8.0M1088.5 1315.5h8.0M1098.8 1238.2V1277.5M1094.8 1238.2h8.0M1094.8 1277.5h8.0M1105.1 1223.5V1261.1M1101.1 1223.5h8.0M1101.1 1261.1h8.0M1111.4 1200.3V1240.2M1107.4 1200.3h8.0M1107.4 1240.2h8.0M1117.8 1226.7V1266.0M1113.8 1226.7h8.0M1113.8 1266.0h8.0M1124.1 1163.6V1204.5M1120.1 1163.6h8.0M1120.1 1204.5h8.0M1130.4 1241.4V1280.9M1126.4 1241.4h8.0M1126.4 1280.9h8.0M1136.7 1209.2V1248.7M1132.7 1209.2h8.0M1132.7 1248.7h8.0M1143.0 1260.2V1296.3M1139.0 1260.2h8.0M1139.0 1296.3h8.0M1149.3 1204.5V1243.7M1145.3 1204.5h8.0M1145.3 1243.7h8.0M1155.6 1266.9V1303.0M1151.6 1266.9h8.0M1151.6 1303.0h8.0M1161.9 1233.7V1270.9M1157.9 1233.7h8.0M1157.9 1270.9h8.0M1168.3 1213.8V1252.7M1164.3 1213.8h8.0M1164.3 1252.7h8.0M1174.6 1263.6V1301.2M1170.6 1263.6h8.0M1170.6 1301.2h8.0M1180.9 1168.6V1209.4M1176.9 1168.6h8.0M1176.9 1209.4h8.0M1187.2 1216.7V1258.1M1183.2 1216.7h8.0M1183.2 1258.1h8.0M1193.5 1206.3V1247.0M1189.5 1206.3h8.0M1189.5 1247.0h8.0M1199.8 1207.8V1248.8M1195.8 1207.8h8.0M1195.8 1248.8h8.0M1206.1 1204.5V1247.0M1202.1 1204.5h8.0M1202.1 1247.0h8.0M1212.5 1202.7V1245.4M1208.5 1202.7h8.0M1208.5 1245.4h8.0M1218.8 1181.5V1226.0M1214.8 1181.5h8.0M1214.8 1226.0h8.0M1225.1 1238.8V1278.2M1221.1 1238.8h8.0M1221.1 1278.2h8.0M1231.4 1228.2V1269.8M1227.4 1228.2h8.0M1227.4 1269.8h8.0M1237.7 1230.6V1271.8M1233.7 1230.6h8.0M1233.7 1271.8h8.0M1244.0 1189.9V1238.6M1240.0 1189.9h8.0M1240.0 1238.6h8.0M1250.3 1213.8V1254.3M1246.3 1213.8h8.0M1246.3 1254.3h8.0M1256.6 1206.7V1247.7M1252.6 1206.7h8.0M1252.6 1247.7h8.0M1263.0 1224.2V1263.6M1259.0 1224.2h8.0M1259.0 1263.6h8.0M1269.3 1255.4V1288.2M1265.3 1255.4h8.0M1265.3 1288.2h8.0M1275.6 1243.7V1283.3M1271.6 1243.7h8.0M1271.6 1283.3h8.0M1281.9 1234.2V1273.6M1277.9 1234.2h8.0M1277.9 1273.6h8.0M1288.2 1293.5V1329.3M1284.2 1293.5h8.0M1284.2 1329.3h8.0M1294.5 1222.4V1260.3M1290.5 1222.4h8.0M1290.5 1260.3h8.0" stroke="#000000" stroke-width="1.0" fill="none"/>
<path d="M852.6 1285.7L858.8 1296.1L846.4 1296.1Z" fill="#000000"/><path d="M858.9 1278.5L865.1 1288.9L852.7 1288.9Z" fill="#000000"/><path d="M865.2 1234.1L871.4 1244.5L859.0 1244.5Z" fill="#000000"/><path d="M871.6 1242.4L877.8 1252.8L865.4 1252.8Z" fill="#000000"/><path d="M877.9 1258.7L884.1 1269.1L871.7 1269.1Z" fill="#000000"/><path d="M884.2 1261.2L890.4 1271.6L878.0 1271.6Z" fill="#000000"/><path d="M890.5 1242.4L896.7 1252.8L884.3 1252.8Z" fill="#000000"/><path d="M896.8 1230.9L903.0 1241.3L890.6 1241.3Z" fill="#000000"/><path d="M903.1 1234.1L909.3 1244.5L896.9 1244.5Z" fill="#000000"/><path d="M909.4 1244.6L915.6 1255.0L903.2 1255.0Z" fill="#000000"/><path d="M915.7 1251.4L921.9 1261.8L909.5 1261.8Z" fill="#000000"/><path d="M922.1 1232.4L928.3 1242.8L915.9 1242.8Z" fill="#000000"/><path d="M928.4 1214.4L934.6 1224.8L922.2 1224.8Z" fill="#000000"/><path d="M934.7 1204.7L940.9 1215.1L928.5 1215.1Z" fill="#000000"/><path d="M941.0 1189.0L947.2 1199.4L934.8 1199.4Z" fill="#000000"/><path d="M947.3 1183.4L953.5 1193.8L941.1 1193.8Z" fill="#000000"/><path d="M953.6 1266.2L959.8 1276.6L947.4 1276.6Z" fill="#000000"/><path d="M959.9 1223.5L966.1 1233.9L953.7 1233.9Z" fill="#000000"/><path d="M966.2 1149.7L972.4 1160.1L960.0 1160.1Z" fill="#000000"/><path d="M972.6 1248.2L978.8 1258.6L966.4 1258.6Z" fill="#000000"/><path d="M978.9 1263.8L985.1 1274.2L972.7 1274.2Z" fill="#000000"/><path d="M985.2 1204.0L991.4 1214.4L979.0 1214.4Z" fill="#000000"/><path d="M991.5 1183.4L997.7 1193.8L985.3 1193.8Z" fill="#000000"/><path d="M997.8 1261.2L1004.0 1271.6L991.6 1271.6Z" fill="#000000"/><path d="M1004.1 1254.6L1010.3 1265.0L997.9 1265.0Z" fill="#000000"/><path d="M1010.4 1291.6L1016.6 1302.0L1004.2 1302.0Z" fill="#000000"/><path d="M1016.8 1261.2L1023.0 1271.6L1010.6 1271.6Z" fill="#000000"/><path d="M1023.1 1286.0L1029.3 1296.4L1016.9 1296.4Z" fill="#000000"/><path d="M1029.4 1262.2L1035.6 1272.6L1023.2 1272.6Z" fill="#000000"/><path d="M1035.7 1263.7L1041.9 1274.1L1029.5 1274.1Z" fill="#000000"/><path d="M1042.0 1185.7L1048.2 1196.1L1035.8 1196.1Z" fill="#000000"/><path d="M1048.3 1250.7L1054.5 1261.1L1042.1 1261.1Z" fill="#000000"/><path d="M1054.6 1241.7L1060.8 1252.1L1048.4 1252.1Z" fill="#000000"/><path d="M1060.9 1202.1L1067.1 1212.5L1054.7 1212.5Z" fill="#000000"/><path d="M1067.3 1241.7L1073.5 1252.1L1061.1 1252.1Z" fill="#000000"/><path d="M1073.6 1265.4L1079.8 1275.8L1067.4 1275.8Z" fill="#000000"/><path d="M1079.9 1229.3L1086.1 1239.7L1073.7 1239.7Z" fill="#000000"/><path d="M1086.2 1262.2L1092.4 1272.6L1080.0 1272.6Z" fill="#000000"/><path d="M1092.5 1291.1L1098.7 1301.5L1086.3 1301.5Z" fill="#000000"/><path d="M1098.8 1251.4L1105.0 1261.8L1092.6 1261.8Z" fill="#000000"/><path d="M1105.1 1235.8L1111.3 1246.2L1098.9 1246.2Z" fill="#000000"/><path d="M1111.4 1213.8L1117.6 1224.2L1105.2 1224.2Z" fill="#000000"/><path d="M1117.8 1239.9L1124.0 1250.3L1111.6 1250.3Z" fill="#000000"/><path d="M1124.1 1177.6L1130.3 1188.0L1117.9 1188.0Z" fill="#000000"/><path d="M1130.4 1254.7L1136.6 1265.1L1124.2 1265.1Z" fill="#000000"/><path d="M1136.7 1222.5L1142.9 1232.9L1130.5 1232.9Z" fill="#000000"/><path d="M1143.0 1271.8L1149.2 1282.2L1136.8 1282.2Z" fill="#000000"/><path d="M1149.3 1217.6L1155.5 1228.0L1143.1 1228.0Z" fill="#000000"/><path d="M1155.6 1278.5L1161.8 1288.9L1149.4 1288.9Z" fill="#000000"/><path d="M1161.9 1245.9L1168.1 1256.3L1155.7 1256.3Z" fill="#000000"/><path d="M1168.3 1226.8L1174.5 1237.2L1162.1 1237.2Z" fill="#000000"/><path d="M1174.6 1276.0L1180.8 1286.4L1168.4 1286.4Z" fill="#000000"/><path d="M1180.9 1182.6L1187.1 1193.0L1174.7 1193.0Z" fill="#000000"/><path d="M1187.2 1230.9L1193.4 1241.3L1181.0 1241.3Z" fill="#000000"/><path d="M1193.5 1220.2L1199.7 1230.6L1187.3 1230.6Z" fill="#000000"/><path d="M1199.8 1221.8L1206.0 1232.2L1193.6 1232.2Z" fill="#000000"/><path d="M1206.1 1219.3L1212.3 1229.7L1199.9 1229.7Z" fill="#000000"/><path d="M1212.5 1217.6L1218.7 1228.0L1206.3 1228.0Z" fill="#000000"/><path d="M1218.8 1197.3L1225.0 1207.7L1212.6 1207.7Z" fill="#000000"/><path d="M1225.1 1252.1L1231.3 1262.5L1218.9 1262.5Z" fill="#000000"/><path d="M1231.4 1242.5L1237.6 1252.9L1225.2 1252.9Z" fill="#000000"/><path d="M1237.7 1244.7L1243.9 1255.1L1231.5 1255.1Z" fill="#000000"/><path d="M1244.0 1207.8L1250.2 1218.2L1237.8 1218.2Z" fill="#000000"/><path d="M1250.3 1227.6L1256.5 1238.0L1244.1 1238.0Z" fill="#000000"/><path d="M1256.6 1220.7L1262.8 1231.1L1250.4 1231.1Z" fill="#000000"/><path d="M1263.0 1237.4L1269.2 1247.8L1256.8 1247.8Z" fill="#000000"/><path d="M1269.3 1265.3L1275.5 1275.7L1263.1 1275.7Z" fill="#000000"/><path d="M1275.6 1257.0L1281.8 1267.4L1269.4 1267.4Z" fill="#000000"/><path d="M1281.9 1247.4L1288.1 1257.8L1275.7 1257.8Z" fill="#000000"/><path d="M1288.2 1305.0L1294.4 1315.4L1282.0 1315.4Z" fill="#000000"/><path d="M1294.5 1234.9L1300.7 1245.3L1288.3 1245.3Z" fill="#000000"/>
<path d="M1300.8 1203.4V1236.6M1296.8 1203.4h8.0M1296.8 1236.6h8.0M1307.1 1152.3V1189.7M1303.1 1152.3h8.0M1303.1 1189.7h8.0M1313.5 1194.5V1232.4M1309.5 1194.5h8.0M1309.5 1232.4h8.0M1319.8 1267.8V1299.0M1315.8 1267.8h8.0M1315.8 1299.0h8.0M1326.1 1147.4V1210.2M1322.1 1147.4h8.0M1322.1 1210.2h8.0M1332.4 1169.5V1226.6M1328.4 1169.5h8.0M1328.4 1226.6h8.0M1338.7 1074.8V1150.0M1334.7 1074.8h8.0M1334.7 1150.0h8.0M1345.0 1121.7V1189.0M1341.0 1121.7h8.0M1341.0 1189.0h8.0M1351.3 1158.0V1216.7M1347.3 1158.0h8.0M1347.3 1216.7h8.0M1357.7 1131.5V1196.7M1353.7 1131.5h8.0M1353.7 1196.7h8.0M1364.0 1166.0V1225.1M1360.0 1166.0h8.0M1360.0 1225.1h8.0M1370.3 1166.0V1223.3M1366.3 1166.0h8.0M1366.3 1223.3h8.0M1376.6 1146.5V1208.5M1372.6 1146.5h8.0M1372.6 1208.5h8.0M1382.9 1175.3V1232.4M1378.9 1175.3h8.0M1378.9 1232.4h8.0M1389.2 1079.4V1152.3M1385.2 1079.4h8.0M1385.2 1152.3h8.0M1395.5 1079.4V1152.3M1391.5 1079.4h8.0M1391.5 1152.3h8.0M1401.8 1064.2V1139.6M1397.8 1064.2h8.0M1397.8 1139.6h8.0M1408.2 1084.1V1156.2M1404.2 1084.1h8.0M1404.2 1156.2h8.0M1414.5 1103.3V1172.4M1410.5 1103.3h8.0M1410.5 1172.4h8.0M1420.8 1107.5V1175.3M1416.8 1107.5h8.0M1416.8 1175.3h8.0M1427.1 1126.4V1190.5M1423.1 1126.4h8.0M1423.1 1190.5h8.0M1433.4 1173.3V1226.0M1429.4 1173.3h8.0M1429.4 1226.0h8.0M1439.7 1132.3V1188.3M1435.7 1132.3h8.0M1435.7 1188.3h8.0M1446.0 1115.7V1177.9M1442.0 1115.7h8.0M1442.0 1177.9h8.0M1452.3 1146.5V1202.1M1448.3 1146.5h8.0M1448.3 1202.1h8.0M1458.7 1163.3V1216.0M1454.7 1163.3h8.0M1454.7 1216.0h8.0M1465.0 1150.9V1212.0M1461.0 1150.9h8.0M1461.0 1212.0h8.0M1471.3 1156.2V1216.7M1467.3 1156.2h8.0M1467.3 1216.7h8.0" stroke="#990000" stroke-width="1.0" fill="none"/>
<circle cx="1300.8" cy="1220.0" r="5.2" fill="#990000"/><circle cx="1307.1" cy="1171.0" r="5.2" fill="#990000"/><circle cx="1313.5" cy="1213.5" r="5.2" fill="#990000"/><circle cx="1319.8" cy="1283.4" r="5.2" fill="#990000"/><circle cx="1326.1" cy="1178.8" r="5.2" fill="#990000"/><circle cx="1332.4" cy="1198.1" r="5.2" fill="#990000"/><circle cx="1338.7" cy="1112.4" r="5.2" fill="#990000"/><circle cx="1345.0" cy="1155.4" r="5.2" fill="#990000"/><circle cx="1351.3" cy="1187.3" r="5.2" fill="#990000"/><circle cx="1357.7" cy="1164.1" r="5.2" fill="#990000"/><circle cx="1364.0" cy="1195.5" r="5.2" fill="#990000"/><circle cx="1370.3" cy="1194.6" r="5.2" fill="#990000"/><circle cx="1376.6" cy="1177.5" r="5.2" fill="#990000"/><circle cx="1382.9" cy="1203.8" r="5.2" fill="#990000"/><circle cx="1389.2" cy="1115.8" r="5.2" fill="#990000"/><circle cx="1395.5" cy="1115.8" r="5.2" fill="#990000"/><circle cx="1401.8" cy="1101.9" r="5.2" fill="#990000"/><circle cx="1408.2" cy="1120.2" r="5.2" fill="#990000"/><circle cx="1414.5" cy="1137.9" r="5.2" fill="#990000"/><circle cx="1420.8" cy="1141.4" r="5.2" fill="#990000"/><circle cx="1427.1" cy="1158.5" r="5.2" fill="#990000"/><circle cx="1433.4" cy="1199.6" r="5.2" fill="#990000"/><circle cx="1439.7" cy="1160.3" r="5.2" fill="#990000"/><circle cx="1446.0" cy="1146.8" r="5.2" fill="#990000"/><circle cx="1452.3" cy="1174.3" r="5.2" fill="#990000"/><circle cx="1458.7" cy="1189.7" r="5.2" fill="#990000"/><circle cx="1465.0" cy="1181.5" r="5.2" fill="#990000"/><circle cx="1471.3" cy="1186.5" r="5.2" fill="#990000"/>
<path d="M105.4 14.0H735.8V424.7H105.4Z" fill="none" stroke="#000" stroke-width="2"/>
<path d="M93.4 424.7H105.4" stroke="#000" stroke-width="2"/>
<text x="87.2" y="433.3" font-size="27.3" text-anchor="end" >2</text>
<path d="M99.4 373.4H105.4" stroke="#000" stroke-width="2"/>
<path d="M93.4 322.0H105.4" stroke="#000" stroke-width="2"/>
<text x="87.2" y="330.6" font-size="27.3" text-anchor="end" >3</text>
<path d="M99.4 270.7H105.4" stroke="#000" stroke-width="2"/>
<path d="M93.4 219.3H105.4" stroke="#000" stroke-width="2"/>
<text x="87.2" y="227.9" font-size="27.3" text-anchor="end" >4</text>
<path d="M99.4 168.0H105.4" stroke="#000" stroke-width="2"/>
<path d="M93.4 116.7H105.4" stroke="#000" stroke-width="2"/>
<text x="87.2" y="125.3" font-size="27.3" text-anchor="end" >5</text>
<path d="M99.4 65.3H105.4" stroke="#000" stroke-width="2"/>
<path d="M93.4 14.0H105.4" stroke="#000" stroke-width="2"/>
<text x="87.2" y="22.6" font-size="27.3" text-anchor="end" >6</text>
<path d="M105.4 424.7V436.7" stroke="#000" stroke-width="2"/>
<text x="105.4" y="463.3" font-size="27.3" text-anchor="middle" >0</text>
<path d="M153.9 424.7V430.7" stroke="#000" stroke-width="2"/>
<path d="M202.4 424.7V436.7" stroke="#000" stroke-width="2"/>
<text x="202.4" y="463.3" font-size="27.3" text-anchor="middle" >100</text>
<path d="M250.9 424.7V430.7" stroke="#000" stroke-width="2"/>
<path d="M299.4 424.7V436.7" stroke="#000" stroke-width="2"/>
<text x="299.4" y="463.3" font-size="27.3" text-anchor="middle" >200</text>
<path d="M347.9 424.7V430.7" stroke="#000" stroke-width="2"/>
<path d="M396.4 424.7V436.7" stroke="#000" stroke-width="2"/>
<text x="396.4" y="463.3" font-size="27.3" text-anchor="middle" >300</text>
<path d="M444.8 424.7V430.7" stroke="#000" stroke-width="2"/>
<path d="M493.3 424.7V436.7" stroke="#000" stroke-width="2"/>
<text x="493.3" y="463.3" font-size="27.3" text-anchor="middle" >400</text>
<path d="M541.8 424.7V430.7" stroke="#000" stroke-width="2"/>
<path d="M590.3 424.7V436.7" stroke="#000" stroke-width="2"/>
<text x="590.3" y="463.3" font-size="27.3" text-anchor="middle" >500</text>
<path d="M638.8 424.7V430.7" stroke="#000" stroke-width="2"/>
<path d="M687.3 424.7V436.7" stroke="#000" stroke-width="2"/>
<text x="687.3" y="463.3" font-size="27.3" text-anchor="middle" >600</text>
<path d="M735.8 424.7V430.7" stroke="#000" stroke-width="2"/>
<text x="420.6" y="492.2" font-size="27.3" text-anchor="middle" >Number</text>
<text transform="translate(21.1 222.7) rotate(-90)" font-size="27.3" text-anchor="middle">Dose rate of 63-90 μm</text>
<text transform="translate(59.1 219.7) rotate(-90)" font-size="27.3" text-anchor="middle">quartz (Gy ka<tspan font-size="18" dy="-13.5">-1</tspan><tspan dy="13.5" dx="2.5">)</tspan></text>
<text x="31.8" y="27.2" font-size="32" text-anchor="start" >a</text>
<path d="M105.4 503.5H735.8V913.7H105.4Z" fill="none" stroke="#000" stroke-width="2"/>
<path d="M93.4 913.7H105.4" stroke="#000" stroke-width="2"/>
<text x="87.2" y="922.3" font-size="27.3" text-anchor="end" >1</text>
<path d="M99.4 879.5H105.4" stroke="#000" stroke-width="2"/>
<path d="M93.4 845.3H105.4" stroke="#000" stroke-width="2"/>
<text x="87.2" y="853.9" font-size="27.3" text-anchor="end" >2</text>
<path d="M99.4 811.2H105.4" stroke="#000" stroke-width="2"/>
<path d="M93.4 777.0H105.4" stroke="#000" stroke-width="2"/>
<text x="87.2" y="785.6" font-size="27.3" text-anchor="end" >3</text>
<path d="M99.4 742.8H105.4" stroke="#000" stroke-width="2"/>
<path d="M93.4 708.6H105.4" stroke="#000" stroke-width="2"/>
<text x="87.2" y="717.2" font-size="27.3" text-anchor="end" >4</text>
<path d="M99.4 674.4H105.4" stroke="#000" stroke-width="2"/>
<path d="M93.4 640.2H105.4" stroke="#000" stroke-width="2"/>
<text x="87.2" y="648.8" font-size="27.3" text-anchor="end" >5</text>
<path d="M99.4 606.0H105.4" stroke="#000" stroke-width="2"/>
<path d="M93.4 571.9H105.4" stroke="#000" stroke-width="2"/>
<text x="87.2" y="580.5" font-size="27.3" text-anchor="end" >6</text>
<path d="M99.4 537.7H105.4" stroke="#000" stroke-width="2"/>
<path d="M93.4 503.5H105.4" stroke="#000" stroke-width="2"/>
<text x="87.2" y="512.1" font-size="27.3" text-anchor="end" >7</text>
<path d="M105.4 913.7V925.7" stroke="#000" stroke-width="2"/>
<text x="105.4" y="952.3" font-size="27.3" text-anchor="middle" >0</text>
<path d="M168.4 913.7V919.7" stroke="#000" stroke-width="2"/>
<path d="M231.5 913.7V925.7" stroke="#000" stroke-width="2"/>
<text x="231.5" y="952.3" font-size="27.3" text-anchor="middle" >50</text>
<path d="M294.5 913.7V919.7" stroke="#000" stroke-width="2"/>
<path d="M357.6 913.7V925.7" stroke="#000" stroke-width="2"/>
<text x="357.6" y="952.3" font-size="27.3" text-anchor="middle" >100</text>
<path d="M420.6 913.7V919.7" stroke="#000" stroke-width="2"/>
<path d="M483.6 913.7V925.7" stroke="#000" stroke-width="2"/>
<text x="483.6" y="952.3" font-size="27.3" text-anchor="middle" >150</text>
<path d="M546.7 913.7V919.7" stroke="#000" stroke-width="2"/>
<path d="M609.7 913.7V925.7" stroke="#000" stroke-width="2"/>
<text x="609.7" y="952.3" font-size="27.3" text-anchor="middle" >200</text>
<path d="M672.8 913.7V919.7" stroke="#000" stroke-width="2"/>
<path d="M735.8 913.7V925.7" stroke="#000" stroke-width="2"/>
<text x="735.8" y="952.3" font-size="27.3" text-anchor="middle" >250</text>
<text x="420.6" y="981.2" font-size="27.3" text-anchor="middle" >Number</text>
<text transform="translate(21.1 711.9) rotate(-90)" font-size="27.3" text-anchor="middle">Dose rate of 38-63 μm</text>
<text transform="translate(59.1 708.9) rotate(-90)" font-size="27.3" text-anchor="middle">quartz (Gy ka<tspan font-size="18" dy="-13.5">-1</tspan><tspan dy="13.5" dx="2.5">)</tspan></text>
<text x="31.9" y="519.6" font-size="32" text-anchor="start" >b</text>
<path d="M105.4 992.7H735.8V1403.0H105.4Z" fill="none" stroke="#000" stroke-width="2"/>
<path d="M93.4 1403.0H105.4" stroke="#000" stroke-width="2"/>
<text x="87.2" y="1411.6" font-size="27.3" text-anchor="end" >2</text>
<path d="M99.4 1351.7H105.4" stroke="#000" stroke-width="2"/>
<path d="M93.4 1300.4H105.4" stroke="#000" stroke-width="2"/>
<text x="87.2" y="1309.0" font-size="27.3" text-anchor="end" >3</text>
<path d="M99.4 1249.1H105.4" stroke="#000" stroke-width="2"/>
<path d="M93.4 1197.8H105.4" stroke="#000" stroke-width="2"/>
<text x="87.2" y="1206.4" font-size="27.3" text-anchor="end" >4</text>
<path d="M99.4 1146.6H105.4" stroke="#000" stroke-width="2"/>
<path d="M93.4 1095.3H105.4" stroke="#000" stroke-width="2"/>
<text x="87.2" y="1103.9" font-size="27.3" text-anchor="end" >5</text>
<path d="M99.4 1044.0H105.4" stroke="#000" stroke-width="2"/>
<path d="M93.4 992.7H105.4" stroke="#000" stroke-width="2"/>
<text x="87.2" y="1001.3" font-size="27.3" text-anchor="end" >6</text>
<path d="M105.4 1403.0V1415.0" stroke="#000" stroke-width="2"/>
<text x="105.4" y="1441.6" font-size="27.3" text-anchor="middle" >0</text>
<path d="M144.8 1403.0V1409.0" stroke="#000" stroke-width="2"/>
<path d="M184.2 1403.0V1415.0" stroke="#000" stroke-width="2"/>
<text x="184.2" y="1441.6" font-size="27.3" text-anchor="middle" >50</text>
<path d="M223.6 1403.0V1409.0" stroke="#000" stroke-width="2"/>
<path d="M263.0 1403.0V1415.0" stroke="#000" stroke-width="2"/>
<text x="263.0" y="1441.6" font-size="27.3" text-anchor="middle" >100</text>
<path d="M302.4 1403.0V1409.0" stroke="#000" stroke-width="2"/>
<path d="M341.8 1403.0V1415.0" stroke="#000" stroke-width="2"/>
<text x="341.8" y="1441.6" font-size="27.3" text-anchor="middle" >150</text>
<path d="M381.2 1403.0V1409.0" stroke="#000" stroke-width="2"/>
<path d="M420.6 1403.0V1415.0" stroke="#000" stroke-width="2"/>
<text x="420.6" y="1441.6" font-size="27.3" text-anchor="middle" >200</text>
<path d="M460.0 1403.0V1409.0" stroke="#000" stroke-width="2"/>
<path d="M499.4 1403.0V1415.0" stroke="#000" stroke-width="2"/>
<text x="499.4" y="1441.6" font-size="27.3" text-anchor="middle" >250</text>
<path d="M538.8 1403.0V1409.0" stroke="#000" stroke-width="2"/>
<path d="M578.2 1403.0V1415.0" stroke="#000" stroke-width="2"/>
<text x="578.2" y="1441.6" font-size="27.3" text-anchor="middle" >300</text>
<path d="M617.6 1403.0V1409.0" stroke="#000" stroke-width="2"/>
<path d="M657.0 1403.0V1415.0" stroke="#000" stroke-width="2"/>
<text x="657.0" y="1441.6" font-size="27.3" text-anchor="middle" >350</text>
<path d="M696.4 1403.0V1409.0" stroke="#000" stroke-width="2"/>
<path d="M735.8 1403.0V1415.0" stroke="#000" stroke-width="2"/>
<text x="735.8" y="1441.6" font-size="27.3" text-anchor="middle" >400</text>
<text x="420.6" y="1470.5" font-size="27.3" text-anchor="middle" >Number</text>
<text transform="translate(21.1 1201.1) rotate(-90)" font-size="27.3" text-anchor="middle">Dose rate of 4-11 μm</text>
<text transform="translate(59.1 1198.1) rotate(-90)" font-size="27.3" text-anchor="middle">quartz (Gy ka<tspan font-size="18" dy="-13.5">-1</tspan><tspan dy="13.5" dx="2.5">)</tspan></text>
<text x="32.0" y="1005.6" font-size="32" text-anchor="start" >c</text>
<path d="M846.3 14.0H1477.6V424.7H846.3Z" fill="none" stroke="#000" stroke-width="2"/>
<path d="M834.3 424.7H846.3" stroke="#000" stroke-width="2"/>
<text x="828.1" y="433.3" font-size="27.3" text-anchor="end" >2</text>
<path d="M840.3 383.6H846.3" stroke="#000" stroke-width="2"/>
<path d="M834.3 342.6H846.3" stroke="#000" stroke-width="2"/>
<text x="828.1" y="351.2" font-size="27.3" text-anchor="end" >3</text>
<path d="M840.3 301.5H846.3" stroke="#000" stroke-width="2"/>
<path d="M834.3 260.4H846.3" stroke="#000" stroke-width="2"/>
<text x="828.1" y="269.0" font-size="27.3" text-anchor="end" >4</text>
<path d="M840.3 219.3H846.3" stroke="#000" stroke-width="2"/>
<path d="M834.3 178.3H846.3" stroke="#000" stroke-width="2"/>
<text x="828.1" y="186.9" font-size="27.3" text-anchor="end" >5</text>
<path d="M840.3 137.2H846.3" stroke="#000" stroke-width="2"/>
<path d="M834.3 96.1H846.3" stroke="#000" stroke-width="2"/>
<text x="828.1" y="104.7" font-size="27.3" text-anchor="end" >6</text>
<path d="M840.3 55.1H846.3" stroke="#000" stroke-width="2"/>
<path d="M834.3 14.0H846.3" stroke="#000" stroke-width="2"/>
<text x="828.1" y="22.6" font-size="27.3" text-anchor="end" >7</text>
<path d="M846.3 424.7V436.7" stroke="#000" stroke-width="2"/>
<text x="846.3" y="463.3" font-size="27.3" text-anchor="middle" >0</text>
<path d="M894.9 424.7V430.7" stroke="#000" stroke-width="2"/>
<path d="M943.4 424.7V436.7" stroke="#000" stroke-width="2"/>
<text x="943.4" y="463.3" font-size="27.3" text-anchor="middle" >100</text>
<path d="M992.0 424.7V430.7" stroke="#000" stroke-width="2"/>
<path d="M1040.5 424.7V436.7" stroke="#000" stroke-width="2"/>
<text x="1040.5" y="463.3" font-size="27.3" text-anchor="middle" >200</text>
<path d="M1089.1 424.7V430.7" stroke="#000" stroke-width="2"/>
<path d="M1137.7 424.7V436.7" stroke="#000" stroke-width="2"/>
<text x="1137.7" y="463.3" font-size="27.3" text-anchor="middle" >300</text>
<path d="M1186.2 424.7V430.7" stroke="#000" stroke-width="2"/>
<path d="M1234.8 424.7V436.7" stroke="#000" stroke-width="2"/>
<text x="1234.8" y="463.3" font-size="27.3" text-anchor="middle" >400</text>
<path d="M1283.4 424.7V430.7" stroke="#000" stroke-width="2"/>
<path d="M1331.9 424.7V436.7" stroke="#000" stroke-width="2"/>
<text x="1331.9" y="463.3" font-size="27.3" text-anchor="middle" >500</text>
<path d="M1380.5 424.7V430.7" stroke="#000" stroke-width="2"/>
<path d="M1429.0 424.7V436.7" stroke="#000" stroke-width="2"/>
<text x="1429.0" y="463.3" font-size="27.3" text-anchor="middle" >600</text>
<path d="M1477.6 424.7V430.7" stroke="#000" stroke-width="2"/>
<text x="1161.9" y="492.2" font-size="27.3" text-anchor="middle" >Number</text>
<text transform="translate(762.0 222.7) rotate(-90)" font-size="27.3" text-anchor="middle">Dose rate of 63-90 μm</text>
<text transform="translate(800.0 219.7) rotate(-90)" font-size="27.3" text-anchor="middle">k-feldspar (Gy ka<tspan font-size="18" dy="-13.5">-1</tspan><tspan dy="13.5" dx="2.5">)</tspan></text>
<text x="776.8" y="27.3" font-size="32" text-anchor="start" >d</text>
<path d="M846.3 503.5H1477.6V913.7H846.3Z" fill="none" stroke="#000" stroke-width="2"/>
<path d="M834.3 913.7H846.3" stroke="#000" stroke-width="2"/>
<text x="828.1" y="922.3" font-size="27.3" text-anchor="end" >2</text>
<path d="M840.3 862.4H846.3" stroke="#000" stroke-width="2"/>
<path d="M834.3 811.2H846.3" stroke="#000" stroke-width="2"/>
<text x="828.1" y="819.8" font-size="27.3" text-anchor="end" >3</text>
<path d="M840.3 759.9H846.3" stroke="#000" stroke-width="2"/>
<path d="M834.3 708.6H846.3" stroke="#000" stroke-width="2"/>
<text x="828.1" y="717.2" font-size="27.3" text-anchor="end" >4</text>
<path d="M840.3 657.3H846.3" stroke="#000" stroke-width="2"/>
<path d="M834.3 606.0H846.3" stroke="#000" stroke-width="2"/>
<text x="828.1" y="614.6" font-size="27.3" text-anchor="end" >5</text>
<path d="M840.3 554.8H846.3" stroke="#000" stroke-width="2"/>
<path d="M834.3 503.5H846.3" stroke="#000" stroke-width="2"/>
<text x="828.1" y="512.1" font-size="27.3" text-anchor="end" >6</text>
<path d="M846.3 913.7V925.7" stroke="#000" stroke-width="2"/>
<text x="846.3" y="952.3" font-size="27.3" text-anchor="middle" >0</text>
<path d="M888.4 913.7V919.7" stroke="#000" stroke-width="2"/>
<path d="M930.5 913.7V925.7" stroke="#000" stroke-width="2"/>
<text x="930.5" y="952.3" font-size="27.3" text-anchor="middle" >2</text>
<path d="M972.6 913.7V919.7" stroke="#000" stroke-width="2"/>
<path d="M1014.6 913.7V925.7" stroke="#000" stroke-width="2"/>
<text x="1014.6" y="952.3" font-size="27.3" text-anchor="middle" >4</text>
<path d="M1056.7 913.7V919.7" stroke="#000" stroke-width="2"/>
<path d="M1098.8 913.7V925.7" stroke="#000" stroke-width="2"/>
<text x="1098.8" y="952.3" font-size="27.3" text-anchor="middle" >6</text>
<path d="M1140.9 913.7V919.7" stroke="#000" stroke-width="2"/>
<path d="M1183.0 913.7V925.7" stroke="#000" stroke-width="2"/>
<text x="1183.0" y="952.3" font-size="27.3" text-anchor="middle" >8</text>
<path d="M1225.1 913.7V919.7" stroke="#000" stroke-width="2"/>
<path d="M1267.2 913.7V925.7" stroke="#000" stroke-width="2"/>
<text x="1267.2" y="952.3" font-size="27.3" text-anchor="middle" >10</text>
<path d="M1309.3 913.7V919.7" stroke="#000" stroke-width="2"/>
<path d="M1351.3 913.7V925.7" stroke="#000" stroke-width="2"/>
<text x="1351.3" y="952.3" font-size="27.3" text-anchor="middle" >12</text>
<path d="M1393.4 913.7V919.7" stroke="#000" stroke-width="2"/>
<path d="M1435.5 913.7V925.7" stroke="#000" stroke-width="2"/>
<text x="1435.5" y="952.3" font-size="27.3" text-anchor="middle" >14</text>
<path d="M1477.6 913.7V919.7" stroke="#000" stroke-width="2"/>
<text x="1161.9" y="981.2" font-size="27.3" text-anchor="middle" >Number</text>
<text transform="translate(762.0 711.9) rotate(-90)" font-size="27.3" text-anchor="middle">Dose rate of 38-63 μm</text>
<text transform="translate(800.0 708.9) rotate(-90)" font-size="27.3" text-anchor="middle">k-feldspar (Gy ka<tspan font-size="18" dy="-13.5">-1</tspan><tspan dy="13.5" dx="2.5">)</tspan></text>
<text x="776.8" y="519.4" font-size="32" text-anchor="start" >e</text>
<path d="M846.3 992.7H1477.6V1403.0H846.3Z" fill="none" stroke="#000" stroke-width="2"/>
<path d="M834.3 1403.0H846.3" stroke="#000" stroke-width="2"/>
<text x="828.1" y="1411.6" font-size="27.3" text-anchor="end" >2</text>
<path d="M840.3 1362.0H846.3" stroke="#000" stroke-width="2"/>
<path d="M834.3 1320.9H846.3" stroke="#000" stroke-width="2"/>
<text x="828.1" y="1329.5" font-size="27.3" text-anchor="end" >3</text>
<path d="M840.3 1279.9H846.3" stroke="#000" stroke-width="2"/>
<path d="M834.3 1238.9H846.3" stroke="#000" stroke-width="2"/>
<text x="828.1" y="1247.5" font-size="27.3" text-anchor="end" >4</text>
<path d="M840.3 1197.8H846.3" stroke="#000" stroke-width="2"/>
<path d="M834.3 1156.8H846.3" stroke="#000" stroke-width="2"/>
<text x="828.1" y="1165.4" font-size="27.3" text-anchor="end" >5</text>
<path d="M840.3 1115.8H846.3" stroke="#000" stroke-width="2"/>
<path d="M834.3 1074.8H846.3" stroke="#000" stroke-width="2"/>
<text x="828.1" y="1083.4" font-size="27.3" text-anchor="end" >6</text>
<path d="M840.3 1033.7H846.3" stroke="#000" stroke-width="2"/>
<path d="M834.3 992.7H846.3" stroke="#000" stroke-width="2"/>
<text x="828.1" y="1001.3" font-size="27.3" text-anchor="end" >7</text>
<path d="M846.3 1403.0V1415.0" stroke="#000" stroke-width="2"/>
<text x="846.3" y="1441.6" font-size="27.3" text-anchor="middle" >0</text>
<path d="M877.9 1403.0V1409.0" stroke="#000" stroke-width="2"/>
<path d="M909.4 1403.0V1415.0" stroke="#000" stroke-width="2"/>
<text x="909.4" y="1441.6" font-size="27.3" text-anchor="middle" >10</text>
<path d="M941.0 1403.0V1409.0" stroke="#000" stroke-width="2"/>
<path d="M972.6 1403.0V1415.0" stroke="#000" stroke-width="2"/>
<text x="972.6" y="1441.6" font-size="27.3" text-anchor="middle" >20</text>
<path d="M1004.1 1403.0V1409.0" stroke="#000" stroke-width="2"/>
<path d="M1035.7 1403.0V1415.0" stroke="#000" stroke-width="2"/>
<text x="1035.7" y="1441.6" font-size="27.3" text-anchor="middle" >30</text>
<path d="M1067.3 1403.0V1409.0" stroke="#000" stroke-width="2"/>
<path d="M1098.8 1403.0V1415.0" stroke="#000" stroke-width="2"/>
<text x="1098.8" y="1441.6" font-size="27.3" text-anchor="middle" >40</text>
<path d="M1130.4 1403.0V1409.0" stroke="#000" stroke-width="2"/>
<path d="M1161.9 1403.0V1415.0" stroke="#000" stroke-width="2"/>
<text x="1161.9" y="1441.6" font-size="27.3" text-anchor="middle" >50</text>
<path d="M1193.5 1403.0V1409.0" stroke="#000" stroke-width="2"/>
<path d="M1225.1 1403.0V1415.0" stroke="#000" stroke-width="2"/>
<text x="1225.1" y="1441.6" font-size="27.3" text-anchor="middle" >60</text>
<path d="M1256.6 1403.0V1409.0" stroke="#000" stroke-width="2"/>
<path d="M1288.2 1403.0V1415.0" stroke="#000" stroke-width="2"/>
<text x="1288.2" y="1441.6" font-size="27.3" text-anchor="middle" >70</text>
<path d="M1319.8 1403.0V1409.0" stroke="#000" stroke-width="2"/>
<path d="M1351.3 1403.0V1415.0" stroke="#000" stroke-width="2"/>
<text x="1351.3" y="1441.6" font-size="27.3" text-anchor="middle" >80</text>
<path d="M1382.9 1403.0V1409.0" stroke="#000" stroke-width="2"/>
<path d="M1414.5 1403.0V1415.0" stroke="#000" stroke-width="2"/>
<text x="1414.5" y="1441.6" font-size="27.3" text-anchor="middle" >90</text>
<path d="M1446.0 1403.0V1409.0" stroke="#000" stroke-width="2"/>
<path d="M1477.6 1403.0V1415.0" stroke="#000" stroke-width="2"/>
<text x="1477.6" y="1441.6" font-size="27.3" text-anchor="middle" >100</text>
<text x="1161.9" y="1470.5" font-size="27.3" text-anchor="middle" >Number</text>
<text transform="translate(762.0 1201.1) rotate(-90)" font-size="27.3" text-anchor="middle">Dose rate of 4-11 μm</text>
<text transform="translate(800.0 1198.1) rotate(-90)" font-size="27.3" text-anchor="middle">k-feldspar(Gy ka<tspan font-size="18" dy="-13.5">-1</tspan><tspan dy="13.5" dx="2.5">)</tspan></text>
<text x="777.0" y="1006.0" font-size="32" text-anchor="start" >f</text>
<path d="M151.0 30.1L157.2 40.5L144.8 40.5Z" fill="#000000"/><text x="183.0" y="46.6" font-size="27.3" text-anchor="start" >Western Asia</text>
<circle cx="377.6" cy="37.4" r="5.2" fill="#990000"/><text x="409.5" y="46.6" font-size="27.3" text-anchor="start" >Central Asia</text>
<path d="M151.0 77.9L157.2 67.5L144.8 67.5Z" fill="#00FF00"/><text x="183.0" y="80.1" font-size="27.3" text-anchor="start" >Chinese Loess Plateau</text>
<rect x="146.2" y="100.2" width="9.6" height="9.6" fill="#0000FF"/><text x="183.0" y="113.8" font-size="27.3" text-anchor="start" >Tibetan Plateau</text>
<path d="M405.2 98.2L411.7 105.0L405.2 111.8L398.7 105.0Z" fill="#8000FF"/><text x="436.9" y="113.8" font-size="27.3" text-anchor="start" >Northeast China</text>
<path d="M151.0 133.1L146.3 136.1L146.3 141.9L151.0 144.9L155.7 141.9L155.7 136.1Z" fill="#FF8000"/><text x="183.0" y="147.4" font-size="27.3" text-anchor="start" >Shandong Peninsula</text>
<path d="M465.9 132.4L464.4 136.5L460.0 136.7L463.4 139.4L462.3 143.6L465.9 141.2L469.5 143.6L468.4 139.4L471.8 136.7L467.4 136.5Z" fill="#00FFFF"/><text x="497.6" y="147.4" font-size="27.3" text-anchor="start" >Weatern Siberia</text>
<circle cx="893.6" cy="40.4" r="5.2" fill="#990000"/><text x="925.8" y="49.5" font-size="27.3" text-anchor="start" >Central Asia</text>
<rect x="1100.2" y="35.6" width="9.6" height="9.6" fill="#0000FF"/><text x="1137.0" y="49.5" font-size="27.3" text-anchor="start" >Tibetan Plateau</text>
<path d="M893.6 67.6L900.1 74.4L893.6 81.2L887.1 74.4Z" fill="#8000FF"/><text x="925.8" y="83.0" font-size="27.3" text-anchor="start" >Northeast China</text>
<path d="M1153.6 68.5L1148.9 71.5L1148.9 77.4L1153.6 80.3L1158.3 77.4L1158.3 71.5Z" fill="#FF8000"/><text x="1185.4" y="83.0" font-size="27.3" text-anchor="start" >Shandong Peninsula</text>
<path d="M893.6 101.8L892.1 105.9L887.7 106.1L891.1 108.8L890.0 113.0L893.6 110.6L897.2 113.0L896.1 108.8L899.5 106.1L895.1 105.9Z" fill="#00FFFF"/><text x="925.8" y="116.5" font-size="27.3" text-anchor="start" >Western Siberia</text>
<circle cx="288.5" cy="529.5" r="5.2" fill="#990000"/><text x="320.1" y="539.0" font-size="27.3" text-anchor="start" >Central Asia</text>
<rect x="495.2" y="524.7" width="9.6" height="9.6" fill="#0000FF"/><text x="532.0" y="539.0" font-size="27.3" text-anchor="start" >Tibetan Plateau</text>
<circle cx="1282.7" cy="531.0" r="5.2" fill="#990000"/><text x="1314.4" y="540.0" font-size="27.3" text-anchor="start" >Central Asia</text>
<circle cx="153.4" cy="1019.0" r="5.2" fill="#990000"/><text x="185.0" y="1028.0" font-size="27.3" text-anchor="start" >Central Asia</text>
<rect x="358.8" y="1014.2" width="9.6" height="9.6" fill="#0000FF"/><text x="395.2" y="1028.0" font-size="27.3" text-anchor="start" >Tibetan Plateau</text>
<path d="M153.4 1059.9L159.6 1049.5L147.2 1049.5Z" fill="#00FF00"/><text x="185.0" y="1061.0" font-size="27.3" text-anchor="start" >Chinese Loess Plateau</text>
<path d="M153.4 1079.2L159.9 1086.0L153.4 1092.8L146.9 1086.0Z" fill="#8000FF"/><text x="185.0" y="1095.0" font-size="27.3" text-anchor="start" >Northeast China</text>
<path d="M412.0 1080.1L407.3 1083.0L407.3 1089.0L412.0 1091.9L416.7 1089.0L416.7 1083.0Z" fill="#FF8000"/><text x="444.0" y="1095.0" font-size="27.3" text-anchor="start" >Shandong Peninsula</text>
<path d="M1061.6 1015.0L1067.8 1025.4L1055.4 1025.4Z" fill="#000000"/><text x="1093.4" y="1031.0" font-size="27.3" text-anchor="start" >Western Asia</text>
<circle cx="1288.4" cy="1022.6" r="5.2" fill="#990000"/><text x="1319.6" y="1031.0" font-size="27.3" text-anchor="start" >Central Asia</text>
</svg>
</body></html>
